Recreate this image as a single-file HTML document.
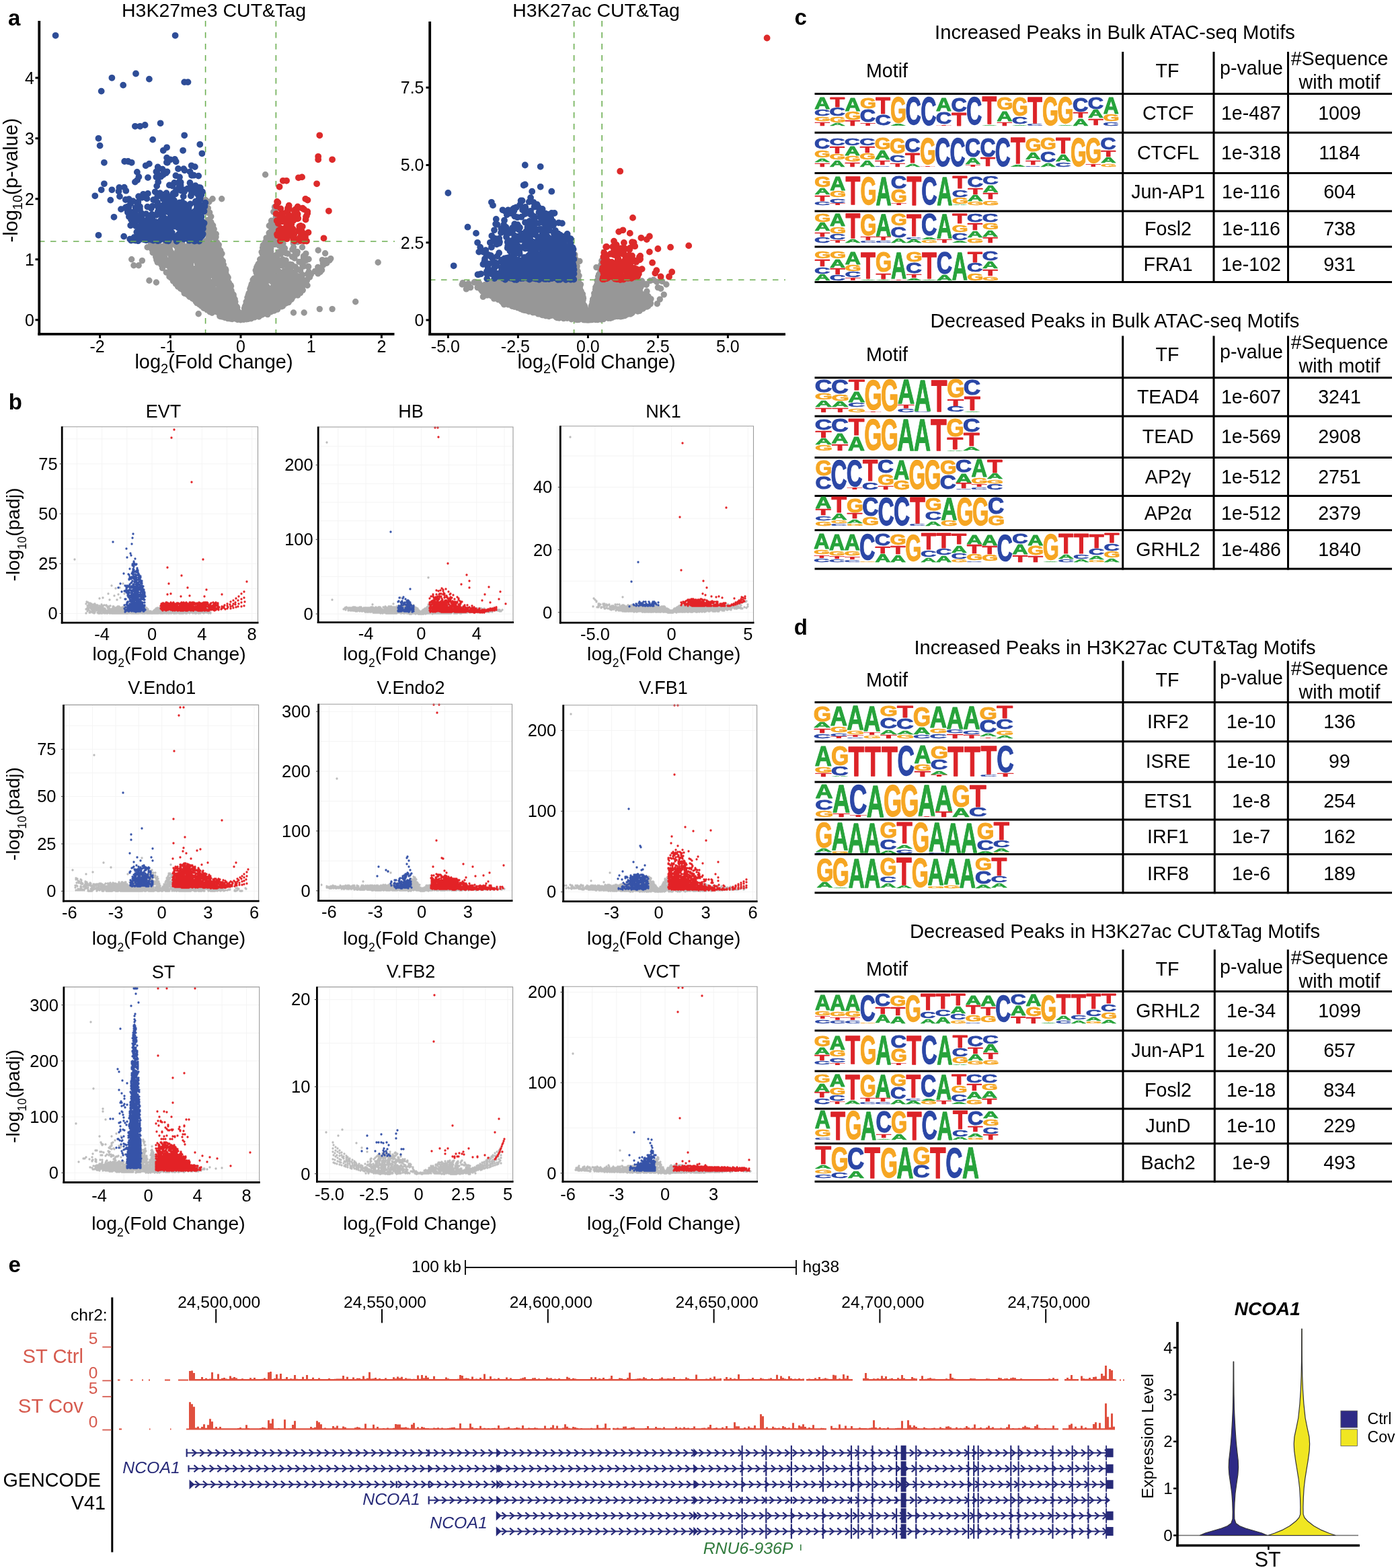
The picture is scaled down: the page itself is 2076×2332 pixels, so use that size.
<!DOCTYPE html>
<html><head><meta charset="utf-8"><title>Figure</title>
<style>html,body{margin:0;padding:0;background:#fff}svg{display:block}text{font-family:"Liberation Sans", Arial, sans-serif}</style>
</head><body>
<svg width="2076" height="2332" viewBox="0 0 2076 2332">
<rect width="2076" height="2332" fill="#fff"/>
<text x="318" y="25" font-size="28.5" text-anchor="middle">H3K27me3 CUT&amp;Tag</text>
<line x1="305.6" y1="31" x2="305.6" y2="497" stroke="#6cae52" stroke-width="1.6" stroke-dasharray="8.5 8.5"/>
<line x1="410.4" y1="31" x2="410.4" y2="497" stroke="#6cae52" stroke-width="1.6" stroke-dasharray="8.5 8.5"/>
<path d="M270.1 391.2h0m57.9 55.6h0m64.7 -27.9h0m-119.7 4.8h0m86.6 50.3h0m27.4 -21.5h0m-106.8 -50.9h0m63.1 68.9h0m-16.4 -41.5h0m82.1 -43.2h0m-44.3 76h0m-64.3 -60.3h0m99.7 -55h0m-3.4 41.4h0m-42.6 85.5h0m95.8 -78.3h0m-125 23.6h0m-45.8 -48.7h0m40.8 92.6h0m-23.4 -100.9h0m34.7 92.6h0m154.1 -67h0m-141.7 38.2h0m-47.1 6.8h0m40.3 -19.7h0m-100.2 -26.8h0m35.1 24.2h0m45.1 30.1h0m76.2 -56.9h0m-85.5 4.8h0m70.4 41.1h0m-29.5 43.7h0m5.3 -3.5h0m-58.9 -80.6h0m-9 33.9h0m-2.3 -46.7h0m89.6 95.1h0m63.1 -30.3h0m-131.1 -74.9h0m-24 56.1h0m127.9 -35.4h0m-8.3 -30.9h0m-107.1 6.1h0m58.7 94.6h0m78.7 -21.7h0m-142.6 3.9h0m36.8 -43h0m4.2 -8.9h0m-20 0.8h0m-16.8 26.3h0m15.5 0.3h0m100.2 -55.5h0m-151.7 54.6h0m-4.3 -43h0m197.5 38.6h0m-141.8 49h0m94.8 -5.7h0m-138.9 -79.1h0m67.2 79.4h0m45 -35.9h0m-14.2 54.3h0m34.7 -16.7h0m-110.5 -87.1h0m6.1 -1.2h0m98.6 68.1h0m53.3 -10.3h0m-50.3 22.7h0m-87.6 -26.4h0m108.8 -54.7h0m-138.8 71h0m136.7 19.1h0m-24.9 -9.6h0m-96.4 -22.4h0m101 -10.5h0m6 49.9h0m73.8 -57.3h0m-76.2 -48.4h0m-65.6 112.3h0m40.5 -7.7h0m-60.7 -67.8h0m-28 42.2h0m102 14.1h0m-26.9 24.7h0m3.1 -1.5h0m-45.8 -81.7h0m12.2 -18.3h0m-12 80.4h0m50.8 5.4h0m-56.8 0.2h0m26.4 -39.1h0m64.2 -8.8h0m31.9 -10.2h0m-153.4 -5.4h0m58 69.7h0m-58.7 -32.3h0m132.1 -45.1h0m-100.8 40.1h0m48.3 45.1h0m-88.3 -104.8h0m99.6 96.5h0m-86 -91.1h0m118.6 85.1h0m10.7 -26.9h0m-139.7 -29.3h0m-3.1 26.2h0m65 40.6h0m-36.8 -77.9h0m69.1 57.2h0m-42.4 3.6h0m73.2 -26.4h0m32.3 23.6h0m-130.4 -38.1h0m118.8 -33.8h0m-86.7 92.3h0m57.1 -29.5h0m69.1 -16h0m-164.2 -16.8h0m105.7 -23.3h0m-101.9 68.6h0m40 14.6h0m-28.6 -36.8h0m-4.4 -21.1h0m113.1 38.5h0m2.1 -82h0m-10.8 16.6h0m-135.7 15.2h0m124.2 2.1h0m-129.6 -1.2h0m93.1 72.5h0m-23.1 -60.9h0m44 37.9h0m-80.4 -27h0m90 -18.1h0m-129.9 -14h0m68.1 -13.5h0m25.9 98.7h0m3.4 1.3h0m102.5 -63.6h0m-65.7 54h0m14.2 -158.8h0m-36.4 155.7h0m-100.1 -39.5h0m170.5 -22.7h0m-54.8 -12.5h0m-41.5 53.6h0m23.8 25.7h0m-32 -9.9h0m46.8 7.4h0m6.4 -66.8h0m-17.1 58.4h0m105.6 -65.4h0m-183.8 60.2h0m17.9 -88.3h0m20.7 100.8h0m12.1 -25.9h0m34 16.8h0m42 -43.7h0m-55.4 38.3h0m-24.2 21.5h0m-35.4 -155.2h0m112.6 55.4h0m-28.8 83h0m-68.9 -57.4h0m107.1 33.4h0m-138.3 -10.4h0m67.7 52.4h0m-47.6 -84.1h0m-21.8 49h0m15.2 -77.1h0m3.1 94.4h0m-6.2 -75.5h0m18.7 -11.2h0m74.2 67.2h0m-17.2 -13.8h0m15.8 -32.5h0m-96.5 47.2h0m34.1 -1.1h0m-38.9 -1.5h0m76.8 33.8h0m-0.9 -2.2h0m7.5 -32.2h0m-93.8 -0.4h0m75.9 43.4h0m76.8 -104.7h0m-168.6 10.9h0m123.6 19h0m39.2 11.4h0m-129.1 -25.6h0m47.5 83.6h0m-27.5 -26.6h0m84.7 -100.2h0m-72 97.8h0m-40.7 -25.1h0m81.3 49.3h0m12 -65.6h0m-26.8 74.6h0m-55.4 -72.4h0m62.5 51.5h0m74.2 -22.2h0m-144.9 15.7h0m130.9 -42.3h0m-10.5 18.2h0m-138 -27.1h0m142.7 54.6h0m-78.7 14.8h0m-87.8 -91.9h0m77.9 56.1h0m120.2 -46.8h0m-67.2 29.6h0m33.5 7.5h0m-70.6 39.8h0m-26.1 -22.4h0m-44.2 -9.6h0m145.5 -7.1h0m-29.3 -11.7h0m-40.3 48.7h0m-4.7 -6.7h0m39.1 -53h0m21.9 43.5h0m-110.1 -20.4h0m82.7 33.8h0m-51.9 -57.1h0m-82 -29h0m121.8 105.6h0m-60.2 -44.1h0m76.1 9.4h0m-114.9 -15.9h0m54.2 -12h0m-29.8 37.8h0m-0.8 -19.8h0m51.1 44.9h0m-61.9 -38.6h0m8.3 -73.2h0m28.2 46.2h0m27.2 30.3h0m-51.7 2.3h0m105.3 2.5h0m-4.1 17.8h0m25.1 -22.3h0m26.9 -20.1h0m-186.4 -30.7h0m33.9 40.5h0m3.6 9.5h0m27 -4.6h0m38.5 40.4h0m29.2 -97.6h0m-83.7 4.5h0m38.9 80.3h0m-100.6 -89.7h0m118.2 87.5h0m-65.8 -47.9h0m101.8 -21.1h0m-123.5 35.1h0m96.2 27.5h0m-104.2 -25.6h0m162.3 -33.8h0m-99.7 19.5h0m60 -28.5h0m-76.8 66.2h0m18.7 -22.2h0m-35.2 13h0m28 -27.4h0m-66.5 1.3h0m41.9 25.3h0m-72.7 -61.1h0m31.7 -2.8h0m-10.6 29.1h0m186.9 15.1h0m-158.2 -15.3h0m32.3 -83.8h0m-21.4 62.7h0m-27.8 41.5h0m72.7 23.6h0m-107.1 -82.7h0m97.2 39.1h0m162.8 -19.4h0m-125.8 68.7h0m30.7 -21.1h0m-2.2 -56.7h0m-66.1 92.4h0m48.9 -2h0m-49.1 -34.9h0m19.9 13.5h0m-10.8 -7h0m47 -41.2h0m-47 6.7h0m-53.4 11.7h0m-19 -38.9h0m133.4 82.2h0m-73.3 -29.6h0m83.4 -21.7h0m-178.7 -45.9h0m206.2 71.3h0m-102.3 2.7h0m19.8 31.3h0m-60.6 -37.4h0m-15.4 -60.7h0m0.5 55.7h0m107.9 28.4h0m-123.9 -38.6h0m142.4 -63.5h0m-106 55.7h0m78.1 36.4h0m-46.5 -46h0m-63.3 -11.2h0m47.4 42.8h0m6.9 -8h0m14.6 10.2h0m-72.7 -30.4h0m158.3 -32.4h0m-13.5 61.5h0m-44.2 37.2h0m36.2 -0.5h0m53.4 -86.6h0m-60.3 -0.3h0m-36.8 84.1h0m-52 -53.5h0m74.3 54.9h0m14.1 -28h0m2.2 -39.6h0m-147.2 -34h0m85 106.5h0m-1.4 -6h0m35.5 -1.3h0m-13.4 -7.8h0m49.4 -66.5h0m-92.4 23.6h0m-5.4 45.1h0m39.6 6.4h0m-46.4 -87h0m25 58.5h0m79.8 -37.1h0m-120.5 40.5h0m85.6 24.6h0m63.8 -15.8h0m-40.6 -53.5h0m-87.4 50.7h0m39.3 -5.4h0m18.7 32.6h0m9.2 -24.1h0m-65 -3.5h0m97.5 14h0m-24 1.3h0m-46.9 -56.7h0m24 69.1h0m12 0.9h0m-111.6 -97.8h0m95.6 89.4h0m4.6 4.5h0m38.1 -80.5h0m-138.1 -29.5h0m68.4 93.5h0m10.9 -38.8h0m7.5 22.3h0m11.3 27.7h0m-61.5 -60.9h0m85.3 46.1h0m-88.2 -12.5h0m63.4 22.9h0m95.2 -49.1h0m-11.5 18.8h0m-105.6 0.5h0m93.5 -4.1h0m-53.3 25h0m38.1 -138.6h0m-13.8 133.1h0m-70.5 -15.3h0m55.1 24.5h0m30.6 -3.8h0m-134.6 -40h0m45.9 -24.6h0m82 -28.5h0m-100.7 11.2h0m93.3 70.6h0m-95 -75.3h0m31.3 29h0m39.8 61.7h0m-17.4 11.2h0m34 -60.8h0m-38.9 43.1h0m15.2 15.9h0m-55.4 -13.4h0m21.1 -41.6h0m81.6 38.5h0m-118 -33.2h0m44.3 22.7h0m-1.7 -10.6h0m112 -1.6h0m-168.3 10.7h0m9.4 2h0m19.8 -64.8h0m-11.5 64.2h0m21.8 -83h0m-49.3 6.8h0m-38.5 7.6h0m139.9 78h0m-105.4 -22.4h0m10.1 -45.9h0m85.3 95.2h0m-88.5 -102.1h0m24.2 54.1h0m31 -5h0m23.8 42.7h0m48.6 -23.9h0m-34.9 34.4h0m67.9 -35.3h0m-40 -78.6h0m-67.2 54.6h0m-88.4 -23.1h0m155.8 12.2h0m1.3 28h0m-133.3 -19.2h0m76 5.1h0m-31.7 -31.4h0m68.6 57.3h0m7.4 -46.3h0m-67.6 68h0m120.9 -103.5h0m-108.9 23.4h0m119.4 17h0m-115.3 28.2h0m-23.7 25.9h0m80.8 12.2h0m-60.7 -46.5h0m12 17.5h0m26.4 34.3h0m14.3 -54.1h0m35.6 24.9h0m-184.5 -70.6h0m169.7 32.7h0m-76.2 -19h0m69.8 28.4h0m39.7 -34.2h0m-129.7 -0.1h0m84 5.1h0m-11.2 66.8h0m35.3 -65.8h0m-33.7 43.5h0m33.8 19.6h0m-113.4 -23.3h0m43.3 -3.6h0m-80.9 -23.1h0m130.2 -28.8h0m9.8 87.6h0m-89.3 -28.4h0m30.2 32.5h0m-31 -0.2h0m21.5 -48.9h0m44.4 45.5h0m41.8 -65.3h0m-168.8 10.5h0m87.7 32.6h0m-15.1 -21.5h0m-44 -17.7h0m28.1 -57.4h0m75.8 105h0m-33.1 10.6h0m-4.6 -15.3h0m3.6 27h0m-42.5 -46.6h0m72 12.5h0m-138.5 -47.7h0m172.3 73.1h0m-123.3 -77.8h0m24.6 -14.4h0m164 33.6h0m-41 3.9h0m-8 11h0m-53.9 31.7h0m-27.7 -7.2h0m86.7 3.3h0m-151.4 -14.2h0m14.6 17.2h0m78.9 -7.4h0m20.2 -31.8h0m-114.3 33.4h0m1.4 -43.6h0m20.3 48.8h0m3.5 4h0m-62.4 -67.5h0m81.3 -1.7h0m42.5 70.7h0m13.1 -54.5h0m-20.5 73.4h0m-7.7 2.1h0m2.1 -0.1h0m-77.4 -38.8h0m11.4 -22.7h0m79.6 40.6h0m-59.9 -142.1h0m75 133.2h0m-147 -53.8h0m56.1 47.1h0m33 2.7h0m-100.4 -68.3h0m96.8 18.4h0m-20.3 44.8h0m110.2 -46.6h0m-155.2 30.4h0m126.8 43.6h0m29.8 -35.3h0m-143 -44.7h0m38.7 77h0m32.4 5.8h0m-69.7 -44.2h0m7.5 -11.3h0m74.3 54.6h0m-79.3 -39.9h0m27.4 11.4h0m-4.7 -10.1h0m-3.4 -41.7h0m-23.9 3.7h0m92.2 88.4h0m62.5 -87.9h0m-71.1 80.2h0m-46.4 -57h0m-26.5 13.6h0m0.2 -5.3h0m60.7 25.3h0m-39 -31.5h0m-28.5 -3.6h0m116.7 47.8h0m-77.4 -116.4h0m-30.4 55.6h0m64.9 50.8h0m-56.6 -62.9h0m-1.1 60.5h0m4.2 5.9h0m26.9 -0.6h0m58.9 -1h0m-1.9 14.7h0m-12.9 3.9h0m19.2 3.5h0m-129.9 -59.1h0m117.5 30.5h0m-62.8 -87.8h0m19.2 94.3h0m65 13h0m-110 -44.6h0m110 -23.5h0m-17.9 65.9h0m15.5 -39.7h0m-113 -17.5h0m58.4 29.5h0m56.5 2.4h0m40.8 -11.9h0m-63 47.8h0m27.1 -100.4h0m-76.3 78.8h0m1 8.9h0m-82.8 -81.1h0m85.9 26.8h0m-26.9 -12.2h0m-80.2 -23.2h0m45.5 4.2h0m179.3 56.2h0m-172.2 0.8h0m107.7 21.1h0m-94.3 -20.3h0m159.8 -40.3h0m-21.7 40.7h0m-70.4 31h0m105.5 -65h0m-30.9 52.8h0m-80.8 18.5h0m-121.7 -105h0m136.3 103.7h0m-46.7 -87.2h0m83 68.1h0m-71.3 -64.9h0m47.5 74.3h0m6.4 -20.1h0m31.2 23.7h0m-79.9 -21.2h0m-13.5 -56.4h0m17.5 60h0m-29.5 -78.2h0m67.4 106.3h0m-68 -12h0m89.6 0.8h0m4.4 -17.9h0m-93.5 -102.4h0m-31.3 88.6h0m42.7 32.1h0m5.8 -64.5h0m79.5 -50.5h0m-73.1 96.1h0m87.8 14.9h0m-62.3 13.9h0m-1 2.2h0m124.7 -70.2h0m-116.7 73.5h0m-39 -43.6h0m50.7 39.8h0m-66.2 -13.3h0m77.3 -37.6h0m-130.1 -32.2h0m77.9 34.7h0m-75 -20.3h0m125.7 23.5h0m-91.9 -14h0m-26.9 -3.6h0m-5.7 -10.8h0m134.4 55.2h0m-10.3 10.3h0m-141 -92h0m78.2 23.8h0m43.3 71.1h0m-54 -28.8h0m-54.1 -51.2h0m142.8 31h0m-110 13.3h0m7.2 -53.1h0m109.9 42h0m-2.3 34.2h0m-103.2 -90.7h0m-0.1 75.6h0m-59.3 -64.5h0m39.7 9h0m3.6 40.4h0m71 51.2h0m56.2 -63.1h0m-72.1 48.6h0m-58.5 -50.8h0m122.9 38.9h0m-61.9 4.9h0m-26.2 -116.2h0m-7.1 123.8h0m-10.3 -76.3h0m-42.2 -1.1h0m55.1 16.3h0m68.1 58.9h0m22.2 -98.5h0m-63.7 108.1h0m35.8 -10.7h0m-60.2 -56.9h0m-47.1 4.9h0m-33.3 -31.1h0m227 37.4h0m-146.4 30.4h0m34.4 -2.3h0m-8.6 -24.8h0m-62.6 -32.3h0m104.2 19.5h0m-100.9 -6.8h0m114.1 70.9h0m-18.8 -12.9h0m27.6 -10.9h0m-12.3 20.7h0m-20.5 -14.2h0m-66.4 -34h0m30 48.3h0m43.6 -35.9h0m-67 -13h0m99.9 -34.3h0m-90.1 15.8h0m-48.9 19h0m80.8 47.1h0m-31.3 -77.5h0m70.6 -15.9h0m-125.2 57.1h0m1.8 -16.3h0m47.8 -41.7h0m-8.4 -27.3h0m-36.3 73.5h0m17.4 -11.1h0m40.1 -30.1h0m123.5 49.3h0m-118.3 21.2h0m-10.4 -20.7h0m-21.2 -26h0m32.5 7.5h0m-79.9 -29.4h0m130.7 75h0m-78 -79.9h0m132.5 5.9h0m-177.3 -9.5h0m76.1 44.8h0m-26.3 -94.7h0m54 137.3h0m-107.3 -38.8h0m111.6 38.9h0m-24 20.6h0m-46.1 -47.3h0m3.4 -58.2h0m21 10.3h0m1.6 3.5h0m-56.1 29h0m18.9 -5.1h0m59.2 42.8h0m-19.5 3.4h0m79.3 -119.7h0m-105.8 122h0m25.1 -20h0m-40.8 9.1h0m7.7 -18.6h0m163.5 -18h0m-46 26.9h0m-132.3 -19.5h0m82.8 50.3h0m-20.3 -0.4h0m63.7 -108.9h0m-100.7 65.1h0m23.1 27.3h0m28.6 22.5h0m35.6 -21.7h0m-10.7 -45.8h0m-61.7 12.6h0m73 -22.7h0m-98.1 -2.4h0m88.4 4.7h0m-73.5 -38.5h0m-9.8 47.7h0m-1.5 45.6h0m-8.4 -16.5h0m24.6 -90.3h0m110.2 108.1h0m-120.7 -50.4h0m10.4 43.6h0m30.1 28.7h0m29.9 -43.1h0m62.4 -62.5h0m-51.8 29.9h0m-26.7 78.2h0m-48.6 -166.2h0m101.7 110.2h0m51.3 -11.7h0m-73.1 16.5h0m-24.3 40.3h0m-72.4 -57h0m95.8 58h0m27.9 -40h0m-97.9 16.5h0m-55.2 -57.7h0m109.3 69.2h0m66 -21.1h0m-83.3 42.2h0m-28.7 -67.9h0m36.7 64.8h0m-40.6 -77.3h0m75.8 5.3h0m-88.4 27.3h0m79.1 -52.4h0m-6.9 33.6h0m-38.9 43h0m70.9 -29.5h0m-54.3 52.7h0m-78.8 -87.4h0m1 42.5h0m-5.2 -20h0m30 43.7h0m-40.7 -93.8h0m67.7 66.9h0m-24.5 -63.6h0m45.1 102.6h0m0.9 7.2h0m-62.8 -44.3h0m102 -15.5h0m-20.4 40.2h0m29.2 -44.8h0m-82.4 30.4h0m93.4 -63.8h0m-99.4 10.3h0m69.8 73.9h0m-143.4 -92.4h0m87 11.6h0m-34.2 68.2h0m92.5 -50.3h0m-111.3 25.1h0m88.1 37.2h0m-93.2 -42.7h0m17.4 28.9h0m49.9 28h0m-12.8 -58.2h0m106.2 6.4h0m-44.3 -35.1h0m-98.5 37.4h0m-26.9 -1h0m71.3 9.1h0m49 -3.8h0m-56.6 -55.8h0m93.7 61.8h0m-144.6 -16.4h0m6.5 -23.4h0m145.2 56.6h0m-31.8 -64.5h0m-91.9 -2.7h0m23.1 82.3h0m61.4 -25h0m-5.9 -8.1h0m53.3 -36.1h0m5.3 0.8h0m-108.1 40h0m68.2 -72.2h0m-67.8 45.3h0m15 61.7h0m51.5 -91.7h0m-43.6 84.9h0m23.1 -50.7h0m62.4 1h0m-150.5 24.4h0m-52.9 -51.9h0m189 -11.2h0m-159.6 -5.2h0m68 47.4h0m7.9 15.9h0m56.4 -23.2h0m3.3 23.2h0m38.6 -25.2h0m-150.2 -44.3h0m-30.1 24.9h0m28.5 -6.2h0m38.8 24.8h0m-62.5 -29.5h0m103.3 70.7h0m19.5 -1.2h0m4.9 15.2h0m-119.4 -39.7h0m117.6 5.6h0m17.9 14.5h0m15.4 -25h0m-55.2 35h0m-31.6 6h0m42 -28.4h0m-71.9 -65.3h0m55.8 105.7h0m-2.1 -5h0m18.4 -7.8h0m1.1 -7.5h0m-31.2 7.9h0m17.7 14.9h0m-52.1 -41.3h0m-7 -66.8h0m-41.2 45.6h0m40.9 20.7h0m-7.9 -56h0m80.3 49.9h0m24.9 26.4h0m-53.9 15.6h0m-77.9 -42.2h0m158.2 7.7h0m-84 36.4h0m-41.8 -24.2h0m72.1 -19.6h0m-34.9 47h0m-26.9 -48.4h0m33.7 41.7h0m-46.1 -59.5h0m95 -9h0m-29.2 59.3h0m-95.1 -50.1h0m2.3 2.7h0m85.7 55.9h0m-107.1 -74h0m92.2 57.4h0m58.1 -53.8h0m-137.5 16.1h0m68.1 22.9h0m-24.8 -63.9h0m-7.8 79.1h0m42.4 6.4h0m-68.8 -65.4h0m-29.4 -15.4h0m173.6 69.2h0m-139.8 -48.2h0m73.8 73h0m61.1 -42.4h0m-33.6 31.6h0m27.5 -43.8h0m-76.2 33.8h0m-91.1 -59.8h0m59.5 17.9h0m1.8 6.9h0m53.2 60.3h0m-101.9 -85.3h0m131.5 23.4h0m-13.2 54.3h0m-18.2 6.9h0m-32.7 -103.9h0m78.5 -0.5h0m-5.7 18.4h0m-65.4 8.8h0m41.5 39.1h0m-49.5 -50.2h0m-6.2 47.1h0m5.7 -17.4h0m-25.1 20.7h0m151.6 -6.2h0m-94.1 41h0m-8.9 -9.6h0m-85.8 -101.3h0m113.5 96.8h0m-129.2 -63.7h0m54.7 3.4h0m-15.9 20.4h0m30.2 -62.3h0m-42.7 4.5h0m69.3 53.9h0m-21 -72.1h0m30.1 116.5h0m66.6 -24.6h0m-122.8 -44.2h0m19.2 34.3h0m31.6 15.8h0m62.1 -35.7h0m-46.8 72.8h0m60.9 -21.2h0m-35.2 -52h0m-14.1 42.2h0m-62 -8h0m-0.9 -71.8h0m10.5 66.6h0m64.1 13.8h0m-67.5 -44.2h0m16.4 39.8h0m4.3 1h0m42.5 -21.1h0m4.2 -20.8h0m12.8 41.7h0m-57.6 -25h0m-20.1 -16.1h0m45.3 65.1h0m-89.4 -100h0m106.6 73.9h0m-106.2 -57.6h0m103.7 46.3h0m-37.6 -7.5h0m34.2 45.7h0m-56.8 -69.5h0m107.9 -6.6h0m65.7 -3h0m-97.4 51.3h0m-69.8 -76.8h0m-22.6 66.9h0m51 34.5h0m34 -27.3h0m-141.1 -43.2h0m65.7 20.2h0m-8.3 -14.7h0m78.1 71.9h0m58.3 -59.5h0m-27.5 -88.1h0m-152 58.7h0m175 64.1h0m-64.5 0.5h0m90.4 -41.4h0m-95.9 69.7h0m-72.3 -109.1h0m35.6 88.1h0m-24.5 -77.9h0m-45.3 9.4h0m169.6 50.7h0m-22.5 -27.1h0m15 21.6h0m7.8 -14.1h0m-73.3 51.2h0m-15.7 -25.7h0m-46.7 5h0m101.1 -34.2h0m11.5 -80.2h0m-18.8 68.5h0m-4 44.4h0m74.1 -67.6h0m-48.5 65.3h0m49.7 -56.9h0m-94.1 88.1h0m25.7 -9h0m-13.8 -22.7h0m1.5 14h0m-92.4 -60.1h0m6.9 50.1h0m84 18.1h0m-4.1 8.5h0m-46.7 -110.1h0m-59 56.2h0m105.9 20.4h0m-44 24.6h0m82.5 -25.5h0m13.4 -47.5h0m-83.1 80.3h0m33.9 -10.7h0m-6 12h0m-69.2 -53.5h0m84.7 28.8h0m42 -41.3h0m-161.5 16.8h0m53.3 -84.1h0m-75.9 36.4h0m57.8 -7.2h0m-26.4 27h0m23.1 28.8h0m89.5 6.9h0m-77.2 23.2h0m-24.6 -61.7h0m-1.2 29.5h0m97.3 50.1h0m-57.1 -8.4h0m7.6 -67.1h0m144 10.5h0m-57.8 1.5h0m-51.9 65.4h0m-43.4 -121h0m-40.4 21.7h0m36.3 0.5h0m32.5 89.7h0m49.7 -34.1h0m-107.3 14.7h0m55.2 24.8h0m-4.3 -28.3h0m64.2 -4.3h0m-76.7 25.6h0m118.5 -30.1h0m-62.8 13.8h0m-145.6 -56.9h0m85.1 14.7h0m73.4 43.1h0m-164 -59.7h0m202.5 27.2h0m-39 -48.5h0m-34.8 105.9h0m-20.1 -27.6h0m32 18h0m-10.5 8.4h0m-103.1 -63.6h0m22.5 -26.2h0m124.2 45.2h0m-54.9 32.2h0m5.9 16.1h0m-33.6 -78.7h0m66.5 -26.3h0m-9.1 72.1h0m47.7 5.2h0m-148.7 -30.3h0m72 54.7h0m25.2 -8.4h0m-120.6 -75.9h0m70.2 77.9h0m10.8 8.2h0m-91.8 -110.4h0m136.8 98.4h0m6.7 -73.9h0m-9.6 78.2h0m-37.7 -19.4h0m65.4 -100.9h0m1 3.5h0m-54.8 117h0m-47.2 -68.5h0m90.2 42.4h0m28.7 10.5h0m-69.3 23.6h0m-0.5 -2.3h0m-21.6 -47.8h0m19.8 43.5h0m24.8 -4.7h0m21.1 -115.1h0m-59.1 101.9h0m-65.8 -49.7h0m46.7 15h0m-5.9 -21.4h0m-63.8 9.2h0m61.7 17h0m-60.6 -6.7h0m52.4 -37.8h0m28.5 87.6h0m56.4 -98.1h0m-45.7 78.9h0m-0.9 28.5h0m11.1 -3.1h0m-23.3 -10.9h0m23.2 16.4h0m47.2 -104.9h0m-67 52.5h0m-45.8 -4.5h0m92 38.7h0m-73.9 -16.3h0m8.1 -14.2h0m-19.1 -27.6h0m6.1 53.5h0m34.6 -10.7h0m-11 -29.6h0m64 8.9h0m-85.1 36.4h0m110.4 -51.9h0m-90.6 48.9h0m70.2 -81.8h0m-134.8 -9h0m159.7 91.4h0m-86.4 -13.7h0m18.5 21.4h0m-39.9 -88.4h0m-32.3 36.3h0m32.5 -59h0m-18.3 50.4h0m41.5 61.3h0m28.4 10.3h0m62 -38.7h0m-69.6 40.8h0m-74 -56.9h0m39.3 15.7h0m90.3 25.4h0m-138.4 -23.3h0m9.1 2.4h0m110.1 -47h0m-113.5 28.5h0m-19.8 -34.5h0m65.8 33.9h0m56.5 -15.7h0m109.4 -18.9h0m-169.6 -18.8h0m-57.5 37.9h0m45.7 -86.9h0m2.3 55h0m93.3 -22.6h0m-91 93.5h0m98.3 -2.8h0m-25.9 -40.9h0m-109.7 38.5h0m99 -8.5h0m38.6 -37.1h0m-67.2 70.7h0m71.1 -29.8h0m-72.3 25.5h0m41.5 -12.6h0m-6.4 1.7h0m-57.8 -15.7h0m41.7 21.5h0m79.6 -41.8h0m-117 -7.5h0m37.9 48.2h0m-51 -83.4h0m88.6 12.6h0m-26.3 52h0m-90.8 -29.1h0m-53.5 -32.9h0m57.8 49.1h0m93.2 32.1h0m-76.2 -29.2h0m40.4 31h0m4.5 16.2h0m41.4 -77.9h0m29.5 24.3h0m-29 45.3h0m0.6 1h0m-41.3 7.7h0m-74.7 -81.4h0m13.1 10.2h0m-10.9 2.1h0m65.6 62.2h0m21.8 -25.1h0m29.1 -40.3h0m-153.2 -4.9h0m35.6 34.5h0m161.3 -5h0m-118.6 -52.4h0m37.1 101.9h0m-9.3 -15.5h0m22.3 -15.4h0m13.4 15h0m-140.8 -90.8h0m185 75.7h0m-105.5 -22.5h0m84.8 23.2h0m-87.5 -47.8h0m-8.5 10.4h0m82.4 -4.9h0m-90.1 -0.3h0m39.1 52.6h0m-83.5 -62.5h0m90.1 80.4h0m37.2 -94.9h0m-45.9 75h0m-38.4 -8.3h0m-18.6 -25.4h0m43.4 -15.6h0m-30.2 -13.6h0m53.9 80.3h0m27.9 -69.5h0m-105.1 30.2h0m37 -98.4h0m69.9 107.5h0m-113.1 -66.4h0m25.3 36.3h0m-16.3 -7.3h0m83.2 64.3h0m-97.2 -79.2h0m41.4 -41.2h0m-46.4 71.5h0m-18.9 -17h0m78.5 42.1h0m67.3 11.3h0m-129.2 -50.7h0m104.6 68h0m16.3 -38.8h0m-49.4 -44.3h0m25.1 78.2h0m-10.6 -32.1h0m47.5 -13.5h0m-81.1 -65.9h0m25.5 54.9h0m-4.7 30.6h0m41.8 -0.7h0m-13.6 33.1h0m90 -103h0m-85.6 97.1h0m52.7 -28.4h0m-8.6 25.5h0m-134.6 -43.8h0m178.1 -34.5h0m-97.6 90.1h0m-20.7 -58.1h0m52.7 35.1h0m-104.7 -20.3h0m155.8 7.1h0m-136.2 -61h0m63.2 94.3h0m-31.2 -16.6h0m119 -58.3h0m-138.4 34.7h0m92 -49.1h0m-51.6 85.6h0m59.7 -9.6h0m-10.9 -24.7h0m-64.5 32.4h0m20.4 9.3h0m5.8 -15.7h0m-31.5 -60.8h0m-72.9 -4.8h0m83.2 33h0m27.6 47.1h0m18 -7.4h0m-80.5 -89h0m100.8 78.2h0m-71.7 -16h0m49.6 6.5h0m-74.7 -79.1h0m74.9 68h0m-116.5 -27.8h0m43.2 -32.2h0m89.8 -46.4h0m52.8 89.1h0m-44.2 36.3h0m-143.9 -34.3h0m53.7 -58.7h0m60.3 57.2h0m64.4 17.8h0m-115.6 19.1h0m36.8 16.5h0m-65.7 -75.6h0m-10.3 39h0m-60.5 -65.6h0m94.2 56.4h0m-20.8 -30.4h0m138 -35.3h0m-0.4 50.9h0m-65.2 4.5h0m30.2 -21.3h0m-145.9 -9.6h0m78.9 74.2h0m7.7 4.7h0m-22.8 -99h0m-41.7 29h0m94.6 70h0m45.3 -18.4h0m-112.8 -74.1h0m-27.2 21.5h0m117.7 10.8h0m-10.2 6.5h0m-110.4 27.7h0m-12.8 -11h0m156.1 6.5h0m-49.1 28h0m-24.8 -4.2h0m22.2 -21.3h0m-23.2 23.6h0m60.8 -111.4h0m-104.2 60.2h0m85.1 -18.4h0m-81.9 -76.7h0m97.8 96.5h0m-42.2 64.9h0m33.2 -33.6h0m-7.3 11.2h0m-45.7 12.4h0m32.5 -14.7h0m14.6 -18.2h0m-21.6 5.1h0m-35 7.2h0m-66.9 -83.1h0m67.2 40h0m80.9 -36.4h0m-60.5 105.7h0m-115 -99.4h0m77.9 69.6h0m74.3 7.5h0m24.4 1.9h0m-185.2 -65.7h0m129.3 81.8h0m29.6 -79.5h0m-91.3 46.9h0m-2.8 18.8h0m-11.5 -91.9h0m-18.4 19.4h0m108 75.1h0m-57.4 -61.8h0m19.9 31.8h0m-62.5 -30.1h0m64.8 55.5h0m2.8 4h0m74.3 1.4h0m-65 13.8h0m-46.3 -59.3h0m50.8 65.4h0m-2.6 -4h0m57.6 -74.2h0m-16.3 39.9h0m-87.1 21.8h0m0.4 -37.7h0m39.5 26.5h0m-38 -101.8h0m-38.2 24h0m38.5 86.6h0m44 19.2h0m-28.9 -94.1h0m-58.4 39h0m113.1 45.6h0m-52 -84.9h0m11.9 70.1h0m30.1 21.4h0m-100.5 -56.8h0m66.6 42.2h0m-46.6 -57.7h0m60.9 74h0m84.3 -61.7h0m-82.1 58.4h0m-8.2 1h0m-34 -70h0m95.3 -18.1h0m-130.3 27.6h0m107.6 37.2h0m-6.8 -24.5h0m3.5 29h0m-14.2 6.8h0m21 -49h0m-111.4 21.4h0m31.9 22.5h0m61.1 -12.3h0m-106.5 -32.7h0m186.8 14.2h0m-163 -20h0m-26.7 -13.5h0m-22.7 -4.3h0m94.7 72.6h0m2 -1.6h0m-23.2 1.7h0m60.2 5.6h0m-101.8 -75.1h0m47.2 68.1h0m79.7 -63.9h0m20.5 13.5h0m-43.8 58.5h0m-54.3 -4.1h0m-71.1 -101.5h0m83.8 17.8h0m-32.5 74.5h0m-44 -72.9h0m28.4 -15h0m44.1 71.7h0m26.4 24.1h0m-17.5 -27.7h0m-84.6 -44.7h0m40.3 32h0m74.3 42.2h0m-53.1 -36h0m-58.3 -34.3h0m60.6 -60h0m-86.3 37.3h0m203.3 24.7h0m-30.6 54.7h0m-159.2 -60.7h0m83.1 8.4h0m-44.2 14.2h0m-12.5 -18.7h0m6 27.4h0m99.4 11.4h0m-8.9 31.7h0m-8 12.8h0m-77.6 -63.8h0m71.7 58.4h0m92 -94.5h0m-87.3 95h0m25.6 -17.7h0m47.6 -42.4h0m-91 11.2h0m32.8 45.9h0m-32.6 -18.2h0m76 -34.5h0m-165.9 -53.7h0m79.3 106.2h0m92.6 -39.8h0m-15.1 11.7h0m-17.8 22.4h0m9.7 -29.9h0m-10.4 22.7h0m-101.3 -78.5h0m-33.6 30.1h0m159.1 -65.9h0m-19.8 44.1h0m-118.5 43.1h0m11.9 13.6h0m52.3 -38h0m-53.5 35.3h0m-28 -29.9h0m180.4 27.8h0m-179.1 -75.3h0m40.2 88.3h0m32.4 -9.5h0m77.4 -24.6h0m-20.8 7.9h0m-90.4 -19h0m14.1 7.7h0m177.3 -19.4h0m-227.6 10.4h0m77 19.1h0m69.8 23.2h0m-75.2 -17.2h0m-94.9 -66.3h0m52.5 18.3h0m46.5 89.3h0m-48.6 -27.8h0m20.9 9h0m-38.8 -41.7h0m99.9 56.4h0m0.3 2.3h0m9.3 -11.6h0m-55.5 -66.3h0m70.6 -2.2h0m67 -0.6h0m-50.2 -22.1h0m-9.7 98.6h0m-10.6 -20.5h0m-98 -30.1h0m70.3 58.7h0m-59.3 -65.8h0m106.1 -54.8h0m-55.8 114.7h0m60.1 -29.4h0m-37 -10.1h0m31.5 -24.8h0m-62.3 40.9h0m-65.6 -5h0m96.2 7.7h0m53 -41h0m-30.6 -48.8h0m-87.6 2.5h0m96.9 105.4h0m-143.4 -79.3h0m121.1 10.2h0m42.8 50.7h0m-138.2 -69.7h0m93.7 73.4h0m17.6 -29.9h0m3.2 -78.9h0m76 48.5h0m-217.6 9.6h0m132.8 -1h0m-15.3 61.5h0m-82.4 -68.7h0m14.4 50.7h0m112.8 5.3h0m-92.3 22.5h0m86.9 -10.9h0m-15.9 -81.5h0m-110 -3.1h0m38.1 18.2h0m-35.9 -27.7h0m122.6 92.9h0m-177.6 -60.6h0m41.9 45.9h0m7.2 1h0m0.3 -0.1h0m38.3 6.6h0m-42.8 -27.5h0m188 -22.3h0m-218.6 -20.4h0m102.8 97.4h0m14.9 -44.8h0m1.2 11.1h0m-138.9 -50.6h0m120.8 81.7h0m24.9 -17.4h0m-46.5 13.7h0m-42.8 -88.1h0m118 -47.9h0m-120.3 87h0m83.2 15.6h0m-83.9 8.7h0m103 -44.5h0m-60.6 63.4h0m15.5 -25.7h0m-105 -58.7h0m46.8 43.9h0m8.2 -48.8h0m119.4 35.3h0m-75.2 51.4h0m-72.1 -34.5h0m113.5 -19.8h0m17.5 6.6h0m-71.6 25.1h0m96.5 -67.8h0m-24.2 10.5h0m-92 -45.2h0m25.9 76h0m45.6 4.5h0m-89.9 -37.8h0m35 6.5h0m23.7 59.1h0m11.2 32.5h0m-11.4 -13.4h0m36.9 -26h0m-17.4 20.3h0m-60.7 -23.4h0m24.7 -8.6h0m-45.7 -11.4h0m-47.9 -28.4h0m158.8 -30.6h0m-30.5 116.6h0m23.7 -19.2h0m31.9 -27.9h0m-189.5 -41.3h0m74.4 -66.9h0m4.4 93.4h0m69.4 27.8h0m-106.4 -47h0m59.7 14.7h0m-41.5 -42.9h0m113.1 56.7h0m-70 18.1h0m-62.6 -4.6h0m40.4 15.7h0m83.5 -38.3h0m-71.6 -29.1h0m34.6 94.7h0m-36.3 -12.7h0m2.1 -68.6h0m3.5 46.5h0m46 18.5h0m27.3 -59.1h0m-52.5 46.1h0m40.7 22.9h0m-39 -10.1h0m-57.3 -65.3h0m34.8 74.3h0m42.1 -18.3h0m-39.2 -9.6h0m12.6 6.7h0m-17.1 14.5h0m24.7 12.8h0m-42.2 -111.4h0m106.3 33h0m-47.9 76.7h0m-37.8 -55.2h0m-29.3 -50.5h0m85.7 60.3h0m-64.9 -38.7h0m-13.4 59.1h0m64.6 -16.6h0m-128.1 -35.2h0m94.7 74.6h0m-73.9 -96.1h0m114.7 43.5h0m-51.4 -27.1h0m-35.6 16.5h0m136.6 19h0m-79.8 31.7h0m66.7 -8.1h0m-183.7 -61.9h0m19.1 24.8h0m48.3 -30.2h0m-33 -4.8h0m-29.4 -7.8h0m107.5 96.5h0m-54.7 -87.4h0m107.9 59h0m-123 -9.4h0m34.9 -65.5h0m10.7 -9.4h0m17.5 108.5h0m-68 -35.9h0m126.1 33.8h0m6.2 -4h0m-111.9 -32.7h0m-15.2 8.9h0m134.2 27.5h0m-1.5 -24.5h0m-123.9 -10.6h0m-2.6 -61.1h0m19.1 32.4h0m105.7 -61.4h0m-134.3 69.2h0m-25.1 -35.9h0m53 1.5h0m113.2 34.3h0m-77.4 17.7h0m-65.9 -2.7h0m148.3 -5.1h0m-167.7 -36.1h0m7.3 26.8h0m146.2 28.6h0m-82.1 -43.8h0m27.2 63.3h0m-10.5 19.5h0m-27.1 -69.5h0m-36.5 6.6h0m166.3 -30.2h0m-73.5 84.3h0m-66 -28h0m174 -29.3h0m-144.8 -16.2h0m-24 -5.8h0m-35.3 -15h0m112.1 60.9h0m-151.9 -64h0m164.8 70.1h0m-86.5 -12.6h0m92 -29.1h0m16.8 16.4h0m49 -5.8h0m-137.8 63.8h0m23.3 -1.4h0m15.3 -20.3h0m51.4 -4.6h0m-43.2 6h0m-106.8 -76.2h0m78.6 83.8h0m-80.4 -64.8h0m104.9 63.6h0m-138.5 -92.3h0m83.5 50.1h0m83 23.7h0m-158.8 -58.9h0m86.4 27.1h0m-0.7 22.7h0m71.3 -56.6h0m-54.2 75.6h0m-8.7 -6h0m15.8 32.6h0m-113.6 -87h0m181.8 -22.1h0m0.7 87.7h0m-99.8 11.7h0m114 -21.6h0m-103.1 2.8h0m15.4 29.6h0m-5.2 -6.1h0m50.6 -72.6h0m11.5 53.5h0m-44.4 24.8h0m-47.1 -86.4h0m-16.1 34h0m-18.3 14h0m10.2 0.4h0m3.1 5.4h0m92.6 31.6h0m-60.5 -27h0m113.5 -6.1h0m-74.2 20.7h0m38.3 -6.2h0m-133.8 -34.9h0m113.1 16.6h0m28.5 7h0m39.2 -12.8h0m-113.7 19.4h0m2.2 -21.1h0m-42.3 -33.9h0m88 37.5h0m-114.9 -45.5h0m141.8 1.1h0m-49 88.6h0m11.9 -20.3h0m-31.2 16.1h0m11.6 4.1h0m-102.9 -78.9h0m118.8 78.8h0m-3.6 -2.2h0m-58.3 -64.8h0m142.7 24.4h0m-144.6 -134.1h0m37.8 133.9h0m-21 -45h0m-63.4 15.5h0m139.7 -10.6h0m-15.3 68.2h0m-21.9 11.7h0m-16.1 -14.4h0m84.4 -32.5h0m-131.5 -49.8h0m-28.8 50.1h0m-26.8 -28.6h0m82.8 -9.3h0m35.4 86.4h0m-15.2 -14.8h0m-58.1 -75.6h0m113.6 47.9h0m-16.5 -20.8h0m-62.4 -20.6h0m12.2 78.3h0m-58.2 -86.5h0m175.7 7.7h0m-181 28.3h0m182.8 0h0m-78.5 9.6h0m-150.9 -65.1h0m35.2 16.4h0m64.5 84.9h0m-31.6 -13.2h0m75.3 -7h0m-115.7 -45.5h0m112.7 73.7h0m93.8 -74.2h0m-153.5 41.1h0m-48.4 -36.7h0m66.5 49.3h0m119.5 -11.2h0m-174.3 -9.8h0m117.1 6.5h0m-53 26.2h0m20.3 13.3h0m85.8 -42.2h0m-174.5 -13.7h0m-37.1 -43.6h0m212.8 52.3h0m-100.4 30.9h0m66.8 -9.1h0m35.5 -15.4h0m-160.8 5.8h0m118.2 -30h0m18.3 41.6h0m-135.5 -75.8h0m33.1 -35.9h0m-29.9 89.8h0m29 7h0m80.9 -51.2h0m-96.2 65.1h0m-39.5 -31.7h0m69.8 34.7h0m46.4 12.9h0m-28.3 -10h0m-22.5 -35.8h0m56.9 22.9h0m-59 -23.1h0m-38.8 2h0m-4.1 -22.7h0m135.6 45.4h0m-146.8 -23.7h0m117.7 1.4h0m-54.1 11.5h0m-13.2 -37.8h0m-49.7 -13.5h0m86.6 88.2h0m74.3 -38.6h0m-56 -10.5h0m-81.4 5h0m11.3 1.4h0m35.1 28.9h0m-25.6 2.5h0m-45.7 -69.4h0m136 -35.9h0m-25.3 105.9h0m-81.2 -11.4h0m67.2 8.9h0m73.2 -35.1h0m-178 -60.8h0m68 54.7h0m64.5 25.8h0m-0.3 -55.1h0m-7.1 67.9h0m-87.1 -13.6h0m55.5 28.8h0m-8.5 -25.3h0m-55.4 -2.7h0m138.7 -4.6h0m-133 -49.6h0m73.3 52.9h0m-93.9 -10.9h0m11 -44h0m65.8 78.4h0m23 0.3h0m-55.2 -90.7h0m85.9 26.4h0m-0.9 -57.7h0m-77.8 104.6h0m-23.9 -29.4h0m-2.6 9.8h0m73.3 10.7h0m-45.7 31.3h0m-52.5 -93.5h0m108.9 93h0m16.5 -134.2h0m-74.7 98.5h0m0.2 1.6h0m94.6 11.4h0m2.5 -43.9h0m-99.9 -5.9h0m-5 -23h0m56.7 93h0m55 -58.2h0m-89.4 24.3h0m-47.5 17h0m120.1 -48.5h0m-118.8 21.2h0m-41.2 -57.3h0m171.9 40.6h0m-85.5 44.2h0m87.2 -54.3h0m-74.7 72.9h0m53.2 -50.3h0m-84.7 33.7h0m-31.8 -35.5h0m115.5 17.5h0m-40.9 34.1h0m-53.7 -141.8h0m18.3 85h0m28.8 62.6h0m24.4 -60.9h0m-15.8 44.1h0m-31.2 -37.4h0m30.1 42.4h0m-44.6 -26.9h0m-10.5 7.8h0m41.3 16.7h0m45.9 -58.9h0m-48.8 42.2h0m-57.6 -16.2h0m37.3 20h0m55 -45.5h0m-103.2 -5.5h0m9.6 -21.1h0m21.5 86.3h0m15 -91.5h0m-8.8 80.2h0m74 -73.2h0m7.1 84.1h0m-13.3 -29.1h0m-107.4 -17.5h0m23.3 -48.9h0m23 -5h0m-13.6 60h0m80.8 37.2h0m7.6 -83.2h0m-49.1 89.4h0m-47.3 -74.1h0m-1.4 55.9h0m40.4 7.1h0m80 -83.8h0m-105 56.4h0m62.6 8.6h0m-83.4 2.4h0m155.9 -13.8h0m-136.3 -1.7h0m52.4 33.5h0m-106.4 -46.7h0m86.4 50.2h0m-36.2 -88.2h0m-7.8 79.7h0m36.8 18.3h0m19.3 6.4h0m-44.3 -16.1h0m-10.7 -17.5h0m24.7 24.5h0m23.2 6.2h0m-51.9 -96.6h0m-13.5 46.5h0m134.3 32.6h0m-24.2 -51.6h0m-41.1 67.9h0m-7.9 -16.7h0m-15.7 2.7h0m87.3 -0.5h0m1.6 -35.9h0m-120.6 35.2h0m126.3 -34.5h0m-53.7 49.6h0m44.4 -82.4h0m-87.5 3.3h0m104.9 19.9h0m-91.7 32.4h0m0.6 21.5h0m-18 -96.9h0m82.9 32.1h0m-23.2 0.9h0m-104 -23.5h0m147.6 47.6h0m-7 -13.3h0m-21.2 -27.4h0m-60.9 88.3h0m23.4 -8.1h0m-18 -27h0m-1.6 16.7h0m66.2 -21.1h0m-101.8 24h0m113.3 -71.3h0m21.8 47.1h0m-66.4 -8.6h0m32.4 -116.6h0m-123.7 100.3h0m52.3 47.2h0m30.3 0.4h0m18.4 -28.6h0m-12.2 46.5h0m-39.5 -1.4h0m56.3 -96.2h0m90.2 18.2h0m-217.6 -0.9h0m184.5 24h0m-133.1 -53h0m48.8 101.9h0m-9.8 9h0m33.1 -17.6h0m33.9 -39h0m-126 1.5h0m56.7 40.6h0m19.2 -9.7h0m-64.6 -72.6h0m43.6 95.3h0m-66.4 -53.5h0m54.2 -2.7h0m53.3 37.9h0m-9.2 -32.2h0m-76.6 -25.3h0m49.9 73.2h0m67.9 -21.5h0m-16.5 -22.9h0m23.9 17.8h0m-72.6 29.8h0m-108.5 -80.2h0m73.1 -29.9h0m-44.3 62.4h0m134.5 -44.8h0m-146.8 -12.7h0m83.7 86.6h0m-74.5 -22.8h0m17 12h0m40.6 1.7h0m29.2 24.8h0m21.7 -36.3h0m-63.5 -56.9h0m76.7 23.4h0m-56.5 44.1h0m-27.4 -95.6h0m-15.9 38.2h0m-7.2 56.5h0m-37.5 -74.8h0m41.8 45.6h0m-29.4 -18.4h0m49.1 40.7h0m-32.4 -73.6h0m126.7 71.7h0m-150.3 -25.8h0m91.1 43.9h0m55.3 -99.2h0m-113.9 75.2h0m-15.4 6h0m26.7 -47.7h0m71.9 38.7h0m-121.1 -31.1h0m44.1 21.1h0m-27.8 -54.5h0m107.7 78.6h0m18.9 11h0m-53 -1.7h0m24.6 19.6h0m-69.7 -90.8h0m38.2 45h0m11.9 31.7h0m-37 -105.6h0m-20 86.5h0m46.8 4.5h0m84.1 13.7h0m-89.5 -2.8h0m12.4 17.8h0m-110.8 -100.8h0m114.1 95.6h0m-21.9 -52.5h0m-28 13.9h0m-43.2 -29h0m10.6 -12.7h0m51 -49h0m25.3 84.8h0m32.5 9h0m-11 35.1h0m-51.3 -21.9h0m94.7 19.5h0m18.3 -33.4h0m-2.9 22.4h0m-48.7 15.7h0m-27.1 -13h0m109.6 -66.5h0m-148.9 -28.7h0m-61.8 8.5h0m165.8 -32.7h0m-32.6 100.1h0m32.4 21.3h0m-51.6 19.8h0m10.7 -21.8h0m25 -18.9h0m14.3 -21h0m-97.7 -2.6h0m86.9 -41.4h0m78.6 32.3h0m-152.8 45.4h0m-4 -56.9h0m-15.6 -10.3h0m-68.5 -0.8h0m133.2 76.9h0m-3.6 16h0m-25.3 -33h0m-26 -71.5h0m9.3 72.6h0m72.3 3.6h0m-60.1 10.1h0m9.3 18.6h0m-60.1 -82.7h0m90.1 54.2h0m-9.7 29.4h0m-30.5 -25.5h0m39.9 -23.3h0m-48.3 -10.6h0m3.5 13.2h0m-61.1 -34h0m50.4 7.1h0m86.4 -43.6h0m-129.9 76h0m6 -33.5h0m16.8 48.6h0m192.7 -61.3h0m-187.7 23.9h0m-44.5 -2.3h0m30.8 23.4h0m81 27.3h0m-26.1 -26.7h0m6.8 30.9h0m-19.8 -11.6h0m-17.4 -62.1h0m12.8 -6.5h0m76.9 80.4h0m-155.6 -58.6h0m96.3 36h0m-26.9 -105.9h0m-54.9 69h0m18.7 -26.5h0m131.8 81.4h0m-0.6 -60.4h0m-21 -30h0m-54.4 96.7h0m-7.9 -12.5h0m15.9 -5.8h0m-3.6 19.4h0m-44.8 -86.7h0m95.6 37.8h0m-84.8 -16.8h0m100.1 -85.7h0m-91.9 29.8h0m123.1 39.1h0m-156.2 -9h0m156.8 59.3h0m-120.2 8.9h0m-0.1 -56.1h0m106.3 41.5h0m-61.6 38.6h0m53.3 -39.4h0m-72.9 3.8h0m-75.7 -42.7h0m-11.9 7.6h0m38.6 13.5h0m108.9 -46.3h0m18.5 71.9h0m36.7 -38.7h0m-9.8 17.3h0m-48.6 30.1h0m-120.4 -74.3h0m140.3 23h0m-101.9 17.7h0m62.1 11.6h0m-91 18.1h0m2 8.1h0m18.8 -63.3h0m-19.1 37h0m7.2 -5.3h0m109.4 1.8h0m-35 20.3h0m-51.2 -91h0m-27.3 77.6h0m79.3 39h0m-135.1 -80.3h0m53.6 46.7h0m49.6 3.2h0m86.6 -56.9h0m-93.4 63.3h0m-37.5 -18.6h0m265.1 -31.7h0m-33.5 58.5h0m-34.6 10.8h0m-18.8 0h0m-23.1 5.4h0m-15.7 0h0m-141.3 1.8h0m188.4 -90h0m-10.4 -4.5h0m-274.3 22.5h0m7.3 0h0m-10.5 -9h0m15.7 1.8h0m10.5 29.7h0m10.5 2.7h0m162.2 -160.2h0m-83.7 40.5h0m5.2 -4.5h0m13.6 0h0" stroke="#979797" stroke-width="9.4" stroke-linecap="round" fill="none"/>
<path d="M247.9 241.5h0m13.8 -1.2h0m37.8 109h0m-51 -94h0m-30.5 83.8h0m16.7 -90.7h0m-21.4 105.9h0m72.2 -27.6h0m-7.2 -11.7h0m-42.9 33.3h0m40.9 -14.8h0m-43.1 -56.9h0m69.4 55.9h0m-29.2 -50.1h0m25.8 58.3h0m-52.4 12.7h0m10.6 -65.4h0m11.4 32.7h0m-74.7 -17.9h0m-5 4.9h0m105 -18.7h0m-15.3 28.8h0m-68.4 -0.6h0m62.4 -25.1h0m-16.7 2.1h0m8.9 -43.2h0m-5 -14.1h0m20.9 116.4h0m-34.2 -63h0m-29.4 27.9h0m79.4 27h0m-11.6 -28.1h0m-87.2 -17.9h0m89.6 25.8h0m1.4 -39.2h0m-102.1 11.2h0m17.7 4.8h0m19.1 39.5h0m16.4 0.2h0m34.7 9.3h0m-27.8 -93.6h0m32 77h0m-9.8 -50.9h0m-10.2 36.2h0m45.6 -13.1h0m-43.6 -17.9h0m-43.9 40.7h0m65.6 -73.7h0m10.4 66.2h0m-31.2 11.6h0m27.3 25.2h0m-54.9 -66.2h0m-7.8 56.2h0m22.5 -106.6h0m-54 84.4h0m-1.4 -6.1h0m95.1 29.3h0m-70.1 -3.5h0m31 -18.6h0m25.1 -0.1h0m-21.3 -13.6h0m-10.8 3.5h0m-3 9.8h0m-29 -1h0m67.9 8.8h0m-13.3 -20.8h0m29.8 13.6h0m-10.4 13.8h0m-45.4 -78.7h0m-26.9 93h0m40.9 -27.4h0m44.6 -23.4h0m-31 50.7h0m-22.3 -48.2h0m42.9 49.1h0m-56.6 -71.2h0m4.6 70h0m-35.5 -32h0m102.5 -10.4h0m-2.8 9.4h0m-73.3 12.3h0m53.1 -12.6h0m-4.6 -9.9h0m-14.5 39.5h0m-25.5 6.6h0m30 -21.2h0m21.4 -7.7h0m1.8 -48.8h0m-36.5 31.1h0m-1.2 -19.3h0m1.5 41.8h0m23.6 20.2h0m-10.1 -82.7h0m-31.3 65.9h0m64.4 -3.6h0m-30.4 21.4h0m-9 -18.6h0m39 -43.2h0m-34.6 10.3h0m10.3 47.2h0m-25.4 -6.7h0m41.7 4.8h0m-87.7 -12.9h0m-2.1 -21.7h0m56.4 -2.6h0m-22.2 5.2h0m31.5 -37.6h0m4.3 29.5h0m-44.9 22.5h0m21.9 -4.6h0m-19 -29.7h0m52.3 49.3h0m-88.6 -50.3h0m76.9 -25h0m-92.2 13.3h0m102.3 38.6h0m8.5 33.2h0m-22.4 -1.1h0m-22.4 -49.9h0m-38.6 -49.4h0m-26.6 23.1h0m100.8 51.3h0m-4.2 -45.2h0m-49.2 66.1h0m58.6 -35.4h0m16.1 22.8h0m1.4 -30.4h0m-82.1 24.7h0m-7.4 14.4h0m15.3 -40.7h0m71.3 -20.7h0m-14.7 -6.5h0m-42.3 41.4h0m64.5 -19.2h0m-44.6 5.7h0m-28.4 33.5h0m52.6 -80h0m-28.8 44.8h0m-8.9 24.6h0m-46.4 -16h0m46.5 43.7h0m14.3 -26.4h0m-49.2 7.1h0m35 -51.4h0m-4.8 48h0m-10.3 -72h0m72 43.8h0m-58.1 7.4h0m-34.7 29.3h0m26.4 -56.6h0m39.3 63.8h0m-62.6 -8.7h0m62.9 3.6h0m17.6 -14.5h0m-38.9 -54.9h0m-33.1 63.5h0m57.1 11.8h0m-45.1 -8.8h0m58.6 -8.6h0m-55.1 -73.2h0m-16.9 69.5h0m46.9 -27.5h0m14.3 0.4h0m-65.8 45.2h0m44.2 -87.5h0m40.3 86.8h0m-9.1 -62.5h0m-57 23.2h0m34.2 46h0m19.3 -0.1h0m-62.8 -29.5h0m-22.1 -14h0m47.2 -13.7h0m4.3 15.3h0m43.7 -22.9h0m-85.2 66.5h0m51.8 -76.6h0m17.9 11.6h0m-24.7 -19.3h0m-74.4 6.6h0m41.6 52.7h0m60.4 -0.2h0m1.4 -70.4h0m-45 94.2h0m57.2 -4.2h0m-33.4 -49.3h0m-16.6 56.9h0m0.1 -4.2h0m45.7 -75.1h0m-5.9 -1.3h0m-70.4 10.2h0m69 27h0m-46.6 -7.1h0m11.2 39.7h0m47 -18.4h0m-7.7 -50.6h0m-18.3 24.6h0m-54.5 -39h0m64 67.3h0m-65.6 -36h0m-2.4 40.7h0m-8 -28.8h0m-30 -15.2h0m62.9 50.5h0m14.4 3.5h0m-14.3 -35h0m51.2 11.7h0m-35.7 -13h0m18.7 44.4h0m4.1 -7.6h0m-9.5 -4.4h0m25 -1.4h0m-57.1 9h0m51.5 -9.6h0m-56.6 9h0m39.3 1.6h0m0 4.1h0m-24.3 -53.9h0m-7.8 48.8h0m16.1 -3.7h0m17.4 -9.7h0m-4.9 12.2h0m29.1 -51.9h0m-96.7 30.6h0m78 -46.6h0m11.2 76.1h0m-2.6 -27.3h0m8 7.8h0m-62.1 -82.7h0m62 77.1h0m-45.9 0.2h0m35.7 -44.6h0m-8.6 53.1h0m19.4 -45.2h0m-55.4 59.8h0m28.9 -15h0m-19.5 17.2h0m39.3 -30.2h0m-54.3 -12.2h0m53 20.6h0m-6.5 22.3h0m3.2 -7.3h0m-42 -54.3h0m-32.8 23.1h0m92.1 20.9h0m-101 -9.3h0m21.1 25.1h0m42.4 0h0m30.6 -47.9h0m-55 31h0m15.2 -24.3h0m35.9 31.7h0m-39.9 9.6h0m3.8 -30h0m-45.5 9.5h0m61.2 -1.1h0m-83.4 -50.7h0m113.7 49.4h0m-2.7 0.9h0m-37.5 -29h0m-30.5 44.1h0m14.9 -24.3h0m45.5 -48.6h0m1.2 2.9h0m4.8 69.4h0m-31.1 -18.6h0m-40.8 -20.1h0m48 8.8h0m-71.1 -9.8h0m3.5 33.3h0m49.8 -16.7h0m-20.4 24.4h0m39.9 -96.5h0m-27.6 82.7h0m-33.8 -47.2h0m81.7 11.1h0m-23 41.5h0m-49.6 12h0m49 -22.3h0m-37 -29.8h0m7.8 -11.8h0m0.6 63.4h0m-30.4 -25.8h0m23 -56.4h0m-9.8 68.3h0m55.9 13.8h0m-73.4 -24.6h0m93.1 -43.1h0m-10.1 42.5h0m-8.4 -55.6h0m-14.3 53.1h0m-32.1 26.5h0m-25 -57.8h0m40.6 43.7h0m43.4 -21.4h0m-11.2 17.2h0m-77.8 -41.2h0m49.4 2.9h0m-13.5 24.2h0m29.9 29.3h0m-3.3 -73h0m28.6 70.8h0m-69.3 11.2h0m21.6 -18.5h0m11.1 -53.7h0m-59.8 46.6h0m90 -32.2h0m-38.9 -24.3h0m15.2 42.7h0m17.8 31.2h0m-25.9 -25.6h0m-22 14.5h0m-7 -3.8h0m66.7 -2.6h0m-45.9 12.3h0m11.7 9.4h0m21.4 -0.2h0m-14.2 -4.7h0m-15.4 -47.8h0m40.1 2.9h0m-68.4 53.1h0m43.6 -10.4h0m3.6 -95.3h0m-31.6 0.6h0m56.2 27.4h0m-65.4 57.3h0m-26 -73.4h0m27.5 42.5h0m46.7 20.3h0m-74.9 18.7h0m65.4 -43.8h0m21.3 10.5h0m-38 26.6h0m38.6 -30.6h0m-34 -9h0m-69.9 13.5h0m72.9 -28.6h0m5 -19.7h0m-17.3 71h0m42.6 -31.2h0m-88.1 -35.5h0m35.2 -5.3h0m12 70.9h0m-46 -32.9h0m84 56.7h0m-25.4 -33.4h0m-19 4.1h0m-58.1 -19.3h0m106.9 46.9h0m-42.7 -10.6h0m-11.7 2.8h0m-156.8 -294.8h0m178 0h0m-109.9 82.8h0m15.7 -19.8h0m16.8 10.8h0m18.8 -17.1h0m19.9 8.1h0m52.3 4.5h0m5.3 0h0m-40.9 61.2h0m-37.7 4.5h0m7.4 0h0m7.3 -1.8h0m-69.1 19.8h0m2.1 10.8h0m6.3 25.2h0m-13.6 49.5h0m9.4 -9h0m-4.2 67.5h0m19.9 -67.5h0m-11.5 -9h0m9.4 24.3h0m5.2 25.2h0m10.5 -11.7h0m4.2 40.5h0m113.1 -136.8h0m3.1 13.5h0m-26.2 -27h0m-2.1 22.5h0m-24 -4.5h0m-5.3 4.5h0m-15.7 -16.2h0m-41.9 32.4h0m5.3 0h0m5.2 1.8h0m26.2 1.8h0m-5.2 2.7h0m31.4 -11.7h0m5.2 2.7h0m31.4 9h0m5.2 1.8h0m5.3 13.5h0m-62.8 -6.3h0m10.4 4.5h0m-41.9 10.8h0m81.7 86.4h0m-55 -15.7h0m27.2 5.2h0m-10.4 -8.5h0m3.5 -31.4h0m2.9 0.4h0m-9.3 25.1h0m-49.1 -10.2h0m12.9 36.3h0m11.2 -27.4h0m81.7 -2.3h0m-3.1 -13.5h0m-29.7 24.1h0m27.1 0.7h0m-13.8 -25.6h0m-18.7 39.7h0m-40.7 -46.3h0m-9.3 15.9h0m-18 -10.3h0m104.2 -0.5h0m-70.2 28.3h0m75.4 -31.4h0m-109.5 12.7h0m57.2 5.7h0m48.5 26.1h0m-103.4 -18.8h0m109.4 -3.5h0m-27.4 21.5h0m-55 -9h0m79.6 -7.8h0m-20.3 13.5h0m-60 -1.3h0m74.2 -7.9h0m-78.4 13.2h0m71.7 -8.4h0m-2.6 -4.7h0m-19.8 7.5h0m-16.6 1.5h0m-24.8 -10.2h0m-16.7 -14h0m30.1 31.3h0m-32.5 -12.5h0m44.6 2.4h0m6.9 -16.6h0m16.7 25.3h0m-40.8 -1.1h0m5.9 -45.9h0m34.7 24h0m-42.1 -2.8h0m-31.3 23h0m90.7 5.6h0m-84.3 -2.4h0m-11.1 1.5h0m21 -14.7h0m69.9 6.1h0m-10.5 -41.5h0m-73.9 50.2h0m61.2 1.2h0m26 -2.7h0m7.5 2.5h0m-45.8 -22.6h0m38 4.7h0m-58.7 5.1h0m-38 -38.6h0m14.6 13.6h0m12.9 30.6h0m-26 4.2h0m106.5 -43.5h0m3.8 2.2h0m-12.3 42.1h0m-41.8 -41.4h0m-11.1 14h0m-12.3 -10.2h0m27.8 3.2h0m-50.5 23.1h0m73.9 -31.2h0m-49.3 43.7h0m52.8 -48.6h0m-80.7 48.2h0m20.2 -31.5h0m63.6 11.3h0m-4.7 -9.6h0m-15.1 -18.1h0m-9.5 12.7h0m47.3 13.4h0m-37.1 -11h0m-39.9 18.1h0m-13.8 11.1h0m27 0.3h0m57.5 -6.2h0m-87.5 -36.6h0m80.6 27.8h0m-13 -14.7h0m-67.7 19.9h0m-18 -28.4h0m6 12h0m52.4 20.9h0m-30.9 8.6h0m53.5 -38.2h0m-18.8 33h0m-19.6 -32.2h0m20.1 33.8h0m18.9 -36.6h0m-1.2 6.8h0m-66.1 28.1h0m13.5 -13.7h0m-6.3 -12h0m46.7 25.6h0m39.9 -0.8h0m-55.5 0.9h0" stroke="#2e4d97" stroke-width="9.8" stroke-linecap="round" fill="none"/>
<path d="M424.6 338.9h0m1.5 7.2h0m22.5 -2.7h0m-19.5 -34.1h0m-8 13.9h0m28.9 32.3h0m-32.2 -15.6h0m36.8 -13.4h0m-25.4 -15.2h0m18.4 36.9h0m-13.1 -27.1h0m8.8 3.7h0m-1.9 31.1h0m-3.6 2.2h0m16.5 -1h0m-17.7 -0.8h0m-0.4 -28.3h0m10.7 30.1h0m-14.8 -34.2h0m-4.3 10.4h0m13.1 -20.3h0m-9.8 34.6h0m-12 -31.8h0m18.7 -3.3h0m-11 25.6h0m7.6 5.2h0m15.4 -7.4h0m6.2 -16.2h0m1.2 -3.5h0m-42.7 14.2h0m38.7 21.3h0m2.8 5.8h0m-25.8 -38.2h0m-2 2.1h0m3.9 24.3h0m-17 2.4h0m27.5 -30.7h0m-20.8 26.7h0m-1.8 9.3h0m12.1 -24h0m17.4 -20.5h0m-35.8 22.4h0m22.7 25h0m17.6 -4.8h0m-2.7 -5.1h0m-34 -37.1h0m5.9 42.2h0m-11.2 -4.1h0m35.1 9.5h0m-33.7 -9.8h0m25.6 -29.5h0m10.8 29.9h0m-7.2 -23.3h0m7.5 -15.5h0m-11.1 45.6h0m-26.5 -5.1h0m6.1 -5.2h0m33.6 13.5h0m-35.5 -0.3h0m10.2 -43.8h0m3 -4.3h0m15 31.4h0m12.4 -26.9h0m-10.5 37.6h0m-30.1 -8.5h0m-3.3 -14.8h0m19.7 19.9h0m-16 -19.2h0m11.8 3.6h0m10.6 -21.9h0m-23.1 12.5h0m-5.7 -5.9h0m17.3 -8.1h0m-7.2 40.3h0m6.6 -34.3h0m-7.5 13h0m9.9 1.7h0m4.9 19.2h0m8 -42.2h0m-23.2 21.9h0m3.1 11.3h0m32.4 -18.3h0m-19.5 30h0m-16.5 -30.8h0m7.1 14h0m3.6 -29.9h0m-18.8 0.9h0m27.1 51.7h0m14 -47h0m-20.7 28.1h0m-16.7 3.3h0m16.6 3.3h0m-4.6 9.2h0m20.6 -19.3h0m-33.8 -34.6h0m-1.7 26.9h0m21.7 5.1h0m11.9 3.4h0m-1.2 7h0m-28.3 8.3h0m3.4 -0.3h0m39.3 -5.9h0m-30.8 -17.1h0m-15.6 -28.7h0m8 25h0m15.4 15.4h0m17.3 7.6h0m-15.6 0.8h0m-8.8 -35.7h0m46.9 -111.8h0m-2.1 31.5h0m0 4.5h0m20.9 0h0m-5.2 76.5h0m-7.4 40.5h0m-10.4 -81h0m-16.8 22.5h0m3.2 1.8h0m-8.4 -34.2h0m-5.2 0.9h0m-23.1 4.5h0m5.3 0h0m-10.5 9h0" stroke="#dd2a2a" stroke-width="9.8" stroke-linecap="round" fill="none"/>
<line x1="58" y1="359" x2="587" y2="359" stroke="#6cae52" stroke-width="1.6" stroke-dasharray="8.5 8.5"/>
<line x1="58.3" y1="31" x2="58.3" y2="498.8" stroke="#000" stroke-width="3.8"/>
<line x1="56.4" y1="496.8" x2="586.5" y2="496.8" stroke="#000" stroke-width="3.8"/>
<line x1="52.5" y1="475.8" x2="57" y2="475.8" stroke="#000" stroke-width="3"/>
<text x="51" y="484.6" font-size="25" text-anchor="end">0</text>
<line x1="52.5" y1="385.8" x2="57" y2="385.8" stroke="#000" stroke-width="3"/>
<text x="51" y="394.6" font-size="25" text-anchor="end">1</text>
<line x1="52.5" y1="295.8" x2="57" y2="295.8" stroke="#000" stroke-width="3"/>
<text x="51" y="304.6" font-size="25" text-anchor="end">2</text>
<line x1="52.5" y1="205.8" x2="57" y2="205.8" stroke="#000" stroke-width="3"/>
<text x="51" y="214.6" font-size="25" text-anchor="end">3</text>
<line x1="52.5" y1="115.8" x2="57" y2="115.8" stroke="#000" stroke-width="3"/>
<text x="51" y="124.6" font-size="25" text-anchor="end">4</text>
<line x1="148.6" y1="497" x2="148.6" y2="503" stroke="#000" stroke-width="3"/>
<text x="144.6" y="523.5" font-size="25" text-anchor="middle">-2</text>
<line x1="253.3" y1="497" x2="253.3" y2="503" stroke="#000" stroke-width="3"/>
<text x="249.3" y="523.5" font-size="25" text-anchor="middle">-1</text>
<line x1="358" y1="497" x2="358" y2="503" stroke="#000" stroke-width="3"/>
<text x="358" y="523.5" font-size="25" text-anchor="middle">0</text>
<line x1="462.7" y1="497" x2="462.7" y2="503" stroke="#000" stroke-width="3"/>
<text x="462.7" y="523.5" font-size="25" text-anchor="middle">1</text>
<line x1="567.4" y1="497" x2="567.4" y2="503" stroke="#000" stroke-width="3"/>
<text x="567.4" y="523.5" font-size="25" text-anchor="middle">2</text>
<text x="318" y="547.5" font-size="29" text-anchor="middle">log<tspan font-size="20" dy="7">2</tspan><tspan dy="-7">(Fold Change)</tspan></text>
<text transform="translate(25.5 268) rotate(-90)" font-size="29" text-anchor="middle">-log<tspan font-size="20" dy="7">10</tspan><tspan dy="-7">(p-value)</tspan></text>
<text x="886.6" y="25" font-size="28.5" text-anchor="middle">H3K27ac CUT&amp;Tag</text>
<line x1="853.6" y1="31" x2="853.6" y2="497" stroke="#6cae52" stroke-width="1.6" stroke-dasharray="8.5 8.5"/>
<line x1="895.2" y1="31" x2="895.2" y2="497" stroke="#6cae52" stroke-width="1.6" stroke-dasharray="8.5 8.5"/>
<path d="M845.3 420.8h0m16.1 45.8h0m88.8 -6.8h0m-161 -0.5h0m140 8.5h0m-49.1 -6.6h0m-21 0.7h0m-2.5 -0.8h0m10.9 -17.4h0m-5.5 -20.6h0m48.1 26.3h0m-97.4 13.1h0m-24.9 -18.8h0m54.5 -27.5h0m-79.1 22.7h0m52.4 30.5h0m62.2 -2.6h0m27 -8.4h0m-89.4 -11.8h0m34.9 20.5h0m-48 -4.4h0m112.5 -11h0m25.5 -29.1h0m-168.5 34.6h0m119.3 -44.3h0m31.8 58h0m-76.5 -3.7h0m-26.7 -3.6h0m64.2 -14h0m-22.4 15.3h0m-32.3 5.2h0m3.2 -22.6h0m-4.5 -7h0m94 28.2h0m-163.1 -42h0m63.8 18.3h0m-28.7 2.4h0m75.4 19.8h0m-83.1 -28.2h0m17.4 15.8h0m-70.4 -37.6h0m156.3 56.4h0m-87.2 -6.7h0m17 -50.5h0m99.1 24h0m-88.3 21.6h0m20 11.8h0m-52.9 -48h0m24.3 32.7h0m86.6 -0.4h0m-117.9 -1.6h0m-1.5 -19.6h0m-22.8 -6.9h0m49.8 38.1h0m82.5 -2.7h0m-109 -36.7h0m-17.1 22.5h0m109.3 17h0m-66.4 -8.4h0m94.6 -6.2h0m-16.2 5.1h0m6.7 6.2h0m-15.9 -25h0m-58.4 -7.8h0m-50.6 19.5h0m52.7 -30.1h0m46.1 54.5h0m13.4 -10.5h0m-24.2 -21h0m-82.1 6.4h0m13.6 13.1h0m-0.8 -21.3h0m127 8.1h0m-70.1 -3.6h0m-70.9 -20.3h0m159.4 26.2h0m-43.8 5.4h0m-125.2 -4.6h0m160 -23.2h0m-4.4 0h0m-156.2 20.8h0m173.6 1.1h0m-118.5 -31.4h0m-46.2 22.3h0m131.6 2.9h0m-1.8 -9.6h0m-121.8 9.4h0m164.1 -6h0m-126.7 24.7h0m84.1 4.1h0m-20.7 -17.8h0m-19.5 4.5h0m40.3 11h0m29.4 -11h0m-26 -31.1h0m-105.8 -5h0m-18.6 42.5h0m105.2 -0.4h0m-32.6 -39.7h0m-28.2 51h0m-7.6 -47.8h0m65.5 39.8h0m-15.4 10.5h0m30 -20h0m-80.7 -34.3h0m-45.8 9h0m36.8 6.1h0m48.6 28.3h0m-30.4 -7.2h0m-25.6 9.7h0m-13.1 -23.2h0m6.7 -1h0m128.7 -25.5h0m-140 27.5h0m17.3 -24.9h0m16.3 30.4h0m-18.6 -18h0m112.8 33.7h0m-82.7 -3.4h0m-36.3 -27.4h0m85.1 7.5h0m-100.4 5.5h0m126.6 20.2h0m6.1 -0.6h0m-7.2 -49.6h0m-26.6 47.8h0m-71.3 -22.3h0m-38.1 8h0m133 -4.8h0m-75.8 4.9h0m98.1 13.7h0m-119.5 -48.6h0m-17.6 15.1h0m171 15.4h0m-156.7 11h0m74.1 9h0m-99.8 -9.7h0m135.9 -0.4h0m-44.8 12.3h0m-94.9 -12h0m105 5.1h0m52.6 -43.5h0m-62.6 55.7h0m-43.7 -20h0m104.1 12.9h0m-136 -49.4h0m-48 26.4h0m105.6 -10.9h0m-88.1 21h0m171.7 -9h0m-176.5 -0.4h0m150.9 25h0m-29.4 -7.1h0m-56.1 -34.5h0m-24 35.4h0m-22.8 -41.5h0m93.4 51.2h0m-9.1 -37.3h0m14.4 37.2h0m18.1 -40.8h0m39.2 33.9h0m-120.3 -24.2h0m124.9 17.5h0m-1.9 -6.5h0m-70.3 7.2h0m-112 -19.7h0m162.3 -5.2h0m-114.9 25.8h0m66.1 -3.8h0m37.5 8.2h0m-47.5 -62.7h0m-11.9 63.3h0m-41.1 -31.4h0m-0.3 -4h0m124.3 29h0m-36.4 2.7h0m1 -18.5h0m-18.8 30.5h0m-35.4 -17.5h0m42.3 -12.8h0m42.3 12.4h0m-84 -2.4h0m-74.3 -29.9h0m180.5 16.1h0m-11.6 15h0m-154.4 -6.5h0m74.7 -71.1h0m-68.7 82.4h0m27.7 0.5h0m88.6 5.9h0m-11.2 -40.5h0m-54.1 38h0m19.8 -50h0m-18.1 40.3h0m48.5 -30.9h0m41.7 22.7h0m-79 7.9h0m-0.2 19.9h0m27.3 -3.5h0m-117 -24.3h0m15.5 -6.4h0m15.2 7h0m107.5 11.3h0m34.5 -27h0m-154.3 18.9h0m102 2.2h0m20.8 -10h0m-142.6 0.6h0m124.3 10.1h0m-78 9.6h0m136 -14.2h0m-26.5 11.4h0m52.1 -10.3h0m-39.9 10.5h0m-158 -27.5h0m117.1 41.6h0m-95.1 -39.6h0m88.4 37h0m23.6 -40.8h0m30.4 12h0m-177.2 6.8h0m13.5 3.6h0m129.5 -21h0m-88.2 8.7h0m65.8 26.6h0m24.9 -16.7h0m-134.1 -12.9h0m109.2 36.5h0m-29.4 -8.9h0m-130.1 -36.8h0m219.5 26.6h0m-125.4 -34.6h0m81.2 37.6h0m-110.3 -26.1h0m170.7 -5.6h0m-103.4 36.1h0m-70 -35h0m101.3 43.7h0m48.6 -26.6h0m-12.7 -6.7h0m-117.4 18.2h0m22 -12.1h0m57.8 26.2h0m13.9 -47.6h0m48.5 37.1h0m-130.2 -32h0m-38.3 7.2h0m10.3 8.5h0m154.4 2.9h0m-17.6 23.1h0m-128.5 -37.8h0m111.1 24.4h0m26.8 -16.8h0m-143.6 -6.5h0m-68 -8.5h0m88.1 35.2h0m125.6 2.8h0m55.9 -24.9h0m-188.5 17.9h0m-15.5 -17.2h0m108 -6.4h0m-93.7 -5.4h0m81.9 47.2h0m40.5 -47.3h0m-22.8 -2.3h0m-120.5 17.8h0m62.5 16.5h0m58.7 -40.6h0m-68.5 33.8h0m26.1 -58.2h0m71.2 57h0m-61.7 10.7h0m2.8 14h0m-68 -55.1h0m-44.3 28.9h0m122.5 24.5h0m-92.3 -23.9h0m50.7 -19.7h0m36.7 41.4h0m-92.8 -33.2h0m53.6 -17.3h0m79.6 34.5h0m-130.8 -29h0m16.9 11.3h0m5.4 12.9h0m100.1 15h0m-68.8 -20.9h0m64.3 -8.1h0m-77.9 5h0m-16.7 18.5h0m78 14.2h0m26.8 -25.5h0m-145.3 -4.7h0m112.7 16.3h0m-90.2 -9h0m-45.1 -6.1h0m52.6 3.5h0m-18.2 11.6h0m82.9 -43.6h0m-32.4 49.3h0m77.7 -27.1h0m-172.3 -12.4h0m176.3 23.4h0m-43.1 24.1h0m-52.9 -11.3h0m-26.9 -1.6h0m109.3 11.8h0m21.2 -4.8h0m-118.8 -30.9h0m78.4 32.4h0m-15.6 -11.1h0m-17.6 14.4h0m-39.3 -41.6h0m107.8 11.6h0m-42.9 19.2h0m51.4 -5.4h0m-169.4 -33.8h0m178.5 37.5h0m-185.1 -36.2h0m214.7 18.1h0m-134.9 21.3h0m22.1 7.9h0m48.3 2.1h0m14.8 -38.7h0m-139.7 17.5h0m146.5 -21.1h0m-116 -7.5h0m106.5 12.1h0m-41.9 28.2h0m70.8 -33.5h0m-50.2 44.5h0m11.5 -10.7h0m-75.4 -8.4h0m108.4 -22.8h0m-92.2 35.1h0m85.5 -20.9h0m-121.2 7.2h0m90.3 6.4h0m-89.7 4.8h0m135.8 -3h0m-30.8 -14.8h0m-1 6.8h0m-86.5 -0.1h0m101.7 -16h0m-58.3 -0.8h0m40.5 -2h0m-7 28h0m-22.1 9.1h0m6.4 -20.1h0m-104.4 -23.3h0m15.4 4.9h0m16.2 -8.5h0m54.2 26.3h0m44.4 -11.3h0m-106.9 15h0m102 8h0m-69.5 3.4h0m-18.9 -13.4h0m57.4 15h0m25.8 -37.6h0m-99.6 -0.1h0m-4.5 20.3h0m98.2 17.6h0m-96.6 -39.1h0m93.6 20.1h0m-123.8 -0.6h0m79.9 -5.5h0m-13.7 11h0m-88.3 -32.2h0m150.8 -11.5h0m-6.3 17.5h0m25.7 9.2h0m-71.7 24.1h0m-28.4 -1.1h0m95.6 -28.2h0m18.1 26.3h0m-112 -4.4h0m-28.8 -11.5h0m98.2 8.5h0m-14.2 2.5h0m47.5 0.7h0m-71.4 -38.2h0m72 -1.1h0m-12.9 51.7h0m-71.2 -6.4h0m70.4 -6.9h0m-98.5 -11.9h0m-75.4 -3.1h0m92.4 3.6h0m144.9 -25.7h0m-49.9 2.2h0m-92.2 46.2h0m42.5 -13.6h0m3.9 14.3h0m66.9 -13.4h0m6.3 -19.7h0m-95.7 -6.6h0m-54.3 37.7h0m85.1 8.7h0m-5.4 2.7h0m67.9 -26.8h0m-146.4 -29.3h0m134 37.6h0m-25.4 -9h0m-14.8 -37.2h0m61 46h0m-70.1 14.5h0m63 -22h0m-147.4 7.5h0m-27.4 -10.4h0m106.2 28.6h0m9 -35.6h0m-78.7 -4.3h0m65.3 28.9h0m-25.5 -32.2h0m46.2 -1.4h0m27.2 28.5h0m30.7 -40.3h0m-79.2 51.9h0m15 -12.5h0m-65.1 -1.1h0m114.2 2.4h0m-129.7 -13.8h0m95.5 -26.7h0m-81.7 24.5h0m76.1 -22.1h0m-138.4 15.2h0m58.2 25.8h0m-29.8 -4h0m0.7 3.9h0m124.6 -28.2h0m-73.2 0.6h0m16.8 7.3h0m-130.6 -13.3h0m50.8 13h0m170.1 6.5h0m-8.2 -17.3h0m-105.6 25.5h0m-65 -2.4h0m102.5 -12.4h0m54.7 26.3h0m-3.1 0h0m-152.8 -43.5h0m47.2 23h0m41.9 8.8h0m-58.7 3.6h0m97.7 -66.5h0m-37.4 70h0m103.4 -25.4h0m-42.5 25.8h0m-93.5 1.3h0m-8.5 -45.4h0m81.9 40.2h0m-84.6 -27.7h0m105.6 26.9h0m-77.1 -11.7h0m51 -14.7h0m52.3 -2h0m-115.2 38.5h0m78.8 -23.8h0m-24 3.8h0m-111.7 -8.7h0m34.2 3.3h0m10 -17.1h0m97.9 40.9h0m14.7 1.8h0m-92.4 -5.6h0m61.8 -12.6h0m-79.5 6.5h0m9 -31.8h0m41.1 40.6h0m-10 -10.3h0m16.1 17.2h0m0.8 -4h0m32.8 -26.5h0m5.9 25.7h0m11.8 -9.8h0m-15 -37.5h0m-123.3 41.4h0m125.2 6.8h0m-97 -20.7h0m109.9 19.4h0m-92.5 -30.8h0m-24.2 -7.5h0m85.1 -21.9h0m-38.5 46.8h0m-24.1 -13.1h0m-30.3 10h0m-2.2 -5.2h0m26.9 20.5h0m13.9 -47.2h0m11.1 47.7h0m73.3 0.8h0m29.7 -9.3h0m-104.8 2.6h0m-128.6 -38.3h0m227.1 39.6h0m-172.5 -11.8h0m74.4 -12.5h0m11.2 4h0m31.5 27.3h0m-13.7 -7.2h0m39.5 -2.3h0m-111.6 3.1h0m-7.2 -35.1h0m-12.1 25.1h0m132.2 -6.8h0m-33 11.7h0m23.8 -27.4h0m-66.4 14.7h0m11.8 29.4h0m68.5 -16.6h0m-76 -28.1h0m47.3 7.1h0m-80 19.2h0m85 -1.9h0m22.7 -11.6h0m-47.5 32.3h0m39.2 -17.5h0m-11 9.5h0m-91.2 -30h0m-67.2 5.3h0m72.1 -24.7h0m56.6 57.8h0m40 -30.4h0m-9.3 25.3h0m2.2 -17h0m-100.7 1.7h0m94.6 -8.3h0m-59 -24.5h0m10.2 -1.6h0m76.8 46.8h0m-120.5 -39.1h0m125.8 -9.2h0m-63.1 48.2h0m-2.5 -9h0m-21 13.9h0m-23.8 -26h0m82.7 1.4h0m-2 5.5h0m-123.8 -34.8h0m131.8 40h0m-90.2 -30.1h0m-74.9 19.7h0m145.5 4.7h0m-180.8 -27.3h0m114.8 -5.1h0m-19.4 38.8h0m3.8 -13.2h0m-49.8 0.8h0m-1.7 -20.3h0m157.2 35.7h0m-37.1 8.3h0m6.9 -3.3h0m-62.3 -32.5h0m-12.5 26.3h0m120.3 4.4h0m-136.8 -7.6h0m128.9 -16.9h0m-95.4 10.5h0m56.1 -7.5h0m-107.8 -9.2h0m129.9 14.5h0m-23.9 -1.5h0m-49.7 -22.9h0m117.9 9.9h0m-47.3 34.8h0m-60.5 -3.4h0m109.2 -22.9h0m-140.5 19.1h0m-9.4 -26.5h0m42.1 -13.4h0m-37.7 37.3h0m57.4 11.5h0m-34.6 -34.1h0m111.9 19.3h0m-28.4 -30.3h0m-61.8 23.8h0m-55.9 7.4h0m79 14.7h0m-74.2 -28.9h0m11.5 25.3h0m116.2 -12.7h0m-67.4 -3.1h0m86.5 8.8h0m-112.7 0h0m68.7 -10.3h0m-135.7 -8.2h0m125.8 15h0m26.9 -15.7h0m-0.1 -7.7h0m-95.7 15.9h0m-78.3 -16.5h0m62.2 -18h0m-7.6 32.8h0m139.4 5.9h0m-81.1 14.9h0m-87.5 -11.5h0m-2.5 -1.4h0m72 -26.3h0m-12.4 40.3h0m24 -93.3h0m-74.5 83.5h0m184.7 -13.2h0m-39.7 9.1h0m-40.4 -6.5h0m27.9 -7.5h0m35.6 16.1h0m10.9 -12.1h0m-30.7 -25.4h0m-133.5 30.2h0m-19.7 7.5h0m126.8 4.3h0m-32.5 1.4h0m-25.9 1.1h0m42.7 -28.2h0m-5.5 18.8h0m-24.3 -42.1h0m-22.2 28.9h0m-101.7 -14.6h0m190.9 40.8h0m-53.7 5.9h0m-40.4 -26.7h0m13.2 -1.8h0m-31.3 -10.7h0m-13.3 25.3h0m10.5 -36.1h0m-31 32.6h0m50.6 13.7h0m67.3 -11.3h0m-154.2 -33.2h0m177.4 2.6h0m37.6 -6.3h0m-91.1 31.6h0m65.1 -12.7h0m-41.2 -25.3h0m-68.2 43.1h0m51 4.8h0m-55.1 -0.4h0m51.8 7.6h0m65.1 -20h0m-95.8 20.5h0m92 -28.4h0m13.8 16.7h0m-148 -1.6h0m127 9.4h0m-159.7 -36.9h0m34.5 32.4h0m-11 -34.1h0m54.5 36.3h0m-54.9 -25.3h0m-11 -14.3h0m130.6 -3.6h0m-94.7 15.3h0m20.6 28.1h0m131.5 -10.9h0m-158.4 -19.6h0m111.1 -3.4h0m-12.6 4.6h0m35.9 5.8h0m10.6 11.8h0m-52.9 15h0m-18.3 -7.5h0m31.4 -8.7h0m-55.2 -49.8h0m-18.1 52.4h0m-49.7 -3.3h0m103.5 -10.4h0m12.4 -17.5h0m-98.7 33.8h0m83 -9.6h0m-74.9 -30h0m12.4 13.2h0m105.9 15.9h0m-71.4 23h0m19 -3.8h0m15 -18.6h0m-108.7 -13.8h0m-27.1 9.4h0m205 5.1h0m-167 -2.9h0m109.6 23.2h0m-0.6 -24.4h0m-74.9 0.8h0m-4 9.2h0m22.2 -34.4h0m16.4 50.3h0m23.3 -31.8h0m-93.2 -9.3h0m121.2 7.1h0m-18.7 -3.7h0m-132.7 1.9h0m61.8 29.5h0m105.1 -25.7h0m-96.3 16.4h0m-16 5.9h0m50.1 -3.6h0m50.3 -35.2h0m-129 30.6h0m-1.1 -2.8h0m32.8 -25.7h0m8.3 26.9h0m81.8 -1.9h0m-133 -7.2h0m116.6 -34.4h0m33.5 52.4h0m-55.1 7.9h0m50.1 -3.1h0m-81.1 6.5h0m43.3 -13.7h0m-55.4 -18.1h0m90 -2h0m-67.3 -2h0m-55.6 21.5h0m-27.7 -11.5h0m0.5 5h0m49.5 -12.5h0m-88.3 -10.8h0m130.3 8.4h0m40.9 12.5h0m-31.2 9.7h0m-115.1 -6.1h0m69.4 11.3h0m30.3 -16.5h0m-12.8 7.5h0m39.8 18.7h0m-160.4 -41.2h0m73.1 0.4h0m31.6 17h0m-13 1.5h0m-22.4 -6.2h0m36 0.9h0m-76.9 -27.7h0m107.2 33.9h0m8.6 7.9h0m-10.2 -35.4h0m-19.6 34.2h0m41 15.2h0m-111.8 -27.8h0m143.3 2.5h0m-0.6 18.2h0m-114.1 -26.3h0m127.1 8.6h0m-126.5 -26.4h0m154.8 28.1h0m-139.3 16.9h0m-97.8 -47.4h0m177.6 12.7h0m-141.3 9.1h0m183.7 -25.1h0m-200.1 12.8h0m58.2 26.7h0m163.9 -15.1h0m1.8 16.8h0m-31.1 11.2h0m-43.2 -22h0m-46.7 -28.9h0m88.6 31.6h0m-235.6 -30.1h0m63.1 20h0m121.1 26.8h0m27.7 4.7h0m-54.9 -1.1h0m-116.9 -52.1h0m36.5 15h0m33.1 25.9h0m28.2 -26.2h0m-14.5 -5.5h0m-42.8 22.3h0m100.5 17.1h0m-24.4 -6.7h0m36.4 1.8h0m25.7 -7.5h0m-132.1 -5.2h0m-18.1 -24.9h0m127.7 36.8h0m26.2 10.4h0m-42.4 -17.4h0m-114.1 -7.9h0m138.5 -31.9h0m-31.8 33.6h0m32.7 0.8h0m-101.3 15.3h0m-9.6 -19.6h0m-15.9 -17.3h0m99.1 43.4h0m-6.7 -34.6h0m21.2 21.6h0m-93 -11.9h0m75.4 -2.9h0m-30.1 25.7h0m-12.6 -18.9h0m-4.8 -17.8h0m30.5 28h0m-56.1 -11.8h0m140.3 8.9h0m-5 -18.9h0m-114.6 28.4h0m66 6.2h0m-0.3 0.8h0m19.8 -27.3h0m-72.6 6.5h0m-84.3 -28h0m27.6 25.7h0m41.3 -3.1h0m37.7 18.1h0m40 -0.5h0m-189.1 -43.6h0m174.2 46.6h0m65.7 -26.8h0m-75.4 -31.5h0m18 53.4h0m-6.1 8h0m-1.9 2.2h0m48.8 -28.3h0m-127.7 -18.7h0m111 7.2h0m-88.1 31.9h0m53 2h0m-88.6 -19.3h0m131.6 12.3h0m-22.3 -33.4h0m-128.3 9.3h0m124.1 16.1h0m-49.7 11.1h0m120.6 -5.7h0m-154.6 -14.8h0m-7.3 -3.6h0m128.2 23.2h0m-97.1 -27.7h0m-56.9 0.7h0m46.2 15.8h0m-40.8 1.5h0m14.2 -16.6h0m120.8 3.4h0m-112.1 -19.4h0m8.5 38.8h0m-12.9 0.3h0m109.2 -12.4h0m-29.1 28.3h0m73.8 -33.5h0m-173.2 -11.8h0m-51.9 4.2h0m121.2 18.1h0m42.6 -1.2h0m-84.3 -5.3h0m10.6 -7.4h0m12.6 -8.5h0m-34.1 23.7h0m20 -31.8h0m93.5 7.2h0m-85.8 14.1h0m38.1 -0.2h0m-40.8 26.5h0m101 -52.3h0m-133.6 18h0m-53.3 2.4h0m128.5 26.8h0m14.3 0.5h0m50.8 -38.4h0m25.8 21.5h0m-253.8 -24.6h0m165.7 17.6h0m2.7 -4.2h0m-71.9 1.2h0m82.5 29.7h0m-96.9 -25.5h0m-28.1 -3.2h0m55.9 16.6h0m50.3 -33.3h0m92.1 27.1h0m-139.7 -23.2h0m97.8 -4.5h0m5.6 4.5h0m1.2 23.9h0m-49.4 -0.3h0m-79.4 -23h0m43.9 29.4h0m-7.3 -29.2h0m63.3 33.2h0m39.6 -8.6h0m-56.9 15h0m86.2 -7h0m-130.3 -2.1h0m58.9 -2.9h0m-73.6 -0.8h0m79.8 11.8h0m36.6 -1.4h0m-127.5 -5.3h0m-30.4 -35.9h0m50.9 44h0m45.9 -45.5h0m-44.8 12.9h0m0.9 -15.1h0m44.7 54.3h0m51 -52.5h0m-76.7 35.7h0m-29.3 -0.7h0m130.7 -10h0m-48.7 -9.6h0m-68.1 21.9h0m-20.5 -10.7h0m111.8 23.1h0m-81.7 0h0m-22.4 -3.7h0m120.1 -30.8h0m-203.3 1h0m173.4 -10.9h0m-120.6 -5.1h0m51.6 17.4h0m123.8 2.1h0m-25.7 15.2h0m-85.4 -21.7h0m31.7 39.9h0m-98.6 -58.1h0m62.5 44.8h0m5.4 11.9h0m94.1 -15.6h0m-28 9.3h0m-53.7 -19h0m-3.5 -19.3h0m47.7 16.6h0m-97.3 -2.1h0m-11.9 -25.5h0m132.7 16.7h0m-94.2 13.8h0m-62.9 5h0m54.9 10.5h0m-35.2 -22.3h0m25.6 14.8h0m-14.8 -9.3h0m124.9 23.3h0m-90.8 -0.1h0m-23.4 -44.6h0m82.3 14h0m44.7 13.6h0m-88.2 -2.8h0m39.3 -12.4h0m-67.2 27.4h0m25.9 -26.5h0m9.9 -47.2h0m30.7 52.5h0m39.3 -23.6h0m-189.3 23.8h0m43.7 13.4h0m146.6 1.6h0m-138.6 2.5h0m123.7 -8.3h0m-65.7 8.4h0m-58.3 -6.9h0m146.7 -21h0m9.6 18.5h0m-56.8 -21.7h0m-122.2 17.7h0m102.2 5.9h0m68.9 7.8h0m-78 -69.9h0m-86.7 46.6h0m85 -58.6h0m-1.5 62.2h0m100.3 11h0m-189.6 -3.6h0m73.6 -11.6h0m89 4.4h0m-134.6 -7.1h0m-2.3 14.4h0m44.4 -6.2h0m110.6 -15.1h0m-73.7 36.9h0m-86.9 -42.1h0m120.6 26.8h0m18.1 -0.4h0m-60.3 -21h0m-76.5 28.8h0m73.6 -29.5h0m-96.9 16.1h0m60 17.1h0m76.3 1.2h0m-39.8 -52.2h0m53.1 36.9h0m41 -23.9h0m-132.7 21.5h0m62.3 27.5h0m-92.2 -34.5h0m28.9 12.2h0m1.7 -14.1h0m45.8 10.8h0m14.3 4h0m-122.5 -27.2h0m50.2 15.4h0m15.9 7h0m-23.4 16.3h0m0.8 -32.3h0m53.1 -23.9h0m-46.6 19.7h0m83.9 44.3h0m-73.6 -27.8h0m99.4 28.4h0m-20.5 -12.5h0m-14.4 -12.8h0m29.8 0.3h0m-114.1 18.5h0m76.8 10.8h0m-66.5 -12.4h0m71.8 -3.5h0m-18.7 14.6h0m-9.9 -14.9h0m-60.1 -6.9h0m-19.9 -2.4h0m54.1 0.8h0m66.3 18.9h0m-102.9 -10.7h0m73.7 -20.1h0m10.5 37.4h0m-81.2 -25.6h0m80.4 24.6h0m-83.9 -37.4h0m62.3 1.2h0m-38.7 14.4h0m71.3 14.9h0m-51.9 -11.4h0m48.3 5.4h0m-67.5 -16.4h0m6.5 -8.9h0m29.1 3h0m-3.6 22.9h0m66.8 -19.1h0m-143.5 11.1h0m56.4 -32.6h0m43.2 35.6h0m-7 8.7h0m59.7 -32h0m14.9 -0.1h0m-189.3 -8.5h0m108.5 -37.2h0m-37 53.4h0m81.1 2.1h0m26.3 17h0m-130.5 -1h0m-23 -16.7h0m51.8 7.6h0m118.3 -8.4h0m-39.8 8.8h0m54.6 -7.6h0m-88.7 13.4h0m37.2 12.4h0m-63.9 -51.5h0m41.7 39.5h0m-149.5 -24.8h0m30.4 4.9h0m42.3 7.1h0m118.3 23.9h0m-81.2 -51.1h0m94.7 44.9h0m-40.9 -32.4h0m9.3 33.2h0m-123.2 -20h0m126.5 -25.2h0m-21.5 57.9h0m-22.8 -7.8h0m-84.1 -17.7h0m54.7 13.6h0m79.8 -22.6h0m-16.5 -9.8h0m-131.7 -9.6h0m39.6 17.2h0m5.9 -20.1h0m96.3 45.9h0m37.2 -19.5h0m-125.1 10.1h0m38.6 -45.4h0m70.3 37.2h0m-163 -2.5h0m106 30.7h0m-47.2 -31.3h0m-36.9 -18.1h0m6.6 18.1h0m100.5 3.1h0m53.3 -2.7h0m-121.9 -27.9h0m98.4 47.1h0m-114.8 -43.3h0m-55.4 -1.4h0m134.9 4h0m-143.9 5.1h0m-17.5 -6.1h0m55.1 6h0m97.1 25.1h0m-98.6 -7.6h0m-3.8 6.2h0m25.6 -0.8h0m-47.6 -29.8h0m183.5 27.3h0m9.4 12.7h0m-61.2 -1.8h0m-24.3 -1.7h0m40 1.8h0m-94.7 -32.7h0m-36.2 -5.6h0m112.7 16.3h0m-116.6 -6.1h0m137.2 33.8h0m-19.4 -41.2h0m-7.7 51.8h0m-13.1 -7.4h0m0.4 5.8h0m-90.1 -34.3h0m50.4 24.9h0m103.5 -47.3h0m-94.6 38.6h0m-54.9 1h0m-13.9 -1.7h0m69.2 -26.1h0m22 23.8h0m-80.9 -4h0m-4.7 -12.4h0m29.9 5.4h0m91.2 -20.7h0m-47.1 48.9h0m3.6 -5.9h0m-9.1 2.6h0m-46.6 -48.6h0m37.1 7.8h0m9 31.9h0m-12.7 14h0m-14.7 -10.7h0m-13.2 -26h0m3.5 17.4h0m-20.8 -11.3h0m38.9 18.2h0m90.6 -5.2h0m2.6 -10.2h0m-32.6 0.3h0m-61.5 6.8h0m18.1 -0.4h0m92.7 16h0m-5.5 -13.7h0m-128 12.6h0m37.4 -20.9h0m23.4 28.3h0m8.7 -2.7h0m-64.7 -14.1h0m8.2 -19.2h0m-30.5 16.2h0m190.3 -37h0m-116.5 0.9h0m76.4 45.3h0m-108.9 -24.3h0m-26.5 5.9h0m94.1 24.1h0m-98 -14.4h0m121.4 -7.4h0m21 -11.5h0m-25.4 21.5h0m26.3 1.4h0m-110.8 7.2h0m-13.7 -42.7h0m2.9 32.2h0m-79.8 -18h0m94.3 -7.2h0m-8 10.7h0m-48.2 -0.2h0m141 12.2h0m-25.1 19.5h0m-91.2 -25.9h0m139.6 10.9h0m-107.4 3.9h0m58.2 10.1h0m1.2 -32.2h0m-34.2 -15.9h0m49.9 50.9h0m-27.4 -7.1h0m-25.3 -13.9h0m24.4 20.9h0m-121.8 -41.2h0m142.3 28.1h0m-112.8 -5.2h0m-8.4 -15.2h0m155.9 23.6h0m-117.6 -24.2h0m43.7 9.3h0m53.7 1.1h0m-164.6 -31.9h0m163.2 45.5h0m27.9 0.2h0m-190.9 -28.2h0m62.6 28.3h0m47.6 -59.4h0m-16.4 45.3h0m41.1 10.2h0m-26.8 -5h0m85.4 8.1h0m-39.5 -33.6h0m-68.8 38.2h0m61.4 -59h0m-32.8 61.3h0m-66.2 -24.3h0m8.5 5h0m121.9 18.5h0m-117.3 -19.3h0m-34.6 -6.3h0m139.9 26.5h0m-105.1 -1h0m-2.8 -41.6h0m103.7 18.7h0m-18.9 -5h0m-6.3 17.9h0m-63.4 -11.9h0m119.7 -2.3h0m-198.2 -18.2h0m2 13.7h0m96.3 21.6h0m73.6 -2.4h0m-59.7 -53.4h0m42.7 35.5h0m-1 33.4h0m-17.8 -9h0m16.3 9.5h0m-48.2 -40.8h0m56.1 21.8h0m-59.3 7.3h0m-58.8 -7.3h0m11.3 0h0m119.4 3.6h0m-24.9 5.8h0m36.4 -10.6h0m-57.8 7.7h0m-47 -2.9h0m59.4 4.5h0m-68 -29.5h0m94.5 22h0m-120 -37h0m118.6 42.9h0m-43.7 -26.3h0m-42.6 23.9h0m-30 -24.5h0m61.1 31.6h0m66.4 -31.7h0m-97 31.1h0m77.8 -40.4h0m-68 25.6h0m-30.5 -3.6h0m-20.5 8.4h0m3.6 -14.7h0m5.1 12.5h0m130.2 13.1h0m-131.7 -6h0m-17.9 -7.6h0m46.6 3.1h0m16.2 7.8h0m-18.4 -4.9h0m9.2 -33.4h0m6.9 -5.8h0m105.4 25.2h0m-118.4 7.9h0m22.4 -36.2h0m-36.4 35.6h0m69.3 9.5h0m-35.5 -6.8h0m66 -25.2h0m-98.3 -11h0m33.7 7.8h0m69 26.1h0m-148.6 -37.2h0m167.6 42.4h0m-95 -3.1h0m100.6 0.1h0m-197.1 -19.2h0m174.1 8.6h0m36.3 16.6h0m-74.9 -2.1h0m37.5 8.8h0m58 -27.8h0m-44.5 8.9h0m-88.8 -1.7h0m-78.2 -15.7h0m63.8 24.2h0m74.4 -0.6h0m-89 -3.2h0m4.1 -11.7h0m128 13.7h0m-122 12.1h0m-9 -9.9h0m-24.7 -21.6h0m36.3 14.8h0m-18.3 -26.6h0m99.1 8.6h0m-116.7 14h0m35.1 -17.6h0m-30.6 -9.2h0m50 33.9h0m-34.6 -16.7h0m116.4 8h0m-50.9 0.8h0m-90.9 -0.2h0m33.1 10.1h0m-91.6 -25.6h0m108.8 -5.7h0m24.8 20.8h0m-16.9 23.4h0m44.9 3.2h0m-93.7 -20.2h0m58.5 17.6h0m-61.9 -29.9h0m123.8 10.8h0m12.2 -11.3h0m-97.2 -14.4h0m17.3 19.9h0m23.8 2.3h0m-66.4 13.6h0m15.8 -18.2h0m11.7 27.7h0m26.7 -1.5h0m-28.2 -20.1h0m81.9 -19.9h0m-145.9 2.2h0m3.9 15.8h0m65.1 -9.6h0m70.1 4.9h0m-82.2 11.4h0m9.1 7.1h0m26.8 1.4h0m-17.1 2.3h0m6 -10.3h0m14.5 -22.9h0m-75.3 21.2h0m163.8 -23.6h0m-79.7 -13.7h0m31 13.4h0m-32.5 -31.5h0m-99.7 28.4h0m71.2 37.2h0m21.9 -0.7h0m-51.8 -10.1h0m19.7 -8.4h0m9.9 6h0m-25.2 7.6h0m-12.7 -2.3h0m112.8 8.2h0m29.2 2.7h0m-23 -7.2h0m-132.2 -2.3h0m140.5 -27.5h0m-7 32.5h0m30.2 -25.7h0m-36.2 36h0m-113.3 -34.9h0m71.1 3.5h0m-16.2 26.3h0m8.3 -17.4h0m-48.9 -26.1h0m108.2 32.9h0m-0.7 -30.4h0m-196.9 6.5h0m193 7.8h0m-102.2 9.2h0m43.7 -10.1h0m51.8 16.5h0m7.1 9.8h0m-108.6 -9.6h0m80 -9.3h0m-48.1 25.8h0m122 -16.2h0m-184.5 1.3h0m97.4 13.6h0m20.6 -38.6h0m-117.8 -3.8h0m-3.5 -8h0m27 12.3h0m31.2 36.4h0m13.8 -22.6h0m63.9 10.2h0m-19.5 7.6h0m37.9 -29.1h0m-3.5 22.3h0m-138.1 2.6h0m31.7 3.4h0m90.1 -24.2h0m-51 10.9h0m53.1 19.6h0m10 -5.9h0m-167 -12.2h0m85.9 19h0m20.2 -76.5h0m-2.4 47.9h0m-86.5 15.5h0m121.9 2h0m-11.7 15.8h0m-4.2 0.3h0m16.2 -0.1h0m-58.5 -1.6h0m103 -14.8h0m-177.6 -6.2h0m136.1 -1.2h0m-184.4 -31h0m170.2 53.6h0m56 -36.6h0m-179.7 14.4h0m195.7 -13.6h0m-53.3 32h0m4.1 -4.1h0m-172.4 -36.9h0m165.4 -18.4h0m-159.6 13.8h0m174.9 3.1h0m-95.1 36.1h0m124.6 -2.6h0m-1.1 -24.2h0m-161.3 23.4h0m145 -40.7h0m-47.8 51.7h0m-59.4 -6.1h0m19.9 -0.7h0m-14.5 0.9h0m88.1 -4.9h0m-26.5 7.1h0m36.2 -7.1h0m-23.7 -43.1h0m-119.1 40.5h0m114.9 -24.1h0m10.7 29.6h0m6.6 6.2h0m-37.5 -3h0m-44.4 -17.4h0m54.1 18.8h0m-136 -31.4h0m173.4 32.5h0m-103.9 -50.4h0m-38.1 1.9h0m82.2 34.1h0m84.6 12.3h0m-71 -11.3h0m40 -7h0m13.6 -6.6h0m18 1.6h0m-6.1 5.2h0m-127.9 -5.6h0m41.9 -5.8h0m-32.3 -20.2h0m56.2 52.2h0m41.7 -14.7h0m-33.2 16.4h0m-19.3 -31h0m41.7 -3.6h0m14.5 31h0m-157.1 -12.9h0m160.7 2.1h0m-114.1 -34.5h0m-42.9 25h0m115.4 23.4h0m98.5 -18h0m-121.1 -33.1h0m35.1 33.2h0m-13 14.9h0m-7.8 -6.5h0m-94.3 -29.4h0m29.9 37.6h0m2.1 0.1h0m124.2 -3.7h0m-43.2 9.2h0m-41.7 -53.4h0m-47.3 41.8h0m113.4 7.4h0m-65.3 -16.6h0m-42.3 -7.4h0m-27 0.6h0m35.1 -3.7h0m100.2 8.1h0m-135.1 4.3h0m131.9 -32.6h0m-71.6 17.8h0m-42.2 -15.4h0m-15.5 17.5h0m-32.9 -19.9h0m108.6 -0.4h0m46.8 30.4h0m-8.7 8.7h0m-74.2 -31.9h0m100.4 37h0m-23.9 -42.3h0m-13.2 31.3h0m-144.2 -37.6h0m-13.3 20.4h0m99 -15.2h0m92 24.2h0m-24.4 -16.8h0m30.9 26.3h0m-146.6 -13h0m138.4 16.8h0m-72.2 4.4h0m-40.5 -34.1h0m9.1 -11.7h0m-77 4.5h0m172.6 35.6h0m-55.3 4.3h0m34.4 -30.2h0m-15.4 31.8h0m-64.7 -48.6h0m-17.6 33.6h0m173.9 5.1h0m-54.7 -20.1h0m-114.2 24.6h0m-52.6 -16.4h0m57.8 0.4h0m9.7 25.1h0m72.2 -10.6h0m-92 -34.8h0m144.5 19.7h0m-89.3 17.1h0m-16.3 -6.5h0m10.6 -24.5h0m23.8 3.3h0m-60 27.6h0m88.3 -4.9h0m-77 -31.8h0m99.4 45.7h0m-130.3 -12.6h0m153.8 0.5h0m-51.6 -15.2h0m-24.6 33.5h0m-58.6 -19.6h0m135.6 6.6h0m-122.6 -45h0m65.1 45.5h0m-35.6 -31.8h0m-76.9 0.4h0m139.8 38.3h0m-59 -35.5h0m61.8 24.3h0m-95.9 -5.4h0m-42 2.5h0m75 -6.3h0m134.7 -20h0m-163.5 0.1h0m53.8 40.9h0m11.7 -21.1h0m-115.6 -8.2h0m51.9 12.4h0m-10.3 7.8h0m24.9 -19.4h0m-60 -23.2h0m165.4 30.4h0m-23.6 -15.4h0m-44.9 37.6h0m-59.7 -12.4h0m41.2 -52.4h0m0.6 48.9h0m2.8 -32.8h0m-13 24.2h0m-48.9 -11.1h0m87.8 30.2h0m-50.4 0h0m69.6 -33h0m-38.8 41.2h0m-0.3 -14.6h0m2.4 -12h0m-115.3 -8.7h0m141.1 2.5h0m26.2 22h0m-28.9 -3h0m-32.5 -31.2h0m-59.1 18.4h0m42.6 3.7h0m111.9 -5.4h0m-96.3 19.2h0m-48.3 3.6h0m36.4 3.8h0m-78.3 -39.4h0m129.5 -45.2h0m-40.9 64.9h0m53.3 19.8h0m-153.6 -24.8h0m70.8 11.5h0m-58.4 -40.3h0m82.8 49.3h0m65.4 -36.3h0m-74.6 4.9h0m69.5 -7.6h0m-11.6 45h0m-45.9 -5.2h0m8.1 2.6h0m-0.9 -28.8h0m58.7 9.5h0m-33.6 16.9h0m-163.5 -34.3h0m24.4 0.4h0m169.8 8.9h0m-11.7 26.8h0m1.6 -6.2h0m-33.6 5h0m-42 -48.5h0m-33.5 41.9h0m76.5 1.6h0m8.6 6.5h0m-78.4 -52h0m88.2 26.5h0m52.2 -28.5h0m-33.5 7.2h0m37.2 6.1h0m-227.1 4.6h0m177.2 18.9h0m-27.6 21.7h0m6.3 -1.5h0m-47.2 -12.5h0m-10.7 -43.8h0m24.9 16.3h0m-7.7 22.1h0m79.2 -14.7h0m-63.5 -5.6h0m-23.1 35.3h0m134.4 -47.8h0m-116.3 27.8h0m-54.6 -23.8h0m154.5 25.2h0m-94.9 -29.3h0m105.1 31.6h0m-154.4 -17.4h0m60.7 11.1h0m-34.5 -13.9h0m16.5 36.4h0m-48.9 -41h0m89.2 6h0m2.4 28h0m-19.1 6.5h0m6.6 2.5h0m-68.8 -29.7h0m80.1 5.5h0m54.6 -32.8h0m-28.7 35.3h0m-129.2 10.1h0m92.8 14.3h0m-88.3 -39.1h0m78.4 37.1h0m3.7 -20.7h0m-68.3 -7.4h0m77.1 25.9h0m-19.6 -18.6h0m38.2 20.7h0m13.9 -23.3h0m-95.3 -14.5h0m2.9 11.9h0m-31.7 13h0m108.8 -30.6h0m-73.3 -1.4h0m99 38.9h0m56.7 -48.7h0m-133.1 37.2h0m67.6 -11.6h0m-1.8 20h0m2.7 -24.1h0m-100.7 -7.8h0m-0.7 36h0m39.8 -11.5h0m71.3 -15.5h0m-14.5 26.1h0m-33.3 5.9h0m-37.4 -7.9h0m57.7 -53.7h0m-98.8 28.2h0m78.2 34h0m-84 -16.6h0m13.4 4.1h0m81.3 7.3h0m-17.7 -17.4h0m-56.5 -21.9h0m-39.2 13.6h0m58 -6.1h0m-38.3 -4h0m70.4 36.1h0m-47.9 -32.4h0m58 26.4h0m-130.1 -17.9h0m51.4 11.4h0m45.7 16.6h0m-16.2 -8.8h0m110.7 -5h0m-29 12.9h0m-40.9 -26.8h0m47.6 -4.1h0m9.8 21.9h0m-121.3 -9.5h0m103.1 -9.1h0m-124.8 -7.9h0m3.8 14h0m95 22.1h0m47.9 -10.5h0m-101.5 -11h0m-90.9 -11.4h0m179.4 -24.2h0m-141.3 30.2h0m56.8 15.5h0m68.6 -27.5h0m15.3 -4.3h0m4.2 -2.5h0m-98.7 38.6h0m85.4 3.3h0m-28.8 4.8h0m-60.3 -27.8h0m104.2 21.4h0m-192.8 -36.5h0m111.2 26.8h0m75.8 -2.2h0m-148.6 -11.1h0m-13 -21.7h0m125.4 52.4h0m-35.6 -27h0m104.6 -12.7h0m-163.4 -15.1h0m90 41.4h0m-117.3 -23.9h0m24.8 14.7h0m169.4 1.9h0m-43.6 -22.9h0m-58.9 13.3h0m-28.9 21.7h0m13.5 -1.3h0m-71.2 -20.2h0m63.4 15.7h0m94.8 -38.6h0m-90.4 3.2h0m6.2 1.8h0m58.9 21h0m-116.3 -18.1h0m138.3 37.9h0m-13.8 -0.4h0m-3.1 -15.9h0m-70.7 -0.8h0m72.4 17.9h0m37.1 -15.2h0m-161.2 -13.7h0m107 18.1h0m-66.7 -11.1h0m15.9 8.9h0m64.3 -55.1h0m40.4 50.7h0m-71.9 -14.3h0m-133.3 -6.3h0m105.8 22.5h0m98.3 2h0m-64.7 9.7h0m-63.6 -36.8h0m66.4 47.2h0m-46.7 -56h0m-45.3 19.7h0m44.5 1h0m-55 -8.1h0m86 37.5h0m-114.3 -26.3h0m86.6 -6.6h0m-36 25.4h0m123.7 -39.4h0m-104.8 -0.5h0m1.1 38h0m71.8 13.2h0m-83.3 -11.5h0m94.1 -8.7h0m-106.5 -4h0m167.6 -31.5h0m-12.9 33.4h0m-2.3 -15h0m-116.8 -11.1h0m41.2 38.6h0m9.5 10.2h0m-49.1 -53.4h0m-24.7 24.9h0m-32 -6.7h0m100.7 24.7h0m28.2 -38h0m-71.5 20.1h0m57.6 15.2h0m10.3 -11.9h0m-151.9 -14.4h0m175.3 -5.1h0m3.7 26.5h0m41.5 -33.6h0m-66.8 36.4h0m37.3 -3.6h0m-102.8 -3.1h0m25.9 -62.4h0m-2.4 32.1h0m-65.1 18.1h0m128.9 -12.8h0m9.4 35.9h0m-117.7 -24.6h0m28.7 28.7h0m7.2 5.4h0m9.7 -64.8h0m103.9 35h0m-76.3 22.2h0m-92 -15.8h0m10.2 0.9h0m98.5 -4.1h0m-46.9 18.1h0m94 -4.9h0m-71.7 16.6h0m40 -16.8h0m-49.8 -1.5h0m-34.9 -11.9h0m83.1 19h0m-164.1 -36.7h0m52.4 31.9h0m-5.4 -3.6h0m93.2 -33h0m-70.5 28h0m108 -10.7h0m-44.4 8.6h0m-79.2 16.9h0m-30.4 -41.1h0m115.5 24.7h0m-31.9 12.2h0m-72.1 -4h0m122.4 -6h0m-89.6 9.9h0m132.1 -1.6h0m-135.1 -38.2h0m-28.8 18.3h0m111.9 21.8h0m31 2.8h0m-146.2 -41.7h0m-17.9 -1.7h0m50.7 35.7h0m55.4 15h0m-70.3 -8.5h0m44.3 -46.9h0m-14 18.2h0m9.1 17.2h0m55.4 -7.2h0m-83.2 15h0m75.7 -32.7h0m7.3 38.3h0m-100.3 -34.3h0m41.1 33h0m40.7 11.8h0m3.2 -2.4h0m71.1 -27.5h0m-89.3 29.5h0m21.5 -15.7h0m35.2 -20.3h0m-102.2 7.9h0m25.9 -2.6h0m-112.2 -13.5h0m104.7 30.3h0m9 -31.6h0m24.1 29.9h0m72.2 7.1h0m-32.9 4.8h0m23.7 -28.1h0m-109.8 16.9h0m67.9 -20.9h0m-86.5 27.2h0m-86.5 -41.6h0m58.5 10.4h0m175.3 14.2h0m-25.2 -27.4h0m-140.6 35.8h0m98.6 14h0m5.9 -7.1h0m-63.5 -26.5h0m36.7 -31h0m1.8 66.7h0m-43 -35.7h0m18.7 -13.7h0m23.2 -8.6h0m61.1 30h0m-106.7 0h0m-29.1 -0.1h0m84.8 26.7h0m2.7 -3.9h0m41.4 1.8h0m4.7 -6.7h0m-27.7 -38.3h0m-67.3 41.3h0m82.9 -11.6h0m37.8 6h0m-186.8 -29h0m120.3 29h0m59.4 -20.5h0m-49.1 -9.8h0m-5.3 24.2h0m-109 -8.1h0m150.6 -15.8h0m-77.9 18.8h0m16 14.8h0m-39.6 -28h0m-51.6 14.4h0m9.6 -18.5h0m123.6 17.9h0m11.4 15.7h0m8.5 1.3h0m-102.6 -1.1h0m21.2 -0.1h0m45.9 -24.5h0m-71.9 21h0m-14.5 -11.9h0m66.2 8.1h0m16.3 7.7h0m-28 -69.8h0m-19.6 32h0m129.3 22.8h0m-72.9 -19.6h0m29.7 9.8h0m-101.8 16h0m111.4 -0.9h0m13.3 0.7h0m-149.9 5.5h0m-13.6 -45.1h0m71.7 52.9h0m70.8 -36.4h0m-14 -12.6h0m14.3 29.9h0m35.9 -19.2h0m-127.7 17.6h0m-47.2 -4.1h0m114.6 -30.1h0m-98.7 43.5h0m21.1 -41.3h0m12.6 48.5h0m36.3 6.5h0m19.4 -61.6h0m8.7 20.2h0m-129.8 13.9h0m-39.4 -15h0m120.6 15.6h0m-39.8 15.1h0m101.2 4.4h0m43.1 -8.5h0m-68.9 -30.9h0m-124 25.2h0m171.8 14.5h0m-153 -28.5h0m-8.6 13.9h0m102.4 19.9h0m38.5 -6.5h0m-24.8 6.1h0m-117.1 -31.7h0m143.1 28.7h0m-171.8 -52.4h0m-10.9 6.2h0m197 36.5h0m-12.5 -12.7h0m-91.3 -0.1h0m66.7 22.7h0m1.5 -47.2h0m-99.2 34.3h0m117.7 0.2h0m16.6 12.9h0m-66 -36h0m17.4 13.8h0m10.2 -32.9h0m-106.1 34h0m41.6 -23.4h0m-4.9 1.7h0m-59.6 0.8h0m145.8 20.5h0m-74.6 20.2h0m18.7 -27.4h0m87.9 1.5h0m-130.9 -0.9h0m77.4 22.2h0m-82.9 -6.2h0m-66.3 -24.5h0m142.4 20.7h0m-77.2 -11.6h0m164.3 9.4h0m-88.4 9.5h0m-60.5 -22.9h0m6.5 15.3h0m65.6 -44.5h0m-100.5 45.2h0m130.1 7.1h0m2.8 -7.4h0m-99.9 11.5h0m-28.1 -39.4h0m82 40.7h0m49 -24.7h0m5.4 26.5h0m-126.5 -26.5h0m12.6 24.9h0m7.2 1h0m21.1 1.8h0m90 -27.7h0m-6.8 -19.7h0m-74.2 26.4h0m-90 -6.8h0m54.5 19.5h0m-15.5 -44.4h0m-29.5 21.9h0m31.6 9h0m115.8 13.5h0m-30.9 -16.8h0m-64.4 13h0m-20 10h0m68.6 8.7h0m51 -5.4h0m-156.7 -32.3h0m160.3 21.4h0m-159.8 -37.6h0m185.1 17.3h0m-109.3 22.5h0m-96.2 -41.2h0m112.5 32.8h0m-36.6 17h0m78.5 -25.7h0m-85.4 15.5h0m-58.2 -35.1h0m145.7 13.1h0m-65.6 17.6h0m-19.6 4.6h0m-29.2 0.1h0m132.8 -21.5h0m-151.7 -17h0m97.1 38.6h0m-153.7 -28.6h0m57.2 24.5h0m16.2 -15.1h0m-12.1 -3h0m-16 -18.6h0m61.7 30.7h0m4.8 21.8h0m91.6 -33.8h0m-24.8 -18.4h0m-67.7 33.4h0m95.1 2.7h0m11.5 8.1h0m-134 -16.3h0m134.2 -6.5h0m-131.1 1.9h0m51.7 -63h0m-5.2 92h0m-67.4 -20.5h0m130.4 8.7h0m-102 -6.5h0m-29.3 -10.6h0m136.5 21.2h0m-82.1 7.2h0m29.5 -5.8h0m75.1 -11.1h0m16.2 -6.8h0m-33.4 14.5h0m-127.4 0.4h0m144.9 -29.2h0m-79.7 -2.9h0m31.9 13.1h0m16.1 21.3h0m-90 -0.3h0m-43.8 -42.2h0m30.7 28.9h0m156.3 -8.3h0m-126.1 1.2h0m0.5 -17.3h0m48.3 13.2h0m-91.8 15.9h0m135.3 -1.6h0m-38.1 -1.6h0m-3.4 2.4h0m-7 7.8h0m-17.2 -40.3h0m7.2 37.1h0m18.3 -7.8h0m-65.7 4.8h0m68.2 -37.9h0m15.2 4.2h0m-2.2 29.2h0m-81.9 -11.7h0m61.1 13h0m54.2 0.3h0m-154.3 -31h0m114.5 13.1h0m-75.4 -19.5h0m-15.5 36.1h0m117.2 0.8h0m-112.8 -10.1h0m-62.6 -25h0m170.4 18.5h0m-102.1 -0.7h0m0 24h0m-12.5 -28.1h0m66.2 33.2h0m44.8 -47.3h0m-42.2 52.5h0m5.6 1.1h0m10.1 -26.1h0m-7.4 17.4h0m18.1 -28.8h0m-24.6 41.2h0m-26 -5.7h0m-33 -39.9h0m108.2 40.6h0m-36.1 -36.1h0m-60.8 21.7h0m50.6 16.6h0m-10.5 -12.6h0m-57.8 -27.4h0m80.7 7.9h0m56 6.6h0m-13.7 6h0m-62.4 13.7h0m6.7 7.1h0m-130.1 -25.8h0m67.2 -6.1h0m-11.4 4.6h0m106 -27.9h0m-35.3 48.6h0m72.5 -49.2h0m-187 4.8h0m6 27.6h0m46.7 -2.7h0m-35.3 -3.9h0m19.4 -20.9h0m-50.8 0.9h0m103.7 10.9h0m-79.2 11h0m75.3 -17.3h0m-66.2 -2.9h0m149 37.1h0m-177 -28.6h0m79.1 20.7h0m-25.3 -26.2h0m-22.3 24.8h0m114.4 -36.1h0m58 21h0m-189.7 16.4h0m142.9 -4.4h0m-131.1 -0.2h0m53.3 15.4h0m100.4 -47.4h0m7.4 37.1h0m-56.6 9.4h0m-21 11h0m-1 -61.4h0m-62.8 46h0m-18 -24h0m-26.1 11.4h0m55 -28.6h0m83.6 55.7h0m-81.9 -32h0m72.2 26.7h0m48.6 -20.5h0m-64.8 -2.2h0m5 7.7h0m-116.7 -22.3h0m160.9 26.8h0m-61.4 -12.8h0m39.4 -3.9h0m3 -7.2h0m-61.1 22.9h0m107.6 -27.2h0m-31.9 19.4h0m-8.7 4.9h0m15.4 -18.4h0m-129.1 -6.8h0m20.4 29.4h0m131 -3.3h0m-189.6 -7.7h0m210.8 -10.3h0m22.6 7.2h0m-229.9 -3.4h0m146.6 -19.4h0m-63.9 3h0m25.1 -21.8h0m4.3 19.5h0m87.8 8.9h0m-93.1 4.8h0m49.4 15.5h0m-173.2 -30.3h0m82 48.6h0m-38 -28.5h0m46.3 -22.2h0m-32 28.6h0m86.2 23.2h0m13.2 -37.2h0m-71.7 1h0m62.5 20.2h0m-43 -22h0m47 16.4h0m34.9 -12.8h0m-184.2 -15.5h0m183.6 16h0m-102.1 16.4h0m41.9 -26.8h0m33.3 37.7h0m-83 2.5h0m78.1 6.2h0m-99.7 -39.9h0m90.4 34.2h0m4.7 -14.7h0m-40 -13.9h0m-6 -15.9h0m16 -28.1h0m91.1 31.3h0m-139.9 18.1h0m-26.6 -10.4h0m128.8 -16.8h0m30.3 43.6h0m-25 -3.8h0m-7.9 14.5h0m13.5 -10.9h0m-136.1 -16.8h0m-13.2 -20.4h0m103.8 50.8h0m45.1 -9.3h0m-167.3 -35h0m35 -10.3h0m-8.7 31.1h0m68.8 -32.3h0m-141.4 1.2h0m113.3 38.2h0m113.4 -24.4h0m-25.6 1.4h0m-8 11.7h0m19.5 8.7h0m-1.8 6.3h0m-90.6 -3.2h0m29.1 -8.3h0m11.1 8.9h0m-87.7 -42.2h0m184.2 27.5h0m-61.9 -8h0m-173.5 -18.2h0m179.3 45.7h0m13.7 -4.1h0m-63.7 -22.8h0m-30.2 5.5h0m98.9 18.8h0m-54.1 0.9h0m-58.1 5.7h0m5.8 -19.1h0m38.3 -42.5h0m-95.2 48.8h0m98.9 -24.2h0m-17.4 30.1h0m38.6 0.8h0m-73.9 -3h0m-83.2 -27.7h0m185.8 -1.4h0m-123.4 19h0m-53.3 -16.3h0m88.3 4.3h0m41.9 1.5h0m79.3 12.4h0m-2.7 -33.9h0m-19.9 42.7h0m-44.9 16.2h0m21.6 -3.7h0m8.3 -3.9h0m5.5 -48.4h0m-3.9 -0.5h0m-29.7 46.8h0m-70 -35.3h0m112.7 23.4h0m-2.4 -4h0m-65.8 -5.6h0m-14.9 16.2h0m67.3 -36.9h0m-17.4 47.5h0m-47.5 -17h0m83.8 6.7h0m-67.3 -76h0m-96.1 42.8h0m-64.4 -5h0m94.7 11.3h0m-72.8 -1.1h0m36.3 13.3h0m166.3 -18.6h0m2.6 -7.5h0m-136.3 36.8h0m122.6 -33.8h0m-23.2 42.6h0m10.8 -10.8h0m-140.8 -15.8h0m104.5 21.6h0m-26.4 7.4h0m-4.5 0.2h0m99.8 -1.3h0m-36.5 -60h0m6.6 63.6h0m12.5 -40.2h0m-46.6 25.1h0m-109.6 -7.6h0m111 21.7h0m-61.2 -40.9h0m15.5 -6.1h0m17.6 -1h0m-60.6 20.1h0m115.4 -37.8h0m-123.2 47h0m-26 -15.5h0m155 4.9h0m27.8 -6.7h0m-94.6 19.1h0m74.7 2.7h0m-33 17.7h0m-60.6 -15.9h0m120.8 7.8h0m1.7 -23.3h0m-40.6 -11.4h0m-8.8 19.3h0m46.6 17.1h0m-20.7 -39.9h0m-46.7 13h0m-20.6 2h0m8.6 11.4h0m-91.3 -33.8h0m64.6 -1.5h0m-27 37.1h0m34.7 16.2h0m70.9 -4h0m-71 -8.5h0m60.4 7.7h0m17.3 -22.1h0m22.7 3.4h0m-68.7 8h0m-104.8 -10.7h0m156.2 -25h0m-0.9 26.4h0m-1.4 22.6h0m-5.2 1.5h0m-92.6 -31.4h0m-23.8 24.1h0m73.5 3.9h0m-120.2 -47.2h0m119.4 50.8h0m21.4 -8.3h0m38.7 -6.3h0m-117.5 12.1h0m34.5 -16.9h0m66.3 7.1h0m-25 11.4h0m-11.1 3.2h0m60.1 -46.2h0m-75.3 29.8h0m29.6 -1.5h0m-78.5 -22.2h0m-21.7 18.8h0m15.6 -2.9h0m89.4 -12h0m-30.5 1h0m-99.7 11.5h0m74.4 -6.6h0m-33 8.2h0m-16.7 -6.1h0m75.4 -21.1h0m29.1 43.1h0m-55.2 -47.8h0m-50.1 44h0m82.7 6.4h0m-82.9 -47.1h0m109.3 28.1h0m-107.1 -19.8h0m105.8 9.6h0m-7.9 26.5h0m-145.6 -33.4h0m210.4 28.9h0m-140.2 -1.3h0m-2 -8.6h0m46.1 -39.6h0m-44.3 27.8h0m10.3 -10.6h0m-81 12.8h0m54.3 -6.2h0m21.4 24.6h0m92.6 4.8h0m-52.1 -72.4h0m1.1 62.8h0m-96.2 -14.7h0m68.3 30.1h0m63.8 -19.1h0m-70.6 -6.2h0m118 -1h0m-90.7 -1.8h0m-46.4 10h0m51.8 -50.8h0m-87.8 35h0m102.6 18.7h0m-67.1 -10.7h0m23.2 -23h0m87.4 38.6h0m-157.3 -18.8h0m55.6 -7.4h0m20.3 -13h0m88.6 35.5h0m-54.3 -20.7h0m-97.9 -5.2h0m55.7 36.6h0m-20.8 -12.7h0m108.4 -25.8h0m-124.2 -4.4h0m-31.7 -2.3h0m30.2 38.8h0m147.4 -19.3h0m-38.4 24.6h0m-70.9 -14h0m6.7 -13h0m26.9 -43.3h0m32.2 39.3h0m13.7 -20h0m-76.3 17.3h0m-14.8 -11.4h0m4.5 0.7h0m-49.4 19.1h0m68.7 21.8h0m59.8 2.1h0m-8.8 -19.2h0m-73.5 14.8h0m120.1 -0.5h0m-99.2 -39.6h0m-56.9 39.2h0m-10.5 -21.6h0m55.3 -1.2h0m-3.1 26.3h0m72.5 0.1h0m-70.3 -18.7h0m86 27.5h0m-185.1 -43.4h0m68.3 19.4h0m-3.2 -13.6h0m-32.1 16.7h0m144.1 -9h0m-103.1 6.1h0m25 -2h0m13.9 4.5h0m75.3 -17.2h0m-7.2 10.5h0m-97.9 20.4h0m67 8.7h0m2.6 -0.5h0m-38 -9h0m114.1 -9.1h0m-173.5 -27.7h0m-56.7 8.1h0m120.5 35.6h0m77.7 -32.6h0m2.8 12.4h0m-20.7 10.9h0m13 8.2h0m-81.3 -45.8h0m65.5 3.6h0m-51.3 18.9h0m-82.2 -28.8h0m56.3 48h0m41.2 -41.7h0m40.4 8.9h0m0.6 13.7h0m-59.7 -23.8h0m70.8 45.6h0m-78.4 -16.2h0m-69.2 -7.2h0m63 -29.3h0m-43.6 36.3h0m22.6 9h0m20.5 8h0m55.8 -6.4h0m53.8 2.3h0m-114.8 3.5h0m52.9 3.5h0m-83.4 -8.3h0m41.5 -0.2h0m6.7 -16.1h0m5.3 -12.4h0m65.2 26.3h0m-100.8 -36.5h0m-20.4 20.1h0m-51.3 -26.6h0m70.6 47.4h0m87.4 -14.2h0m-135.4 -29.5h0m22.3 -0.4h0m3.4 -1.2h0m106.7 32.7h0m-106 5.9h0m26.1 -11.6h0m96.3 4.9h0m-36.6 22.6h0m-48.3 -17.6h0m77.2 14.7h0m52.3 -13.7h0m-154.8 -29.7h0m-29.2 14.6h0m15.5 -19.3h0m28.2 37.2h0m-58.9 -35.6h0m41.5 37.4h0m123.7 0.6h0m17.7 -14.9h0m-148.1 -7.1h0m59.8 8.1h0m-45.6 -0.6h0m90.1 -31.4h0m-105.3 24.1h0m150.4 14.5h0m-84.4 -12.2h0m-44 -27.6h0m5.2 -1h0m10.8 10.9h0m-23.9 37.8h0m99.1 4.3h0m-141 -34h0m161.8 -13.8h0m-10.3 24.6h0m46.7 0.7h0m-180.7 12.8h0m48.2 -4.9h0m-30.9 2.5h0m64.7 -13.3h0m-29.8 -17.6h0m135.2 18.5h0m-39.9 4.6h0m-21.5 -25.5h0m-77.3 34.4h0m-59.5 -0.5h0m39.2 -35.2h0m-16.7 29.1h0m19 -17.5h0m135.9 5.7h0m-179.1 10.8h0m60.7 17.7h0m56.9 -32.9h0m-19.2 24h0m39 -2.7h0m16.6 12.6h0m-146.9 -18.3h0m49.9 -12.7h0m-53 -11h0m166.5 34.3h0m-115 5.4h0m70.2 -34.8h0m-53.7 33.9h0m-52.3 -40.8h0m127.6 25.7h0m-137.1 -10.7h0m66 20.7h0m39.8 -8.5h0m-8.4 21.2h0m-23.7 -12.8h0m-45.7 -2.6h0m1 -27.3h0m-5.7 12.5h0m45.1 -25.8h0m71 45.5h0m-41.1 12.8h0m-54.6 -15.4h0m37.3 -21.8h0m-27.7 26.5h0m-45.2 -5h0m25.1 9.5h0m98.6 -10.4h0m-64.7 0.7h0m79.1 9.4h0m-21.2 -39.4h0m-64.1 2.4h0m108 1.6h0m-30.6 26.9h0m-3.4 -12.3h0m27 16.6h0m-52.1 -27.8h0m32.9 -3.8h0m-34.4 -2.4h0m-7.3 40.9h0m-16.9 -35.5h0m8.7 37.7h0m-105.1 -53.7h0m122.3 48.2h0m25.6 1.1h0m20.8 -43.8h0m-37.3 48.5h0m-16.7 -15h0m-193.5 -36.6h0m6.2 6.9h0m6.3 -2.3h0m10.4 0h0m8.3 13.8h0m6.2 -2.3h0m8.4 2.3h0m8.3 -2.3h0m4.1 6.9h0m12.5 4.6h0m-8.3 2.3h0m241.3 -29.9h0m-6.3 -4.6h0m-6.2 9.2h0m-116.5 -39.2h0m25 9.2h0m-12.5 78.4h0" stroke="#979797" stroke-width="9.4" stroke-linecap="round" fill="none"/>
<path d="M823.8 372.6h0m17.9 13.9h0m-21 27.6h0m-19.1 1.7h0m1.5 -17.6h0m-18.4 15h0m37 -78.1h0m-57.2 51.8h0m47.4 28.1h0m-34.6 -22.8h0m17.3 -84.6h0m-0.8 83.3h0m-29.3 -77.5h0m35.7 27.9h0m-6.7 42.8h0m-28.9 -18.6h0m38.3 30.2h0m4.1 -49.4h0m46.4 39.2h0m-7.6 3.1h0m-89.4 10h0m-13.9 -36.8h0m100.7 30.4h0m-40.6 4.2h0m25 -20.1h0m-96.3 -25.5h0m58.9 -6.1h0m29.3 67.2h0m-73.3 -5h0m95.1 -23.4h0m-92.1 24.2h0m37.1 -55.5h0m14 51h0m0.7 -71.3h0m-28.7 6.7h0m-6.3 75.9h0m74.9 -0.1h0m-51.8 -100.6h0m34 98.4h0m-65.5 -20.3h0m89 -3h0m-34.6 -34.1h0m-30.1 11.9h0m42.5 43.4h0m8.4 -45.8h0m-30.9 47.3h0m-18.4 -19.9h0m34.9 -26.8h0m-44.1 -8.3h0m51.9 28.7h0m-33.1 -19.1h0m60.4 34.8h0m-86.9 -4.2h0m26.3 -18.7h0m49 37.8h0m-44.7 -40.2h0m44 -18.8h0m-30.9 43h0m21.2 -37.6h0m-4.5 -3.6h0m-55.4 -7.4h0m11.1 47.6h0m17.9 7.8h0m2 -65.4h0m32.5 54.5h0m-0.1 6.3h0m-21.5 -80.6h0m36.6 91.5h0m-9.8 -0.9h0m-10.4 -37.8h0m-7.8 -41.5h0m-26.3 57.8h0m32.9 16.1h0m-48 5.1h0m5.8 -1.7h0m-8.5 -55.2h0m72.3 26.1h0m-16.9 7.2h0m9.2 -19.1h0m-18.6 21.2h0m25.2 2.5h0m-74.4 -2.5h0m23.8 1.7h0m4.4 6.2h0m-44.9 -39.8h0m43.1 44.4h0m-55.3 -4.8h0m73.3 -8.7h0m-80.5 5.8h0m59.7 -14.6h0m19.7 2.3h0m-94.1 20.6h0m18.1 -27.2h0m32.6 -26.9h0m42.4 41.7h0m-71.4 13.6h0m81.1 -22.9h0m-17.4 14.8h0m-15.5 -74.6h0m5.3 -13.8h0m16.2 45.4h0m13.5 49.8h0m2.3 -34.4h0m-30.6 30.8h0m-46.3 -16h0m50.3 29.1h0m-17.4 -95.5h0m52.6 47.4h0m-72.6 23.9h0m43 -49.2h0m-41.8 20h0m74.4 49.9h0m2.2 -55.3h0m-21.3 51h0m-42.5 -10h0m43.9 -30.2h0m-35.4 42.2h0m-15.9 1.1h0m20.8 1.6h0m-10.2 -42h0m64.8 18.9h0m-34.8 -13h0m-38.4 39.8h0m40.6 -36.3h0m-12.3 23.4h0m-53 15.3h0m58.8 -39.6h0m-29.4 18h0m69.6 7.6h0m-34.7 -81.5h0m-92.1 59.8h0m35.1 -37.4h0m26.4 38.5h0m14.5 -21.5h0m-1.5 45.2h0m-19 -4.4h0m35.9 -78.1h0m2.7 61.2h0m-0.6 0.9h0m16.3 -34.8h0m-45.7 -32.8h0m-21.4 43.2h0m13.6 25.2h0m55.7 18.1h0m-30.5 -72.9h0m-18.3 70.3h0m6.4 -8h0m-0.3 -15h0m-43.1 15.6h0m53.1 -13.6h0m-15.4 35.7h0m7.1 -5.7h0m-27 -35.8h0m12.9 -14.9h0m61.5 13.9h0m-77.2 40.4h0m50.3 -17.6h0m-66.1 -51.1h0m-26.6 27.4h0m80.5 21.7h0m-57.7 -5.2h0m31.2 -41h0m12.7 41.8h0m52.5 7.3h0m-5.6 -64.6h0m-40.7 80.3h0m24.6 -31h0m-36.1 27h0m58.7 2.4h0m4.5 -27.8h0m-61.6 -32.3h0m31.5 14.4h0m-57.8 48.4h0m12.9 -13.8h0m-8.6 -9.9h0m84 -20.7h0m-79.4 4.4h0m34.9 4.7h0m-4.1 -74.1h0m-37.2 66.9h0m67.4 40.6h0m-74.2 -42.8h0m40.9 -2.3h0m7.4 17.2h0m49.9 12.1h0m-49.7 -3.6h0m-22.9 18.7h0m9.1 -32.4h0m24.4 8.9h0m-25.6 -32.2h0m19.6 49h0m-75.3 -20h0m43 3.2h0m39.3 26.7h0m-84.7 -34h0m12.2 -25.5h0m28.5 11.7h0m81.3 4.7h0m-6.6 24h0m6.8 4h0m-2.5 7.9h0m-68.9 -88.8h0m37.3 69.7h0m-41.1 -75.5h0m72 64h0m-63.8 9.8h0m38.9 -1h0m-46.3 15.4h0m1.8 -17.6h0m23.9 -17.1h0m38 2.7h0m-70.7 -29.6h0m55.1 4.1h0m-101.3 65h0m73.5 -13.6h0m19.1 -59.6h0m14.7 49.5h0m-38.3 29.5h0m-1.7 -0.2h0m16.3 -17.3h0m28.4 -5.3h0m-93 20h0m6.6 -26.7h0m17.2 22h0m41.6 8.6h0m27 -1.4h0m-5.5 -6.5h0m-6.6 2.8h0m-26.6 -13.3h0m-43.7 -0.2h0m62.8 -35.6h0m7.6 33h0m-45.5 -8.3h0m27.3 -16.3h0m36.5 31.8h0m-57.7 -49.5h0m-11.4 18.1h0m-4.2 -12.1h0m23 -22.6h0m41.2 55.3h0m4.6 -7h0m-112.4 13.5h0m107.9 -15.8h0m-22 -16.7h0m13.3 -19.4h0m-70.9 -25.4h0m51.5 31.5h0m-14.6 51.3h0m-79.2 6.2h0m123.4 -27.5h0m-36 17.9h0m-26.8 7h0m54.2 -28.5h0m-20.1 -6.3h0m-31.6 20.5h0m56.3 -60.1h0m-106.7 83.3h0m91.9 -83.8h0m-2.2 -9.9h0m-63.1 84h0m101.7 -26.9h0m-4.2 -16.5h0m-84 51.8h0m64 0h0m-38.6 -0.8h0m15.3 -88.9h0m-0.4 74.6h0m6.2 -57.2h0m1.6 -16.5h0m11.1 28.5h0m-55.1 56.5h0m60.7 -39.3h0m-20.6 6.8h0m13 -43.2h0m29.3 60.2h0m-79.5 -52.6h0m-3.2 74.7h0m4.7 -4.6h0m53.6 -35.5h0m-2.3 28.6h0m-68.5 -92.1h0m73.2 54.9h0m-70.9 -21h0m24.2 40.4h0m54 -22.6h0m-28.5 42.3h0m33.9 -14.8h0m-86.8 -31.7h0m40.3 8.4h0m-39.7 -25.3h0m74.4 72.9h0m-16.5 -43.4h0m27.8 27.2h0m-52.3 -14.8h0m7.9 -40.6h0m31.3 38.9h0m-67.8 0.6h0m30.4 19.1h0m29.9 -13.5h0m-77.6 18.3h0m45.3 -68h0m15.3 23.4h0m25.3 22.9h0m-47.2 4.8h0m-6.8 -3.1h0m-9.5 -54.6h0m15.9 30.6h0m10.5 29.8h0m47.4 -7.6h0m8.1 21.9h0m-30.5 -39.6h0m-19.1 46h0m-22.6 -5.8h0m4.1 -42.3h0m67.1 44.6h0m-20.8 -28.9h0m-3.2 10.1h0m-60 11h0m54.6 -69.4h0m-79.3 58.8h0m-10 0h0m78.8 13.5h0m-28.1 -50h0m69.6 37.4h0m-132.4 14h0m129.9 5.9h0m-42.6 -90.7h0m6.2 9.4h0m-10.8 61.3h0m43.1 11.2h0m-43.1 -2.8h0m1.2 -35.5h0m44.9 40.5h0m-22.5 2.9h0m11.9 -26.6h0m-49.1 31h0m-10.9 -60.3h0m40.8 43.3h0m29.3 -30h0m-17.2 11.5h0m-21.6 8.2h0m-34.1 -0.2h0m78.2 -5.5h0m-11 11.8h0m-69.1 4.7h0m58.8 -4.9h0m-38.7 0.4h0m-24.6 -12.6h0m50 -37h0m-4.1 20.5h0m-23.3 15.7h0m16.3 -21.6h0m48.2 28.2h0m-61.6 26.1h0m-24.7 -61.7h0m3.8 25.9h0m-47.7 12h0m113.4 13.7h0m-62 -24.8h0m-17.2 31.6h0m26.9 -64.7h0m48.2 60.8h0m-13.4 1.9h0m-53.8 -42.6h0m41.6 47.3h0m9.2 -1.9h0m-68.1 -7.4h0m48.9 -77.8h0m30 78.8h0m-11 -51.7h0m-2.5 48.5h0m-9.1 -1.9h0m6.6 -16.3h0m-29.6 7.6h0m-42.8 -34.5h0m55.7 48.5h0m55.4 -0.6h0m-40.2 -55.4h0m25.2 11h0m5.5 36.3h0m-35.2 0.6h0m37.8 13.3h0m-102 -45.3h0m53.7 6.3h0m52.1 6.1h0m-12.8 15.7h0m-5.5 -5.6h0m-21.6 -45.1h0m18.1 52.3h0m-32.4 5.5h0m-28.1 -59.8h0m79.3 77.2h0m-101.7 -54.6h0m39.9 27.3h0m44 -26.8h0m21.2 -8.9h0m-3.7 53.9h0m-76.9 -97.2h0m78.3 70.9h0m-53.1 -61.3h0m28.5 1.2h0m-25.8 39.2h0m4.6 13.2h0m54.8 -4.7h0m-22.7 42.6h0m4.5 -42.7h0m8.5 18.9h0m-26.1 23.9h0m27.8 -63h0m-35.5 55.5h0m-6.7 -87.5h0m-17 22.2h0m25.5 76h0m-43.6 -18.2h0m-5.5 4.6h0m-5.6 -34.8h0m3.2 7.6h0m22.6 -3.8h0m-3.1 44.3h0m-12.7 2h0m87.4 -45.1h0m-52.4 26.6h0m-58.3 13.9h0m58.2 -23h0m-47.1 -35.7h0m64.4 3h0m-3.5 18h0m10.8 39.7h0m6 -16.4h0m4.6 -16.3h0m-16.7 -50h0m-25.5 76.5h0m-48.1 -60.9h0m40.4 19h0m15.6 -23.4h0m-70.5 40.4h0m-10 6.4h0m14.9 20.2h0m103.1 3.7h0m-52 -56.4h0m-43.5 3.7h0m-32.5 48.6h0m58.1 -70.6h0m59.4 37.3h0m-34 34.6h0m39.8 -50.3h0m-53.6 36.4h0m11.9 13.8h0m59.8 -5.8h0m-46.7 -80.2h0m24.8 64.8h0m-78 14.8h0m12.8 5.9h0m-8.9 -25.9h0m75.5 0.7h0m-42.3 1.6h0m-40 -51.1h0m16.2 -12.7h0m54.8 73.8h0m3 -60.8h0m-69.8 49.4h0m13.4 30.6h0m28.8 -19h0m39.5 -16.9h0m-66.8 -8h0m32 -15.1h0m47.1 45.8h0m-52.4 -10.6h0m-4.8 -72.4h0m-27.3 -7.4h0m42.6 57.4h0m-7.9 28h0m33 -18.8h0m-68 36.3h0m-10.7 -25.1h0m22.8 25.2h0m57.9 -25.7h0m-25.9 -77.4h0m20.8 78.2h0m-32.7 -81.4h0m42.5 71.2h0m-56.2 -48.1h0m26 76.1h0m-40.2 -69.9h0m30.8 71.6h0m45.1 1.3h0m-34.2 -93.5h0m26.1 94.9h0m-45.3 -23.9h0m19.9 -30.1h0m-17.3 53.4h0m36.1 -34.1h0m-81 9.7h0m72.2 17.3h0m-17.1 2.5h0m35.1 -4.1h0m-65.9 -48.3h0m28.1 56.5h0m28 -7.7h0m-5.2 -2.1h0m29.2 9.9h0m-21 -60.4h0m-11 63.8h0m11 -37.9h0m-96.2 27.5h0m108 -37.3h0m-35.5 43.6h0m-15.1 -9h0m0.6 10.1h0m-20.4 0.1h0m44.5 -23.5h0m-8.3 -9.9h0m-70.8 13.5h0m86.7 -23.6h0m1.1 37.7h0m-1 -57.2h0m-42.2 58.9h0m5 -106.6h0m54.9 88.3h0m-60.2 22.7h0m49.5 -33h0m-50.3 28.7h0m33.3 -88.1h0m24 82.4h0m-17.5 3.8h0m-5.7 -1.9h0m35.4 -11.3h0m-70.2 -80.9h0m22.1 53.2h0m22.9 -14.4h0m-68.4 39.9h0m24.3 21.6h0m34.7 -57.2h0m-1.4 58.1h0m8 -82.7h0m-52.4 4.8h0m25.4 55.6h0m18.3 -27.1h0m-18.1 -20.2h0m-30 27.5h0m40.1 33.2h0m-12.5 -9.8h0m44.5 13.2h0m-23.1 -12.6h0m3.5 -6.4h0m4.7 18.3h0m-1.4 -25.9h0m-74.9 26.2h0m53.5 -19h0m-8.4 -38.5h0m57.3 6.5h0m-127.7 29.9h0m100.6 9.6h0m-95.9 3.7h0m67.8 -61.6h0m1.3 53.2h0m-43.2 13.6h0m54.4 -21.3h0m46.5 4.1h0m-75.2 20.3h0m48.7 -40.4h0m-16.9 -46.7h0m-49.2 83.9h0m-31.8 0.9h0m105 -5.3h0m-0.2 16.8h0m-43.9 -76.7h0m-16 -0.6h0m2.4 -15.8h0m34.5 55.9h0m-21.4 -7.1h0m6.9 26.5h0m20.2 -0.9h0m22.4 -31.2h0m-75.8 15.3h0m-3.3 24.3h0m76.3 -32.6h0m-81.7 36.9h0m50.7 -46.6h0m49.1 52.3h0m-52.5 -19.7h0m-53.6 14.3h0m64 -80.5h0m-19.1 76.4h0m59.3 -4.5h0m-16.9 -2h0m-32.2 -46.4h0m-8.3 -16.9h0m50.5 78.4h0m-36.5 -22.6h0m-1.9 19.6h0m2.2 0.2h0m12.7 -35.4h0m-68.5 11.4h0m59.8 -13.2h0m-73.1 -40.8h0m82 40.8h0m-81.8 6.5h0m62.3 3.7h0m-38.7 29.7h0m4.8 -39h0m28.5 -26.2h0m-32.2 22.6h0m17.3 40.3h0m34.7 -48.1h0m-15.9 45.2h0m-64.9 4.7h0m29.4 0h0m48.3 -45.8h0m-18.4 38.4h0m35.6 -22.4h0m6.3 -2.5h0m-32.8 29.7h0m26.2 2.8h0m-62.1 -105.7h0m83.4 67.8h0m-75.8 32.6h0m11.6 -58.5h0m29.3 64.6h0m-77.7 -23h0m13.9 -54h0m34 27.9h0m37.9 28.2h0m-68.2 6h0m28.2 13.2h0m42.5 -55.4h0m-13.3 9.6h0m-49.6 31.2h0m34.3 -38.2h0m12.9 -24.9h0m-11.4 26.8h0m4 25.2h0m-69.9 13.9h0m35.2 4.3h0m17.1 -36.1h0m20.3 -8.6h0m8.3 -31.8h0m19 58.6h0m-70 22.4h0m-8.1 -0.5h0m37.5 -12.9h0m38.1 15h0m6.1 -3.9h0m-36.6 -14h0m-54.8 11.3h0m24.9 -3.4h0m28.7 -14.7h0m-7.6 14.7h0m44.7 11.6h0m-86.7 -85.8h0m38.1 86.2h0m48 -3.3h0m-9.1 -1.9h0m-9.9 0.7h0m-48.6 -20h0m25.8 -18.1h0m-17.3 24h0m-18.4 -23.5h0m83.3 42.2h0m-47.4 -86.5h0m15 63.7h0m-1.9 17.8h0m10.9 -9.4h0m-51.4 -64.1h0m52.2 -11.1h0m-15.9 84.8h0m-16.9 -68.1h0m57.3 56h0m-46.9 17.6h0m51.9 1.1h0m-70.2 -105h0m40.1 53.9h0m14.9 15.6h0m-17.8 7.7h0m-64.3 15.8h0m72.1 -70.5h0m-1.3 51.6h0m-20.6 27.6h0m47.2 -27.2h0m-86.6 -27.7h0m-31.6 49.7h0m25.7 -18h0m17 -84.8h0m-14.2 107.2h0m51.6 -94.3h0m19.4 30.3h0m-70.8 37h0m35.8 -36.8h0m5.4 -39.9h0m31.5 96.4h0m-98.4 -13.6h0m38.8 11.7h0m65.8 -50.6h0m-21.2 -9.2h0m-21.1 57.8h0m9.9 -18.9h0m-18.4 -52.6h0m66 78h0m-24.9 -8.4h0m19.2 -23.1h0m-24 -42.5h0m-30.9 68.9h0m13.8 -25.4h0m42.2 17.3h0m-67.4 -26.5h0m29.8 -15.6h0m-51.8 39.4h0m3.7 2.6h0m-2.8 9.3h0m19.4 -51h0m19.3 55.1h0m20.8 -48.7h0m32.2 34h0m-103.9 15.7h0m67.2 -22.4h0m-26.6 0.5h0m-28.1 -20.5h0m87.2 39.5h0m-41.2 -5.7h0m38 -4h0m-94.9 -10.6h0m94.8 3.5h0m-63.8 12.3h0m5.7 -71h0m32.8 47.5h0m2.9 17.9h0m7 11.5h0m-38.4 -30.4h0m40.1 7.8h0m-9.5 -9h0m-93.1 29.8h0m84.9 -34.9h0m-17.8 11.6h0m-25.6 -8.2h0m56.3 14.5h0m17.9 3.1h0m-74.5 -67.7h0m-6.6 18.8h0m30.3 51.5h0m-20.8 -19.5h0m56.1 12.6h0m1.4 2.7h0m-82.1 24.4h0m37.9 -31.5h0m-7.8 18.5h0m37.9 12.5h0m-31 -6.7h0m38.5 -23.1h0m-42.2 -75.6h0m6 90.4h0m30.5 -27.5h0m26.3 22.6h0m1.6 17.7h0m-106.6 -4.1h0m-1.1 -81h0m-2.3 72.1h0m25.1 -19h0m34.4 10.8h0m-20.2 21.5h0m6.6 -102.3h0m-115 -22h0m8.3 108.3h0m20.8 -57.6h0m12.5 9.2h0m2.1 13.9h0m4.1 6.9h0m-2 6.9h0m6.2 0h0m0 18.4h0m62.4 -147.5h0m22.9 2.3h0m-25 27.7h0m2.1 -1h0m22.9 3.3h0m16.6 6.9h0m-29.1 0h0m-2.1 9.2h0m-14.5 4.6h0m2 0h0m16.7 2.3h0m-62.4 0h0m2.1 4.6h0m14.5 6.9h0m4.2 2.3h0m8.3 2.4h0m-31.2 43.8h0m2.1 6.9h0m2.1 -9.3h0m-6.3 20.8h0m10.4 -46.1h0m-2.1 9.2h0m10.4 -2.3h0m74.9 -23h0m4.2 0h0" stroke="#2e4d97" stroke-width="9.8" stroke-linecap="round" fill="none"/>
<path d="M930.1 402.2h0m12.7 -3.4h0m3.2 -9.1h0m-42.7 9.9h0m44.9 11.2h0m-19.8 -22.6h0m7.1 15h0m-8.2 -27.4h0m-13.1 21.2h0m-0.9 7.7h0m-15.4 9.2h0m14.6 -35h0m-8.3 33.2h0m17.1 -14h0m-23.1 5.5h0m4 10.6h0m14.5 -50.1h0m-8.8 26.8h0m32.2 15.4h0m-20.3 -30.6h0m-7.7 2.6h0m7.2 16.4h0m-8 -27.7h0m-7.4 46.2h0m-5.9 -16h0m6.5 14.5h0m-6 3.7h0m38.2 -46.4h0m-17.4 15.6h0m7 14.3h0m-25.2 -31.7h0m22.7 2.2h0m-18.3 31.5h0m-1.1 0.3h0m-2.4 -34.3h0m25.8 4.5h0m-26.8 41.9h0m-2.4 -11.2h0m35.9 -21.2h0m-38.4 34.5h0m36.5 -17.1h0m-31.6 11.8h0m14 4.8h0m-16.4 -7.8h0m11.3 -16.9h0m42.2 -9.5h0m-54.7 30.6h0m5.1 -16.3h0m-5.8 17.6h0m5.6 -45.5h0m1.3 33.9h0m-1.5 9.5h0m-1 -27.1h0m24.3 -6.1h0m-2.6 12.6h0m17.2 -29.7h0m-9.8 21.1h0m-19.6 29h0m33.6 -44.1h0m-37.7 26.3h0m-3.2 -4.9h0m43 12.5h0m-10 9.2h0m-11.2 -15h0m10.1 12.4h0m-21.8 -11.1h0m-5.6 -17.9h0m1.9 12.2h0m26.4 -18.7h0m-35.2 32.7h0m9.1 -3.5h0m40.2 3.1h0m-17.9 -17.6h0m-5 29.7h0m5 -8.2h0m18.4 -5h0m-49.1 8.6h0m17.5 -32.2h0m26 33h0m-47.8 -21.7h0m53.6 -7.9h0m-28.4 16.6h0m-13.4 8h0m-13.7 -5.3h0m55.9 -15.2h0m-27 11.1h0m-8.1 9.5h0m0.8 -26.4h0m23.8 6h0m-5 -7.1h0m-19.1 -9.3h0m3.1 34.4h0m20.2 -24.1h0m-16.4 35.2h0m20.5 -8.2h0m-42 -18.9h0m-1.9 24.4h0m12.8 -39.8h0m2.3 25.2h0m-14.1 -7.5h0m33.3 1h0m-6.6 -30.9h0m-14.9 -2.3h0m-10.1 44.7h0m0.6 -12.2h0m16.5 3.9h0m34.7 5.1h0m-43.3 0.8h0m-9.6 -19.5h0m37.1 16.2h0m-26.2 12h0m9.7 6.5h0m-17.9 -15.8h0m38.1 -39.6h0m-5.2 30.8h0m-37.2 -4.7h0m2.9 10.5h0m44.1 5.9h0m4.9 -17.9h0m-4.2 26.1h0m-5.8 -24.8h0m-31.4 16h0m5.5 -3.7h0m-1.8 -25.7h0m14.4 -4.1h0m5.5 44.6h0m15.9 -12.3h0m-48.2 0.8h0m44.1 2.4h0m3.8 2.7h0m-31.1 -21h0m-20.6 -10.6h0m15 25.8h0m23 -9.4h0m-3.1 0.5h0m13 -4.4h0m-25.6 8.7h0m-23.1 8.8h0m1.1 -1.6h0m22.6 9.5h0m-8.3 -8.8h0m31.9 2.1h0m-7.4 -24.4h0m-19.8 32.9h0m15.2 -1.9h0m-36.2 -11.4h0m27.7 -8.6h0m-9.6 21.2h0m-17.3 -32.5h0m14.3 16.4h0m0 13.5h0m15.3 -0.9h0m-15.1 -34.7h0m27.3 37.3h0m-37.3 -34.2h0m21.3 23.4h0m-7.6 -11.6h0m-7.6 17.6h0m-11.7 -10.7h0m21.7 -17.7h0m0.3 -5.5h0m-19.1 23.3h0m10.5 12.9h0m-10.5 -20.7h0m22.9 6.6h0m-7.4 6.6h0m59.7 2.5h0m-52 5.8h0m8 -27.7h0m-18.3 19.9h0m228.6 -347.8h0m-218.4 198.2h0m18.8 69.2h0m83.2 41.5h0m-27.1 2.3h0m2.1 36.8h0m-16.6 7h0m12.4 0h0m-16.6 -41.5h0m-12.5 -18.5h0m-4.1 4.6h0m-8.4 -2.3h0m-16.6 -6.9h0m-16.6 -2.3h0m6.2 -2.3h0m43.7 48.4h0m6.2 11.5h0m-10.4 -27.6h0" stroke="#dd2a2a" stroke-width="9.8" stroke-linecap="round" fill="none"/>
<line x1="639" y1="416.2" x2="1168" y2="416.2" stroke="#6cae52" stroke-width="1.6" stroke-dasharray="8.5 8.5"/>
<line x1="639.2" y1="32" x2="639.2" y2="499" stroke="#000" stroke-width="3.8"/>
<line x1="637.3" y1="497.2" x2="1168" y2="497.2" stroke="#000" stroke-width="3.8"/>
<line x1="633.5" y1="476" x2="638" y2="476" stroke="#000" stroke-width="3"/>
<text x="630.5" y="484.8" font-size="25" text-anchor="end">0</text>
<line x1="633.5" y1="360.8" x2="638" y2="360.8" stroke="#000" stroke-width="3"/>
<text x="630.5" y="369.6" font-size="25" text-anchor="end">2.5</text>
<line x1="633.5" y1="245.5" x2="638" y2="245.5" stroke="#000" stroke-width="3"/>
<text x="630.5" y="254.3" font-size="25" text-anchor="end">5.0</text>
<line x1="633.5" y1="130.2" x2="638" y2="130.2" stroke="#000" stroke-width="3"/>
<text x="630.5" y="139.1" font-size="25" text-anchor="end">7.5</text>
<line x1="666.4" y1="497" x2="666.4" y2="503" stroke="#000" stroke-width="3"/>
<text x="662.4" y="523.5" font-size="25" text-anchor="middle">-5.0</text>
<line x1="770.4" y1="497" x2="770.4" y2="503" stroke="#000" stroke-width="3"/>
<text x="766.4" y="523.5" font-size="25" text-anchor="middle">-2.5</text>
<line x1="874.4" y1="497" x2="874.4" y2="503" stroke="#000" stroke-width="3"/>
<text x="874.4" y="523.5" font-size="25" text-anchor="middle">0.0</text>
<line x1="978.4" y1="497" x2="978.4" y2="503" stroke="#000" stroke-width="3"/>
<text x="978.4" y="523.5" font-size="25" text-anchor="middle">2.5</text>
<line x1="1082.4" y1="497" x2="1082.4" y2="503" stroke="#000" stroke-width="3"/>
<text x="1082.4" y="523.5" font-size="25" text-anchor="middle">5.0</text>
<text x="887" y="547.5" font-size="29" text-anchor="middle">log<tspan font-size="20" dy="7">2</tspan><tspan dy="-7">(Fold Change)</tspan></text>
<text x="12" y="37.5" font-size="33" font-weight="bold">a</text>
<rect x="92.2" y="634.8" width="291.3" height="291.4" fill="#fff"/>
<line x1="114.4" y1="634.8" x2="114.4" y2="926.2" stroke="#f4f4f4" stroke-width="1"/>
<line x1="151.6" y1="634.8" x2="151.6" y2="926.2" stroke="#f4f4f4" stroke-width="1"/>
<line x1="188.8" y1="634.8" x2="188.8" y2="926.2" stroke="#f4f4f4" stroke-width="1"/>
<line x1="226" y1="634.8" x2="226" y2="926.2" stroke="#f4f4f4" stroke-width="1"/>
<line x1="263.1" y1="634.8" x2="263.1" y2="926.2" stroke="#f4f4f4" stroke-width="1"/>
<line x1="300.3" y1="634.8" x2="300.3" y2="926.2" stroke="#f4f4f4" stroke-width="1"/>
<line x1="337.5" y1="634.8" x2="337.5" y2="926.2" stroke="#f4f4f4" stroke-width="1"/>
<line x1="374.7" y1="634.8" x2="374.7" y2="926.2" stroke="#f4f4f4" stroke-width="1"/>
<line x1="92.2" y1="912.5" x2="383.5" y2="912.5" stroke="#f4f4f4" stroke-width="1"/>
<line x1="92.2" y1="875.4" x2="383.5" y2="875.4" stroke="#f4f4f4" stroke-width="1"/>
<line x1="92.2" y1="838.3" x2="383.5" y2="838.3" stroke="#f4f4f4" stroke-width="1"/>
<line x1="92.2" y1="801.2" x2="383.5" y2="801.2" stroke="#f4f4f4" stroke-width="1"/>
<line x1="92.2" y1="764.1" x2="383.5" y2="764.1" stroke="#f4f4f4" stroke-width="1"/>
<line x1="92.2" y1="727" x2="383.5" y2="727" stroke="#f4f4f4" stroke-width="1"/>
<line x1="92.2" y1="689.9" x2="383.5" y2="689.9" stroke="#f4f4f4" stroke-width="1"/>
<line x1="92.2" y1="652.8" x2="383.5" y2="652.8" stroke="#f4f4f4" stroke-width="1"/>
<path d="M261 912h0m-38 -2h0m75 -3h0m-80 3h0m-78 -6h0m48 3h0m-6 -2h0m-19 0h0m26 0h0m4 4h0m17 2h0m-11 -3h0m40 2h0m0 2h0m-10 0h0m1 0h0m-88 -7h0m9 -6h0m33 8h0m48 0h0m-72 5h0m44 -8h0m28 8h0m73 -1h0m-73 -2h0m-33 1h0m69 1h0m-38 -2h0m-21 3h0m59 0h0m-86 0h0m42 0h0m35 -6h0m-87 0h0m-6 0h0m38 2h0m5 3h0m13 1h0m-17 -7h0m34 -2h0m11 0h0m-20 7h0m-54 -4h0m93 4h0m-114 2h0m56 0h0m47 0h0m-64 -9h0m81 1h0m26 2h0m-14 2h0m-49 0h0m24 -2h0m-64 4h0m39 -6h0m-13 5h0m3 2h0m-16 -5h0m-74 -2h0m100 2h0m-4 4h0m74 1h0m-57 -2h0m-27 2h0m34 -5h0m-11 5h0m-27 0h0m-15 0h0m-46 -11h0m67 11h0m64 -4h0m-148 -8h0m39 9h0m72 1h0m-24 2h0m10 -1h0m-97 0h0m54 1h0m47 -3h0m3 -5h0m-12 8h0m-51 -4h0m61 -1h0m-74 6h0m11 0h0m-10 -4h0m111 -3h0m-79 5h0m65 -2h0m-27 4h0m-91 -3h0m3 3h0m139 0h0m-111 -5h0m118 5h0m-98 -3h0m67 2h0m-26 -2h0m8 0h0m-51 -8h0m13 7h0m50 0h0m-76 -6h0m-49 0h0m123 7h0m-66 1h0m81 -3h0m-75 -3h0m3 4h0m7 -3h0m61 7h0m-77 -4h0m18 -3h0m71 7h0m-48 -4h0m19 1h0m16 2h0m-58 -4h0m28 2h0m-49 1h0m80 -1h0m-42 3h0m7 0h0m-15 -4h0m57 -2h0m33 0h0m-172 0h0m35 -1h0m12 5h0m29 -7h0m3 3h0m49 2h0m-64 3h0m16 -7h0m7 8h0m-19 -2h0m10 0h0m-37 2h0m85 -8h0m-71 8h0m88 -3h0m-134 -2h0m58 3h0m50 2h0m-83 -1h0m124 0h0m3 -5h0m-127 3h0m-28 -2h0m16 -3h0m88 7h0m18 -1h0m-72 -4h0m22 3h0m28 -6h0m-76 5h0m-21 -5h0m69 9h0m56 -7h0m-44 4h0m0 1h0m-37 2h0m68 0h0m-113 0h0m71 -1h0m-23 0h0m19 -5h0m-33 4h0m71 1h0m-35 0h0m25 -7h0m-24 4h0m-20 4h0m-3 -4h0m58 3h0m-73 -2h0m30 -1h0m-2 4h0m25 -4h0m-21 3h0m100 -1h0m-167 -6h0m100 1h0m22 4h0m-117 3h0m122 0h0m-111 -2h0m88 0h0m-7 1h0m-21 1h0m-33 -4h0m-3 0h0m3 -3h0m-52 -5h0m6 -2h0m112 9h0m1 2h0m-13 3h0m-20 -3h0m14 1h0m-5 -3h0m-45 4h0m-15 -5h0m56 6h0m-49 -5h0m35 -4h0m64 4h0m-73 5h0m83 -7h0m-145 6h0m17 0h0m82 -1h0m3 -1h0m7 2h0m-52 0h0m57 0h0m39 -2h0m-33 2h0m-78 -2h0m31 2h0m-17 -8h0m90 8h0m-75 -3h0m-21 2h0m13 0h0m21 0h0m-5 -4h0m32 -2h0m10 3h0m-30 -1h0m-31 1h0m37 4h0m-55 0h0m53 1h0m-5 -1h0m52 -2h0m-8 1h0m-48 2h0m23 -7h0m-58 -3h0m62 5h0m-6 5h0m-11 -4h0m13 -2h0m-84 4h0m135 0h0m-44 1h0m-71 -2h0m-53 2h0m112 -2h0m-65 -5h0m115 8h0m-60 -5h0m-31 5h0m-40 -1h0m54 1h0m-3 0h0m36 -5h0m18 5h0m-26 -4h0m42 3h0m-35 1h0m-37 -4h0m37 0h0m-49 1h0m42 3h0m-66 0h0m73 -2h0m-83 0h0m104 0h0m2 2h0m-54 -6h0m4 6h0m-30 -6h0m-19 4h0m130 -1h0m-98 2h0m-26 -6h0m4 0h0m46 6h0m43 -8h0m-82 6h0m41 1h0m10 2h0m25 -7h0m-15 1h0m-56 6h0m-32 -6h0m2 5h0m100 1h0m-55 -2h0m20 2h0m20 -7h0m-56 7h0m-18 -3h0m8 -1h0m3 1h0m46 1h0m11 -3h0m-47 5h0m69 -6h0m-16 6h0m-54 -5h0m-19 1h0m66 -1h0m-70 2h0m134 2h0m-105 -7h0m57 8h0m-50 -2h0m4 -5h0m40 1h0m59 6h0m-97 -5h0m61 5h0m-41 -3h0m17 2h0m-52 -1h0m12 1h0m8 -1h0m-45 2h0m45 -1h0m8 0h0m70 -3h0m-4 -2h0m-95 6h0m47 0h0m9 -2h0m-111 -5h0m158 5h0m-91 1h0m26 1h0m-1 -3h0m5 -4h0m12 0h0m-39 5h0m3 -5h0m55 4h0m-67 3h0m55 -9h0m36 7h0m-167 -1h0m29 -8h0m100 9h0m-12 -7h0m44 8h0m-96 -7h0m83 5h0m-59 1h0m-62 0h0m106 1h0m-29 -4h0m-62 5h0m54 -1h0m-61 -3h0m-8 4h0m-3 -7h0m-16 5h0m137 -1h0m-2 -3h0m-66 2h0m78 2h0m-44 -5h0m45 1h0m-57 4h0m-55 1h0m3 -5h0m79 0h0m15 3h0m-15 2h0m-7 -7h0m49 7h0m-79 1h0m53 -3h0m-77 1h0m77 -3h0m-19 -3h0m-84 0h0m-32 -1h0m167 5h0m-145 4h0m101 -7h0m-55 1h0m-22 4h0m65 -5h0m21 1h0m4 -2h0m-52 8h0m23 -4h0m38 1h0m-50 2h0m1 1h0m5 -3h0m-9 0h0m-28 -6h0m33 9h0m-19 -7h0m67 5h0m-108 2h0m0 -7h0m2 0h0m42 6h0m-79 -3h0m33 -4h0m17 0h0m45 5h0m-16 -1h0m43 -2h0m-30 2h0m-41 0h0m-34 3h0m104 -7h0m-13 5h0m17 1h0m9 -3h0m-126 5h0m58 -3h0m-23 0h0m33 2h0m-67 -6h0m90 2h0m-79 4h0m33 -7h0m80 6h0m-36 -3h0m-30 -1h0m76 -1h0m-74 -2h0m-1 6h0m47 3h0m-106 0h0m74 -3h0m-36 1h0m79 -2h0m-92 4h0m10 -9h0m13 4h0m4 0h0m98 -1h0m-54 3h0m37 -2h0m-5 -1h0m-86 6h0m24 -4h0m-65 -6h0m85 2h0m-59 3h0m70 -3h0m-76 -2h0m139 3h0m-157 -4h0m66 9h0m-21 -6h0m39 1h0m52 7h0m-68 -3h0m-52 -2h0m120 2h0m5 -1h0m0 -2h0m-30 -3h0m-65 5h0m-52 -8h0m138 10h0m-81 2h0m29 -5h0m25 0h0m-3 -1h0m-116 1h0m174 4h0m-108 0h0m3 -6h0m-53 6h0m52 -7h0m44 -1h0m-72 1h0m18 4h0m1 -5h0m-9 1h0m61 5h0m-24 2h0m-35 -4h0m-18 2h0m26 -3h0m3 -1h0m57 -2h0m20 4h0m5 4h0m-74 -1h0m-25 -4h0m8 -2h0m102 3h0m-41 3h0m55 -2h0m-120 1h0m5 -1h0m75 4h0m-124 -12h0m41 12h0m126 -2h0m-162 0h0m124 -2h0m-43 0h0m31 -1h0m-25 2h0m-23 3h0m46 -2h0m-83 2h0m57 -7h0m5 2h0m9 2h0m-118 3h0m108 -4h0m-86 1h0m60 -4h0m-19 3h0m-31 3h0m-17 -6h0m8 7h0m127 -7h0m-73 3h0m-49 -3h0m32 7h0m46 -6h0m23 3h0m-90 3h0m80 -2h0m-28 -3h0m22 0h0m35 4h0m-142 0h0m130 0h0m-83 -3h0m-34 3h0m160 -4h0m-134 3h0m119 -1h0m-135 -2h0m30 5h0m-49 -1h0m43 -2h0m93 2h0m-55 -3h0m-71 0h0m72 2h0m0 -1h0m-50 0h0m43 -6h0m93 7h0m-21 -2h0m-9 4h0m-73 -2h0m17 1h0m17 0h0m-54 -7h0m74 1h0m-6 3h0m-72 0h0m-18 2h0m132 -2h0m-109 3h0m-4 0h0m-27 -2h0m43 2h0m72 -5h0m-120 5h0m107 -2h0m-28 1h0m12 -6h0m-58 7h0m-19 -2h0m101 -4h0m-71 2h0m77 1h0m30 1h0m-94 3h0m-41 -4h0m36 -2h0m98 -1h0m-44 6h0m43 -4h0m-19 5h0m-111 -7h0m85 7h0m-10 -3h0m16 -5h0m-72 2h0m-18 6h0m47 -5h0m38 3h0m-36 -6h0m16 1h0m9 -2h0m-25 4h0m90 3h0m-52 -6h0m-68 7h0m-16 0h0m83 -3h0m-88 4h0m28 -2h0m69 -1h0m-88 -7h0m127 5h0m-58 -1h0m18 2h0m-126 -2h0m34 4h0m96 -6h0m5 7h0m-137 -2h0m10 -9h0m104 8h0m0 -4h0m-72 5h0m31 -2h0m66 1h0m-136 -8h0m41 11h0m85 -4h0m-67 2h0m57 -4h0m-121 2h0m43 -3h0m-24 0h0m96 7h0m-111 -1h0m154 2h0m-93 -1h0m14 -2h0m-26 0h0m96 1h0m29 -3h0m-148 4h0m14 0h0m70 -6h0m-38 4h0m47 1h0m15 0h0m-131 -11h0m138 9h0m-43 -3h0m16 -1h0m-97 4h0m105 -5h0m-105 7h0m56 0h0m-5 -1h0m92 3h0m-50 -5h0m18 0h0m39 5h0m-51 -5h0m-103 1h0m-4 3h0m161 -2h0m-176 -3h0m113 5h0m-115 -5h0m43 -2h0m11 -1h0m0 8h0m36 -2h0m-52 0h0m28 0h0m87 2h0m-80 0h0m-14 -5h0m-35 1h0m38 0h0m11 -1h0m4 -3h0m5 3h0m66 3h0m-31 3h0m34 -6h0m-7 6h0m-124 -11h0m64 9h0m-56 0h0m20 -7h0m57 3h0m27 4h0m6 -3h0m-12 -4h0m-99 2h0m21 -3h0m62 2h0m-23 5h0m75 2h0m-48 0h0m-20 -1h0m-34 -2h0m28 -2h0m33 4h0m51 -4h0m-14 2h0m-12 -3h0m25 2h0m-101 1h0m17 -5h0m49 0h0m-23 7h0m-26 -6h0m42 4h0m-51 1h0m-38 -4h0m110 3h0m14 4h0m-139 -5h0m83 3h0m-83 -9h0m50 5h0m-26 5h0m79 -3h0m-92 -7h0m10 2h0m-21 0h0m50 0h0m28 7h0m-91 2h0m125 -7h0m-62 2h0m4 4h0m6 1h0m-19 -5h0m107 4h0m-123 1h0m65 -7h0m-60 2h0m58 1h0m-52 1h0m60 2h0m-65 -5h0m-15 3h0m22 -8h0m8 11h0m52 -9h0m-65 9h0m101 -7h0m-85 4h0m12 1h0m-37 -5h0m-13 7h0m15 -1h0m76 -4h0m-52 2h0m-42 0h0m0 -2h0m11 0h0m-3 -4h0m-26 5h0m52 -1h0m-20 2h0m74 -3h0m-76 1h0m106 2h0m-16 3h0m-102 -9h0m17 0h0m67 5h0m6 2h0m-114 0h0m47 0h0m-7 -8h0m16 2h0m19 3h0m-25 3h0m48 1h0m78 0h0m-42 -4h0m-62 -4h0m66 2h0m30 3h0m-120 -4h0m86 1h0m20 4h0m-94 -4h0m-5 4h0m-32 -1h0m88 -5h0m35 8h0m-27 -6h0m25 1h0m-80 6h0m6 -7h0m-61 6h0m138 -1h0m-70 2h0m-4 -5h0m-31 3h0m-39 -5h0m60 5h0m-17 2h0m8 -5h0m55 -1h0m-65 1h0m65 -3h0m-54 6h0m6 -7h0m-3 3h0m105 -1h0m-95 6h0m1 -4h0m-32 1h0m21 -3h0m-32 7h0m45 -5h0m34 -1h0m-84 -5h0m133 9h0m-136 -10h0m13 2h0m77 9h0m18 -1h0m-95 -3h0m22 -2h0m90 6h0m24 -4h0m-42 -3h0m48 8h0m-22 -1h0m-45 -7h0m-81 -2h0m47 5h0m-34 1h0m104 -4h0m-67 5h0m-23 3h0m96 -5h0m-100 5h0m-14 0h0m-1 0h0m-3 -1h0m-2 0h0m-2 0h0m-5 -1h0m-4 -1h0m-8 -1h0m-3 -1h0m-3 0h0m-3 -2h0m-2 0h0m-3 -1h0m-2 0h0m51 8h0m-11 -1h0m-7 -1h0m-4 -1h0m-3 0h0m-2 -1h0m-3 0h0m-2 -1h0m-1 0h0m-4 -1h0m-5 -2h0m-3 -1h0m-2 -1h0m-3 -1h0m-1 0h0m39 10h0m-4 -1h0m-3 0h0m-4 -1h0m-2 -1h0m-2 -1h0m-5 -1h0m-7 -3h0m-1 0h0m-2 -1h0m-4 -1h0m-1 -1h0m-2 -1h0m-4 -1h0m35 11h0m-5 -1h0m-2 -1h0m-2 -1h0m-2 -1h0m-3 0h0m-2 -1h0m-2 -1h0m-2 -1h0m-3 -1h0m-4 -3h0m-2 -1h0m-3 -1h0m-2 -1h0m37 -24h0m6 4h0m6 -1h0m5 -6h0m-22 15h0m9 3h0m6 -2h0m3 5h0m6 -6h0m-32 6h0m-5 1h0m15 2h0m11 0h0m-63 -60h0m109 75h0" stroke="#bcbcbc" stroke-width="3.3" stroke-linecap="round" fill="none"/>
<path d="M215 885h0m-19 17h0m-7 -22h0m12 23h0m5 3h0m-4 -2h0m-1 -46h0m-2 31h0m-10 -16h0m15 31h0m4 -35h0m-13 25h0m11 -35h0m-16 44h0m14 -29h0m-9 34h0m14 -27h0m-17 -20h0m1 0h0m7 22h0m2 8h0m-2 -6h0m8 -8h0m-6 -37h0m-2 62h0m15 -19h0m-5 1h0m-6 11h0m1 -45h0m-16 47h0m4 -28h0m-2 10h0m19 26h0m-4 -19h0m-7 16h0m2 -22h0m13 29h0m-16 -4h0m7 -54h0m0 34h0m-1 -6h0m7 11h0m-6 7h0m-12 -20h0m11 19h0m-15 -22h0m24 35h0m-3 -10h0m-1 -4h0m-8 12h0m5 -45h0m-20 9h0m12 6h0m6 14h0m-19 14h0m14 -21h0m6 22h0m-7 -27h0m15 7h0m-11 24h0m9 -42h0m-2 -5h0m-23 47h0m14 -37h0m5 -25h0m0 14h0m-6 44h0m3 -26h0m12 22h0m-24 -19h0m16 2h0m5 4h0m-13 -29h0m0 30h0m4 16h0m-2 -24h0m3 -33h0m0 53h0m-5 -6h0m5 11h0m-2 -2h0m12 -5h0m-15 -52h0m11 18h0m-2 7h0m-3 10h0m7 -10h0m-23 34h0m18 -12h0m-9 -17h0m-12 22h0m15 -4h0m5 -26h0m-18 8h0m18 -11h0m-10 18h0m1 7h0m18 0h0m-2 -2h0m-4 -3h0m-2 -34h0m-10 56h0m15 -6h0m-3 1h0m6 -27h0m-10 -1h0m-1 20h0m6 -2h0m0 -35h0m6 28h0m-11 -32h0m7 31h0m-5 -20h0m-17 30h0m13 0h0m-2 7h0m0 -38h0m7 21h0m-7 21h0m-8 -36h0m4 3h0m19 27h0m-18 -62h0m8 54h0m-11 9h0m15 -15h0m-2 21h0m-14 -9h0m3 -26h0m3 30h0m12 -5h0m-14 -19h0m-9 -4h0m7 -8h0m3 2h0m0 20h0m-11 2h0m26 15h0m-2 -10h0m-6 3h0m-13 -18h0m11 -6h0m-3 4h0m-15 0h0m11 3h0m5 27h0m0 -7h0m-1 -52h0m2 23h0m2 -2h0m8 26h0m-10 -31h0m11 12h0m1 1h0m-10 1h0m-8 17h0m10 3h0m7 -16h0m-27 7h0m14 -25h0m-3 34h0m0 -17h0m1 -36h0m1 -6h0m-6 17h0m10 50h0m-11 -46h0m20 19h0m-1 -17h0m-12 32h0m2 -34h0m5 37h0m-3 1h0m4 -1h0m8 1h0m-13 -19h0m-2 27h0m-9 -20h0m13 13h0m11 -5h0m-7 -5h0m-10 -41h0m2 54h0m3 -40h0m-5 -15h0m18 58h0m-30 0h0m9 -19h0m13 -4h0m-22 -5h0m13 -10h0m-6 29h0m10 0h0m0 -20h0m-2 9h0m-6 -5h0m8 -12h0m-12 33h0m3 -15h0m16 -9h0m-6 -12h0m-2 30h0m9 2h0m-15 -14h0m-8 -12h0m13 8h0m-10 26h0m12 -2h0m-5 -59h0m7 59h0m-3 -30h0m-2 31h0m15 -25h0m-9 -4h0m2 25h0m-3 -29h0m-9 -1h0m8 30h0m-7 -8h0m5 -18h0m1 19h0m2 -18h0m7 9h0m-16 3h0m10 15h0m-14 -18h0m1 4h0m15 11h0m-3 3h0m-11 -45h0m4 49h0m-8 -3h0m19 4h0m-9 0h0m13 -1h0m-11 -3h0m-10 -50h0m19 12h0m-11 38h0m-9 -27h0m9 15h0m9 -1h0m-7 -35h0m2 30h0m-7 -7h0m5 28h0m-5 -4h0m18 -12h0m-2 11h0m-22 -31h0m18 3h0m0 -1h0m-9 -2h0m-2 1h0m-10 35h0m17 -19h0m2 -34h0m1 31h0m2 12h0m-20 -16h0m20 9h0m1 -15h0m-20 -22h0m14 25h0m6 22h0m-3 -1h0m-12 6h0m14 -9h0m-5 -48h0m9 55h0m-16 -50h0m6 -3h0m-1 8h0m5 11h0m-16 39h0m10 -17h0m-9 -18h0m8 -13h0m-2 27h0m4 -22h0m6 41h0m-3 -16h0m1 6h0m-1 -1h0m-4 -14h0m-4 16h0m-9 2h0m10 -60h0m-2 55h0m7 -1h0m-10 10h0m13 -12h0m-10 -5h0m11 -26h0m-12 39h0m12 6h0m-7 -7h0m-2 9h0m8 -13h0m1 12h0m-6 -5h0m3 7h0m-2 -10h0m-5 -14h0m7 1h0m-4 4h0m-14 19h0m12 -37h0m8 2h0m-4 35h0m-1 -25h0m-4 15h0m-7 -18h0m4 -9h0m-3 16h0m-1 21h0m15 -6h0m-13 -15h0m16 16h0m-18 4h0m2 0h0m-6 -5h0m24 -26h0m-16 1h0m11 9h0m10 0h0m-26 9h0m14 -8h0m-4 3h0m14 -8h0m-16 -13h0m14 26h0m-17 -4h0m-4 -8h0m1 -2h0m8 -44h0m-1 71h0m0 -66h0m8 60h0m0 -5h0m-10 -47h0m12 40h0m-11 -52h0m-9 39h0m7 -20h0m10 18h0m-11 26h0m8 -15h0m-6 4h0m5 -4h0m-2 2h0m0 -27h0m9 40h0m-17 -1h0m15 8h0m-3 -47h0m-2 7h0m-3 -12h0m5 27h0m-1 5h0m-4 -30h0m5 19h0m-6 16h0m14 -19h0m-10 18h0m5 -36h0m-9 50h0m-2 -3h0m3 -67h0m6 51h0m-5 -8h0m9 -9h0m-6 21h0m-4 -41h0m9 34h0m-5 -2h0m-5 8h0m8 14h0m-11 -26h0m18 11h0m-4 10h0m-5 5h0m6 -10h0m-13 1h0m17 -8h0m-14 11h0m1 -45h0m-13 45h0m21 -16h0m-19 12h0m8 -54h0m13 43h0m-15 -18h0m-3 20h0m22 20h0m-4 -35h0m-14 -7h0m14 27h0m-4 14h0m-10 -32h0m3 28h0m-6 -23h0m5 12h0m-3 -7h0m4 -8h0m2 34h0m-4 -22h0m-5 14h0m18 -14h0m-9 -31h0m-3 -7h0m2 57h0m-6 -33h0m10 21h0m-1 9h0m-6 -15h0m-8 20h0m9 -61h0m7 22h0m-1 0h0m-13 35h0m2 -5h0m-5 -28h0m20 32h0m-19 -19h0m19 -27h0m-14 4h0m15 12h0m-18 33h0m13 -23h0m-1 24h0m0 2h0m-1 -5h0m-4 -69h0m11 54h0m-2 20h0m-6 -9h0m4 8h0m-3 -69h0m-1 33h0m-3 3h0m14 -3h0m-14 28h0m8 -35h0m-1 16h0m-13 -35h0m-1 61h0m5 0h0m1 -3h0m4 -16h0m-1 13h0m4 6h0m-15 -21h0m13 -2h0m-6 14h0m0 8h0m-2 -11h0m12 -34h0m1 15h0m-11 14h0m5 -5h0m9 22h0m-4 -16h0m-6 -41h0m-8 56h0m1 -1h0m6 -5h0m-10 0h0m8 -42h0m1 34h0m-10 14h0m6 -8h0m0 -24h0m10 13h0m-8 15h0m16 0h0m-25 -21h0m23 -1h0m-4 -10h0m-1 -14h0m-6 18h0m-2 -2h0m-2 -19h0m8 -8h0m0 63h0m-7 -67h0m-1 46h0m5 10h0m3 -50h0m10 40h0m-6 8h0m-1 6h0m-10 -4h0m12 -12h0m5 18h0m-16 -48h0m7 48h0m-1 -22h0m10 10h0m-21 0h0m19 0h0m-1 15h0m-4 -29h0m-4 -26h0m-10 43h0m6 -17h0m8 10h0m-7 -10h0m-32 -71h0m30 -12h0m-1 6h0m-1 9h0m-8 7h0m6 7h0m1 3h0m-6 3h0m12 2h0m-17 22h0m-8 21h0m3 -6h0m2 12h0" stroke="#3653a8" stroke-width="3.3" stroke-linecap="round" fill="none"/>
<path d="M240 899h0m35 5h0m10 1h0m-21 0h0m11 -2h0m-25 -6h0m24 6h0m8 -1h0m42 -3h0m-34 6h0m5 -4h0m-50 -3h0m56 4h0m-44 6h0m-12 -2h0m18 -1h0m18 2h0m-20 -7h0m-4 2h0m34 5h0m-43 -1h0m15 -2h0m-6 -7h0m17 4h0m4 1h0m-29 -1h0m55 6h0m-20 -4h0m27 1h0m10 -3h0m-32 -4h0m3 8h0m-30 2h0m0 -6h0m-18 1h0m13 2h0m48 -7h0m-21 8h0m27 0h0m-46 1h0m18 1h0m26 1h0m-46 -7h0m13 6h0m5 -9h0m-41 5h0m5 -4h0m47 8h0m-25 -5h0m9 6h0m-23 -5h0m6 2h0m32 -7h0m-31 10h0m8 -9h0m-24 6h0m49 -2h0m-17 -1h0m-22 0h0m42 1h0m-23 -1h0m-25 2h0m22 -7h0m2 8h0m-25 -2h0m0 -4h0m11 4h0m-15 -6h0m46 9h0m-22 -2h0m31 2h0m-27 1h0m6 -1h0m30 -9h0m-33 5h0m11 5h0m-27 -1h0m-18 -4h0m19 -3h0m60 2h0m-41 -3h0m7 8h0m-34 -8h0m43 0h0m-13 4h0m-21 -4h0m64 -1h0m-60 6h0m21 -5h0m6 8h0m-48 -5h0m1 3h0m60 1h0m-27 -9h0m0 6h0m-5 5h0m12 -1h0m15 -5h0m-1 6h0m-25 -8h0m8 7h0m-20 -7h0m9 5h0m7 1h0m40 1h0m-35 -1h0m-38 -7h0m62 -2h0m6 5h0m-65 7h0m22 -10h0m24 1h0m-14 -1h0m3 8h0m21 -2h0m-9 1h0m-5 0h0m-28 -1h0m1 -5h0m14 -2h0m-6 8h0m0 -7h0m31 6h0m-14 -1h0m-37 0h0m21 0h0m-4 -4h0m44 7h0m-26 -5h0m-25 4h0m-2 -6h0m41 8h0m-17 -9h0m10 8h0m3 -4h0m-28 -4h0m55 2h0m-49 8h0m48 -9h0m-26 4h0m-39 1h0m-2 -7h0m7 9h0m16 -3h0m-19 -7h0m29 2h0m-8 7h0m-29 -4h0m14 -4h0m55 8h0m-60 -1h0m19 -7h0m16 9h0m11 -6h0m-42 -3h0m41 2h0m10 7h0m-73 1h0m33 -10h0m-22 1h0m67 10h0m-36 -4h0m-41 0h0m61 2h0m-5 -2h0m20 0h0m-58 0h0m-7 -4h0m3 6h0m-14 -5h0m75 0h0m-16 5h0m-38 0h0m30 -5h0m-12 3h0m16 -5h0m-5 5h0m-33 -4h0m21 6h0m2 -9h0m-13 10h0m-15 0h0m17 -1h0m1 -6h0m26 -2h0m-18 5h0m-35 4h0m53 -10h0m-34 9h0m-14 -4h0m63 4h0m-6 -7h0m-42 -2h0m39 5h0m-12 1h0m-13 5h0m-36 -6h0m23 2h0m16 -8h0m15 12h0m-29 -6h0m-18 2h0m51 -4h0m-45 5h0m-2 -9h0m47 1h0m-49 5h0m2 2h0m10 -2h0m19 -2h0m27 3h0m2 0h0m-62 4h0m55 -1h0m8 -3h0m-62 1h0m-7 -5h0m62 7h0m-36 2h0m48 -9h0m-23 7h0m-11 -9h0m-10 7h0m27 3h0m-33 -4h0m-19 -1h0m27 -1h0m19 -1h0m12 2h0m-37 1h0m44 -2h0m0 -4h0m-68 2h0m10 8h0m49 -6h0m-7 1h0m-15 4h0m13 -2h0m-45 2h0m9 -7h0m37 7h0m-7 -9h0m10 3h0m-18 0h0m-26 -1h0m-4 6h0m65 -3h0m-12 2h0m-54 -2h0m49 -4h0m-12 7h0m-6 -1h0m-10 -3h0m-7 4h0m18 -2h0m-39 -2h0m69 0h0m-34 5h0m8 2h0m-15 0h0m26 -5h0m-7 -1h0m-52 3h0m49 2h0m-34 -1h0m4 -5h0m-16 4h0m8 0h0m20 -4h0m5 -2h0m-9 8h0m-20 0h0m29 -2h0m34 2h0m-25 0h0m22 -6h0m2 7h0m-18 -5h0m-48 -5h0m51 7h0m-21 -3h0m-28 4h0m39 -10h0m33 6h0m1 3h0m-14 -2h0m0 -7h0m-3 5h0m-46 0h0m33 -4h0m-41 6h0m12 4h0m38 -9h0m-56 8h0m64 0h0m-48 -4h0m38 -3h0m24 7h0m-73 -2h0m17 -2h0m-15 0h0m44 1h0m20 4h0m-19 -5h0m-26 0h0m10 -3h0m-1 2h0m-4 -2h0m14 5h0m38 -3h0m-50 4h0m44 -9h0m-71 10h0m9 -3h0m33 -5h0m-20 8h0m-15 -8h0m33 7h0m-33 -3h0m53 3h0m-65 -2h0m49 3h0m7 1h0m5 -6h0m-30 2h0m1 -7h0m-28 5h0m30 1h0m-24 -2h0m24 -3h0m36 5h0m-32 5h0m-18 0h0m6 0h0m29 -11h0m-10 7h0m-21 5h0m-4 -6h0m13 -2h0m14 8h0m32 -11h0m-77 8h0m28 -7h0m29 4h0m-58 -5h0m7 9h0m35 -4h0m-33 -1h0m24 5h0m49 -5h0m-34 3h0m-23 -1h0m32 0h0m-29 -7h0m30 7h0m-16 5h0m20 -10h0m-16 8h0m-24 2h0m-23 -6h0m80 5h0m-55 -4h0m10 -3h0m14 -1h0m-41 8h0m6 -2h0m66 -9h0m-43 11h0m-13 0h0m46 -7h0m-34 4h0m11 -2h0m0 -6h0m-2 6h0m-31 0h0m58 0h0m-27 5h0m-30 -4h0m16 -5h0m-11 7h0m45 -5h0m-44 4h0m12 3h0m50 -7h0m-35 4h0m30 -2h0m-59 1h0m18 5h0m-28 -10h0m-8 10h0m69 0h0m-7 -5h0m-50 -4h0m55 -2h0m15 6h0m-16 4h0m-3 -8h0m-36 -2h0m31 2h0m-16 2h0m-30 -1h0m19 4h0m30 1h0m-64 -4h0m66 7h0m11 -5h0m-37 -3h0m-15 -1h0m22 7h0m-10 0h0m-14 0h0m48 -5h0m-53 5h0m56 -8h0m-15 10h0m-18 -8h0m0 2h0m-11 -2h0m-26 4h0m9 2h0m67 -3h0m-51 5h0m0 -8h0m40 -2h0m-13 10h0m26 -11h0m-52 6h0m30 3h0m-50 -1h0m59 -9h0m-45 3h0m24 6h0m-35 -5h0m23 0h0m41 1h0m-16 6h0m-26 -1h0m4 -3h0m9 -3h0m-14 6h0m-27 -4h0m-5 3h0m48 -2h0m-30 -5h0m-12 -2h0m22 5h0m-29 -3h0m54 10h0m-15 -6h0m35 1h0m6 1h0m-11 -2h0m13 3h0m-12 -5h0m-68 0h0m35 -3h0m36 7h0m2 0h0m-63 -1h0m26 3h0m24 -6h0m17 -2h0m-42 2h0m9 -4h0m-5 3h0m-32 -1h0m67 8h0m-68 -10h0m-5 7h0m13 -3h0m61 0h0m-24 -3h0m5 2h0m7 -3h0m-46 5h0m6 3h0m34 -5h0m10 -1h0m-47 7h0m43 -7h0m-19 0h0m-23 2h0m-6 5h0m-3 -2h0m43 2h0m-22 2h0m28 -10h0m-4 11h0m5 0h0m10 -1h0m3 0h0m8 0h0m4 -1h0m6 0h0m3 -1h0m5 0h0m4 -1h0m4 -1h0m3 -1h0m5 0h0m4 -1h0m-62 7h0m21 -2h0m3 0h0m5 -1h0m3 -1h0m6 -1h0m4 -1h0m3 -1h0m4 -2h0m5 -1h0m4 -2h0m5 -1h0m-39 10h0m5 -1h0m3 -2h0m5 -1h0m4 -2h0m5 -1h0m3 -2h0m4 -3h0m5 -2h0m4 -2h0m-43 16h0m6 -2h0m4 -1h0m4 -2h0m4 -2h0m5 -3h0m4 -2h0m4 -3h0m4 -3h0m4 -4h0m4 -3h0m-104 -241h0m-4 12h0m30 66h0m17 115h0m-53 12h0m21 12h0m9 18h0m28 3h0m-56 -9h0m116 -3h0m-113 18h0m-5 1h0m20 3h0m13 -1h0m48 -2h0m-26 3h0" stroke="#e32226" stroke-width="3.3" stroke-linecap="round" fill="none"/>
<path d="M92.2 926.2V634.8H383.5V926.2" fill="none" stroke="#9a9a9a" stroke-width="1.1"/>
<line x1="92.2" y1="634.3" x2="92.2" y2="927.6" stroke="#000" stroke-width="2.8"/>
<line x1="90.8" y1="926.2" x2="384.5" y2="926.2" stroke="#000" stroke-width="2.8"/>
<line x1="88.7" y1="912.5" x2="92.2" y2="912.5" stroke="#333" stroke-width="1"/>
<text x="85.7" y="921.3" font-size="25.5" text-anchor="end">0</text>
<line x1="88.7" y1="838.3" x2="92.2" y2="838.3" stroke="#333" stroke-width="1"/>
<text x="85.7" y="847.1" font-size="25.5" text-anchor="end">25</text>
<line x1="88.7" y1="764.1" x2="92.2" y2="764.1" stroke="#333" stroke-width="1"/>
<text x="85.7" y="772.9" font-size="25.5" text-anchor="end">50</text>
<line x1="88.7" y1="689.9" x2="92.2" y2="689.9" stroke="#333" stroke-width="1"/>
<text x="85.7" y="698.7" font-size="25.5" text-anchor="end">75</text>
<text x="151.6" y="951.9" font-size="25.5" text-anchor="middle">-4</text>
<text x="226" y="951.9" font-size="25.5" text-anchor="middle">0</text>
<text x="300.3" y="951.9" font-size="25.5" text-anchor="middle">4</text>
<text x="374.7" y="951.9" font-size="25.5" text-anchor="middle">8</text>
<text x="242.9" y="620.7" font-size="27" text-anchor="middle">EVT</text>
<text x="251.6" y="981.5" font-size="28.3" text-anchor="middle">log<tspan font-size="17.5" dy="10.2">2</tspan><tspan dy="-10.2">(Fold Change)</tspan></text>
<text transform="translate(29 795) rotate(-90)" font-size="28.3" text-anchor="middle">-log<tspan font-size="17.5" dy="9.5">10</tspan><tspan dy="-9.5">(padj)</tspan></text>
<rect x="473.2" y="635" width="289.8" height="290.7" fill="#fff"/>
<line x1="502.8" y1="635" x2="502.8" y2="925.7" stroke="#f4f4f4" stroke-width="1"/>
<line x1="544" y1="635" x2="544" y2="925.7" stroke="#f4f4f4" stroke-width="1"/>
<line x1="585.2" y1="635" x2="585.2" y2="925.7" stroke="#f4f4f4" stroke-width="1"/>
<line x1="626.4" y1="635" x2="626.4" y2="925.7" stroke="#f4f4f4" stroke-width="1"/>
<line x1="667.6" y1="635" x2="667.6" y2="925.7" stroke="#f4f4f4" stroke-width="1"/>
<line x1="708.8" y1="635" x2="708.8" y2="925.7" stroke="#f4f4f4" stroke-width="1"/>
<line x1="750" y1="635" x2="750" y2="925.7" stroke="#f4f4f4" stroke-width="1"/>
<line x1="473.2" y1="913" x2="763" y2="913" stroke="#f4f4f4" stroke-width="1"/>
<line x1="473.2" y1="885.3" x2="763" y2="885.3" stroke="#f4f4f4" stroke-width="1"/>
<line x1="473.2" y1="857.6" x2="763" y2="857.6" stroke="#f4f4f4" stroke-width="1"/>
<line x1="473.2" y1="830" x2="763" y2="830" stroke="#f4f4f4" stroke-width="1"/>
<line x1="473.2" y1="802.3" x2="763" y2="802.3" stroke="#f4f4f4" stroke-width="1"/>
<line x1="473.2" y1="774.6" x2="763" y2="774.6" stroke="#f4f4f4" stroke-width="1"/>
<line x1="473.2" y1="747" x2="763" y2="747" stroke="#f4f4f4" stroke-width="1"/>
<line x1="473.2" y1="719.3" x2="763" y2="719.3" stroke="#f4f4f4" stroke-width="1"/>
<line x1="473.2" y1="691.6" x2="763" y2="691.6" stroke="#f4f4f4" stroke-width="1"/>
<line x1="473.2" y1="663.9" x2="763" y2="663.9" stroke="#f4f4f4" stroke-width="1"/>
<line x1="473.2" y1="636.2" x2="763" y2="636.2" stroke="#f4f4f4" stroke-width="1"/>
<path d="M721 906h0m-127 -2h0m-25 5h0m-48 -2h0m154 5h0m-36 -11h0m-71 10h0m126 -5h0m-19 -1h0m-146 3h0m55 1h0m48 -2h0m11 -1h0m22 5h0m-110 0h0m82 1h0m4 -5h0m12 5h0m-67 0h0m88 -2h0m-64 -6h0m29 8h0m27 -3h0m-58 3h0m44 -11h0m-124 6h0m128 2h0m-46 -3h0m12 7h0m-37 -2h0m75 -2h0m-9 -4h0m53 3h0m-181 -1h0m101 4h0m-27 -2h0m96 -4h0m-37 6h0m-8 -9h0m31 4h0m-133 4h0m51 2h0m55 -12h0m-76 5h0m102 5h0m-101 -5h0m111 1h0m-29 -2h0m-56 7h0m-11 -1h0m79 0h0m0 -3h0m-86 2h0m-26 1h0m117 0h0m-39 0h0m94 -2h0m-78 2h0m-7 -4h0m-23 2h0m-63 3h0m47 -4h0m106 0h0m-87 4h0m-65 -6h0m53 6h0m39 -6h0m-59 -4h0m-18 9h0m-3 -5h0m61 2h0m55 -4h0m-13 2h0m-10 7h0m-141 -7h0m91 3h0m25 3h0m-13 0h0m21 -1h0m-63 1h0m16 1h0m35 -3h0m45 1h0m-5 -3h0m-9 -3h0m-76 7h0m124 -6h0m-37 6h0m-33 -1h0m21 2h0m-105 -2h0m106 2h0m-23 0h0m-40 0h0m27 -4h0m-88 2h0m154 -4h0m4 4h0m-121 -5h0m-28 4h0m69 3h0m-108 -5h0m58 2h0m22 -3h0m61 -2h0m-57 7h0m106 -2h0m-10 2h0m-43 -3h0m-45 -1h0m53 -4h0m4 1h0m63 6h0m-161 -1h0m89 0h0m-36 -4h0m36 7h0m-51 -3h0m-12 -5h0m119 4h0m-148 1h0m82 2h0m-59 -7h0m106 7h0m-82 0h0m20 -3h0m-53 1h0m0 -2h0m118 1h0m-32 3h0m-114 -5h0m95 -1h0m-73 3h0m36 3h0m69 -3h0m8 -4h0m10 5h0m-29 0h0m-79 1h0m-14 -3h0m93 0h0m-57 -2h0m9 6h0m-36 -1h0m133 -5h0m-170 5h0m107 -2h0m70 2h0m-126 -5h0m-14 6h0m28 -3h0m85 -1h0m-83 5h0m-20 -10h0m5 3h0m37 5h0m111 -1h0m-156 2h0m-7 -2h0m112 -1h0m-104 -1h0m29 1h0m-7 1h0m-37 -3h0m17 6h0m-17 -3h0m125 -4h0m-107 4h0m59 0h0m-76 0h0m5 1h0m3 -8h0m71 1h0m-36 7h0m61 -1h0m52 0h0m-127 -6h0m12 8h0m-84 -3h0m127 1h0m-12 -2h0m-93 0h0m22 -2h0m43 3h0m-14 -7h0m-77 7h0m146 -2h0m-86 3h0m-3 1h0m19 -5h0m-56 2h0m96 2h0m9 3h0m-16 -1h0m-2 -1h0m6 -10h0m5 11h0m27 -5h0m38 -1h0m-75 6h0m-109 -3h0m119 -7h0m14 11h0m0 -10h0m-120 4h0m62 5h0m53 0h0m-56 -3h0m-13 4h0m56 -4h0m20 -4h0m-81 4h0m152 2h0m-119 -8h0m-2 0h0m76 2h0m-39 7h0m-43 0h0m-58 -1h0m71 2h0m-105 -8h0m117 3h0m40 1h0m-44 4h0m-26 -8h0m128 3h0m-152 4h0m28 -3h0m76 -3h0m-43 0h0m-28 3h0m-82 -2h0m172 -1h0m-162 2h0m93 5h0m1 -5h0m-23 2h0m88 -2h0m-6 4h0m-38 -3h0m-65 4h0m67 -9h0m32 8h0m-123 -1h0m133 0h0m-59 -9h0m-94 3h0m54 6h0m0 -7h0m-7 7h0m-50 -2h0m33 -6h0m39 -1h0m23 3h0m45 0h0m-87 7h0m-45 -2h0m124 -2h0m-53 4h0m-16 -9h0m-1 1h0m36 5h0m-44 0h0m35 2h0m105 -4h0m-180 -3h0m62 6h0m-17 1h0m-14 -7h0m28 2h0m118 2h0m-124 4h0m-54 -3h0m61 -5h0m-33 5h0m99 3h0m-116 -4h0m46 1h0m-27 3h0m80 0h0m-20 2h0m80 -4h0m-38 -3h0m-78 -4h0m35 4h0m-4 -2h0m-5 8h0m-22 -3h0m-34 -3h0m164 1h0m-107 5h0m32 -8h0m-120 0h0m99 -1h0m13 -1h0m-62 10h0m-16 -5h0m108 0h0m-117 2h0m115 3h0m-105 -6h0m128 4h0m-151 -5h0m23 4h0m20 3h0m32 -2h0m9 -2h0m4 4h0m-4 -1h0m-99 -4h0m83 6h0m-43 -10h0m-4 1h0m64 6h0m-105 -1h0m33 1h0m25 -8h0m-69 5h0m90 5h0m94 -1h0m-114 -9h0m44 8h0m-46 0h0m17 2h0m13 -2h0m-44 2h0m56 -13h0m27 5h0m-101 0h0m-44 0h0m48 2h0m11 5h0m-15 0h0m40 -7h0m-20 5h0m20 -1h0m-92 -2h0m108 -2h0m-25 5h0m35 4h0m-46 -3h0m74 -8h0m-123 4h0m138 -1h0m-23 1h0m-48 -4h0m-23 8h0m47 1h0m-32 -3h0m77 4h0m-59 -4h0m42 3h0m-13 -10h0m-8 11h0m-24 -9h0m92 3h0m-123 5h0m74 -7h0m12 8h0m-76 -5h0m103 2h0m-17 -6h0m-78 6h0m-16 3h0m27 -2h0m25 -1h0m64 -1h0m-41 -6h0m-18 8h0m-33 -4h0m-5 -3h0m70 4h0m-8 4h0m-79 -9h0m-19 3h0m-7 1h0m59 6h0m-47 -3h0m60 2h0m-64 -8h0m-26 3h0m76 2h0m-22 -3h0m36 7h0m13 -9h0m-52 3h0m43 2h0m-6 4h0m-27 -7h0m38 4h0m107 -2h0m-168 1h0m-24 1h0m8 2h0m63 0h0m-63 -2h0m90 3h0m-95 -3h0m36 -2h0m86 2h0m-72 -2h0m11 5h0m84 -5h0m9 -1h0m-77 6h0m18 -4h0m43 3h0m-136 -2h0m126 -2h0m-17 3h0m-14 -8h0m20 9h0m-93 -9h0m98 4h0m-31 2h0m8 -2h0m-88 1h0m9 0h0m44 6h0m-9 -10h0m-28 8h0m-16 -3h0m72 3h0m-62 -7h0m25 2h0m83 4h0m-40 -8h0m-13 9h0m-46 -5h0m-11 1h0m50 4h0m21 1h0m-35 0h0m58 -9h0m-29 7h0m43 -3h0m-3 4h0m-26 -9h0m-117 7h0m116 -8h0m33 6h0m-114 4h0m6 -7h0m81 8h0m-137 -8h0m79 4h0m-63 0h0m3 -3h0m12 1h0m88 -4h0m2 -1h0m-11 12h0m-11 -1h0m-6 -9h0m64 5h0m-11 -5h0m28 7h0m-176 -3h0m82 5h0m-18 -4h0m-13 -1h0m55 5h0m73 -5h0m-11 3h0m-152 -2h0m104 4h0m-48 -6h0m-46 -2h0m26 3h0m-24 2h0m15 2h0m108 0h0m-63 -7h0m51 4h0m-97 1h0m66 1h0m-39 -4h0m68 6h0m-38 -8h0m88 6h0m36 -2h0m-74 1h0m-31 3h0m-16 -1h0m10 -2h0m6 -6h0m4 2h0m-45 3h0m126 2h0m-141 -4h0m-7 -2h0m45 2h0m-62 1h0m66 2h0m37 1h0m26 -2h0m-41 -9h0m-4 9h0m5 -3h0m19 3h0m-53 2h0m22 3h0m35 -10h0m9 1h0m-147 3h0m134 3h0m-85 -8h0m15 0h0m12 3h0m-37 6h0m19 -6h0m27 -1h0m-73 1h0m200 3h0m-95 1h0m-9 -2h0m-13 6h0m69 -4h0m-129 2h0m122 -1h0m-98 0h0m62 0h0m-35 -4h0m-52 2h0m58 0h0m-72 -1h0m73 5h0m-71 -4h0m24 4h0m59 -9h0m34 5h0m-41 2h0m-80 0h0m19 0h0m97 2h0m47 -3h0m-32 3h0m-132 -3h0m168 -4h0m-18 5h0m-56 -12h0m32 10h0m-25 4h0m-49 -1h0m-76 -7h0m131 3h0m-102 -2h0m102 1h0m49 4h0m-66 -4h0m-31 2h0m-52 -1h0m156 -1h0m-130 6h0m9 -4h0m116 -3h0m-172 3h0m51 0h0m73 -5h0m-19 3h0m-65 4h0m42 -10h0m-64 10h0m63 -2h0m1 0h0m40 -5h0m-134 5h0m92 3h0m-48 -8h0m18 5h0m29 2h0m-30 2h0m54 -8h0m-37 -3h0m-57 5h0m147 5h0m-102 -8h0m-7 1h0m137 6h0m-3 0h0m-95 0h0m69 0h0m-94 0h0m45 -2h0m88 2h0m-25 -2h0m-92 3h0m-36 -6h0m55 6h0m-16 -5h0m-70 2h0m73 4h0m54 -9h0m-74 0h0m-22 3h0m45 3h0m13 -4h0m-90 4h0m56 -5h0m-48 0h0m113 6h0m74 -2h0m-115 -1h0m22 0h0m12 -2h0m-27 4h0m-8 -4h0m35 3h0m-115 -1h0m11 -1h0m-15 -3h0m93 5h0m-11 -1h0m-89 -3h0m174 3h0m-145 -3h0m142 1h0m-30 7h0m-89 -5h0m-47 -3h0m149 7h0m-101 1h0m107 -4h0m-94 3h0m83 -1h0m-93 -7h0m83 2h0m7 -1h0m26 3h0m-141 -1h0m-32 3h0m78 -8h0m-76 3h0m111 -5h0m-94 8h0m124 3h0m-63 3h0m8 -6h0m11 2h0m-56 -3h0m49 3h0m50 -6h0m-137 1h0m28 3h0m41 0h0m9 6h0m-38 -9h0m81 -2h0m-53 9h0m-33 -3h0m87 -1h0m-59 0h0m90 4h0m-67 1h0m-17 -2h0m5 -5h0m70 2h0m-132 -1h0m36 0h0m87 4h0m-49 -3h0m-69 0h0m102 -6h0m-54 1h0m-29 7h0m154 1h0m21 -1h0m-101 -1h0m-39 0h0m-24 -4h0m32 6h0m-1 1h0m-91 -6h0m59 0h0m103 6h0m-152 -2h0m106 -2h0m-33 4h0m46 1h0m-57 -6h0m-1 2h0m107 3h0m18 -5h0m-69 2h0m-82 -4h0m-31 -1h0m173 2h0m-34 -2h0m-109 7h0m77 0h0m10 0h0m-30 0h0m46 -2h0m-21 4h0m-48 -9h0m-31 7h0m141 -1h0m-53 3h0m-54 -7h0m-35 6h0m11 1h0m87 -4h0m-67 -6h0m-61 2h0m31 2h0m-34 1h0m164 3h0m23 -1h0m-154 -1h0m94 -6h0m-23 7h0m20 -8h0m-76 9h0m37 -5h0m-8 7h0m-47 -8h0m22 4h0m3 -3h0m92 5h0m-89 -4h0m47 5h0m-65 -3h0m-15 -5h0m119 9h0m-67 1h0m-22 -6h0m1 4h0m112 -2h0m18 -4h0m-114 4h0m61 2h0m-101 0h0m-14 -8h0m22 0h0m-13 6h0m60 -3h0m-73 -2h0m146 3h0m-130 3h0m-21 -1h0m131 0h0m31 -1h0m-104 1h0m90 -1h0m-125 4h0m8 0h0m-15 -4h0m123 -3h0m-124 3h0m147 3h0m-179 -8h0m155 3h0m-83 4h0m79 1h0m-72 -2h0m-23 2h0m94 -3h0m-115 2h0m15 -4h0m117 4h0m-69 0h0m-3 1h0m-55 -4h0m29 -4h0m-6 9h0m-32 -5h0m103 -4h0m-98 1h0m93 2h0m-12 5h0m-85 -2h0m78 -3h0m-27 -5h0m-80 6h0m127 -6h0m-68 11h0m-31 -1h0m22 -3h0m20 -2h0m-27 2h0m-54 0h0m115 -3h0m-105 3h0m-3 -5h0m35 2h0m80 -3h0m-86 4h0m112 4h0m19 -3h0m-132 -3h0m137 0h0m-134 0h0m111 2h0m-72 5h0m32 -1h0m4 -4h0m40 3h0m-104 -2h0m139 -2h0m-88 5h0m-4 -1h0m20 -3h0m-3 4h0m-24 -2h0m7 -6h0m-64 8h0m74 -1h0m-20 -3h0m143 1h0m-184 -1h0m40 -5h0m-86 3h0m111 8h0m3 -1h0m-90 -7h0m104 5h0m-63 0h0m85 1h0m-111 0h0m49 -7h0m69 4h0m-73 -2h0m111 2h0m-147 -1h0m-33 -1h0m135 2h0m19 -4h0m-108 6h0m24 -3h0m-47 -2h0m85 8h0m-96 -5h0m-19 1h0m10 0h0m112 -6h0m-20 7h0m-20 3h0m59 -10h0m-73 0h0m68 7h0m0 -3h0m-1 0h0m12 2h0m-34 3h0m-30 -10h0m-25 5h0m6 5h0m19 -4h0m-55 -1h0m-14 3h0m94 2h0m-61 -7h0m-49 2h0m152 4h0m-146 -4h0m101 4h0m-39 -2h0m44 4h0m-56 -1h0m-46 -7h0m106 -5h0m-39 8h0m-55 1h0m117 0h0m-7 0h0m37 1h0m-171 -5h0m197 3h0m-17 1h0m-114 -3h0m146 1h0m-218 -1h0m105 0h0m-15 1h0m80 5h0m-113 0h0m44 -4h0m64 5h0m-157 -4h0m69 -5h0m82 2h0m-105 7h0m20 -8h0m-23 6h0m51 -1h0m-39 -2h0m102 2h0m-45 1h0m-27 -8h0m31 4h0m36 1h0m-74 0h0m-1 -4h0m65 -1h0m-22 -1h0m-16 12h0m12 -3h0m-37 -1h0m49 -2h0m-101 -2h0m148 4h0m-81 -6h0m30 7h0m-97 -1h0m92 -2h0m-78 -4h0m-12 7h0m90 -7h0m38 3h0m-84 -1h0m68 6h0m-94 -8h0m68 2h0m38 7h0m-84 -7h0m-34 6h0m135 0h0m-178 -8h0m156 2h0m-119 4h0m89 -3h0m51 4h0m-79 2h0m71 0h0m-87 -6h0m-43 2h0m174 2h0m-142 -6h0m1 4h0m61 2h0m50 -3h0m-46 2h0m9 1h0m-14 -5h0m-28 3h0m76 -4h0m-129 1h0m129 6h0m-34 1h0m-11 -8h0m70 3h0m-189 -1h0m135 -1h0m-126 1h0m151 1h0m-79 2h0m52 -3h0m-35 1h0m52 4h0m59 -3h0m-85 1h0m65 -3h0m-77 -7h0m-42 11h0m22 3h0m29 -6h0m-89 2h0m138 1h0m10 -5h0m-39 -2h0m-25 4h0m10 -1h0m-171 -248h0m8 234h0m143 -33h0m-109 44h0m26 -4h0m31 -1h0m11 -9h0" stroke="#bcbcbc" stroke-width="3.3" stroke-linecap="round" fill="none"/>
<path d="M607 907h0m3 -2h0m-17 -4h0m11 -1h0m-8 8h0m11 -15h0m-12 9h0m4 5h0m10 -8h0m-7 8h0m4 -1h0m7 -1h0m-18 4h0m11 -8h0m-1 8h0m4 0h0m-16 -5h0m11 5h0m-2 -1h0m4 -1h0m9 -4h0m-18 6h0m0 -10h0m12 9h0m-11 -12h0m7 0h0m-2 3h0m-2 10h0m14 -8h0m-18 2h0m11 0h0m-1 2h0m1 2h0m-12 -6h0m10 1h0m0 -3h0m-5 -2h0m-4 11h0m0 -4h0m-4 2h0m13 -13h0m2 16h0m-2 -4h0m-9 1h0m-2 2h0m18 -1h0m-17 -1h0m11 -2h0m3 3h0m-2 -13h0m-6 15h0m7 -7h0m6 4h0m-9 -6h0m8 4h0m-16 0h0m5 0h0m-11 4h0m3 -1h0m19 1h0m-8 1h0m-2 -2h0m2 -9h0m-11 5h0m6 4h0m-6 -2h0m20 4h0m-7 -3h0m-5 1h0m5 -7h0m3 0h0m-12 6h0m-2 -11h0m-1 1h0m-2 11h0m17 -8h0m-3 -2h0m-5 11h0m-4 -4h0m14 0h0m-15 2h0m-5 2h0m21 -2h0m-1 2h0m-3 -4h0m-6 4h0m-1 -3h0m-1 -9h0m-2 1h0m0 11h0m13 2h0m-15 -2h0m1 -8h0m-6 3h0m1 6h0m2 -2h0m16 -6h0m-18 4h0m11 -2h0m-13 1h0m16 6h0m-7 -11h0m9 -3h0m-12 -2h0m1 14h0m-6 -1h0m18 -1h0m-5 -10h0m-14 13h0m22 0h0m-10 -3h0m-12 -11h0m16 9h0m-1 -7h0m-26 -106h0m29 85h0m-16 13h0m5 1h0m1 -2h0m3 3h0m-10 3h0m8 4h0m4 -4h0" stroke="#3653a8" stroke-width="3.3" stroke-linecap="round" fill="none"/>
<path d="M715 909h0m2 -2h0m-75 -8h0m33 10h0m18 1h0m-50 -6h0m59 6h0m-6 -5h0m-30 -1h0m11 5h0m-30 -14h0m23 7h0m49 5h0m-9 3h0m-26 -16h0m-28 15h0m-16 -7h0m17 -6h0m47 13h0m-34 -8h0m0 9h0m22 -7h0m-27 5h0m47 2h0m-40 -10h0m-20 3h0m31 7h0m-20 -2h0m19 -3h0m-18 4h0m4 -1h0m32 -2h0m-38 2h0m-13 -13h0m53 13h0m-55 -5h0m4 -9h0m54 17h0m-29 -5h0m3 2h0m-19 -9h0m1 -11h0m20 18h0m1 2h0m22 0h0m-32 -6h0m-20 -1h0m48 8h0m-17 -2h0m-9 -1h0m7 -1h0m-32 1h0m59 2h0m-54 -8h0m17 -3h0m-15 6h0m-4 3h0m-10 -2h0m11 3h0m27 2h0m-21 -3h0m8 -15h0m6 9h0m-1 -5h0m35 14h0m-30 -7h0m43 9h0m-21 -1h0m-59 -5h0m42 -1h0m-6 -4h0m8 1h0m-43 -1h0m64 9h0m-44 -2h0m56 2h0m-51 -6h0m35 7h0m-55 -2h0m50 -4h0m-37 -4h0m-3 5h0m7 -9h0m-9 6h0m40 4h0m-34 1h0m2 -2h0m-9 -9h0m4 14h0m-15 -7h0m12 -5h0m19 -1h0m-12 12h0m14 -3h0m9 3h0m-15 -5h0m30 3h0m-41 -3h0m7 -1h0m24 -1h0m-45 0h0m21 8h0m4 -3h0m-8 -2h0m41 -1h0m-13 2h0m-31 2h0m59 3h0m-4 -2h0m-51 -5h0m54 6h0m-13 -5h0m14 5h0m-35 -18h0m-14 15h0m17 0h0m-10 0h0m-4 -6h0m3 7h0m-16 -9h0m6 2h0m20 -3h0m-24 -3h0m-14 10h0m40 2h0m7 -1h0m-32 -3h0m-18 -6h0m4 3h0m12 -16h0m-19 20h0m11 -14h0m54 20h0m-54 -10h0m62 5h0m-26 4h0m-18 0h0m-10 -11h0m-11 -9h0m31 21h0m14 -1h0m-16 -5h0m-22 5h0m18 -7h0m-26 0h0m23 5h0m-19 -20h0m-10 0h0m33 22h0m16 -2h0m-36 2h0m41 -9h0m7 9h0m-46 -7h0m-9 5h0m-8 1h0m50 -5h0m-30 6h0m2 -26h0m13 18h0m-3 1h0m12 4h0m-31 -2h0m28 -16h0m7 19h0m-29 -4h0m26 7h0m-30 -11h0m19 -5h0m-23 4h0m5 -3h0m44 13h0m-39 -26h0m-15 7h0m20 -1h0m-21 19h0m10 -19h0m5 17h0m41 0h0m-56 5h0m43 -2h0m-38 -24h0m15 4h0m-11 20h0m10 -14h0m7 12h0m7 -11h0m-17 9h0m31 3h0m-8 2h0m-10 -14h0m16 15h0m-27 -1h0m1 0h0m-13 -7h0m29 -5h0m32 11h0m-8 1h0m-50 -19h0m49 17h0m-13 1h0m-8 -6h0m-23 3h0m-15 0h0m49 4h0m6 -6h0m-47 -10h0m-5 -2h0m11 18h0m28 -3h0m-27 0h0m27 -8h0m-32 5h0m15 -13h0m-14 17h0m16 -3h0m-2 -5h0m-19 -21h0m18 28h0m-27 2h0m-1 -9h0m45 3h0m-34 -10h0m7 1h0m25 -3h0m3 18h0m18 2h0m-57 -21h0m32 16h0m31 5h0m-55 -9h0m14 -6h0m26 12h0m-34 3h0m7 -2h0m-5 2h0m-10 -5h0m25 -8h0m-14 7h0m0 2h0m15 3h0m15 -2h0m-11 2h0m-9 0h0m31 1h0m-40 -13h0m-13 9h0m31 4h0m-29 -1h0m11 -16h0m-18 10h0m-4 -9h0m26 16h0m-18 -5h0m23 -9h0m-24 -8h0m6 19h0m19 -7h0m-31 3h0m29 -14h0m28 21h0m-21 -1h0m-28 -11h0m7 4h0m10 -8h0m19 12h0m27 4h0m-53 -21h0m-7 19h0m47 1h0m-14 1h0m-40 -1h0m28 -4h0m-23 -13h0m32 13h0m-3 3h0m-13 -3h0m-22 -11h0m17 8h0m-7 8h0m5 -12h0m1 -5h0m2 17h0m35 -1h0m-33 -19h0m17 11h0m12 8h0m-15 1h0m-29 -2h0m29 -13h0m-33 11h0m58 1h0m-48 0h0m-15 -11h0m45 -1h0m-48 9h0m74 6h0m-68 -5h0m3 -14h0m48 17h0m-43 -2h0m24 0h0m13 4h0m24 -2h0m-23 -8h0m-46 1h0m18 -6h0m-10 -11h0m18 12h0m-23 9h0m7 -8h0m8 1h0m6 -5h0m-28 15h0m66 -2h0m-48 1h0m-10 2h0m-3 -3h0m45 0h0m-14 -3h0m-23 -16h0m-8 3h0m36 9h0m-35 -3h0m27 6h0m8 0h0m-14 2h0m-7 -19h0m35 24h0m-24 -3h0m8 -4h0m-2 -3h0m-7 -4h0m-21 12h0m24 -22h0m4 17h0m-21 6h0m28 -11h0m25 11h0m-60 -20h0m26 8h0m-28 2h0m1 9h0m29 -6h0m-18 -5h0m0 6h0m10 7h0m-26 -23h0m11 22h0m43 2h0m-37 -14h0m8 6h0m39 4h0m-61 -14h0m-2 16h0m14 -13h0m1 -12h0m-1 18h0m6 -6h0m19 11h0m-39 0h0m3 1h0m1 1h0m-5 -24h0m51 20h0m-50 -9h0m17 8h0m9 2h0m-15 -18h0m18 20h0m-32 2h0m2 0h0m4 -1h0m4 -10h0m54 11h0m3 -1h0m-62 2h0m2 -6h0m-9 -8h0m40 12h0m-22 2h0m-14 -12h0m20 4h0m2 -8h0m28 11h0m-30 -9h0m-14 8h0m36 -9h0m-3 5h0m-27 -17h0m-5 21h0m39 5h0m10 -1h0m-30 -17h0m-30 19h0m5 -17h0m1 2h0m13 15h0m55 1h0m-40 -16h0m33 12h0m-12 1h0m-50 -1h0m5 -4h0m41 5h0m-26 -8h0m-9 7h0m8 1h0m45 1h0m-65 -4h0m70 4h0m-40 -11h0m12 6h0m-37 -3h0m9 -5h0m18 14h0m-30 -10h0m13 -23h0m11 15h0m6 3h0m26 6h0m-17 8h0m-30 -5h0m53 1h0m-69 -15h0m40 16h0m-3 -4h0m-8 -9h0m-3 12h0m12 5h0m-10 -12h0m5 12h0m8 -6h0m-36 -11h0m26 -5h0m-31 10h0m54 7h0m4 3h0m-53 -21h0m22 8h0m12 11h0m-13 -2h0m-5 5h0m2 -3h0m9 2h0m24 -1h0m5 0h0m6 -1h0m-46 2h0m50 1h0m-47 -8h0m-5 -9h0m12 -9h0m-23 15h0m12 5h0m13 5h0m3 -8h0m11 10h0m-45 -15h0m1 13h0m38 -12h0m-3 11h0m28 -4h0m13 7h0m-63 -32h0m7 29h0m-11 -12h0m13 5h0m-20 4h0m67 3h0m-52 -5h0m-3 -1h0m1 -11h0m12 -6h0m-3 26h0m-26 -4h0m54 2h0m-32 -7h0m10 4h0m-6 1h0m-9 0h0m2 -27h0m46 25h0m-41 -18h0m-14 10h0m56 15h0m-39 -7h0m26 4h0m-36 -11h0m6 3h0m10 8h0m-12 0h0m-3 -1h0m-13 -11h0m16 8h0m16 -6h0m-18 6h0m-11 -16h0m28 3h0m16 19h0m-53 -14h0m14 -5h0m-14 14h0m50 0h0m-13 2h0m-26 2h0m9 -1h0m-2 -9h0m51 11h0m-42 -2h0m46 1h0m-58 -26h0m-3 14h0m55 13h0m15 -1h0m2 0h0m3 0h0m3 -1h0m3 0h0m3 0h0m3 -1h0m-20 2h0m2 -1h0m3 0h0m3 -1h0m3 0h0m3 -1h0m3 0h0m3 -1h0m-20 3h0m3 -1h0m3 0h0m2 -1h0m3 -1h0m3 0h0m3 -1h0m3 -1h0m-87 -267h0m-4 0h0m5 14h0m14 188h0m28 17h0m4 9h0m-12 5h0m12 5h0m46 6h0m-17 -7h0m25 25h0m-10 -7h0m-21 -7h0m-69 -5h0m5 -4h0m6 1h0m4 4h0m50 13h0m12 3h0" stroke="#e32226" stroke-width="3.3" stroke-linecap="round" fill="none"/>
<path d="M473.2 925.7V635H763V925.7" fill="none" stroke="#9a9a9a" stroke-width="1.1"/>
<line x1="473.2" y1="634.5" x2="473.2" y2="927.1" stroke="#000" stroke-width="2.8"/>
<line x1="471.8" y1="925.7" x2="764" y2="925.7" stroke="#000" stroke-width="2.8"/>
<line x1="469.7" y1="913" x2="473.2" y2="913" stroke="#333" stroke-width="1"/>
<text x="465.7" y="921.8" font-size="25.5" text-anchor="end">0</text>
<line x1="469.7" y1="802.3" x2="473.2" y2="802.3" stroke="#333" stroke-width="1"/>
<text x="465.7" y="811.1" font-size="25.5" text-anchor="end">100</text>
<line x1="469.7" y1="691.6" x2="473.2" y2="691.6" stroke="#333" stroke-width="1"/>
<text x="465.7" y="700.4" font-size="25.5" text-anchor="end">200</text>
<text x="544" y="951.4" font-size="25.5" text-anchor="middle">-4</text>
<text x="626.4" y="951.4" font-size="25.5" text-anchor="middle">0</text>
<text x="708.8" y="951.4" font-size="25.5" text-anchor="middle">4</text>
<text x="611" y="620.7" font-size="27" text-anchor="middle">HB</text>
<text x="624.5" y="981.5" font-size="28.3" text-anchor="middle">log<tspan font-size="17.5" dy="10.2">2</tspan><tspan dy="-10.2">(Fold Change)</tspan></text>
<rect x="833.3" y="633.8" width="287.2" height="292.4" fill="#fff"/>
<line x1="828" y1="633.8" x2="828" y2="926.2" stroke="#f4f4f4" stroke-width="1"/>
<line x1="884.9" y1="633.8" x2="884.9" y2="926.2" stroke="#f4f4f4" stroke-width="1"/>
<line x1="941.7" y1="633.8" x2="941.7" y2="926.2" stroke="#f4f4f4" stroke-width="1"/>
<line x1="998.6" y1="633.8" x2="998.6" y2="926.2" stroke="#f4f4f4" stroke-width="1"/>
<line x1="1055.5" y1="633.8" x2="1055.5" y2="926.2" stroke="#f4f4f4" stroke-width="1"/>
<line x1="1112.3" y1="633.8" x2="1112.3" y2="926.2" stroke="#f4f4f4" stroke-width="1"/>
<line x1="833.3" y1="910.8" x2="1120.5" y2="910.8" stroke="#f4f4f4" stroke-width="1"/>
<line x1="833.3" y1="864.2" x2="1120.5" y2="864.2" stroke="#f4f4f4" stroke-width="1"/>
<line x1="833.3" y1="817.7" x2="1120.5" y2="817.7" stroke="#f4f4f4" stroke-width="1"/>
<line x1="833.3" y1="771.1" x2="1120.5" y2="771.1" stroke="#f4f4f4" stroke-width="1"/>
<line x1="833.3" y1="724.6" x2="1120.5" y2="724.6" stroke="#f4f4f4" stroke-width="1"/>
<line x1="833.3" y1="678" x2="1120.5" y2="678" stroke="#f4f4f4" stroke-width="1"/>
<path d="M963 903h0m137 -4h0m-112 7h0m37 -3h0m-3 -2h0m-21 10h0m-66 -6h0m-10 3h0m73 3h0m64 -10h0m-142 6h0m63 0h0m-66 -3h0m139 3h0m-59 3h0m-37 -2h0m23 2h0m20 -1h0m-13 -4h0m-32 4h0m57 -5h0m87 -4h0m-122 7h0m31 -4h0m64 -3h0m-43 7h0m-46 3h0m-80 -11h0m64 8h0m50 -2h0m-44 -3h0m32 7h0m-61 -1h0m49 1h0m-4 -4h0m73 1h0m-47 -5h0m1 9h0m-34 -3h0m21 -3h0m23 6h0m-20 -3h0m-13 4h0m35 -2h0m-5 -6h0m20 6h0m-44 1h0m-71 -4h0m80 3h0m-24 -2h0m72 -4h0m-119 5h0m27 1h0m40 -6h0m53 5h0m-47 0h0m15 -4h0m-5 6h0m74 -7h0m-87 -2h0m-45 6h0m64 2h0m-10 0h0m-20 0h0m-41 -4h0m129 1h0m-177 -1h0m63 4h0m-45 -8h0m10 8h0m34 -2h0m97 2h0m19 -6h0m-99 6h0m-42 -7h0m49 8h0m18 -9h0m-10 9h0m-12 -2h0m-9 1h0m25 -6h0m-66 5h0m46 2h0m-13 -2h0m62 -3h0m16 -2h0m26 2h0m-8 1h0m-111 -2h0m108 -5h0m-136 7h0m65 2h0m41 -8h0m-86 6h0m80 3h0m-13 -2h0m-69 -6h0m8 6h0m-27 -4h0m110 2h0m-38 1h0m24 -5h0m-3 2h0m-101 4h0m83 3h0m29 -1h0m-54 -2h0m-31 -2h0m108 0h0m-32 -3h0m-60 3h0m97 -5h0m-128 2h0m164 2h0m-65 1h0m-24 1h0m-111 -1h0m75 1h0m-33 -3h0m76 2h0m-67 3h0m-19 1h0m1 0h0m123 0h0m-94 0h0m132 -5h0m-87 5h0m18 1h0m42 -7h0m-57 0h0m-22 -1h0m69 3h0m-126 3h0m42 -6h0m22 8h0m2 -2h0m-11 -2h0m22 3h0m93 -5h0m-161 -3h0m73 9h0m-19 -1h0m-6 1h0m-32 -5h0m-29 -1h0m34 5h0m22 -3h0m-48 -3h0m93 0h0m-22 3h0m99 -10h0m-177 7h0m2 6h0m117 -5h0m-30 -3h0m-13 6h0m-45 -4h0m-23 6h0m80 1h0m18 -1h0m-35 0h0m33 -3h0m-86 2h0m-8 -4h0m155 1h0m-42 4h0m-58 0h0m-30 -3h0m105 2h0m-84 -5h0m-10 3h0m-8 4h0m35 -1h0m-1 1h0m-11 -1h0m31 -7h0m1 5h0m-19 3h0m-35 -7h0m59 -3h0m-13 9h0m82 -8h0m-77 7h0m-74 1h0m87 -5h0m-26 4h0m45 -4h0m-90 2h0m132 -5h0m-77 2h0m8 2h0m-109 1h0m128 0h0m-43 2h0m-23 -4h0m85 3h0m-117 3h0m82 -6h0m-81 -2h0m124 7h0m-92 -5h0m-5 5h0m8 -4h0m1 -3h0m12 5h0m57 2h0m11 0h0m-33 0h0m15 -1h0m35 -4h0m-105 2h0m-4 0h0m42 1h0m28 -3h0m-82 1h0m35 5h0m60 -2h0m4 -1h0m19 1h0m3 -3h0m-121 -1h0m58 4h0m37 -1h0m-143 -3h0m-21 -9h0m184 8h0m-103 5h0m39 -1h0m30 -4h0m-19 1h0m-67 -3h0m132 2h0m17 -6h0m-58 9h0m-149 -7h0m167 2h0m-31 3h0m20 3h0m-5 -4h0m-64 5h0m9 -5h0m-40 3h0m51 2h0m7 -3h0m-47 2h0m111 -6h0m-52 7h0m-55 2h0m-42 -4h0m107 2h0m-8 -4h0m-51 0h0m102 -4h0m-164 3h0m73 6h0m-24 -7h0m-27 7h0m3 -1h0m23 -1h0m80 3h0m-59 -1h0m-6 -7h0m0 1h0m95 3h0m-2 -1h0m-50 2h0m-12 1h0m14 -3h0m20 0h0m-115 -6h0m116 8h0m-92 -1h0m84 -5h0m-52 9h0m101 -11h0m-54 8h0m53 1h0m-39 -2h0m-106 -2h0m-32 -3h0m137 8h0m-58 0h0m-24 -8h0m24 3h0m58 2h0m-93 -3h0m-22 5h0m55 -2h0m75 -2h0m-83 5h0m116 -8h0m-49 2h0m-89 7h0m37 -3h0m2 -1h0m-3 0h0m-61 -4h0m120 3h0m-112 0h0m58 -3h0m28 1h0m-73 1h0m32 3h0m68 -4h0m-10 -1h0m-67 6h0m-32 1h0m130 0h0m-48 -2h0m31 -6h0m-25 5h0m24 1h0m22 -5h0m-81 3h0m-44 3h0m79 -5h0m75 -1h0m-62 8h0m-7 0h0m-22 1h0m-47 -1h0m10 -6h0m86 1h0m-51 1h0m0 -1h0m22 4h0m-42 -6h0m54 6h0m-148 -11h0m186 4h0m-133 4h0m-2 0h0m92 1h0m-70 -3h0m70 2h0m-82 -3h0m39 7h0m104 -7h0m-46 3h0m-87 -3h0m-37 5h0m118 1h0m-80 -6h0m15 -1h0m-26 6h0m-56 -5h0m149 3h0m6 -3h0m-41 1h0m12 4h0m62 -9h0m-128 3h0m2 1h0m35 7h0m71 -3h0m-112 -1h0m25 2h0m-40 1h0m104 -1h0m-40 2h0m-81 -3h0m176 -7h0m-34 4h0m-19 0h0m-99 -3h0m73 1h0m-32 0h0m-3 8h0m-15 -1h0m34 2h0m-60 -7h0m3 3h0m12 -1h0m16 -1h0m44 -4h0m-47 4h0m46 5h0m-66 -6h0m4 5h0m88 0h0m-34 -2h0m-54 -6h0m53 9h0m-56 -9h0m113 5h0m-67 3h0m48 0h0m59 -4h0m-127 5h0m42 -3h0m-34 1h0m-1 0h0m100 -5h0m-128 -1h0m18 8h0m-24 -4h0m67 2h0m78 -10h0m-91 11h0m-23 1h0m125 -5h0m-145 -4h0m-55 4h0m130 -2h0m-65 7h0m51 -9h0m29 -1h0m-66 5h0m98 2h0m6 -4h0m-183 -3h0m74 9h0m99 -10h0m-83 8h0m-22 -2h0m-65 -1h0m28 -3h0m27 3h0m56 6h0m51 -6h0m-140 0h0m92 -3h0m-62 4h0m51 5h0m-26 -6h0m5 0h0m-17 -1h0m-3 5h0m92 -9h0m-112 10h0m43 -3h0m49 -3h0m-23 4h0m23 1h0m3 -4h0m-46 6h0m-60 -5h0m19 -4h0m65 6h0m9 -2h0m-140 -4h0m145 7h0m-27 -6h0m-65 4h0m92 -5h0m-50 8h0m-63 -5h0m151 1h0m-36 -4h0m-14 8h0m44 -4h0m-23 4h0m-111 -9h0m15 5h0m103 -2h0m-116 5h0m-34 -9h0m128 10h0m-120 -7h0m124 5h0m-57 -3h0m90 0h0m-99 0h0m85 3h0m-112 2h0m20 -5h0m-52 3h0m35 2h0m154 -5h0m-41 -1h0m-6 0h0m-47 6h0m-122 -7h0m53 6h0m79 -2h0m-31 -2h0m74 4h0m-43 1h0m-115 -11h0m104 7h0m2 0h0m32 5h0m-17 -4h0m87 -11h0m-161 14h0m-4 -2h0m108 -7h0m-97 6h0m28 0h0m-27 1h0m34 -4h0m-69 1h0m44 5h0m9 -5h0m-39 1h0m-31 -1h0m60 3h0m84 -4h0m-33 -1h0m3 2h0m26 -1h0m-11 4h0m-95 -1h0m137 -3h0m-41 2h0m-52 4h0m43 -4h0m41 -3h0m32 3h0m-64 3h0m-46 0h0m-95 -10h0m115 10h0m-68 0h0m131 -3h0m-92 -2h0m84 4h0m30 -7h0m-154 1h0m17 2h0m-7 6h0m28 0h0m56 -8h0m-7 3h0m56 2h0m-53 1h0m49 0h0m-124 -5h0m-41 2h0m79 5h0m-26 -1h0m59 -1h0m-109 -3h0m65 3h0m-25 -1h0m9 0h0m48 -1h0m66 2h0m-145 1h0m-11 -1h0m156 -5h0m-58 3h0m-85 -1h0m39 4h0m115 -3h0m-52 -3h0m-97 7h0m13 -4h0m-35 1h0m96 3h0m45 -2h0m-88 -2h0m128 -3h0m-34 5h0m-157 -1h0m116 3h0m-30 -3h0m-31 4h0m-46 -2h0m58 -6h0m56 0h0m0 8h0m-23 -4h0m5 -3h0m-11 5h0m-94 -3h0m60 5h0m35 -4h0m-21 -1h0m-43 -3h0m-20 -3h0m1 7h0m167 -2h0m-161 -2h0m120 4h0m-80 3h0m113 -4h0m18 -5h0m-42 9h0m41 -11h0m-126 8h0m120 -6h0m-7 0h0m-119 7h0m11 -2h0m52 0h0m4 0h0m-85 -1h0m33 3h0m40 -1h0m-37 2h0m-60 -4h0m-2 -1h0m25 4h0m41 -4h0m9 3h0m42 -2h0m-68 3h0m-52 -5h0m92 6h0m14 0h0m79 -5h0m-172 3h0m113 1h0m29 0h0m-101 3h0m-30 -4h0m137 -5h0m-65 5h0m35 -3h0m-118 -2h0m-14 1h0m101 8h0m5 -4h0m-6 0h0m-127 -3h0m159 1h0m-65 6h0m-4 -9h0m57 7h0m-109 1h0m118 1h0m-1 -6h0m-18 5h0m-113 -4h0m180 -1h0m-143 0h0m-12 1h0m125 -5h0m-27 2h0m-7 -1h0m-83 8h0m32 -2h0m36 0h0m32 1h0m-78 -2h0m95 -7h0m-57 10h0m20 -1h0m-68 -2h0m56 -1h0m15 2h0m49 -1h0m-82 1h0m-30 -3h0m72 -3h0m-73 3h0m-7 4h0m-18 -1h0m17 2h0m-1 0h0m97 -8h0m-130 3h0m67 1h0m-81 1h0m54 -4h0m-6 6h0m15 0h0m66 -6h0m-16 1h0m-28 7h0m64 -3h0m-58 4h0m-10 -5h0m55 3h0m12 -1h0m-100 2h0m-42 -5h0m-16 -4h0m142 3h0m8 -4h0m42 3h0m-113 5h0m46 -2h0m-93 -4h0m153 2h0m-159 -3h0m-21 0h0m-3 4h0m162 -3h0m-47 1h0m49 3h0m-78 1h0m-18 -5h0m-42 4h0m62 2h0m38 -2h0m31 -1h0m-37 -2h0m-92 5h0m6 -7h0m149 -1h0m-107 3h0m91 6h0m-60 1h0m-27 -5h0m92 -3h0m-87 6h0m-31 -4h0m-26 2h0m103 -3h0m48 0h0m-139 -2h0m13 1h0m84 -2h0m-63 7h0m19 4h0m59 -3h0m-158 -4h0m136 2h0m-69 2h0m66 0h0m58 -2h0m-110 0h0m10 -1h0m104 -2h0m-1 1h0m-130 6h0m-68 -10h0m84 8h0m102 -2h0m-90 -3h0m-43 -1h0m83 5h0m-67 -3h0m68 6h0m51 -10h0m-90 5h0m14 2h0m92 -2h0m-32 4h0m-104 -1h0m-12 -5h0m32 1h0m57 -4h0m41 8h0m-129 -2h0m145 -3h0m-64 5h0m-101 -8h0m180 3h0m-166 4h0m34 -4h0m28 5h0m-57 -2h0m126 -2h0m-77 6h0m45 -9h0m-128 1h0m133 1h0m12 1h0m-24 -4h0m-118 -1h0m11 1h0m58 8h0m-34 1h0m18 1h0m-1 -3h0m80 -5h0m-137 -1h0m110 8h0m33 -4h0m-10 3h0m-67 2h0m-43 -3h0m115 -6h0m-24 5h0m-8 0h0m-119 -7h0m30 6h0m85 3h0m-30 1h0m-27 -1h0m137 -10h0m-82 11h0m-90 -3h0m39 1h0m46 1h0m-96 -3h0m181 -3h0m-103 7h0m-39 0h0m101 -1h0m41 -7h0m-35 2h0m32 4h0m-158 -4h0m14 2h0m-45 -2h0m198 -5h0m-148 7h0m61 5h0m-49 0h0m118 -7h0m-167 3h0m82 2h0m71 -9h0m-136 10h0m89 -8h0m85 3h0m-109 3h0m46 -6h0m9 8h0m-37 -8h0m37 7h0m-77 -1h0m17 -3h0m60 6h0m62 -6h0m-77 1h0m33 2h0m-13 1h0m-74 -2h0m91 1h0m-117 -3h0m62 3h0m-66 -5h0m57 3h0m41 3h0m-42 -1h0m26 1h0m-34 1h0m25 1h0m-13 -2h0m-31 0h0m2 -5h0m-21 5h0m-34 -1h0m100 0h0m-117 -5h0m143 2h0m-117 4h0m37 -2h0m-45 -3h0m147 3h0m-91 -1h0m28 -1h0m-16 5h0m7 0h0m11 -2h0m-85 1h0m113 2h0m-41 -2h0m40 -2h0m-115 0h0m28 -3h0m-62 0h0m222 -1h0m-179 0h0m22 2h0m-19 -1h0m-8 4h0m184 -8h0m-2 -5h0m-171 6h0m134 5h0m-61 -3h0m-100 4h0m74 -4h0m73 6h0m-169 -6h0m219 -7h0m-127 8h0m-10 6h0m96 -3h0m-90 -1h0m-9 2h0m41 1h0m-88 -3h0m51 0h0m-18 2h0m39 4h0m-87 -9h0m19 -1h0m33 8h0m136 -4h0m-154 3h0m33 1h0m96 -5h0m-150 4h0m67 -5h0m3 4h0m35 -1h0m58 0h0m-52 -2h0m-76 6h0m127 -3h0m-38 1h0m-16 1h0m-18 -6h0m11 4h0m-85 -6h0m32 2h0m41 6h0m-115 -6h0m75 2h0m47 3h0m-53 -3h0m71 -3h0m-137 -4h0m15 3h0m119 -1h0m51 -1h0m-12 3h0m-57 1h0m-45 6h0m95 -6h0m-36 2h0m12 3h0m-97 -2h0m77 -3h0m-61 1h0m-25 -3h0m146 -1h0m-39 2h0m-61 0h0m102 3h0m-51 3h0m-66 -6h0m-116 -252h0m78 238h0m-43 2h0m2 2h0m2 2h0" stroke="#bcbcbc" stroke-width="3.3" stroke-linecap="round" fill="none"/>
<path d="M964 901h0m-3 -3h0m5 -1h0m4 0h0m-10 -2h0m8 5h0m-10 0h0m14 -3h0m-29 3h0m22 -5h0m6 0h0m1 4h0m-2 1h0m-3 0h0m-14 0h0m-3 1h0m17 0h0m-12 -4h0m10 2h0m-18 0h0m13 2h0m-14 0h0m0 -3h0m16 1h0m14 0h0m-4 2h0m-3 -2h0m-12 -4h0m3 4h0m11 2h0m4 -4h0m-12 4h0m16 -5h0m-15 4h0m-12 -1h0m1 -2h0m-11 2h0m14 2h0m7 -1h0m3 -2h0m13 2h0m-29 -3h0m9 4h0m14 -6h0m-16 4h0m16 -1h0m-22 -3h0m4 4h0m15 2h0m-23 -1h0m2 -64h0m-10 29h0m-3 37h0" stroke="#3653a8" stroke-width="3.3" stroke-linecap="round" fill="none"/>
<path d="M1052 901h0m2 -6h0m-9 -2h0m8 2h0m-16 6h0m17 -5h0m24 1h0m-48 -6h0m27 4h0m5 5h0m-40 -7h0m30 6h0m-23 -5h0m37 7h0m-31 -7h0m-16 6h0m26 -8h0m-14 5h0m8 -5h0m5 9h0m-27 -4h0m18 -5h0m43 9h0m-30 -9h0m-25 9h0m52 -3h0m-41 -1h0m33 3h0m-43 -1h0m8 -5h0m20 4h0m-6 -4h0m12 7h0m-2 -1h0m-29 -1h0m-2 -7h0m5 1h0m-7 4h0m5 1h0m27 -1h0m-27 -3h0m13 -1h0m-10 7h0m10 -2h0m3 -1h0m-2 4h0m-15 -7h0m10 5h0m5 -2h0m-10 0h0m11 4h0m24 -4h0m-10 3h0m-3 -3h0m-36 1h0m10 1h0m19 2h0m-14 -3h0m2 -1h0m28 4h0m-27 -4h0m15 -3h0m-21 -2h0m9 4h0m1 -3h0m-21 2h0m37 4h0m5 2h0m-30 -9h0m4 9h0m2 -8h0m7 6h0m-8 0h0m21 -3h0m-29 1h0m21 3h0m-3 0h0m-7 0h0m12 -4h0m4 4h0m17 1h0m-29 -10h0m-30 9h0m53 -2h0m-15 3h0m1 -6h0m-13 -1h0m7 5h0m-23 -7h0m17 8h0m-4 1h0m0 -1h0m15 -7h0m-24 0h0m35 2h0m11 5h0m-23 -3h0m-19 -1h0m34 -1h0m2 0h0m-35 1h0m-10 3h0m16 0h0m-4 -1h0m9 -3h0m0 5h0m6 -3h0m-4 0h0m23 3h0m-20 -2h0m11 -4h0m-36 6h0m15 -4h0m-6 2h0m7 3h0m13 -4h0m-1 -2h0m-18 6h0m5 -7h0m-8 4h0m18 3h0m25 -3h0m-38 -2h0m-1 5h0m-18 -6h0m25 5h0m32 1h0m-32 0h0m5 0h0m33 -4h0m-27 -3h0m4 7h0m-27 0h0m46 -2h0m-25 0h0m-10 -1h0m6 -3h0m-18 -3h0m39 9h0m4 -3h0m-44 -1h0m28 4h0m-36 -4h0m57 0h0m-36 -2h0m-22 2h0m41 0h0m-17 3h0m0 -9h0m-4 1h0m3 3h0m-19 3h0m17 1h0m-12 1h0m30 -3h0m8 4h0m-51 -3h0m50 1h0m-35 1h0m8 -6h0m9 4h0m-18 -7h0m-15 5h0m18 5h0m0 -10h0m46 10h0m-46 -3h0m44 3h0m-14 -4h0m-27 -5h0m43 7h0m-57 -5h0m3 5h0m24 -3h0m5 4h0m-5 0h0m-23 -5h0m46 5h0m-16 1h0m-5 -3h0m-24 -2h0m-6 3h0m19 1h0m22 -5h0m-25 0h0m47 6h0m4 0h0m2 -1h0m3 0h0m3 -1h0m3 -1h0m3 -1h0m3 -1h0m2 -1h0m2 -1h0m-24 7h0m8 -2h0m3 -1h0m3 -2h0m3 -1h0m2 -2h0m3 -1h0m3 -2h0m-23 11h0m3 -2h0m3 -1h0m3 -2h0m3 -1h0m2 -2h0m3 -2h0m3 -2h0m3 -2h0m-93 -228h0m65 96h0m-69 14h0m2 79h0m33 16h0m5 10h0m-6 9h0m4 2h0m9 2h0m7 1h0m9 1h0m-5 -2h0m34 1h0m-11 2h0" stroke="#e32226" stroke-width="3.3" stroke-linecap="round" fill="none"/>
<path d="M833.3 926.2V633.8H1120.5V926.2" fill="none" stroke="#9a9a9a" stroke-width="1.1"/>
<line x1="833.3" y1="633.3" x2="833.3" y2="927.6" stroke="#000" stroke-width="2.8"/>
<line x1="831.9" y1="926.2" x2="1121.5" y2="926.2" stroke="#000" stroke-width="2.8"/>
<line x1="829.8" y1="910.8" x2="833.3" y2="910.8" stroke="#333" stroke-width="1"/>
<text x="821.3" y="919.6" font-size="25.5" text-anchor="end">0</text>
<line x1="829.8" y1="817.7" x2="833.3" y2="817.7" stroke="#333" stroke-width="1"/>
<text x="821.3" y="826.5" font-size="25.5" text-anchor="end">20</text>
<line x1="829.8" y1="724.6" x2="833.3" y2="724.6" stroke="#333" stroke-width="1"/>
<text x="821.3" y="733.4" font-size="25.5" text-anchor="end">40</text>
<text x="884.9" y="951.9" font-size="25.5" text-anchor="middle">-5.0</text>
<text x="998.6" y="951.9" font-size="25.5" text-anchor="middle">0</text>
<text x="1112.3" y="951.9" font-size="25.5" text-anchor="middle">5</text>
<text x="986.5" y="620.7" font-size="27" text-anchor="middle">NK1</text>
<text x="987.3" y="981.5" font-size="28.3" text-anchor="middle">log<tspan font-size="17.5" dy="10.2">2</tspan><tspan dy="-10.2">(Fold Change)</tspan></text>
<rect x="94.5" y="1048.4" width="290.1" height="291.8" fill="#fff"/>
<line x1="103.3" y1="1048.4" x2="103.3" y2="1340.2" stroke="#f4f4f4" stroke-width="1"/>
<line x1="137.6" y1="1048.4" x2="137.6" y2="1340.2" stroke="#f4f4f4" stroke-width="1"/>
<line x1="172" y1="1048.4" x2="172" y2="1340.2" stroke="#f4f4f4" stroke-width="1"/>
<line x1="206.3" y1="1048.4" x2="206.3" y2="1340.2" stroke="#f4f4f4" stroke-width="1"/>
<line x1="240.7" y1="1048.4" x2="240.7" y2="1340.2" stroke="#f4f4f4" stroke-width="1"/>
<line x1="275" y1="1048.4" x2="275" y2="1340.2" stroke="#f4f4f4" stroke-width="1"/>
<line x1="309.3" y1="1048.4" x2="309.3" y2="1340.2" stroke="#f4f4f4" stroke-width="1"/>
<line x1="343.7" y1="1048.4" x2="343.7" y2="1340.2" stroke="#f4f4f4" stroke-width="1"/>
<line x1="378" y1="1048.4" x2="378" y2="1340.2" stroke="#f4f4f4" stroke-width="1"/>
<line x1="94.5" y1="1325.3" x2="384.6" y2="1325.3" stroke="#f4f4f4" stroke-width="1"/>
<line x1="94.5" y1="1290.1" x2="384.6" y2="1290.1" stroke="#f4f4f4" stroke-width="1"/>
<line x1="94.5" y1="1255" x2="384.6" y2="1255" stroke="#f4f4f4" stroke-width="1"/>
<line x1="94.5" y1="1219.8" x2="384.6" y2="1219.8" stroke="#f4f4f4" stroke-width="1"/>
<line x1="94.5" y1="1184.6" x2="384.6" y2="1184.6" stroke="#f4f4f4" stroke-width="1"/>
<line x1="94.5" y1="1149.5" x2="384.6" y2="1149.5" stroke="#f4f4f4" stroke-width="1"/>
<line x1="94.5" y1="1114.3" x2="384.6" y2="1114.3" stroke="#f4f4f4" stroke-width="1"/>
<line x1="94.5" y1="1079.2" x2="384.6" y2="1079.2" stroke="#f4f4f4" stroke-width="1"/>
<path d="M228 1298h0m74 21h0m-55 -8h0m-104 6h0m-4 5h0m155 -3h0m-27 -2h0m-7 2h0m-5 -18h0m-48 23h0m62 -4h0m-92 -8h0m-8 7h0m98 6h0m-32 -14h0m-25 12h0m43 -12h0m19 11h0m-8 -1h0m-54 1h0m61 -8h0m-59 -2h0m-48 4h0m116 4h0m-61 0h0m7 -13h0m-82 18h0m146 -10h0m-118 7h0m22 2h0m-60 -7h0m54 5h0m115 1h0m-73 -9h0m56 8h0m-46 2h0m-33 -3h0m28 -9h0m83 13h0m-109 -2h0m24 -10h0m37 12h0m-67 -3h0m-43 -8h0m64 -17h0m50 22h0m-26 5h0m-76 -4h0m37 5h0m53 -19h0m-13 12h0m77 0h0m-190 4h0m29 -6h0m-44 6h0m125 -5h0m-37 4h0m-80 -6h0m81 -5h0m82 10h0m-22 -8h0m-83 5h0m12 -3h0m16 2h0m99 9h0m-74 -2h0m-4 -4h0m46 -3h0m-54 -11h0m105 20h0m-117 -23h0m-20 15h0m24 -8h0m-68 16h0m69 -6h0m-64 0h0m62 2h0m94 -3h0m-140 4h0m74 -1h0m31 -1h0m73 1h0m-75 4h0m10 -5h0m-20 -12h0m-120 11h0m125 5h0m-41 -1h0m5 2h0m34 -17h0m21 11h0m67 6h0m-82 -11h0m74 10h0m-88 -10h0m-7 6h0m-74 2h0m-1 -2h0m75 -7h0m19 11h0m-68 -5h0m1 2h0m-4 4h0m22 -2h0m11 -16h0m82 11h0m-81 6h0m48 -2h0m-43 1h0m-39 -10h0m-16 7h0m5 -1h0m21 -10h0m25 9h0m62 5h0m-72 -7h0m-38 2h0m-18 2h0m57 -1h0m-3 2h0m40 -2h0m-65 5h0m52 -1h0m-44 -8h0m41 0h0m-59 2h0m79 7h0m91 1h0m-103 -8h0m-91 5h0m152 2h0m-93 0h0m13 -1h0m-36 -9h0m35 5h0m20 -16h0m-52 12h0m22 -12h0m-43 17h0m92 4h0m-125 -6h0m98 -1h0m-47 0h0m-9 4h0m-6 -9h0m55 10h0m-8 -12h0m-48 5h0m144 9h0m-20 -1h0m-73 -3h0m-36 4h0m58 -4h0m37 0h0m-76 4h0m5 -16h0m104 13h0m-170 2h0m102 -7h0m-22 5h0m-101 -2h0m12 -3h0m125 3h0m-26 4h0m-21 -1h0m-14 -1h0m34 -1h0m-1 5h0m-73 -1h0m36 1h0m74 -2h0m-148 2h0m-8 -4h0m113 4h0m-70 -3h0m41 1h0m112 1h0m-127 1h0m21 -4h0m50 -12h0m-66 6h0m73 1h0m-28 3h0m-22 -14h0m-27 8h0m26 -6h0m33 15h0m-12 2h0m-45 -8h0m-3 3h0m78 2h0m-15 2h0m-64 -4h0m79 -1h0m-51 -16h0m-66 23h0m73 -14h0m17 8h0m-28 3h0m56 -5h0m-33 5h0m-8 0h0m-19 -11h0m-43 14h0m33 -5h0m34 1h0m-51 -6h0m102 5h0m-155 1h0m157 -4h0m-85 -6h0m10 5h0m15 2h0m0 -8h0m67 10h0m-69 -15h0m-3 11h0m2 -4h0m-64 5h0m35 8h0m95 -4h0m-85 -15h0m-16 16h0m82 -2h0m-95 -4h0m-25 7h0m103 -16h0m-41 15h0m3 -3h0m-6 -9h0m-1 14h0m-49 1h0m61 -1h0m85 -5h0m-165 3h0m73 -12h0m-6 10h0m36 -13h0m-111 13h0m17 -2h0m143 2h0m-94 -4h0m89 4h0m-22 -6h0m-17 6h0m-44 -3h0m81 8h0m-144 -1h0m60 0h0m-15 -6h0m91 -3h0m-35 6h0m-88 4h0m67 -1h0m46 -3h0m-101 -3h0m13 -6h0m-4 12h0m84 -17h0m2 -1h0m-63 1h0m-17 14h0m77 -13h0m15 7h0m12 3h0m8 4h0m-34 3h0m-1 -12h0m0 11h0m9 -7h0m-86 3h0m51 2h0m-81 1h0m11 -7h0m57 0h0m-19 9h0m100 -4h0m-167 -5h0m-5 9h0m33 -12h0m100 1h0m-35 5h0m9 4h0m-122 -4h0m148 6h0m-9 -8h0m54 8h0m-24 -7h0m-105 6h0m23 -8h0m29 6h0m-55 -1h0m62 -1h0m-85 0h0m41 -2h0m79 5h0m-35 -4h0m17 -3h0m-111 7h0m62 0h0m-50 -5h0m49 -12h0m5 16h0m-84 3h0m81 -15h0m46 1h0m28 4h0m-67 1h0m-56 9h0m100 -3h0m-89 -2h0m130 5h0m51 -3h0m-146 -5h0m3 7h0m-16 -6h0m50 1h0m35 5h0m-150 -1h0m83 -19h0m-102 16h0m74 5h0m35 0h0m-17 -6h0m99 -1h0m-85 4h0m72 0h0m42 -5h0m-105 1h0m12 6h0m34 -7h0m-143 4h0m67 -6h0m64 3h0m-13 3h0m-58 2h0m54 0h0m1 -6h0m-92 7h0m99 -11h0m-79 7h0m-27 -5h0m5 6h0m89 4h0m-64 0h0m-18 -7h0m78 -7h0m-27 7h0m51 -13h0m34 16h0m31 1h0m-177 -8h0m77 5h0m-45 -1h0m91 2h0m-22 -13h0m-12 16h0m-52 -9h0m118 5h0m-87 -3h0m-46 4h0m110 2h0m-39 0h0m5 3h0m-71 -5h0m133 2h0m-34 -4h0m-75 7h0m8 -13h0m9 3h0m-31 8h0m73 -14h0m-67 11h0m96 4h0m-29 -8h0m-120 6h0m141 -7h0m-56 -14h0m-104 21h0m107 0h0m11 -8h0m25 3h0m-5 6h0m57 0h0m-102 -6h0m39 5h0m-104 -1h0m73 -3h0m4 0h0m49 -6h0m-67 10h0m-23 2h0m87 -7h0m-42 -7h0m-13 -7h0m-56 19h0m64 -12h0m1 -15h0m2 11h0m9 7h0m49 12h0m-42 0h0m29 -10h0m-88 8h0m14 -6h0m-14 -4h0m-14 9h0m-16 1h0m75 2h0m-63 -5h0m4 1h0m-24 -6h0m64 4h0m69 3h0m15 -4h0m-100 7h0m-38 -3h0m77 -2h0m93 4h0m-54 1h0m-25 -13h0m83 12h0m-112 0h0m-20 -6h0m39 -2h0m-96 -1h0m-18 9h0m41 -9h0m140 10h0m-72 -5h0m-10 -7h0m-18 11h0m-41 0h0m53 -1h0m114 -1h0m-87 2h0m54 1h0m-15 -12h0m-74 5h0m-39 -4h0m50 1h0m43 4h0m-142 5h0m56 -7h0m37 5h0m50 -1h0m18 2h0m-50 1h0m-9 -8h0m-51 -1h0m103 10h0m-12 -12h0m-66 -1h0m54 -1h0m-17 -4h0m0 5h0m-87 9h0m154 1h0m-4 -6h0m-180 2h0m70 -2h0m53 6h0m-42 -1h0m56 -3h0m46 7h0m-47 -15h0m-36 15h0m41 -2h0m-67 -3h0m137 2h0m6 -1h0m-110 1h0m6 -18h0m-7 7h0m22 12h0m9 -23h0m-36 14h0m-56 11h0m40 -3h0m-35 2h0m34 -4h0m-27 -4h0m62 7h0m14 -12h0m2 -7h0m-70 13h0m111 7h0m10 -2h0m4 -2h0m-44 2h0m-38 -11h0m1 5h0m-62 7h0m72 -1h0m10 -7h0m25 -1h0m-10 5h0m-59 -4h0m47 8h0m95 0h0m-174 -7h0m-25 -1h0m16 6h0m5 -8h0m47 8h0m41 -5h0m-85 3h0m192 6h0m-86 -4h0m-70 -6h0m-1 5h0m86 -6h0m-123 11h0m86 -26h0m-113 18h0m68 8h0m160 -3h0m-200 -7h0m63 -11h0m-64 18h0m96 -5h0m-79 -5h0m0 11h0m5 0h0m123 -3h0m-76 -9h0m-44 10h0m47 4h0m-69 -10h0m91 7h0m-73 -6h0m0 7h0m28 -4h0m5 -4h0m48 7h0m-3 0h0m19 -2h0m-50 -5h0m-10 1h0m30 -17h0m37 25h0m-24 -19h0m-90 19h0m35 -12h0m89 13h0m-30 -6h0m42 2h0m-50 1h0m-41 -2h0m48 -5h0m-14 0h0m-121 1h0m112 -1h0m19 -8h0m-39 6h0m-32 6h0m-70 0h0m74 4h0m1 -7h0m60 -7h0m-24 9h0m-13 -11h0m118 16h0m-166 0h0m21 -3h0m51 3h0m16 -5h0m-45 -3h0m9 -1h0m83 9h0m-140 1h0m7 -5h0m85 5h0m-54 -5h0m-14 3h0m110 2h0m-130 -5h0m14 -4h0m81 4h0m-15 -5h0m-3 11h0m54 -9h0m-99 5h0m-47 -2h0m36 -1h0m40 7h0m35 -9h0m45 2h0m-85 7h0m58 -10h0m-61 -17h0m-91 24h0m191 1h0m-176 -9h0m32 5h0m42 5h0m62 -1h0m-128 -1h0m9 1h0m164 0h0m-50 -2h0m-76 -8h0m-73 12h0m87 -13h0m101 6h0m-108 -3h0m40 -14h0m26 24h0m-126 -1h0m104 -15h0m6 -2h0m-12 5h0m-46 0h0m65 0h0m-75 0h0m-27 8h0m101 -3h0m-105 -1h0m31 6h0m28 -8h0m94 11h0m-28 -5h0m-74 -17h0m48 9h0m-31 -14h0m-23 7h0m18 13h0m-34 1h0m31 3h0m-46 2h0m97 -10h0m26 9h0m-146 -6h0m139 2h0m-25 -4h0m20 2h0m-29 -10h0m-122 12h0m137 -3h0m-74 9h0m67 -18h0m-9 6h0m-52 10h0m20 -29h0m69 28h0m-4 0h0m-129 -2h0m14 1h0m65 3h0m-38 -10h0m-50 5h0m81 -15h0m-50 19h0m-38 0h0m101 -5h0m-61 3h0m-5 -3h0m125 3h0m-63 -3h0m-54 7h0m63 0h0m58 0h0m-124 -3h0m18 -5h0m18 -2h0m11 -9h0m5 12h0m42 7h0m-18 -1h0m21 -2h0m-10 -7h0m-15 -7h0m-76 13h0m36 -15h0m-67 13h0m56 -14h0m49 20h0m-58 0h0m39 -1h0m9 -3h0m22 -13h0m-68 15h0m96 0h0m-12 -10h0m3 8h0m27 3h0m-107 -15h0m-73 16h0m90 -13h0m4 11h0m-13 -3h0m13 -9h0m26 0h0m61 13h0m-91 -26h0m-48 17h0m122 9h0m-52 -2h0m77 3h0m-61 0h0m-44 -13h0m80 8h0m-102 -5h0m20 8h0m32 2h0m28 -11h0m-29 -4h0m44 15h0m-136 -9h0m161 4h0m-53 -13h0m0 10h0m17 -4h0m-110 1h0m34 11h0m75 -2h0m-14 -1h0m-76 1h0m90 1h0m-66 -12h0m46 -2h0m-97 8h0m-13 0h0m75 -9h0m-60 6h0m7 4h0m16 1h0m18 -11h0m78 15h0m-83 -3h0m-28 -7h0m26 -2h0m61 -6h0m-13 12h0m3 -12h0m2 17h0m-68 -4h0m124 1h0m-60 4h0m4 -12h0m-1 8h0m-73 -1h0m98 -7h0m19 5h0m-44 -14h0m-8 16h0m-45 -5h0m-22 8h0m91 -5h0m-105 -3h0m-9 1h0m76 -2h0m-43 11h0m101 -3h0m-20 0h0m-52 3h0m93 -2h0m-83 3h0m-15 -11h0m123 8h0m-131 1h0m22 0h0m32 -12h0m-38 9h0m-56 1h0m6 -3h0m29 -2h0m108 3h0m47 6h0m-115 -2h0m117 -2h0m-228 -4h0m133 7h0m-74 -7h0m111 8h0m39 -5h0m-209 4h0m42 0h0m3 -5h0m85 -7h0m-78 2h0m-23 9h0m152 -1h0m-51 -19h0m-38 -3h0m-16 17h0m-45 4h0m-18 -1h0m88 5h0m-5 -15h0m-8 -1h0m47 -7h0m-27 22h0m-3 -20h0m6 16h0m-40 3h0m53 -14h0m-36 14h0m-24 -2h0m6 2h0m58 -1h0m-38 -22h0m-45 21h0m132 -1h0m-79 -25h0m49 15h0m-97 9h0m131 -3h0m-119 5h0m126 -1h0m-25 2h0m-37 -21h0m-77 14h0m87 -11h0m-23 13h0m56 5h0m-115 1h0m83 -14h0m58 16h0m-70 -2h0m72 -3h0m-43 5h0m-71 -19h0m41 8h0m-36 -11h0m-18 22h0m55 -1h0m5 -20h0m15 20h0m-71 -12h0m63 7h0m-56 0h0m-2 3h0m-23 -10h0m-11 11h0m100 0h0m40 -1h0m-131 -7h0m40 -2h0m-34 6h0m-18 6h0m68 -1h0m13 -8h0m25 2h0m-28 3h0m-68 2h0m48 -1h0m-88 3h0m113 -20h0m19 16h0m-46 -22h0m15 22h0m-14 -15h0m-41 16h0m82 -11h0m2 12h0m-79 -5h0m-17 6h0m141 -8h0m-65 0h0m-45 7h0m19 -23h0m-17 7h0m54 -1h0m-70 11h0m94 2h0m13 5h0m-141 1h0m61 -17h0m-12 9h0m22 -17h0m7 21h0m31 -7h0m-57 10h0m51 -19h0m-4 0h0m-82 13h0m41 7h0m66 -7h0m34 5h0m-86 -15h0m-1 17h0m71 -8h0m-17 4h0m-33 -1h0m-9 1h0m21 -4h0m1 8h0m9 -7h0m-108 0h0m91 -11h0m-52 3h0m-54 13h0m153 -6h0m-112 7h0m22 -15h0m-24 6h0m-20 9h0m66 -13h0m-87 11h0m116 -1h0m-15 1h0m-37 -2h0m-30 0h0m-9 4h0m136 -3h0m-99 4h0m-61 -5h0m119 5h0m-53 -21h0m-2 19h0m-2 -16h0m20 8h0m-33 5h0m13 -6h0m81 3h0m-33 5h0m-2 -7h0m-89 -1h0m1 7h0m58 -16h0m-10 15h0m-37 -5h0m101 5h0m-129 -5h0m48 9h0m72 -8h0m-87 -2h0m112 5h0m-18 -10h0m-97 13h0m4 -7h0m42 -12h0m96 17h0m-102 5h0m-16 -13h0m-49 6h0m81 4h0m-24 -19h0m-10 10h0m26 -10h0m72 16h0m-120 -6h0m32 -1h0m24 0h0m87 10h0m-81 1h0m-123 -1h0m62 -4h0m25 7h0m1 -4h0m22 -1h0m-85 2h0m21 0h0m124 -3h0m-93 -7h0m24 10h0m104 2h0m-86 -5h0m-11 -2h0m-40 -3h0m49 -7h0m32 13h0m-102 -1h0m23 -6h0m-60 9h0m68 -1h0m87 -6h0m-105 3h0m82 -3h0m4 -12h0m-63 16h0m93 -2h0m-35 1h0m-30 7h0m-6 -10h0m-9 -8h0m51 16h0m-11 -16h0m-82 15h0m22 -1h0m61 -5h0m-17 -3h0m102 11h0m-21 -4h0m-153 2h0m46 -17h0m46 17h0m-133 1h0m200 0h0m-48 0h0m-50 -13h0m-58 12h0m88 0h0m1 -8h0m-8 -8h0m-17 17h0m-10 -19h0m5 7h0m-32 6h0m95 6h0m-25 -11h0m-33 10h0m-65 -3h0m143 3h0m-135 -1h0m42 1h0m16 2h0m85 0h0m-46 -7h0m-88 8h0m122 -4h0m-36 -12h0m-104 10h0m-37 -2h0m148 1h0m-98 4h0m45 3h0m50 -2h0m-112 -7h0m11 9h0m53 -2h0m51 -13h0m-76 7h0m-34 3h0m-27 3h0m187 1h0m-144 -4h0m24 -12h0m-49 13h0m-29 -3h0m63 4h0m1 -5h0m56 -8h0m-47 7h0m81 -4h0m-47 2h0m-34 -1h0m30 2h0m-58 0h0m80 -8h0m-99 13h0m55 -11h0m10 15h0m35 -5h0m-93 3h0m33 1h0m37 1h0m27 -6h0m-39 -1h0m134 7h0m-78 -4h0m-24 -12h0m-29 3h0m49 11h0m3 0h0m5 -3h0m-5 6h0m-41 -16h0m-24 -5h0m89 15h0m-136 0h0m107 6h0m51 -2h0m-38 2h0m-71 -7h0m-58 3h0m124 2h0m58 1h0m-127 -2h0m-64 1h0m105 -18h0m79 15h0m-37 3h0m-25 -11h0m-38 -11h0m-43 21h0m52 -6h0m-18 -15h0m-96 13h0m125 1h0m-74 3h0m-29 4h0m25 2h0m59 0h0m59 -6h0m-68 5h0m-104 1h0m128 -5h0m34 2h0m25 -4h0m-35 6h0m81 2h0m-60 0h0m12 -1h0m-75 -22h0m8 17h0m-121 5h0m105 -6h0m7 -14h0m25 2h0m-65 19h0m31 -5h0m112 5h0m-49 -14h0m4 10h0m82 0h0m-157 -3h0m-14 -2h0m78 8h0m-95 -9h0m-12 3h0m34 6h0m-62 -3h0m128 2h0m-8 -21h0m-100 12h0m66 4h0m-43 3h0m31 4h0m39 -14h0m16 9h0m-4 3h0m19 -11h0m40 5h0m-90 -15h0m-15 16h0m101 3h0m-4 2h0m-13 -7h0m-83 -2h0m7 -11h0m-33 22h0m-3 0h0m-7 0h0m-2 0h0m-4 0h0m-20 -2h0m-4 0h0m-3 -1h0m-6 -1h0m-2 0h0m-3 -1h0m-6 0h0m-2 0h0m-3 -1h0m-5 0h0m-1 -1h0m-6 -1h0m-2 0h0m82 8h0m-2 0h0m-10 0h0m-4 -1h0m-9 -1h0m-4 0h0m-9 -1h0m-4 -1h0m-3 0h0m-4 -1h0m-5 -1h0m-1 0h0m-3 -1h0m-5 -1h0m-5 -1h0m-4 -1h0m-2 -1h0m-3 -1h0m-3 0h0m58 10h0m-4 0h0m-10 -2h0m-2 -1h0m-5 0h0m-1 -1h0m-3 -1h0m-5 -1h0m-3 0h0m-4 -1h0m-2 -1h0m-3 -1h0m-3 -1h0m-6 -1h0m-3 -1h0m-2 -1h0m-3 -2h0m62 16h0m-4 -1h0m-3 -1h0m-6 -1h0m-5 -1h0m-2 0h0m-9 -3h0m-4 -1h0m-3 -1h0m-4 -1h0m-1 -1h0m-5 -1h0m-2 -1h0m-6 -2h0m-1 -1h0m-5 -1h0m-2 -1h0m27 -183h0m-32 171h0m46 -11h0m11 7h0m-27 7h0m-10 3h0m62 0h0m21 -24h0m43 10h0" stroke="#bcbcbc" stroke-width="3.3" stroke-linecap="round" fill="none"/>
<path d="M201 1300h0m9 17h0m11 1h0m-9 -12h0m-19 -9h0m20 -6h0m-17 0h0m16 26h0m-3 -21h0m11 7h0m-6 10h0m-10 1h0m23 -3h0m-22 3h0m5 -19h0m7 23h0m-11 -6h0m8 0h0m-10 -2h0m13 6h0m-17 -12h0m9 14h0m-15 -1h0m26 1h0m-15 -11h0m3 7h0m-11 -10h0m12 -5h0m5 -2h0m-17 13h0m12 1h0m-2 -4h0m17 -11h0m-26 20h0m8 -18h0m5 18h0m-6 -10h0m9 10h0m2 -15h0m9 2h0m-14 -3h0m-14 11h0m5 6h0m3 -12h0m3 0h0m0 12h0m-3 -19h0m6 16h0m3 -8h0m-1 3h0m-4 -19h0m13 15h0m-22 13h0m17 -13h0m-14 -11h0m14 16h0m-12 6h0m-7 -2h0m29 -12h0m-21 -13h0m0 22h0m-2 -3h0m1 -12h0m3 16h0m0 -13h0m1 -8h0m-5 24h0m2 -13h0m-5 -7h0m6 3h0m4 3h0m15 16h0m-7 -25h0m-14 9h0m8 16h0m1 -2h0m-2 -5h0m9 0h0m3 5h0m-11 -4h0m-4 -3h0m2 -9h0m1 -1h0m-15 20h0m5 -19h0m19 -4h0m-15 18h0m-1 -4h0m-9 9h0m5 0h0m5 -9h0m-12 -13h0m26 19h0m-10 -4h0m12 -1h0m-5 -3h0m-11 -6h0m5 -9h0m5 20h0m-10 -17h0m18 6h0m-6 5h0m-10 7h0m13 -21h0m-25 20h0m13 5h0m10 -26h0m-14 27h0m2 -25h0m6 5h0m7 7h0m-13 13h0m-8 -29h0m-5 24h0m23 -23h0m2 22h0m-4 -8h0m-11 3h0m5 7h0m18 -1h0m-9 -5h0m3 -18h0m-19 10h0m18 16h0m-2 -14h0m-12 4h0m2 5h0m-6 -8h0m3 8h0m10 -22h0m-20 22h0m28 -6h0m-25 3h0m8 -16h0m8 15h0m2 0h0m-15 4h0m21 2h0m1 2h0m-11 -27h0m0 21h0m-10 -7h0m11 3h0m-16 2h0m19 -8h0m11 6h0m-17 3h0m6 -3h0m-7 -5h0m-9 -7h0m-1 12h0m23 9h0m-1 -17h0m-4 4h0m-19 -11h0m-3 25h0m8 -15h0m8 5h0m-7 13h0m13 -24h0m-1 23h0m2 -8h0m-17 -16h0m12 6h0m14 16h0m-24 0h0m18 -10h0m-3 -1h0m-15 -17h0m7 23h0m-2 -2h0m0 -15h0m5 11h0m-11 3h0m-1 6h0m23 -15h0m-10 -11h0m-14 18h0m7 -4h0m9 13h0m-9 -8h0m2 9h0m17 -2h0m-24 -18h0m-3 6h0m9 9h0m-7 0h0m5 6h0m5 -18h0m3 12h0m-2 -8h0m4 -10h0m-8 9h0m-8 0h0m7 13h0m-7 -4h0m2 2h0m23 4h0m-21 -23h0m4 -1h0m4 12h0m5 2h0m-23 3h0m32 1h0m-23 -1h0m8 8h0m-8 -19h0m7 11h0m8 9h0m-3 -6h0m-2 -11h0m9 -10h0m-2 11h0m3 5h0m-3 10h0m-6 -15h0m-1 0h0m-3 11h0m5 -5h0m-7 -5h0m-15 -5h0m19 13h0m-12 -4h0m10 -1h0m-3 5h0m-6 -12h0m19 1h0m-1 14h0m-13 0h0m11 -22h0m3 20h0m-26 4h0m19 0h0m3 -13h0m6 3h0m-13 6h0m-8 5h0m12 -7h0m12 1h0m-19 -17h0m9 1h0m12 17h0m-12 4h0m-14 -14h0m5 2h0m8 13h0m1 -10h0m-13 -1h0m23 12h0m-9 -5h0m-33 -134h0m28 53h0m-16 9h0m0 8h0m32 13h0m-34 7h0m11 6h0m21 0h0m-26 7h0m10 -2h0m18 0h0" stroke="#3653a8" stroke-width="3.3" stroke-linecap="round" fill="none"/>
<path d="M308 1320h0m-18 -29h0m-18 24h0m23 -3h0m8 -3h0m-7 4h0m14 -7h0m-31 -14h0m-15 0h0m19 -3h0m-17 18h0m15 0h0m-12 6h0m3 3h0m58 3h0m-41 -10h0m34 6h0m-35 -22h0m-18 25h0m11 -3h0m11 -6h0m-17 10h0m-18 -3h0m17 -16h0m17 17h0m15 -7h0m-31 7h0m1 -28h0m18 22h0m-23 -13h0m13 18h0m-24 1h0m63 1h0m-31 -4h0m-7 -9h0m31 6h0m-1 8h0m-9 -1h0m-26 -21h0m-22 10h0m5 5h0m23 3h0m-17 -16h0m26 16h0m-24 -16h0m-2 15h0m-4 -5h0m25 -7h0m1 12h0m-16 -2h0m27 -4h0m-36 1h0m49 7h0m-45 -12h0m40 15h0m-29 0h0m42 -3h0m-60 -21h0m54 20h0m-58 -18h0m29 22h0m18 -4h0m0 -8h0m-42 0h0m17 -1h0m25 3h0m-40 1h0m62 2h0m-50 2h0m24 -4h0m-11 6h0m-22 -8h0m17 2h0m19 -8h0m23 17h0m-37 -19h0m-17 17h0m16 -7h0m3 6h0m11 -10h0m-45 -6h0m44 5h0m-29 11h0m11 -6h0m6 8h0m17 0h0m0 -2h0m-44 -4h0m69 7h0m-29 -17h0m-25 5h0m-12 8h0m31 -5h0m30 5h0m-30 2h0m3 2h0m-21 -21h0m2 16h0m-18 3h0m-5 -3h0m38 -13h0m-12 18h0m5 -8h0m-3 8h0m6 -15h0m-11 -17h0m-9 31h0m26 -18h0m-25 8h0m24 0h0m-3 -3h0m-6 10h0m5 -5h0m-23 -9h0m12 -4h0m-6 22h0m2 -24h0m48 22h0m-58 0h0m13 -11h0m15 11h0m-13 -6h0m36 7h0m-43 -25h0m3 16h0m2 -7h0m-22 9h0m10 -3h0m48 11h0m-42 -14h0m48 8h0m-47 -4h0m17 9h0m52 -5h0m-84 1h0m2 -20h0m7 24h0m-9 1h0m-2 -1h0m54 0h0m-26 -13h0m7 14h0m-18 -11h0m6 -20h0m2 14h0m-7 10h0m12 7h0m-9 -8h0m30 5h0m-11 -15h0m-18 16h0m4 -30h0m-18 9h0m12 -4h0m-19 10h0m26 -11h0m-9 18h0m9 -20h0m10 29h0m-12 0h0m-16 -24h0m11 8h0m38 12h0m-15 3h0m16 -1h0m-41 -6h0m-17 8h0m33 -3h0m-11 -15h0m33 20h0m7 -11h0m-39 -8h0m-12 16h0m33 -8h0m-37 -9h0m10 -3h0m2 23h0m11 -1h0m-21 -5h0m6 -7h0m26 13h0m-44 -2h0m8 -6h0m-1 4h0m42 -4h0m20 4h0m-36 -8h0m4 0h0m-4 -1h0m-24 -15h0m36 14h0m9 8h0m-1 3h0m10 -10h0m-50 7h0m23 -20h0m-37 21h0m12 -12h0m-3 -6h0m2 10h0m42 3h0m-8 -11h0m-31 1h0m17 17h0m-30 -26h0m38 18h0m-11 8h0m-22 -18h0m51 17h0m28 1h0m-44 -12h0m-32 -2h0m0 8h0m13 -17h0m-16 23h0m23 -8h0m20 -6h0m-19 6h0m15 -9h0m6 10h0m-11 -6h0m22 11h0m-47 -27h0m58 32h0m-56 -10h0m-6 2h0m26 2h0m-7 -21h0m-9 3h0m18 -3h0m5 20h0m-41 -14h0m9 -2h0m9 -10h0m2 17h0m57 8h0m-51 2h0m-13 -28h0m3 31h0m-11 2h0m33 -1h0m-33 -17h0m1 18h0m5 -13h0m63 7h0m-23 -4h0m4 8h0m-35 2h0m0 -9h0m-6 3h0m7 -25h0m22 20h0m-25 -7h0m48 14h0m-23 -12h0m-30 11h0m2 -20h0m28 26h0m-38 -14h0m-7 3h0m24 -9h0m-15 9h0m43 11h0m22 -7h0m-28 6h0m18 -5h0m-49 -29h0m11 13h0m-11 -5h0m46 17h0m12 2h0m-55 -22h0m-18 14h0m64 6h0m-20 -7h0m-19 5h0m3 12h0m-4 -19h0m44 17h0m-45 -14h0m11 14h0m-14 0h0m-12 -2h0m-2 -2h0m-2 -1h0m22 -10h0m19 11h0m29 1h0m-9 5h0m-23 -16h0m-32 11h0m33 -1h0m-27 -3h0m18 -3h0m-19 -6h0m0 -6h0m65 19h0m-48 -11h0m10 10h0m-2 -11h0m19 11h0m-32 0h0m-17 3h0m12 -1h0m-8 4h0m18 -5h0m-27 3h0m54 -10h0m-47 -7h0m19 18h0m19 -15h0m-19 0h0m-13 -1h0m3 15h0m-20 -12h0m24 -3h0m-14 13h0m22 -7h0m-25 8h0m45 2h0m23 -1h0m-58 -5h0m-11 -18h0m44 9h0m-19 -11h0m-30 15h0m6 -9h0m26 12h0m-2 -6h0m-20 5h0m11 -19h0m-8 0h0m-12 1h0m52 26h0m-5 -3h0m-49 3h0m14 -7h0m-5 -21h0m30 14h0m-10 11h0m-2 -7h0m-4 11h0m-9 -30h0m15 6h0m-29 8h0m28 13h0m8 -19h0m-20 -1h0m-14 15h0m29 -19h0m-16 5h0m33 14h0m12 2h0m-15 3h0m-23 2h0m23 -13h0m-37 -9h0m25 23h0m-15 -21h0m11 18h0m-17 -21h0m-12 18h0m24 3h0m1 -22h0m-8 0h0m-18 11h0m9 8h0m31 -14h0m0 -4h0m26 23h0m-61 -5h0m25 0h0m28 4h0m22 -3h0m-81 -15h0m55 18h0m-32 -6h0m10 7h0m28 -1h0m-5 2h0m-43 -32h0m7 30h0m0 -15h0m-13 16h0m68 -9h0m2 11h0m-23 -16h0m6 7h0m-12 3h0m-36 -12h0m14 11h0m2 -21h0m14 14h0m-38 -3h0m24 -3h0m-1 -3h0m-4 16h0m-16 2h0m75 4h0m-20 -1h0m-49 -9h0m8 6h0m-11 -11h0m7 -5h0m-7 6h0m35 13h0m-32 -24h0m8 25h0m12 -3h0m18 3h0m-51 -11h0m4 -18h0m37 25h0m-22 0h0m8 -3h0m54 6h0m-73 -10h0m47 5h0m-38 -11h0m44 14h0m-13 -17h0m22 9h0m-45 -14h0m-23 15h0m31 -14h0m-20 16h0m-12 6h0m28 -20h0m36 21h0m-61 -10h0m18 -23h0m-7 34h0m21 0h0m-21 -33h0m44 32h0m-19 -8h0m-9 8h0m7 0h0m-14 -17h0m56 16h0m-38 -2h0m20 4h0m-12 -19h0m-17 9h0m37 9h0m-22 -5h0m-5 -2h0m-9 -6h0m-23 -11h0m33 13h0m30 10h0m-60 -2h0m39 2h0m-3 -2h0m32 1h0m-24 -1h0m-40 -6h0m35 7h0m-19 -4h0m-24 -6h0m5 8h0m21 -2h0m18 -11h0m-2 10h0m-51 1h0m11 -11h0m25 19h0m-6 -22h0m13 12h0m25 0h0m-21 -10h0m-26 -10h0m-3 20h0m12 -18h0m20 13h0m-49 -11h0m18 10h0m-5 -3h0m20 3h0m21 6h0m-49 9h0m0 -28h0m2 22h0m42 -6h0m0 6h0m-11 -15h0m-29 13h0m16 -24h0m-16 26h0m17 -2h0m53 5h0m-48 -2h0m-22 -19h0m61 18h0m7 5h0m-68 -19h0m20 13h0m17 7h0m-43 -9h0m35 -13h0m-39 6h0m86 13h0m-25 1h0m-20 -13h0m-20 15h0m-3 1h0m40 -8h0m19 6h0m-66 -7h0m7 -18h0m-8 8h0m27 -7h0m5 23h0m-19 0h0m-5 1h0m52 -1h0m-63 0h0m26 -7h0m-13 -18h0m20 27h0m-16 -22h0m3 19h0m6 -17h0m-23 -6h0m61 22h0m-58 -2h0m-7 -7h0m11 -20h0m-14 29h0m48 -2h0m-26 -3h0m8 3h0m3 -11h0m27 16h0m22 -7h0m-59 8h0m-8 0h0m13 -8h0m1 -22h0m-10 10h0m-19 13h0m3 -13h0m18 -7h0m-7 16h0m-10 -4h0m-8 9h0m44 -9h0m-20 1h0m14 -3h0m-31 14h0m39 2h0m-41 -9h0m16 11h0m0 -16h0m32 14h0m-16 -13h0m-4 -11h0m11 17h0m-29 2h0m-8 -24h0m13 22h0m18 -1h0m-16 -4h0m-1 5h0m-15 3h0m11 -25h0m11 15h0m1 13h0m34 -5h0m-25 -13h0m19 14h0m-19 0h0m-1 -1h0m-1 -9h0m21 8h0m-56 -14h0m31 13h0m16 10h0m-22 -19h0m-14 4h0m12 -19h0m-6 5h0m18 22h0m14 -4h0m-33 11h0m-5 -16h0m13 -9h0m-10 23h0m-2 2h0m16 -24h0m-15 14h0m-7 -10h0m34 12h0m-16 6h0m-16 -17h0m26 12h0m4 -12h0m-1 -10h0m37 23h0m-71 -25h0m7 25h0m26 2h0m-31 3h0m24 -11h0m-17 5h0m3 -5h0m52 4h0m-55 4h0m2 -12h0m6 3h0m-13 4h0m18 8h0m11 -12h0m14 10h0m9 0h0m-37 -11h0m40 14h0m-48 -15h0m50 11h0m-28 3h0m27 -7h0m-57 -11h0m12 15h0m30 -10h0m-42 -3h0m5 -12h0m38 22h0m-34 0h0m22 3h0m16 -14h0m-2 15h0m-16 -18h0m-22 -6h0m-9 -2h0m31 20h0m-27 3h0m33 -7h0m-24 0h0m-3 2h0m14 10h0m31 -1h0m-43 -9h0m12 -4h0m-14 5h0m-10 -5h0m32 12h0m8 -4h0m12 4h0m-19 -13h0m-8 9h0m-27 -4h0m6 -3h0m2 -20h0m76 31h0m-76 -28h0m16 25h0m41 -4h0m-50 4h0m20 -5h0m24 -2h0m-26 -13h0m-23 6h0m52 13h0m-16 6h0m-4 -24h0m-42 0h0m42 3h0m-28 8h0m19 9h0m9 -3h0m-40 -11h0m27 -10h0m-17 20h0m3 2h0m5 2h0m-2 -9h0m-6 -7h0m-3 -11h0m44 18h0m-17 -6h0m-10 -12h0m49 31h0m4 -1h0m-42 1h0m-14 -26h0m-4 20h0m-10 -23h0m12 9h0m44 8h0m-44 9h0m-3 -8h0m58 4h0m-46 -14h0m43 19h0m-27 -1h0m-2 -15h0m9 14h0m-11 -8h0m-23 10h0m30 -3h0m-33 -30h0m2 32h0m36 -10h0m-37 -6h0m-20 5h0m16 4h0m27 7h0m-42 -1h0m34 -10h0m-18 -21h0m1 31h0m38 -12h0m-46 16h0m28 -21h0m30 13h0m-27 -4h0m36 8h0m-38 2h0m-25 -30h0m40 21h0m-10 -11h0m-10 23h0m7 -9h0m-3 -16h0m-27 21h0m3 -5h0m8 -8h0m4 1h0m53 13h0m-54 -7h0m-25 8h0m36 -23h0m-22 13h0m-10 9h0m25 1h0m19 -1h0m38 1h0m-20 -8h0m-55 -1h0m28 6h0m-14 -10h0m6 -11h0m1 20h0m12 4h0m-19 -15h0m23 9h0m-33 -5h0m5 -2h0m9 1h0m-28 8h0m53 -4h0m-9 6h0m-7 -20h0m-19 10h0m53 6h0m3 6h0m-71 -2h0m50 -4h0m-47 -2h0m-4 4h0m43 5h0m-38 -1h0m8 -17h0m1 11h0m-16 -4h0m9 2h0m-7 9h0m21 -11h0m36 8h0m-18 1h0m-11 -3h0m-29 1h0m69 -2h0m-6 4h0m-46 -22h0m-1 -5h0m60 20h0m-67 9h0m-4 -15h0m11 7h0m59 8h0m-28 -11h0m-36 -10h0m21 5h0m-32 9h0m0 5h0m23 -6h0m51 7h0m-37 -10h0m-6 4h0m33 -1h0m-48 -7h0m26 1h0m17 10h0m-18 4h0m-16 -10h0m29 0h0m-26 -7h0m-4 -15h0m-22 14h0m45 12h0m7 4h0m-27 -5h0m-7 8h0m1 -32h0m10 29h0m-3 -7h0m3 -2h0m45 8h0m-54 -26h0m8 4h0m-10 17h0m-17 7h0m25 -7h0m-18 -25h0m-8 33h0m16 -23h0m4 -3h0m-22 15h0m32 7h0m5 -10h0m-20 -8h0m13 16h0m-11 4h0m-1 -28h0m11 1h0m27 23h0m-31 -9h0m25 1h0m-24 1h0m-28 3h0m53 3h0m-47 4h0m35 -7h0m-17 11h0m6 -2h0m-1 -20h0m28 23h0m3 0h0m4 0h0m2 0h0m5 -1h0m3 0h0m5 0h0m6 -1h0m3 -1h0m4 0h0m3 -1h0m4 -1h0m4 0h0m3 -1h0m4 -1h0m-49 7h0m2 0h0m5 -1h0m7 -1h0m13 -3h0m5 -1h0m2 -1h0m4 -1h0m4 -2h0m3 -1h0m3 -2h0m-44 13h0m2 -1h0m5 -1h0m12 -4h0m5 -1h0m4 -2h0m3 -1h0m2 -2h0m4 -2h0m4 -2h0m4 -2h0m-54 18h0m8 -1h0m5 -1h0m8 -3h0m7 -3h0m4 -1h0m3 -2h0m5 -3h0m4 -2h0m3 -2h0m3 -3h0m4 -3h0m-108 -180h0m14 -65h0m-5 0h0m-2 12h0m-8 154h0m72 2h0m-55 25h0m-17 9h0m111 39h0m-18 -10h0m-3 6h0m-50 -26h0m-5 2h0m-20 -4h0m-1 5h0m5 3h0m-9 6h0m-11 2h0m52 6h0m-9 3h0m-16 -9h0" stroke="#e32226" stroke-width="3.3" stroke-linecap="round" fill="none"/>
<path d="M94.5 1340.2V1048.4H384.6V1340.2" fill="none" stroke="#9a9a9a" stroke-width="1.1"/>
<line x1="94.5" y1="1047.9" x2="94.5" y2="1341.6" stroke="#000" stroke-width="2.8"/>
<line x1="93.1" y1="1340.2" x2="385.6" y2="1340.2" stroke="#000" stroke-width="2.8"/>
<line x1="91" y1="1325.3" x2="94.5" y2="1325.3" stroke="#333" stroke-width="1"/>
<text x="83.5" y="1334.1" font-size="25.5" text-anchor="end">0</text>
<line x1="91" y1="1255" x2="94.5" y2="1255" stroke="#333" stroke-width="1"/>
<text x="83.5" y="1263.8" font-size="25.5" text-anchor="end">25</text>
<line x1="91" y1="1184.6" x2="94.5" y2="1184.6" stroke="#333" stroke-width="1"/>
<text x="83.5" y="1193.4" font-size="25.5" text-anchor="end">50</text>
<line x1="91" y1="1114.3" x2="94.5" y2="1114.3" stroke="#333" stroke-width="1"/>
<text x="83.5" y="1123.1" font-size="25.5" text-anchor="end">75</text>
<text x="103.3" y="1365.9" font-size="25.5" text-anchor="middle">-6</text>
<text x="172" y="1365.9" font-size="25.5" text-anchor="middle">-3</text>
<text x="240.7" y="1365.9" font-size="25.5" text-anchor="middle">0</text>
<text x="309.3" y="1365.9" font-size="25.5" text-anchor="middle">3</text>
<text x="378" y="1365.9" font-size="25.5" text-anchor="middle">6</text>
<text x="240.7" y="1031.9" font-size="27" text-anchor="middle">V.Endo1</text>
<text x="251" y="1405.2" font-size="28.3" text-anchor="middle">log<tspan font-size="17.5" dy="10.2">2</tspan><tspan dy="-10.2">(Fold Change)</tspan></text>
<text transform="translate(29 1210.5) rotate(-90)" font-size="28.3" text-anchor="middle">-log<tspan font-size="17.5" dy="9.5">10</tspan><tspan dy="-9.5">(padj)</tspan></text>
<rect x="473.6" y="1047.3" width="287.9" height="292.3" fill="#fff"/>
<line x1="489.4" y1="1047.3" x2="489.4" y2="1339.6" stroke="#f4f4f4" stroke-width="1"/>
<line x1="523.8" y1="1047.3" x2="523.8" y2="1339.6" stroke="#f4f4f4" stroke-width="1"/>
<line x1="558.2" y1="1047.3" x2="558.2" y2="1339.6" stroke="#f4f4f4" stroke-width="1"/>
<line x1="592.6" y1="1047.3" x2="592.6" y2="1339.6" stroke="#f4f4f4" stroke-width="1"/>
<line x1="627" y1="1047.3" x2="627" y2="1339.6" stroke="#f4f4f4" stroke-width="1"/>
<line x1="661.4" y1="1047.3" x2="661.4" y2="1339.6" stroke="#f4f4f4" stroke-width="1"/>
<line x1="695.8" y1="1047.3" x2="695.8" y2="1339.6" stroke="#f4f4f4" stroke-width="1"/>
<line x1="730.2" y1="1047.3" x2="730.2" y2="1339.6" stroke="#f4f4f4" stroke-width="1"/>
<line x1="473.6" y1="1324.8" x2="761.5" y2="1324.8" stroke="#f4f4f4" stroke-width="1"/>
<line x1="473.6" y1="1280.4" x2="761.5" y2="1280.4" stroke="#f4f4f4" stroke-width="1"/>
<line x1="473.6" y1="1235.9" x2="761.5" y2="1235.9" stroke="#f4f4f4" stroke-width="1"/>
<line x1="473.6" y1="1191.5" x2="761.5" y2="1191.5" stroke="#f4f4f4" stroke-width="1"/>
<line x1="473.6" y1="1147.1" x2="761.5" y2="1147.1" stroke="#f4f4f4" stroke-width="1"/>
<line x1="473.6" y1="1102.6" x2="761.5" y2="1102.6" stroke="#f4f4f4" stroke-width="1"/>
<line x1="473.6" y1="1058.2" x2="761.5" y2="1058.2" stroke="#f4f4f4" stroke-width="1"/>
<path d="M615 1304h0m66 19h0m-126 -1h0m-25 -2h0m71 4h0m14 -8h0m44 7h0m-95 1h0m-2 -5h0m109 5h0m-76 -4h0m-36 2h0m98 -1h0m-9 0h0m-51 -7h0m7 5h0m2 -4h0m82 4h0m-139 0h0m50 3h0m-56 -2h0m119 1h0m-45 -4h0m35 4h0m45 1h0m3 -2h0m-184 -2h0m153 2h0m-175 -1h0m60 2h0m122 1h0m-111 0h0m42 -7h0m25 8h0m3 -1h0m6 1h0m-41 -1h0m-29 -3h0m28 5h0m38 -1h0m-51 -6h0m25 8h0m83 -4h0m-109 1h0m102 2h0m-80 -11h0m22 10h0m9 -3h0m85 3h0m-146 -1h0m-27 -2h0m-20 2h0m12 -1h0m63 -1h0m52 -2h0m-97 2h0m27 2h0m-67 -4h0m73 5h0m98 0h0m-42 0h0m-32 -15h0m43 14h0m-144 -2h0m94 -4h0m38 4h0m54 0h0m-141 3h0m53 -11h0m-3 10h0m-33 -4h0m72 4h0m-72 -2h0m-27 2h0m48 -2h0m-67 -2h0m126 5h0m-38 1h0m3 -1h0m21 -4h0m-55 3h0m-1 -5h0m69 7h0m-56 -7h0m-94 3h0m71 4h0m0 -3h0m-64 0h0m62 2h0m110 -1h0m-109 -3h0m-54 -1h0m24 -1h0m70 -3h0m-67 8h0m111 -4h0m2 5h0m-80 1h0m18 -6h0m-62 1h0m5 -2h0m79 3h0m18 4h0m2 -2h0m36 -2h0m-138 0h0m11 2h0m87 0h0m-51 -3h0m-15 -1h0m77 -2h0m-124 3h0m174 0h0m-175 2h0m29 2h0m83 -3h0m-46 -2h0m-5 0h0m39 2h0m-30 -3h0m36 7h0m-70 -2h0m-23 -5h0m89 7h0m-73 -6h0m8 2h0m-56 0h0m104 -8h0m2 12h0m0 -15h0m44 12h0m-65 3h0m32 -7h0m-32 -1h0m-84 3h0m147 1h0m30 3h0m-45 -2h0m-116 1h0m94 -2h0m-49 0h0m-54 -3h0m154 4h0m-41 2h0m15 0h0m52 0h0m-14 -1h0m-12 -3h0m-24 2h0m-38 2h0m-71 0h0m82 -11h0m-8 11h0m-55 -6h0m52 4h0m36 -4h0m10 3h0m-15 1h0m-74 -2h0m-22 -1h0m165 1h0m-102 2h0m41 2h0m-79 -6h0m28 2h0m88 3h0m-103 0h0m12 0h0m15 -10h0m23 9h0m62 0h0m5 -2h0m-146 -2h0m200 5h0m-175 0h0m6 1h0m-28 0h0m56 -8h0m-45 8h0m61 1h0m6 -3h0m-5 1h0m-16 2h0m-54 -4h0m30 4h0m82 0h0m-56 -10h0m-63 7h0m26 -1h0m84 -2h0m-126 0h0m23 5h0m93 -1h0m-106 -1h0m51 2h0m107 -3h0m-49 4h0m-28 0h0m-36 -4h0m47 3h0m20 0h0m-160 -5h0m117 -8h0m51 11h0m56 -1h0m-38 2h0m-39 -2h0m-69 -4h0m48 4h0m-17 4h0m-15 0h0m3 -8h0m11 2h0m15 -11h0m10 17h0m-61 -4h0m65 4h0m34 -3h0m-128 0h0m30 1h0m45 -12h0m-3 12h0m92 1h0m-24 0h0m-56 -5h0m-62 5h0m112 -4h0m-30 3h0m-58 -4h0m35 3h0m-72 -1h0m119 3h0m-114 -3h0m-41 2h0m176 1h0m-98 -4h0m-43 3h0m161 -1h0m-90 -16h0m-52 14h0m20 -3h0m90 6h0m-105 -6h0m61 7h0m59 -2h0m-19 2h0m-89 0h0m0 -1h0m110 -1h0m-132 -2h0m115 -1h0m-52 3h0m-90 -1h0m95 3h0m-85 -1h0m11 2h0m99 -8h0m60 6h0m-73 -4h0m4 2h0m-8 -1h0m-127 1h0m196 2h0m-96 -8h0m-10 2h0m-7 1h0m76 3h0m8 -2h0m-65 -10h0m-22 9h0m154 4h0m-153 -1h0m11 -7h0m-47 9h0m79 -2h0m-94 2h0m75 -1h0m-39 -2h0m61 4h0m-129 -5h0m108 1h0m100 1h0m-110 -1h0m21 4h0m-8 -2h0m-71 2h0m27 1h0m-30 -5h0m104 4h0m-63 -2h0m-30 2h0m75 1h0m104 -1h0m-175 -2h0m87 -2h0m16 5h0m8 -2h0m-119 1h0m20 -2h0m90 0h0m-81 0h0m-29 -3h0m96 -1h0m-44 3h0m5 4h0m-16 -4h0m-21 -3h0m-48 3h0m164 1h0m-22 -4h0m-102 4h0m98 -1h0m-168 1h0m181 3h0m-9 0h0m-105 0h0m16 0h0m-36 -5h0m109 1h0m39 2h0m-161 1h0m146 -4h0m-61 1h0m49 -1h0m-61 1h0m1 -6h0m43 2h0m-40 0h0m-91 4h0m147 -3h0m-57 5h0m91 -2h0m-81 3h0m-101 -2h0m25 0h0m55 2h0m14 -7h0m39 6h0m-144 -1h0m88 2h0m-55 -1h0m61 2h0m-74 -3h0m142 1h0m-15 0h0m0 -6h0m-83 4h0m59 2h0m-85 -2h0m70 1h0m-25 0h0m24 -5h0m-28 7h0m-39 -2h0m21 1h0m57 2h0m74 -2h0m-56 3h0m-20 -2h0m2 -8h0m102 5h0m-224 -2h0m72 0h0m11 1h0m-63 0h0m213 3h0m-80 2h0m-39 -14h0m-8 14h0m78 -5h0m-92 -5h0m51 9h0m-31 -10h0m46 8h0m-1 2h0m-77 -2h0m83 2h0m-14 -1h0m62 2h0m-156 -7h0m63 -2h0m1 2h0m34 1h0m-65 1h0m10 -5h0m8 -2h0m-32 11h0m32 -6h0m-18 1h0m91 6h0m-21 0h0m-97 -2h0m44 -7h0m108 7h0m-147 0h0m47 -11h0m63 12h0m-118 -5h0m38 0h0m85 1h0m-134 2h0m-25 -4h0m170 4h0m-49 -1h0m39 -2h0m-45 6h0m-53 -3h0m30 -5h0m-103 6h0m45 0h0m13 1h0m42 -2h0m44 1h0m-73 -5h0m2 1h0m7 6h0m-40 -6h0m60 0h0m25 6h0m-121 -6h0m67 0h0m-7 0h0m117 5h0m-188 -3h0m46 -1h0m69 0h0m28 3h0m23 1h0m-76 -2h0m-15 -4h0m29 0h0m-32 5h0m69 -1h0m-56 2h0m29 -11h0m70 9h0m-103 -5h0m-70 6h0m186 1h0m-152 -4h0m88 3h0m-26 -9h0m-33 8h0m-59 -2h0m168 5h0m-151 -2h0m47 0h0m-84 -1h0m108 -3h0m-30 -1h0m1 1h0m44 -5h0m-7 9h0m-66 -4h0m23 -1h0m92 6h0m-35 -2h0m1 1h0m-56 -2h0m27 4h0m-1 -2h0m46 2h0m12 -2h0m-76 -1h0m-22 -2h0m110 3h0m-66 -7h0m64 4h0m-6 2h0m-15 -3h0m23 2h0m-54 -8h0m54 7h0m-33 4h0m-53 -6h0m-24 6h0m-21 0h0m119 -3h0m-17 2h0m-34 -8h0m-105 7h0m56 0h0m45 0h0m-16 -1h0m-3 2h0m96 -3h0m-33 -2h0m-70 1h0m107 0h0m-72 2h0m-35 2h0m33 -2h0m1 2h0m9 -4h0m-9 -3h0m-89 7h0m103 -2h0m32 2h0m-58 1h0m54 -3h0m-34 -11h0m-56 13h0m5 1h0m5 -2h0m17 0h0m35 -6h0m-28 6h0m-48 2h0m30 -5h0m-5 4h0m83 -1h0m-65 -5h0m30 6h0m72 -2h0m-44 3h0m-69 -7h0m104 4h0m-137 2h0m-26 -2h0m113 0h0m-21 -6h0m7 5h0m0 -8h0m40 6h0m-82 5h0m94 -2h0m-50 -4h0m44 3h0m-35 3h0m-125 -1h0m187 1h0m-86 -10h0m-23 9h0m33 -11h0m-29 12h0m41 3h0m-34 -11h0m-41 9h0m112 -6h0m-34 6h0m-135 -3h0m71 4h0m-37 -2h0m75 0h0m72 1h0m-80 -5h0m4 -2h0m-5 2h0m-18 6h0m42 -1h0m6 -2h0m15 -5h0m-15 7h0m-75 -5h0m124 3h0m-69 1h0m5 -5h0m-99 3h0m118 4h0m-10 -4h0m120 1h0m-211 1h0m143 -4h0m-86 5h0m105 -1h0m-163 -2h0m107 1h0m-51 2h0m-5 -1h0m-2 -1h0m55 -1h0m57 3h0m-106 -3h0m-51 0h0m46 3h0m15 -1h0m-6 -3h0m50 3h0m-64 1h0m174 0h0m-112 -5h0m-10 5h0m-13 1h0m-80 -1h0m91 1h0m-13 -8h0m-12 8h0m96 -3h0m-57 3h0m-23 -3h0m-51 -3h0m54 3h0m-41 3h0m0 -1h0m87 -4h0m74 2h0m-92 2h0m-21 -4h0m-56 5h0m49 -18h0m33 10h0m41 4h0m21 3h0m-175 -1h0m81 -6h0m28 3h0m-47 3h0m-25 1h0m-6 -6h0m93 7h0m-49 -9h0m-32 8h0m77 -1h0m-44 1h0m19 2h0m53 -3h0m-77 -4h0m108 5h0m-70 -3h0m-37 -3h0m12 -3h0m-70 9h0m96 -5h0m-76 5h0m148 -3h0m-122 2h0m54 1h0m-57 -8h0m-68 5h0m-39 0h0m74 -2h0m20 6h0m67 -4h0m-98 2h0m62 -13h0m-48 14h0m3 -2h0m-39 -4h0m70 -2h0m70 6h0m-143 -3h0m83 -6h0m40 10h0m-15 -1h0m-12 1h0m-48 -3h0m41 -3h0m29 3h0m-9 0h0m12 -2h0m-40 1h0m59 3h0m-62 -7h0m-21 6h0m-92 -1h0m185 1h0m-115 -2h0m65 -2h0m-26 2h0m8 0h0m90 2h0m-82 -2h0m-27 2h0m23 3h0m97 -1h0m-6 0h0m-117 0h0m-36 0h0m52 -9h0m38 11h0m15 -5h0m-105 2h0m17 -3h0m77 0h0m71 3h0m-8 2h0m-12 -4h0m-178 1h0m93 3h0m-63 -4h0m63 -5h0m22 8h0m-10 -7h0m-118 5h0m97 -1h0m3 -2h0m74 2h0m-34 5h0m-19 0h0m115 -3h0m-222 1h0m92 -11h0m10 2h0m104 9h0m-120 -9h0m-39 7h0m21 4h0m89 -3h0m-27 2h0m-40 -6h0m-6 1h0m-103 1h0m154 -2h0m-78 2h0m29 3h0m84 1h0m-57 2h0m-139 -4h0m52 -2h0m80 4h0m16 0h0m-59 -7h0m71 5h0m-57 -2h0m89 4h0m-144 0h0m56 -1h0m20 -7h0m52 2h0m-9 3h0m-119 -2h0m69 1h0m14 -6h0m-1 -1h0m-46 11h0m-1 -3h0m83 -2h0m-86 6h0m102 -4h0m25 4h0m-8 -5h0m-115 2h0m17 2h0m1 -5h0m5 5h0m-78 -2h0m79 -1h0m22 -1h0m-80 1h0m143 4h0m-40 -3h0m-40 0h0m-42 -4h0m-47 3h0m26 -3h0m165 4h0m-172 0h0m91 -1h0m105 2h0m-116 -4h0m52 0h0m-50 -10h0m-48 10h0m-14 -1h0m-49 3h0m215 3h0m-117 -3h0m64 0h0m-57 -3h0m76 2h0m-82 0h0m-52 2h0m-19 1h0m17 1h0m125 -4h0m-82 2h0m9 -5h0m69 3h0m-39 3h0m46 0h0m-79 -5h0m82 2h0m20 3h0m-190 -4h0m129 5h0m-34 -10h0m-102 6h0m155 5h0m5 -7h0m-61 7h0m-85 -4h0m101 -5h0m31 9h0m-19 1h0m45 -4h0m-60 -1h0m26 1h0m-142 -3h0m127 6h0m-82 -6h0m69 -10h0m23 12h0m-111 -3h0m161 7h0m-125 -5h0m73 -2h0m43 7h0m-40 -7h0m9 7h0m-3 -5h0m27 4h0m-72 -9h0m-22 6h0m40 -9h0m64 7h0m-89 2h0m-69 2h0m40 2h0m91 -7h0m-161 2h0m126 -1h0m3 5h0m-12 1h0m-70 -1h0m3 0h0m70 -16h0m47 15h0m-66 -2h0m-75 2h0m81 -9h0m84 10h0m-61 -4h0m55 4h0m-116 -3h0m84 -2h0m-146 2h0m-11 0h0m220 1h0m-150 3h0m79 -2h0m-32 1h0m16 -4h0m18 5h0m19 -2h0m-36 0h0m-130 -4h0m170 2h0m-105 -3h0m107 6h0m-172 -3h0m45 2h0m14 -5h0m46 4h0m28 4h0m-74 -5h0m16 3h0m-70 -3h0m86 0h0m-45 0h0m-48 0h0m138 1h0m58 -2h0m-9 1h0m-160 1h0m67 -5h0m-37 5h0m125 3h0m-102 -4h0m78 -2h0m-92 3h0m51 3h0m3 -11h0m25 4h0m-46 -2h0m26 9h0m-75 -1h0m-40 -3h0m17 -3h0m70 6h0m108 -1h0m-140 -3h0m104 5h0m-123 -3h0m187 -1h0m18 2h0m-170 2h0m67 -3h0m-48 -3h0m-38 1h0m112 3h0m-173 -1h0m122 -1h0m-43 -2h0m109 6h0m-60 -16h0m-6 7h0m44 7h0m-1 -6h0m-10 -1h0m-32 8h0m47 -1h0m10 -2h0m-50 -4h0m-6 -3h0m-120 4h0m112 6h0m-80 -4h0m73 -2h0m-6 0h0m2 -1h0m43 4h0m-107 3h0m48 -6h0m-43 2h0m61 -3h0m43 2h0m-42 -1h0m21 3h0m72 4h0m-108 -7h0m34 6h0m31 -4h0m-37 -3h0m-64 7h0m-6 -1h0m58 1h0m-7 -7h0m-3 7h0m21 -4h0m-16 4h0m87 -2h0m-42 -4h0m-109 5h0m33 -2h0m-62 -1h0m227 4h0m-121 2h0m12 -8h0m-41 7h0m94 0h0m29 -3h0m-133 0h0m32 -2h0m3 4h0m33 1h0m-26 -13h0m27 6h0m41 2h0m-45 1h0m-19 -9h0m131 11h0m-184 -5h0m155 6h0m-80 -4h0m-37 5h0m7 -3h0m97 1h0m-66 -4h0m-23 -9h0m-47 12h0m43 0h0m3 -2h0m9 -3h0m-29 8h0m56 -5h0m-30 2h0m-134 -3h0m69 6h0m-49 -6h0m153 1h0m-99 -2h0m65 5h0m-52 -1h0m-67 -4h0m46 4h0m44 0h0m-67 -1h0m-37 1h0m164 3h0m36 -2h0m-74 -10h0m-65 12h0m173 -2h0m-17 -1h0m-166 -3h0m-4 3h0m-8 -4h0m63 -1h0m-72 4h0m85 5h0m3 -5h0m7 -10h0m-24 12h0m-92 -164h0m-23 158h0m62 -5h0m41 -13h0m-4 -2h0" stroke="#bcbcbc" stroke-width="3.3" stroke-linecap="round" fill="none"/>
<path d="M612 1299h0m-19 21h0m14 -6h0m-6 1h0m-8 4h0m14 -20h0m4 12h0m-1 -9h0m0 16h0m-12 -12h0m3 7h0m4 0h0m-4 -6h0m7 5h0m-16 4h0m6 -1h0m11 3h0m0 -7h0m-9 1h0m-3 6h0m-10 0h0m16 -7h0m-2 -2h0m-5 12h0m9 -4h0m-14 -3h0m13 -10h0m-2 2h0m3 10h0m2 -16h0m-10 20h0m2 -17h0m-5 4h0m15 2h0m-27 8h0m23 -7h0m1 6h0m-24 -5h0m8 4h0m4 -3h0m-2 8h0m20 0h0m-7 -6h0m-16 7h0m14 -6h0m3 5h0m-17 -1h0m9 -2h0m4 -9h0m4 9h0m-2 -2h0m-4 -9h0m1 8h0m-1 1h0m-13 -6h0m18 9h0m-5 -1h0m-6 -8h0m10 -8h0m-11 9h0m2 7h0m-4 3h0m-5 -6h0m22 -4h0m-5 -9h0m-16 18h0m8 -13h0m9 -6h0m-14 18h0m19 -6h0m-7 -7h0m1 15h0m-2 0h0m3 0h0m-2 -2h0m-1 -16h0m-14 11h0m12 5h0m8 2h0m-1 -11h0m-13 5h0m15 1h0m-5 -2h0m-4 3h0m8 5h0m-3 -3h0m-5 1h0m-3 -3h0m6 -4h0m-2 2h0m-9 4h0m6 -7h0m3 -4h0m5 13h0m-7 1h0m-2 -6h0m11 -4h0m-3 2h0m-15 2h0m14 -15h0m5 19h0m-5 -13h0m3 5h0m-20 6h0m14 1h0m4 -1h0m6 -10h0m-13 5h0m5 2h0m1 4h0m2 -17h0m-7 15h0m9 -4h0m4 -12h0m0 16h0m-22 -7h0m12 8h0m2 -15h0m-5 17h0m13 -5h0m-3 -3h0m-8 -3h0m8 5h0m-4 6h0m-10 -11h0m7 8h0m9 1h0m-3 -2h0m-12 5h0m0 -8h0m13 -9h0m0 15h0m-2 -44h0m-1 2h0m3 4h0m-3 5h0m3 4h0m2 5h0m-4 4h0m-43 -9h0m-2 14h0m13 -9h0m3 2h0m5 16h0m-1 2h0" stroke="#3653a8" stroke-width="3.3" stroke-linecap="round" fill="none"/>
<path d="M674 1320h0m19 -4h0m-28 -8h0m-6 13h0m45 1h0m-43 0h0m0 -2h0m-18 2h0m26 -13h0m-17 -7h0m32 15h0m-7 -10h0m-15 15h0m-2 -17h0m3 3h0m-20 1h0m-2 11h0m24 -8h0m-23 -3h0m56 13h0m-24 -8h0m18 8h0m23 0h0m6 -1h0m-75 -9h0m32 8h0m16 -4h0m-39 6h0m19 -6h0m20 2h0m-1 0h0m-5 1h0m35 1h0m-56 -2h0m11 -2h0m-12 -3h0m7 6h0m-9 1h0m4 -6h0m26 7h0m-30 1h0m20 -4h0m-26 4h0m11 -14h0m9 13h0m0 1h0m44 0h0m-46 0h0m-25 -10h0m93 10h0m-85 -2h0m-15 -2h0m17 -3h0m-8 -6h0m14 4h0m-3 -3h0m-11 8h0m18 -8h0m18 11h0m-21 1h0m3 0h0m-25 -3h0m31 -5h0m-7 7h0m-26 -1h0m29 -6h0m-7 7h0m55 -2h0m-72 1h0m22 -4h0m30 5h0m12 0h0m16 1h0m-80 -3h0m23 -4h0m-10 3h0m13 1h0m-22 -18h0m-11 18h0m30 -1h0m-26 -1h0m15 -1h0m74 5h0m-70 -3h0m42 4h0m-47 -1h0m31 -3h0m-21 -11h0m40 15h0m-27 -4h0m-33 4h0m79 1h0m-87 -17h0m3 5h0m27 8h0m-18 -5h0m22 -2h0m-20 6h0m10 -4h0m15 3h0m-39 -5h0m82 10h0m-45 -8h0m-11 4h0m21 -5h0m-20 6h0m1 3h0m8 -9h0m-21 -8h0m1 13h0m27 3h0m-21 -14h0m-8 5h0m3 4h0m54 6h0m-45 -14h0m66 13h0m-41 -7h0m7 6h0m-35 0h0m0 -1h0m0 -4h0m9 4h0m0 3h0m1 -15h0m13 14h0m-26 -5h0m50 2h0m-19 1h0m15 2h0m-60 -3h0m27 3h0m20 -1h0m31 2h0m-70 -11h0m74 11h0m-75 -2h0m-10 -4h0m78 6h0m-48 -2h0m-2 -9h0m-11 6h0m-13 -1h0m18 0h0m0 -10h0m14 4h0m7 1h0m-26 8h0m17 0h0m-24 -4h0m20 1h0m6 2h0m-10 -6h0m17 8h0m17 0h0m-24 -1h0m-39 -1h0m10 -15h0m7 15h0m32 -3h0m-33 6h0m1 -2h0m-11 -12h0m13 -4h0m0 11h0m9 0h0m2 8h0m-15 -4h0m73 2h0m-52 -9h0m13 5h0m-19 4h0m-20 -8h0m56 10h0m-55 -7h0m-3 -6h0m1 -8h0m29 11h0m11 11h0m-22 -5h0m78 1h0m-99 -3h0m7 1h0m31 2h0m-33 3h0m-11 -1h0m27 -6h0m70 7h0m-79 -5h0m33 6h0m-8 -1h0m-21 -3h0m10 -1h0m-14 -10h0m70 10h0m-82 -13h0m16 1h0m-22 8h0m12 6h0m29 2h0m31 -2h0m-15 1h0m-28 -1h0m-8 -7h0m47 8h0m-27 -2h0m-25 -5h0m-12 8h0m23 -1h0m-8 0h0m7 -5h0m-6 -12h0m-10 12h0m11 3h0m5 -7h0m-20 3h0m32 4h0m-22 -7h0m12 5h0m13 4h0m-10 -3h0m42 3h0m2 0h0m-63 -4h0m-10 -6h0m16 9h0m39 -3h0m-21 0h0m48 3h0m-75 -5h0m5 2h0m10 -9h0m-3 6h0m-11 4h0m34 2h0m26 2h0m-58 -1h0m-13 -15h0m1 14h0m68 3h0m-22 -1h0m44 -1h0m-85 -6h0m10 0h0m13 3h0m-7 2h0m40 -3h0m-57 4h0m-3 -6h0m36 0h0m-20 7h0m14 -1h0m14 -2h0m41 -2h0m-69 -7h0m3 4h0m-9 6h0m18 -9h0m-8 5h0m-14 6h0m26 -13h0m-6 4h0m8 8h0m-3 -9h0m-10 3h0m35 5h0m-7 3h0m-24 -3h0m21 -1h0m-23 -3h0m9 6h0m-18 -13h0m-8 -2h0m43 9h0m-35 5h0m16 -1h0m6 -2h0m34 2h0m-30 -3h0m-37 -3h0m21 -7h0m-2 7h0m-18 8h0m30 -10h0m56 10h0m-67 -5h0m14 4h0m-37 -15h0m13 3h0m6 3h0m20 10h0m-4 -4h0m49 2h0m-47 -9h0m-21 3h0m16 9h0m7 -8h0m16 -1h0m16 5h0m-40 2h0m-3 -7h0m8 -7h0m-34 13h0m16 -2h0m21 -2h0m21 2h0m-54 -18h0m-1 20h0m8 -18h0m-2 17h0m-4 -4h0m64 2h0m-29 -1h0m-25 6h0m-9 -5h0m5 5h0m30 -1h0m-33 0h0m11 -18h0m57 19h0m-36 -9h0m30 7h0m-57 -10h0m-1 2h0m17 3h0m-18 6h0m16 -8h0m-17 -12h0m68 20h0m-74 -10h0m6 -1h0m11 -4h0m11 7h0m-3 -3h0m13 12h0m3 -9h0m-42 4h0m17 0h0m70 6h0m-7 -2h0m-38 0h0m-13 -2h0m-15 2h0m9 -3h0m64 4h0m-75 -4h0m-4 1h0m-15 0h0m2 -5h0m10 5h0m24 3h0m-25 -13h0m53 13h0m-51 -4h0m9 4h0m-13 -3h0m-3 0h0m28 -5h0m73 7h0m-97 -1h0m5 -10h0m39 11h0m-43 -7h0m68 7h0m-63 -5h0m39 5h0m35 -1h0m-53 -10h0m52 7h0m-77 -5h0m68 6h0m-79 -16h0m0 9h0m16 5h0m62 2h0m-59 -12h0m55 17h0m-47 -11h0m4 -5h0m-20 4h0m15 8h0m-26 -9h0m47 12h0m-15 -15h0m-26 2h0m18 9h0m-14 3h0m32 0h0m-14 -6h0m11 -3h0m-18 6h0m5 3h0m-4 -4h0m21 6h0m-1 -10h0m-38 -3h0m8 12h0m33 -9h0m-28 -4h0m57 12h0m-22 1h0m3 -3h0m-22 -2h0m-7 -4h0m-2 -2h0m-11 1h0m-6 -3h0m17 11h0m7 -10h0m-1 6h0m-3 -10h0m13 12h0m-6 2h0m6 0h0m-1 1h0m-13 -14h0m22 7h0m-11 6h0m-24 -4h0m2 -2h0m7 0h0m47 9h0m-45 -4h0m42 0h0m-61 -1h0m5 -10h0m8 7h0m4 6h0m-8 -15h0m33 10h0m-28 -7h0m-1 3h0m24 8h0m56 3h0m-36 0h0m35 -4h0m-94 -6h0m99 6h0m-101 2h0m54 -3h0m3 5h0m-54 -14h0m92 13h0m-78 -8h0m12 -7h0m5 1h0m-24 -1h0m65 16h0m-43 -10h0m7 -4h0m-34 4h0m14 -5h0m-3 9h0m0 -4h0m66 9h0m-25 -3h0m-57 -11h0m-1 -3h0m29 14h0m-26 -2h0m17 -10h0m18 11h0m5 -1h0m-33 2h0m-8 -12h0m20 9h0m33 7h0m-39 -4h0m-4 -8h0m18 3h0m8 6h0m-10 0h0m4 -9h0m-24 -7h0m19 10h0m-4 8h0m-3 -20h0m34 16h0m26 -1h0m-77 1h0m29 -9h0m15 8h0m14 2h0m16 -2h0m-52 4h0m11 -7h0m25 7h0m-11 -2h0m-2 0h0m-34 -16h0m2 1h0m25 5h0m-40 2h0m8 8h0m15 -12h0m7 16h0m-4 -7h0m40 5h0m-50 -16h0m11 14h0m14 -3h0m-43 1h0m41 4h0m-35 -5h0m30 7h0m4 -14h0m-28 7h0m6 -1h0m-1 -2h0m67 10h0m-64 -12h0m8 11h0m-28 -1h0m35 -13h0m56 14h0m-44 -7h0m-44 2h0m43 3h0m-39 -1h0m4 -18h0m27 21h0m0 -1h0m-18 -4h0m16 -7h0m-3 7h0m27 0h0m16 1h0m-46 3h0m-6 -14h0m59 13h0m-45 -7h0m1 3h0m-17 5h0m39 2h0m-26 -4h0m40 -1h0m-45 -5h0m35 3h0m-26 1h0m-9 -2h0m10 0h0m-18 -5h0m23 13h0m0 -8h0m-32 0h0m35 3h0m20 0h0m-64 3h0m32 -5h0m-22 -5h0m-3 9h0m15 -3h0m-22 -15h0m36 18h0m-12 -10h0m-8 0h0m58 9h0m-48 -14h0m38 18h0m-43 -13h0m48 8h0m-23 1h0m-47 -3h0m3 4h0m30 0h0m-17 -4h0m-8 -5h0m54 11h0m-34 -1h0m-5 -17h0m-17 -244h0m-5 -12h0m8 0h0m-4 202h0m8 26h0m2 1h0m-15 12h0m45 -4h0m14 4h0m46 -2h0m-21 11h0m-21 5h0m-14 2h0m-2 4h0m28 -7h0m7 9h0m-3 3h0m-62 -19h0m3 3h0" stroke="#e32226" stroke-width="3.3" stroke-linecap="round" fill="none"/>
<path d="M473.6 1339.6V1047.3H761.5V1339.6" fill="none" stroke="#9a9a9a" stroke-width="1.1"/>
<line x1="473.6" y1="1046.8" x2="473.6" y2="1341" stroke="#000" stroke-width="2.8"/>
<line x1="472.2" y1="1339.6" x2="762.5" y2="1339.6" stroke="#000" stroke-width="2.8"/>
<line x1="470.1" y1="1324.8" x2="473.6" y2="1324.8" stroke="#333" stroke-width="1"/>
<text x="461.6" y="1333.6" font-size="25.5" text-anchor="end">0</text>
<line x1="470.1" y1="1235.9" x2="473.6" y2="1235.9" stroke="#333" stroke-width="1"/>
<text x="461.6" y="1244.7" font-size="25.5" text-anchor="end">100</text>
<line x1="470.1" y1="1147.1" x2="473.6" y2="1147.1" stroke="#333" stroke-width="1"/>
<text x="461.6" y="1155.9" font-size="25.5" text-anchor="end">200</text>
<line x1="470.1" y1="1058.2" x2="473.6" y2="1058.2" stroke="#333" stroke-width="1"/>
<text x="461.6" y="1067" font-size="25.5" text-anchor="end">300</text>
<text x="489.4" y="1365.3" font-size="25.5" text-anchor="middle">-6</text>
<text x="558.2" y="1365.3" font-size="25.5" text-anchor="middle">-3</text>
<text x="627" y="1365.3" font-size="25.5" text-anchor="middle">0</text>
<text x="695.8" y="1365.3" font-size="25.5" text-anchor="middle">3</text>
<text x="611" y="1031.9" font-size="27" text-anchor="middle">V.Endo2</text>
<text x="624.5" y="1405.2" font-size="28.3" text-anchor="middle">log<tspan font-size="17.5" dy="10.2">2</tspan><tspan dy="-10.2">(Fold Change)</tspan></text>
<rect x="837.7" y="1048.8" width="287.9" height="291.9" fill="#fff"/>
<line x1="839.7" y1="1048.8" x2="839.7" y2="1340.7" stroke="#f4f4f4" stroke-width="1"/>
<line x1="874.7" y1="1048.8" x2="874.7" y2="1340.7" stroke="#f4f4f4" stroke-width="1"/>
<line x1="909.6" y1="1048.8" x2="909.6" y2="1340.7" stroke="#f4f4f4" stroke-width="1"/>
<line x1="944.6" y1="1048.8" x2="944.6" y2="1340.7" stroke="#f4f4f4" stroke-width="1"/>
<line x1="979.6" y1="1048.8" x2="979.6" y2="1340.7" stroke="#f4f4f4" stroke-width="1"/>
<line x1="1014.6" y1="1048.8" x2="1014.6" y2="1340.7" stroke="#f4f4f4" stroke-width="1"/>
<line x1="1049.6" y1="1048.8" x2="1049.6" y2="1340.7" stroke="#f4f4f4" stroke-width="1"/>
<line x1="1084.5" y1="1048.8" x2="1084.5" y2="1340.7" stroke="#f4f4f4" stroke-width="1"/>
<line x1="1119.5" y1="1048.8" x2="1119.5" y2="1340.7" stroke="#f4f4f4" stroke-width="1"/>
<line x1="837.7" y1="1326.4" x2="1125.6" y2="1326.4" stroke="#f4f4f4" stroke-width="1"/>
<line x1="837.7" y1="1266.4" x2="1125.6" y2="1266.4" stroke="#f4f4f4" stroke-width="1"/>
<line x1="837.7" y1="1206.4" x2="1125.6" y2="1206.4" stroke="#f4f4f4" stroke-width="1"/>
<line x1="837.7" y1="1146.4" x2="1125.6" y2="1146.4" stroke="#f4f4f4" stroke-width="1"/>
<line x1="837.7" y1="1086.4" x2="1125.6" y2="1086.4" stroke="#f4f4f4" stroke-width="1"/>
<path d="M881 1319h0m109 6h0m-67 -6h0m62 -1h0m16 5h0m-73 -4h0m41 0h0m4 4h0m-48 -4h0m158 2h0m-63 1h0m-142 -4h0m141 -1h0m-91 5h0m-11 0h0m140 0h0m-133 2h0m49 -3h0m-42 0h0m1 -1h0m71 -12h0m8 16h0m-82 -2h0m43 3h0m-15 0h0m-24 -3h0m135 2h0m-132 -4h0m138 4h0m-132 -6h0m26 7h0m93 -7h0m15 5h0m-48 -1h0m-60 2h0m75 -6h0m-32 7h0m-61 -6h0m-68 2h0m28 3h0m132 -8h0m2 4h0m-50 4h0m-40 -11h0m34 1h0m-2 2h0m-45 9h0m39 -1h0m-3 -1h0m-71 -2h0m139 3h0m-143 -7h0m93 8h0m-28 -15h0m50 4h0m-49 -3h0m-60 9h0m-45 1h0m60 -1h0m74 -1h0m-115 0h0m98 7h0m10 -15h0m-55 10h0m107 -4h0m-97 6h0m-12 -3h0m75 6h0m9 -2h0m-109 -6h0m18 6h0m62 -12h0m-47 11h0m-18 -7h0m62 4h0m-39 -2h0m16 8h0m80 -1h0m-108 0h0m-31 -5h0m0 4h0m111 -11h0m58 10h0m-29 -1h0m-146 0h0m82 2h0m-115 -2h0m98 -17h0m-95 17h0m1 0h0m29 2h0m67 -6h0m25 -2h0m6 7h0m-16 -1h0m87 1h0m-166 -6h0m21 5h0m91 -1h0m40 -2h0m-90 -4h0m89 8h0m-46 -9h0m-58 7h0m4 -2h0m3 -4h0m52 -4h0m3 7h0m-85 -3h0m48 3h0m39 1h0m-58 -5h0m61 9h0m-37 1h0m45 -12h0m-14 13h0m-46 -5h0m-70 -2h0m61 3h0m-111 -4h0m205 8h0m-54 -4h0m-54 -3h0m0 7h0m29 -8h0m-92 5h0m38 3h0m-62 -6h0m122 -1h0m-32 3h0m68 -2h0m-42 4h0m-29 -3h0m26 -9h0m6 4h0m16 -3h0m6 -4h0m44 9h0m-60 3h0m-69 5h0m33 -3h0m-16 -7h0m-33 9h0m11 -1h0m46 -12h0m9 5h0m0 1h0m11 3h0m71 5h0m-13 -5h0m-134 3h0m155 -2h0m-120 3h0m54 2h0m-33 -7h0m-47 1h0m77 3h0m-128 -6h0m123 9h0m18 -4h0m57 -7h0m-88 -3h0m-13 10h0m-26 -6h0m98 4h0m-73 -2h0m-55 4h0m98 2h0m-97 -2h0m-9 -1h0m154 1h0m-86 -12h0m81 8h0m-91 6h0m-6 -5h0m-69 2h0m138 4h0m-5 -6h0m-149 0h0m76 -3h0m80 5h0m37 -5h0m-104 9h0m34 -3h0m-46 -5h0m158 6h0m8 -5h0m-171 5h0m79 -4h0m-120 -2h0m53 3h0m-34 -1h0m-6 2h0m67 -14h0m-80 15h0m27 0h0m42 1h0m103 -4h0m-118 -3h0m-23 9h0m42 1h0m-61 -8h0m121 2h0m-78 0h0m101 5h0m-83 0h0m-43 -4h0m75 -1h0m21 3h0m-58 -7h0m50 7h0m-57 -5h0m-31 -1h0m120 8h0m-171 -5h0m75 4h0m3 -11h0m122 9h0m29 0h0m-112 -1h0m-100 2h0m121 -5h0m-74 7h0m78 -4h0m-42 -4h0m57 5h0m-90 3h0m61 -2h0m-6 1h0m15 0h0m-17 0h0m-22 -14h0m4 10h0m67 -3h0m1 1h0m-77 4h0m-112 -1h0m83 -4h0m77 6h0m-131 -4h0m37 -2h0m89 -9h0m-74 17h0m110 0h0m-127 -6h0m106 -1h0m-117 4h0m58 -3h0m65 -6h0m-101 7h0m81 6h0m-88 -7h0m5 3h0m53 -6h0m-56 6h0m139 -5h0m-96 -3h0m-38 11h0m-17 -3h0m6 0h0m16 -2h0m-15 3h0m93 -15h0m-4 10h0m-52 1h0m10 5h0m1 -5h0m-1 -5h0m20 9h0m26 3h0m-56 -4h0m-38 -6h0m173 4h0m-103 0h0m-19 2h0m18 -1h0m59 0h0m-1 -4h0m8 8h0m-146 -7h0m-4 0h0m110 7h0m-28 -5h0m-86 4h0m105 -5h0m-65 3h0m81 -11h0m17 8h0m-96 -1h0m-48 0h0m111 5h0m2 -2h0m1 -5h0m-149 5h0m151 4h0m64 -2h0m-117 -2h0m15 2h0m-7 -3h0m125 2h0m-176 -4h0m44 0h0m51 -4h0m-33 11h0m-2 -10h0m24 9h0m56 -4h0m-184 -2h0m107 -9h0m-43 12h0m-55 2h0m14 -1h0m129 -8h0m-118 10h0m168 -5h0m-106 4h0m-71 0h0m128 -14h0m-137 11h0m46 -1h0m63 0h0m0 6h0m-86 -7h0m92 7h0m-13 -1h0m-15 -18h0m-75 17h0m21 -3h0m101 -8h0m-59 11h0m80 -4h0m-35 0h0m-76 5h0m163 -2h0m-86 3h0m-52 -12h0m-26 11h0m-30 -5h0m64 -8h0m-20 11h0m-15 -3h0m20 6h0m2 -3h0m6 2h0m-22 0h0m-8 0h0m60 -9h0m-88 7h0m79 -18h0m27 17h0m31 0h0m14 3h0m-42 -11h0m-31 -5h0m-34 8h0m-31 6h0m128 3h0m-25 -4h0m-101 2h0m48 -13h0m-33 14h0m126 -7h0m-86 7h0m-28 -5h0m-8 3h0m68 -1h0m-137 -4h0m147 -15h0m-94 20h0m-14 -1h0m183 -1h0m-219 1h0m117 -4h0m40 -3h0m-99 4h0m13 1h0m116 4h0m-30 1h0m-44 -18h0m6 11h0m7 8h0m-60 -1h0m25 -9h0m-39 4h0m56 -10h0m-3 15h0m-27 -9h0m-54 8h0m37 1h0m57 1h0m-103 -2h0m33 -6h0m144 6h0m-50 3h0m86 -3h0m-173 -4h0m105 -5h0m-30 12h0m-98 -9h0m105 0h0m7 5h0m-11 -1h0m-54 3h0m67 -14h0m-37 12h0m-20 3h0m44 0h0m-76 -3h0m78 -9h0m-36 5h0m-15 -1h0m-46 0h0m64 -1h0m-30 5h0m-30 -1h0m97 -15h0m20 20h0m14 -6h0m-126 1h0m-31 1h0m42 2h0m75 -9h0m41 0h0m-20 1h0m-56 2h0m-77 1h0m208 2h0m-171 4h0m-26 -4h0m65 4h0m-69 -1h0m35 0h0m48 -8h0m92 9h0m-197 -7h0m157 5h0m-22 -5h0m20 3h0m-60 0h0m-87 0h0m45 -2h0m97 -3h0m-72 8h0m29 -18h0m30 15h0m13 1h0m-19 -3h0m-66 7h0m35 -13h0m-11 2h0m103 2h0m-85 -6h0m-49 8h0m88 1h0m-52 -2h0m-23 0h0m70 -2h0m34 8h0m-118 2h0m85 -5h0m-130 0h0m169 -3h0m-151 3h0m99 -1h0m-5 3h0m33 -5h0m52 6h0m-74 -5h0m-39 -3h0m-77 4h0m74 -11h0m31 15h0m-6 -1h0m31 -13h0m-80 14h0m-32 -2h0m127 -9h0m-82 12h0m26 -16h0m-5 10h0m19 3h0m-58 -4h0m-59 -1h0m129 -10h0m-18 20h0m-73 -3h0m44 -10h0m54 5h0m-16 1h0m23 1h0m14 1h0m-37 0h0m-35 -8h0m-16 2h0m140 3h0m-136 8h0m35 -14h0m11 9h0m4 -6h0m-23 -3h0m42 10h0m-39 -2h0m-35 3h0m19 1h0m19 -3h0m36 -8h0m51 11h0m-144 -3h0m145 2h0m-164 1h0m104 -6h0m-107 4h0m101 -5h0m-39 3h0m78 0h0m-93 1h0m98 0h0m-80 -9h0m39 5h0m-50 -6h0m-11 6h0m100 3h0m-40 -4h0m-1 4h0m-26 4h0m-79 -1h0m61 -3h0m39 -2h0m-98 5h0m79 -11h0m-113 5h0m195 4h0m57 -1h0m-98 -2h0m-71 6h0m99 -1h0m-98 0h0m89 1h0m-45 -4h0m33 -2h0m-111 6h0m95 -9h0m-34 -9h0m-91 13h0m26 3h0m66 -15h0m58 10h0m-55 1h0m64 7h0m-70 -10h0m-15 6h0m75 -6h0m-7 -4h0m-46 11h0m27 -1h0m-43 -8h0m5 13h0m-30 -4h0m-53 0h0m89 -15h0m88 13h0m-61 -11h0m-18 12h0m-97 -4h0m47 8h0m-44 -7h0m95 8h0m-5 -5h0m70 -2h0m-64 4h0m-10 -17h0m-57 13h0m-23 2h0m44 -4h0m-13 1h0m-26 2h0m155 5h0m-138 -4h0m77 -3h0m-138 3h0m72 -3h0m25 2h0m68 -3h0m-76 3h0m29 1h0m21 -1h0m80 -2h0m-156 6h0m72 -6h0m19 -4h0m3 5h0m26 -5h0m-99 4h0m24 -8h0m-9 15h0m89 -9h0m-13 4h0m-4 -3h0m-31 -8h0m-135 12h0m169 -4h0m-116 4h0m126 2h0m-26 -1h0m-3 -3h0m-52 7h0m46 -7h0m-60 -4h0m169 7h0m-85 1h0m17 -5h0m-40 -7h0m-68 7h0m37 1h0m86 3h0m-181 -4h0m141 -7h0m-73 15h0m97 -2h0m-73 -14h0m41 14h0m-42 -4h0m-67 -1h0m58 -1h0m-65 3h0m44 1h0m71 -7h0m-37 -3h0m-94 10h0m99 3h0m-90 -2h0m99 1h0m-47 -7h0m42 4h0m-96 0h0m89 -1h0m109 3h0m-104 -6h0m-38 -2h0m62 -3h0m10 10h0m-1 -15h0m-7 9h0m-8 -3h0m14 12h0m24 0h0m-65 -9h0m2 6h0m45 -14h0m-1 15h0m3 -14h0m-102 14h0m75 3h0m57 -1h0m5 0h0m-22 -1h0m-148 -3h0m68 -8h0m-12 9h0m18 -14h0m-88 13h0m34 -5h0m46 -5h0m-41 13h0m53 -10h0m89 2h0m-167 7h0m56 -2h0m161 1h0m-117 3h0m-83 -2h0m-1 -4h0m75 -8h0m-87 12h0m119 -1h0m-14 -1h0m-121 0h0m64 4h0m88 -9h0m-81 -2h0m-21 10h0m47 2h0m54 -7h0m-23 -15h0m-39 19h0m70 1h0m-60 1h0m-12 -15h0m-79 10h0m138 -4h0m-139 7h0m121 -6h0m-107 2h0m102 1h0m14 4h0m-54 -8h0m28 10h0m-5 -6h0m-44 1h0m60 2h0m-145 -3h0m86 -3h0m5 1h0m-11 2h0m20 5h0m5 0h0m42 -17h0m30 6h0m1 -1h0m-55 0h0m-14 4h0m24 9h0m35 -14h0m-126 9h0m134 -10h0m-63 1h0m5 -8h0m80 19h0m-92 3h0m66 -11h0m-73 9h0m153 -1h0m-119 2h0m-14 -19h0m5 16h0m0 -6h0m-5 1h0m25 7h0m-24 -1h0m117 -2h0m-52 2h0m-67 3h0m-18 -10h0m46 6h0m59 1h0m-27 0h0m-105 -1h0m95 -4h0m78 4h0m-118 0h0m18 -10h0m-73 7h0m31 4h0m52 -4h0m-115 4h0m63 -1h0m11 -13h0m-66 12h0m118 3h0m-6 -19h0m-38 13h0m48 -2h0m-6 6h0m4 -3h0m-16 4h0m29 -1h0m-113 -1h0m-27 -1h0m135 0h0m25 2h0m-164 -2h0m77 -6h0m9 10h0m55 -9h0m-173 3h0m65 -2h0m45 -3h0m-31 6h0m88 1h0m-20 0h0m6 -2h0m-103 2h0m-51 -1h0m172 3h0m-51 1h0m42 -3h0m3 -10h0m-127 12h0m81 -10h0m-97 9h0m25 -1h0m33 3h0m33 -4h0m41 -13h0m-29 13h0m-23 5h0m105 1h0m-101 -8h0m-18 -2h0m63 -6h0m-97 13h0m5 -4h0m42 3h0m47 -14h0m-62 11h0m158 5h0m-124 -6h0m-102 5h0m36 3h0m90 -4h0m-128 -4h0m-5 1h0m127 -6h0m-31 10h0m15 2h0m-65 -1h0m48 -2h0m-106 1h0m136 1h0m-87 1h0m66 -18h0m37 15h0m-40 -12h0m65 4h0m-69 10h0m-32 -2h0m85 5h0m24 -7h0m-172 0h0m113 6h0m-76 -6h0m-23 0h0m155 5h0m-135 -3h0m128 -5h0m-28 -4h0m-65 6h0m50 5h0m110 -1h0m-163 3h0m124 -1h0m-119 -4h0m102 3h0m-74 -10h0m-99 9h0m53 -1h0m28 -8h0m-24 4h0m76 -16h0m-81 16h0m48 2h0m-22 1h0m97 1h0m-181 0h0m101 -1h0m-86 2h0m97 -1h0m-3 -3h0m126 5h0m-234 -6h0m186 5h0m-160 -3h0m64 5h0m23 -3h0m-110 1h0m57 -5h0m98 -4h0m-73 6h0m76 2h0m-81 -4h0m-45 2h0m87 4h0m3 2h0m-26 -18h0m-29 8h0m61 -8h0m13 5h0m57 12h0m-129 0h0m2 -5h0m-2 -1h0m41 -4h0m-9 9h0m-41 -3h0m160 2h0m-104 3h0m-60 -8h0m-1 5h0m31 3h0m-48 -4h0m-8 2h0m96 1h0m-127 -5h0m157 6h0m-86 -5h0m-30 4h0m-36 -7h0m109 7h0m46 -9h0m8 3h0m-122 5h0m64 -9h0m-13 -2h0m-41 8h0m6 4h0m44 -10h0m-7 7h0m-104 0h0m144 3h0m-44 -1h0m-29 -1h0m11 2h0m23 -6h0m45 3h0m43 1h0m-23 -1h0m-41 4h0m34 -9h0m61 5h0m-220 -2h0m97 -2h0m115 6h0m-129 -11h0m48 1h0m-5 3h0m-28 -2h0m8 -10h0m-77 15h0m19 3h0m8 -6h0m-35 1h0m24 7h0m182 -2h0m-226 -1h0m153 2h0m54 -3h0m-71 -8h0m-62 7h0m61 3h0m1 2h0m-13 -4h0m-29 -4h0m92 -1h0m-27 3h0m2 7h0m14 -2h0m-51 -1h0m64 -4h0m11 5h0m-114 -11h0m98 7h0m-97 4h0m38 0h0m22 -6h0m-23 2h0m-20 2h0m-115 -5h0m112 8h0m-74 -4h0m10 3h0m-29 -5h0m22 -1h0m134 5h0m-65 4h0m-25 -7h0m45 3h0m64 1h0m28 -1h0m-126 -4h0m61 -2h0m71 5h0m-138 5h0m-7 -7h0m85 -5h0m-25 -5h0m-119 12h0m134 -5h0m1 -2h0m-82 4h0m12 1h0m87 2h0m-107 -5h0m-39 5h0m70 -4h0m80 -4h0m17 5h0m-96 6h0m79 -4h0m-88 2h0m58 3h0m-37 -4h0m-99 -2h0m104 1h0m5 2h0m-32 -3h0m57 3h0m-25 2h0m-72 -4h0m111 1h0m-90 3h0m78 -2h0m-68 3h0m57 -11h0m-101 10h0m77 -6h0m-124 -1h0m213 3h0m-87 -6h0m-24 3h0m165 6h0m-178 -7h0m150 3h0m-93 7h0m-90 -3h0m27 -5h0m-33 0h0m-14 0h0m56 7h0m148 -3h0m-131 -7h0m75 10h0m-144 -4h0m79 4h0m113 -1h0m-168 -6h0m92 -13h0m-101 15h0m-14 0h0m41 -1h0m92 6h0m-106 -1h0m122 -9h0m-53 9h0m-40 -10h0m-24 6h0m152 4h0m-104 -1h0m-40 -4h0m-67 1h0m51 -4h0m42 -2h0m155 8h0m-97 1h0m-42 2h0m77 -4h0m-43 2h0m-2 -9h0m-121 3h0m26 1h0m67 1h0m40 4h0m-130 0h0m76 -6h0m-31 0h0m119 5h0m53 0h0m-151 -5h0m-31 8h0m9 -2h0m32 -1h0m9 -14h0m47 16h0m-40 2h0m98 -6h0m-50 -8h0m-79 13h0m13 -3h0m138 1h0m-132 -4h0m41 -5h0m-71 4h0m86 1h0m-22 -4h0m45 6h0m-135 0h0m-28 -1h0m125 1h0m102 1h0m-248 -2h0m194 1h0m-155 -3h0m99 -4h0m-90 9h0m41 -9h0m58 -11h0m-48 7h0m-96 10h0m165 6h0m3 -9h0m-76 -5h0m62 10h0m-122 -4h0m138 -6h0m-21 6h0m3 7h0m-112 -6h0m209 1h0m-141 4h0m-2 -19h0m12 19h0m-12 -5h0m35 -18h0m61 17h0m-157 4h0m48 2h0m27 -5h0m112 0h0m-138 -8h0m-50 13h0m71 1h0m-86 -3h0m64 -9h0m69 10h0m-56 -7h0m54 -1h0m49 2h0m-96 -8h0m20 13h0m-42 -7h0m-52 6h0m97 1h0m4 -12h0m-145 -248h0m58 236h0m-9 14h0m-19 -2h0" stroke="#bcbcbc" stroke-width="3.3" stroke-linecap="round" fill="none"/>
<path d="M930 1304h0m-7 18h0m16 -6h0m10 -4h0m-8 3h0m0 -11h0m-16 15h0m12 -6h0m16 -8h0m4 11h0m-12 6h0m15 -11h0m-26 0h0m7 -3h0m7 -7h0m-8 9h0m-1 5h0m20 4h0m-18 1h0m17 -11h0m-4 13h0m3 -17h0m-6 7h0m-31 9h0m21 -4h0m16 6h0m6 -12h0m-15 6h0m-3 -3h0m-9 -4h0m-3 6h0m14 6h0m-3 -16h0m-12 12h0m19 3h0m5 -2h0m1 0h0m-22 2h0m21 -20h0m-11 15h0m-4 3h0m5 -1h0m12 -2h0m-24 -7h0m14 7h0m-9 -7h0m15 10h0m-12 -4h0m18 -10h0m-28 14h0m11 2h0m13 2h0m-29 -10h0m27 5h0m8 -2h0m-4 -13h0m-7 -1h0m4 12h0m-10 -7h0m-18 13h0m11 -9h0m-6 1h0m26 6h0m-12 2h0m1 0h0m9 -14h0m-13 -1h0m5 9h0m0 9h0m-10 -8h0m3 -9h0m22 -1h0m-4 17h0m-20 -2h0m16 -19h0m-16 9h0m3 3h0m-2 6h0m-5 -4h0m3 2h0m-18 5h0m24 -12h0m9 -3h0m4 13h0m7 1h0m-15 -3h0m1 0h0m3 -10h0m-1 4h0m-10 -2h0m19 11h0m-10 -4h0m4 -7h0m-17 -2h0m21 7h0m-24 4h0m-4 -1h0m23 -2h0m-6 -8h0m2 11h0m-11 -5h0m14 6h0m-3 -4h0m8 -6h0m-18 -4h0m16 2h0m5 4h0m-23 -7h0m7 5h0m-3 4h0m6 -5h0m-8 13h0m8 -4h0m-9 -5h0m7 -3h0m1 7h0m0 -13h0m8 9h0m6 2h0m-14 -1h0m11 7h0m-19 1h0m20 -18h0m-15 13h0m-1 -3h0m-13 8h0m9 -4h0m10 -8h0m-5 -1h0m11 12h0m-12 -11h0m5 -10h0m-23 8h0m9 14h0m10 -15h0m6 10h0m-10 -13h0m24 16h0m-32 -16h0m26 18h0m0 -7h0m-16 1h0m12 -11h0m7 8h0m-24 -7h0m6 9h0m13 5h0m-6 0h0m-12 -18h0m17 14h0m-7 3h0m-15 -7h0m13 -6h0m-8 14h0m23 -1h0m-17 -8h0m-1 -8h0m16 4h0m-14 -2h0m15 14h0m-9 -14h0m-25 18h0m24 -8h0m-1 -9h0m0 14h0m3 -10h0m2 11h0m-1 -12h0m-17 5h0m18 -4h0m-22 6h0m12 -8h0m12 1h0m-13 -2h0m2 -6h0m-2 5h0m3 17h0m14 -1h0m-5 -5h0m-15 0h0m17 -10h0m-23 14h0m22 -18h0m8 4h0m-21 6h0m0 -12h0m16 8h0m-3 4h0m-9 0h0m4 -3h0m-7 -5h0m-1 17h0m-18 0h0m29 -9h0m-1 -12h0m-12 21h0m11 -2h0m-13 1h0m0 -9h0m9 -7h0m9 7h0m-10 -2h0m0 -1h0m2 0h0m3 -2h0m9 10h0m-22 0h0m-9 -11h0m16 15h0m0 -7h0m-8 -2h0m-3 10h0m11 -3h0m18 -1h0m-2 1h0m-6 -3h0m-30 2h0m33 -1h0m0 -9h0m-22 13h0m27 -7h0m-12 4h0m-19 -13h0m18 15h0m-2 -20h0m-11 16h0m10 6h0m-3 -3h0m8 2h0m1 -20h0m-4 10h0m-4 5h0m6 1h0m7 3h0m-30 -5h0m15 4h0m-15 2h0m32 -16h0m-21 9h0m8 -10h0m10 15h0m-9 -8h0m11 10h0m-3 -19h0m-2 13h0m6 -12h0m-21 9h0m18 -7h0m1 13h0m-12 -7h0m-19 8h0m10 -15h0m19 2h0m-31 15h0m28 -12h0m-8 -6h0m-7 5h0m6 -6h0m-2 14h0m-12 6h0m20 -11h0m-16 9h0m16 -7h0m13 6h0m-3 -1h0m-12 3h0m-12 -11h0m25 -1h0m-14 3h0m-4 10h0m6 -20h0m-11 21h0m12 -1h0m-13 -13h0m25 9h0m-28 -115h0m17 55h0m1 2h0m-11 22h0m17 5h0m-12 3h0m-21 6h0m30 -3h0m-2 1h0m-33 8h0m-2 5h0" stroke="#3653a8" stroke-width="3.3" stroke-linecap="round" fill="none"/>
<path d="M1051 1320h0m-40 1h0m22 -16h0m-5 12h0m-3 -6h0m-25 7h0m7 4h0m16 -14h0m-21 9h0m16 -19h0m25 25h0m-26 -9h0m7 9h0m-12 -1h0m8 -3h0m-22 -9h0m10 -52h0m16 54h0m-20 -16h0m-2 23h0m-7 -25h0m9 24h0m13 -36h0m8 41h0m-18 -7h0m8 -10h0m-5 -25h0m17 33h0m-28 -7h0m26 3h0m-6 -3h0m-17 16h0m38 -29h0m9 15h0m-1 6h0m-41 -45h0m32 28h0m-6 9h0m5 -6h0m-30 21h0m-10 -21h0m1 9h0m-2 -38h0m21 49h0m-12 -12h0m27 6h0m1 4h0m-31 -20h0m35 18h0m-10 3h0m-15 0h0m17 -5h0m-33 -3h0m6 -14h0m16 7h0m0 9h0m-6 5h0m4 0h0m-17 -26h0m1 22h0m5 -3h0m10 4h0m20 -2h0m-32 2h0m-1 -8h0m0 -6h0m19 -11h0m15 28h0m-17 1h0m-22 -2h0m1 -6h0m19 -3h0m-12 -15h0m42 30h0m-34 -16h0m15 -5h0m-19 -14h0m10 5h0m-11 6h0m60 21h0m-67 -12h0m59 15h0m-59 -20h0m30 -1h0m-29 20h0m12 -7h0m4 -19h0m-10 17h0m-10 5h0m17 -7h0m32 -2h0m-53 -17h0m17 21h0m-15 -5h0m30 0h0m37 9h0m-22 -5h0m-45 1h0m29 -12h0m-31 -22h0m16 34h0m-15 -9h0m0 13h0m19 4h0m-5 -36h0m39 37h0m-36 -1h0m-18 -3h0m27 4h0m-11 -3h0m6 1h0m-2 -57h0m23 58h0m-26 -5h0m7 -17h0m30 20h0m-44 -10h0m-11 -10h0m4 2h0m17 -19h0m-13 -12h0m34 52h0m3 -2h0m-31 -47h0m12 42h0m4 4h0m29 3h0m-35 -9h0m-19 -1h0m23 7h0m15 1h0m-30 -6h0m11 -5h0m-12 -13h0m39 24h0m-25 -19h0m-13 -8h0m-13 -9h0m15 38h0m9 -10h0m-18 -8h0m-3 12h0m4 -1h0m3 6h0m0 -2h0m19 -2h0m-23 -32h0m30 37h0m-19 -29h0m10 17h0m-18 -6h0m32 15h0m-27 -14h0m11 16h0m-22 -46h0m26 34h0m-22 10h0m40 1h0m-17 -4h0m0 -2h0m15 9h0m-44 -26h0m26 21h0m-12 -3h0m30 -11h0m-13 10h0m-25 -21h0m2 25h0m45 1h0m-12 -14h0m-17 15h0m-9 -4h0m-8 -17h0m19 14h0m11 -14h0m-26 -21h0m11 -11h0m8 24h0m-18 8h0m-10 13h0m15 -4h0m-15 -13h0m32 11h0m-28 5h0m25 4h0m-22 -2h0m23 -36h0m-7 13h0m40 22h0m-19 -9h0m-22 14h0m-11 -3h0m34 8h0m-23 -4h0m-6 -3h0m-17 -1h0m9 4h0m4 -47h0m-1 39h0m2 -13h0m-14 19h0m23 -22h0m-12 18h0m3 -23h0m-6 27h0m1 -13h0m28 7h0m-15 -6h0m-17 -1h0m41 16h0m-30 -8h0m5 5h0m-14 -46h0m6 26h0m11 -13h0m-2 31h0m-18 -5h0m4 -32h0m-6 19h0m11 5h0m-15 -24h0m38 38h0m-35 -29h0m15 11h0m-13 -21h0m38 45h0m-21 -11h0m-6 11h0m11 -12h0m-1 2h0m1 10h0m-23 -19h0m6 -23h0m20 28h0m-19 -1h0m-7 12h0m1 1h0m47 -1h0m1 3h0m-26 -26h0m-7 25h0m-5 -12h0m6 14h0m-3 -21h0m8 -4h0m-12 9h0m15 9h0m-28 -4h0m35 -1h0m-16 -7h0m20 12h0m-24 -38h0m-7 29h0m7 -32h0m14 26h0m-14 8h0m20 10h0m-36 -28h0m17 -7h0m12 21h0m-9 8h0m-19 8h0m30 -16h0m24 13h0m-45 -37h0m31 29h0m0 -17h0m12 28h0m23 2h0m-62 -56h0m30 54h0m4 1h0m20 -2h0m-12 1h0m-27 0h0m2 0h0m2 0h0m-19 2h0m-11 -13h0m31 9h0m-6 -9h0m-17 -8h0m-3 9h0m25 1h0m23 -4h0m-2 11h0m-52 -8h0m32 2h0m-30 7h0m61 -9h0m-1 11h0m-45 -4h0m-13 3h0m11 1h0m-4 -31h0m14 27h0m-22 4h0m23 0h0m13 -17h0m-31 7h0m14 -4h0m-5 -36h0m-13 36h0m31 -1h0m-12 -3h0m-9 -10h0m4 16h0m19 6h0m-7 -19h0m-27 8h0m16 8h0m-15 -1h0m3 -20h0m-7 9h0m6 5h0m29 -11h0m-16 -7h0m55 33h0m-48 -25h0m-10 20h0m9 -21h0m3 9h0m-14 -13h0m44 28h0m-44 -1h0m-5 -18h0m6 19h0m15 -28h0m-2 14h0m-10 15h0m13 -3h0m4 -14h0m-29 -11h0m4 29h0m10 -2h0m-7 -2h0m23 4h0m-35 -6h0m21 -20h0m-18 -10h0m37 9h0m-38 12h0m22 -14h0m-8 20h0m-2 0h0m-12 5h0m3 -12h0m18 5h0m7 -13h0m-29 11h0m15 -25h0m32 36h0m-31 -34h0m46 37h0m-43 -32h0m-7 31h0m-9 -48h0m40 47h0m3 -8h0m-10 -2h0m-28 -5h0m60 18h0m-36 -14h0m-2 -3h0m13 0h0m18 3h0m-26 13h0m-7 -3h0m-11 -26h0m13 23h0m4 3h0m-1 4h0m3 -1h0m-35 -22h0m5 15h0m17 -13h0m-7 7h0m-17 -10h0m27 -3h0m-11 13h0m5 -3h0m36 15h0m-40 -28h0m6 -1h0m-6 -11h0m21 42h0m6 -7h0m-38 5h0m12 -12h0m2 -21h0m-1 27h0m-20 -11h0m5 -30h0m32 20h0m-21 27h0m9 -35h0m8 26h0m-18 4h0m43 1h0m-38 -12h0m-2 11h0m31 7h0m-26 -17h0m-6 -15h0m-19 19h0m83 8h0m-81 -16h0m10 -4h0m-5 -31h0m52 54h0m-37 -1h0m-11 -33h0m30 21h0m-20 -24h0m11 14h0m-10 -9h0m17 32h0m-12 -4h0m-17 -7h0m-4 -23h0m16 17h0m-5 13h0m4 -26h0m4 17h0m-9 -13h0m3 19h0m2 -37h0m30 25h0m-51 17h0m24 -16h0m-4 2h0m41 16h0m-53 -37h0m20 35h0m-12 -6h0m-10 -2h0m23 9h0m11 1h0m-7 -15h0m27 2h0m-51 12h0m-5 -25h0m2 -6h0m52 33h0m-45 -34h0m5 -5h0m9 38h0m-25 -13h0m33 1h0m-33 12h0m41 -6h0m10 -7h0m-26 -11h0m-17 -7h0m25 10h0m-16 -29h0m-14 45h0m15 -27h0m33 22h0m-18 5h0m-26 -4h0m6 1h0m26 8h0m-33 -36h0m27 32h0m-19 -35h0m18 10h0m-11 11h0m-19 -7h0m6 9h0m16 10h0m-15 5h0m22 -7h0m-1 10h0m-1 -5h0m-3 -17h0m-27 -6h0m9 7h0m9 9h0m2 10h0m46 1h0m-60 -9h0m22 -4h0m-27 11h0m7 -5h0m19 -15h0m12 15h0m-28 -15h0m10 8h0m-12 -15h0m12 30h0m0 -9h0m-7 -23h0m-15 29h0m13 -6h0m-13 -38h0m19 47h0m49 0h0m-57 -30h0m17 5h0m-17 23h0m25 -5h0m0 -15h0m26 17h0m-52 -14h0m29 15h0m-13 3h0m23 -4h0m-38 -50h0m4 40h0m11 -8h0m-11 5h0m2 -24h0m-2 0h0m31 41h0m-26 -40h0m-20 24h0m14 -3h0m-3 12h0m14 -2h0m-1 -26h0m5 25h0m-6 6h0m18 -6h0m27 5h0m-49 -10h0m-18 9h0m17 3h0m18 -17h0m-33 -11h0m78 30h0m-42 2h0m-21 -31h0m-6 22h0m0 -1h0m13 -23h0m-9 13h0m30 15h0m-33 0h0m22 5h0m-27 -5h0m-8 -15h0m12 7h0m44 13h0m-20 -35h0m-16 -19h0m1 5h0m4 14h0m40 32h0m-62 -19h0m14 -24h0m17 16h0m35 31h0m-34 -44h0m0 6h0m17 37h0m-14 -9h0m-28 -1h0m-3 -44h0m21 49h0m-16 -11h0m-9 11h0m16 -23h0m-1 -13h0m-5 21h0m15 11h0m-26 2h0m70 2h0m-46 -4h0m3 5h0m-19 -22h0m50 27h0m-28 -21h0m4 11h0m7 -9h0m-35 2h0m2 4h0m3 0h0m-2 -36h0m-7 47h0m17 -17h0m-16 18h0m50 -13h0m-38 -19h0m16 14h0m12 -1h0m-17 7h0m6 -12h0m-8 8h0m-21 -12h0m1 -4h0m25 29h0m-27 -27h0m42 7h0m-46 11h0m19 -27h0m43 35h0m-42 -4h0m5 -16h0m-5 12h0m-6 2h0m-3 -49h0m-10 45h0m24 -8h0m-1 3h0m15 10h0m-1 -2h0m-2 6h0m14 -4h0m-17 -11h0m-21 17h0m-7 -9h0m57 10h0m-43 -46h0m24 37h0m-21 9h0m22 -1h0m-19 0h0m-17 -10h0m6 9h0m-2 3h0m2 -5h0m18 -33h0m-27 -15h0m18 11h0m-5 43h0m-3 -22h0m1 15h0m44 6h0m-40 -22h0m-19 -15h0m5 14h0m63 23h0m-30 -13h0m-33 11h0m12 -52h0m6 54h0m-7 -7h0m12 -9h0m-14 1h0m-15 -15h0m5 0h0m10 -8h0m7 29h0m13 -23h0m31 31h0m-55 -51h0m2 39h0m21 -2h0m-6 -3h0m-9 2h0m-1 -9h0m26 26h0m-8 -11h0m-25 11h0m10 -3h0m-9 -1h0m28 -2h0m6 -4h0m-7 4h0m-30 -45h0m6 46h0m49 -5h0m-27 -4h0m-20 -42h0m58 49h0m-53 -10h0m-15 -7h0m-2 2h0m18 22h0m13 -24h0m-25 19h0m16 -2h0m47 6h0m-59 -39h0m29 23h0m-33 -3h0m62 18h0m-23 -4h0m14 -9h0m-6 12h0m-8 -16h0m-27 -4h0m-16 6h0m6 -7h0m-10 20h0m28 -42h0m11 20h0m0 19h0m-10 -5h0m23 13h0m-50 -22h0m-1 2h0m13 -12h0m1 19h0m-13 -26h0m17 -12h0m15 45h0m-13 -33h0m-9 8h0m0 29h0m38 -4h0m-35 -13h0m-9 -36h0m47 50h0m-52 -3h0m30 -31h0m48 32h0m-53 6h0m-13 -3h0m-6 -12h0m-2 -31h0m6 19h0m-10 21h0m32 4h0m17 -2h0m-41 -13h0m-3 0h0m-1 2h0m32 -17h0m21 32h0m-52 -9h0m1 -14h0m25 22h0m-16 -34h0m42 31h0m-59 -9h0m7 6h0m-9 -32h0m23 5h0m-8 15h0m15 14h0m-28 -25h0m29 -2h0m34 33h0m-49 -16h0m8 -15h0m11 6h0m-20 -5h0m33 27h0m-31 -8h0m-13 2h0m22 -30h0m-4 33h0m-18 -19h0m4 16h0m32 -12h0m-16 -22h0m25 34h0m32 8h0m-54 -24h0m28 23h0m-46 -9h0m15 -31h0m-23 40h0m45 -20h0m-41 -18h0m17 4h0m-21 27h0m27 -6h0m-8 -33h0m6 45h0m18 -8h0m-35 -16h0m49 24h0m-35 -11h0m-22 -18h0m39 16h0m-12 9h0m8 5h0m2 -11h0m42 12h0m3 0h0m4 0h0m4 0h0m5 0h0m3 -1h0m5 0h0m4 -1h0m4 0h0m4 -1h0m-37 3h0m12 -1h0m5 -1h0m3 0h0m5 -1h0m4 -1h0m4 -1h0m4 -1h0m-29 5h0m4 -1h0m4 -1h0m5 -1h0m4 -2h0m4 -1h0m4 -2h0m4 -2h0m-32 11h0m12 -4h0m4 -2h0m4 -2h0m4 -2h0m4 -2h0m4 -3h0m-107 -156h0m16 78h0m12 6h0m26 -1h0m-58 9h0m51 6h0m18 32h0m-23 2h0m19 16h0m4 5h0m0 5h0m-30 -36h0m-2 4h0m-12 -12h0m-26 -12h0m5 -205h0m5 0h0" stroke="#e32226" stroke-width="3.3" stroke-linecap="round" fill="none"/>
<path d="M837.7 1340.7V1048.8H1125.6V1340.7" fill="none" stroke="#9a9a9a" stroke-width="1.1"/>
<line x1="837.7" y1="1048.3" x2="837.7" y2="1342.1" stroke="#000" stroke-width="2.8"/>
<line x1="836.3" y1="1340.7" x2="1126.6" y2="1340.7" stroke="#000" stroke-width="2.8"/>
<line x1="834.2" y1="1326.4" x2="837.7" y2="1326.4" stroke="#333" stroke-width="1"/>
<text x="827.2" y="1335.2" font-size="25.5" text-anchor="end">0</text>
<line x1="834.2" y1="1206.4" x2="837.7" y2="1206.4" stroke="#333" stroke-width="1"/>
<text x="827.2" y="1215.2" font-size="25.5" text-anchor="end">100</text>
<line x1="834.2" y1="1086.4" x2="837.7" y2="1086.4" stroke="#333" stroke-width="1"/>
<text x="827.2" y="1095.2" font-size="25.5" text-anchor="end">200</text>
<text x="909.6" y="1366.4" font-size="25.5" text-anchor="middle">-3</text>
<text x="979.6" y="1366.4" font-size="25.5" text-anchor="middle">0</text>
<text x="1049.6" y="1366.4" font-size="25.5" text-anchor="middle">3</text>
<text x="1119.5" y="1366.4" font-size="25.5" text-anchor="middle">6</text>
<text x="986.5" y="1031.9" font-size="27" text-anchor="middle">V.FB1</text>
<text x="987.3" y="1405.2" font-size="28.3" text-anchor="middle">log<tspan font-size="17.5" dy="10.2">2</tspan><tspan dy="-10.2">(Fold Change)</tspan></text>
<rect x="94.9" y="1467.9" width="290.8" height="290.6" fill="#fff"/>
<line x1="111.3" y1="1467.9" x2="111.3" y2="1758.5" stroke="#f4f4f4" stroke-width="1"/>
<line x1="147.7" y1="1467.9" x2="147.7" y2="1758.5" stroke="#f4f4f4" stroke-width="1"/>
<line x1="184.2" y1="1467.9" x2="184.2" y2="1758.5" stroke="#f4f4f4" stroke-width="1"/>
<line x1="220.7" y1="1467.9" x2="220.7" y2="1758.5" stroke="#f4f4f4" stroke-width="1"/>
<line x1="257.2" y1="1467.9" x2="257.2" y2="1758.5" stroke="#f4f4f4" stroke-width="1"/>
<line x1="293.7" y1="1467.9" x2="293.7" y2="1758.5" stroke="#f4f4f4" stroke-width="1"/>
<line x1="330.1" y1="1467.9" x2="330.1" y2="1758.5" stroke="#f4f4f4" stroke-width="1"/>
<line x1="366.6" y1="1467.9" x2="366.6" y2="1758.5" stroke="#f4f4f4" stroke-width="1"/>
<line x1="94.9" y1="1744.2" x2="385.7" y2="1744.2" stroke="#f4f4f4" stroke-width="1"/>
<line x1="94.9" y1="1702.6" x2="385.7" y2="1702.6" stroke="#f4f4f4" stroke-width="1"/>
<line x1="94.9" y1="1661" x2="385.7" y2="1661" stroke="#f4f4f4" stroke-width="1"/>
<line x1="94.9" y1="1619.4" x2="385.7" y2="1619.4" stroke="#f4f4f4" stroke-width="1"/>
<line x1="94.9" y1="1577.9" x2="385.7" y2="1577.9" stroke="#f4f4f4" stroke-width="1"/>
<line x1="94.9" y1="1536.3" x2="385.7" y2="1536.3" stroke="#f4f4f4" stroke-width="1"/>
<line x1="94.9" y1="1494.7" x2="385.7" y2="1494.7" stroke="#f4f4f4" stroke-width="1"/>
<path d="M194 1733h0m61 6h0m-98 1h0m58 -26h0m-24 13h0m56 3h0m-10 4h0m-27 -22h0m93 26h0m-81 5h0m-35 -2h0m92 -5h0m-91 6h0m-26 -9h0m68 -14h0m55 19h0m-52 5h0m-25 -17h0m37 3h0m13 12h0m2 1h0m-40 1h0m-3 -6h0m-6 -16h0m-59 11h0m29 4h0m60 -8h0m-77 5h0m22 3h0m12 -4h0m66 6h0m-64 -5h0m-42 6h0m63 -2h0m-58 5h0m48 -32h0m2 24h0m-8 -12h0m51 18h0m28 2h0m-100 0h0m28 -6h0m-15 7h0m20 -11h0m-36 5h0m28 -7h0m-8 -5h0m-7 5h0m-50 10h0m41 -2h0m68 -8h0m21 12h0m-87 -11h0m11 8h0m-52 0h0m98 2h0m49 1h0m-35 -4h0m-73 5h0m18 -3h0m92 2h0m-85 -39h0m-39 33h0m40 -17h0m12 6h0m28 10h0m-54 -3h0m-13 6h0m14 -2h0m-14 0h0m86 3h0m-22 1h0m-53 -17h0m100 14h0m-72 1h0m-38 1h0m-16 -1h0m15 5h0m3 -9h0m110 5h0m-71 -23h0m35 27h0m-93 -3h0m123 1h0m-38 0h0m-60 -6h0m21 -10h0m28 16h0m-5 -3h0m-9 -24h0m-52 24h0m15 5h0m38 -14h0m-69 11h0m58 -14h0m8 -5h0m-47 18h0m48 -12h0m38 12h0m-101 -7h0m40 10h0m1 -6h0m83 1h0m-102 6h0m35 0h0m26 -12h0m-30 3h0m-11 -2h0m-42 7h0m116 3h0m-103 -14h0m9 14h0m-5 -1h0m25 -29h0m24 22h0m-67 7h0m26 1h0m44 0h0m-24 -19h0m7 10h0m50 2h0m-9 2h0m0 2h0m8 2h0m-9 -4h0m24 3h0m-76 -1h0m54 0h0m-61 -5h0m71 2h0m18 0h0m-7 5h0m-46 -15h0m-59 3h0m80 8h0m-83 -7h0m66 14h0m-40 -13h0m-13 8h0m64 -11h0m-110 11h0m93 -9h0m-52 7h0m-30 2h0m102 2h0m-22 -23h0m-9 26h0m74 -5h0m-149 -3h0m25 -4h0m97 8h0m-48 -11h0m15 6h0m4 -11h0m-35 4h0m19 14h0m-33 -10h0m94 3h0m-76 -5h0m44 1h0m-9 -4h0m23 7h0m-114 4h0m32 1h0m24 -37h0m-27 35h0m42 -5h0m-14 11h0m32 -3h0m-56 -12h0m92 12h0m-63 -9h0m-32 -2h0m52 7h0m-53 0h0m41 2h0m-5 -4h0m17 -4h0m-51 7h0m55 0h0m10 -5h0m39 10h0m-78 -14h0m-14 15h0m31 -18h0m-6 8h0m1 5h0m-54 -4h0m61 7h0m-19 -4h0m39 2h0m-17 -3h0m44 4h0m-77 -10h0m49 13h0m-53 -14h0m-15 -1h0m53 1h0m25 13h0m-91 -11h0m15 4h0m54 5h0m-18 -29h0m-10 18h0m-41 10h0m51 -27h0m-77 22h0m105 -6h0m-6 8h0m1 2h0m39 2h0m-52 -8h0m14 1h0m-76 5h0m24 -6h0m59 1h0m-37 5h0m18 -12h0m-27 -3h0m-21 18h0m16 -2h0m64 -5h0m-7 4h0m6 3h0m-111 -4h0m29 5h0m41 -3h0m19 4h0m-2 -1h0m-89 -2h0m64 -5h0m6 -14h0m-7 22h0m43 -12h0m-94 7h0m52 -34h0m-15 20h0m41 6h0m-11 -19h0m52 29h0m-78 -1h0m4 -26h0m32 27h0m-35 -3h0m25 -19h0m-12 10h0m-17 14h0m39 -14h0m-67 10h0m97 5h0m-21 -16h0m-91 12h0m80 -10h0m-74 4h0m29 7h0m13 -20h0m-44 16h0m126 2h0m-108 -8h0m64 0h0m49 8h0m-19 -2h0m-110 4h0m61 2h0m-1 -2h0m9 -24h0m-79 16h0m11 -1h0m130 10h0m-12 -3h0m-22 5h0m-89 -1h0m100 -8h0m-52 -36h0m0 40h0m-14 2h0m-17 0h0m75 -6h0m-39 7h0m25 -7h0m-96 1h0m16 6h0m-10 -5h0m14 -7h0m106 10h0m-70 0h0m16 0h0m-19 5h0m22 -9h0m-6 -16h0m-9 17h0m0 -3h0m20 4h0m-48 1h0m-22 -2h0m88 7h0m-3 -9h0m29 9h0m-61 -21h0m-38 13h0m21 0h0m3 5h0m29 -23h0m3 15h0m11 3h0m28 4h0m-16 -7h0m-86 -1h0m-30 6h0m110 1h0m-1 0h0m-11 -12h0m-61 14h0m90 2h0m-40 -17h0m-59 12h0m42 -9h0m-26 3h0m63 1h0m-60 5h0m-8 -4h0m45 9h0m-4 -4h0m73 2h0m-98 -2h0m70 -1h0m-94 -7h0m36 -21h0m-17 34h0m-15 -10h0m-5 7h0m27 2h0m58 -3h0m-3 2h0m-60 -6h0m-9 3h0m-19 3h0m77 -2h0m-34 -19h0m-4 -3h0m27 5h0m-38 18h0m-28 -2h0m26 2h0m15 1h0m56 1h0m-54 -24h0m-13 20h0m51 -5h0m-6 8h0m-87 -3h0m102 0h0m-74 1h0m58 -15h0m-7 11h0m-50 4h0m64 -3h0m1 4h0m-3 -3h0m12 0h0m-40 2h0m-2 -9h0m-20 13h0m-24 -6h0m85 -4h0m-32 -9h0m24 15h0m-89 -6h0m58 9h0m-7 -4h0m68 3h0m-60 -11h0m35 7h0m-16 6h0m-68 -9h0m66 8h0m-27 1h0m-6 -5h0m16 2h0m-24 -6h0m-42 1h0m85 -8h0m10 -1h0m-9 1h0m-25 -27h0m1 18h0m14 23h0m-24 -7h0m56 3h0m-56 3h0m81 -4h0m-83 -16h0m21 13h0m8 -18h0m-13 26h0m5 -20h0m31 22h0m-26 -12h0m-45 9h0m35 -5h0m-2 -8h0m10 13h0m-25 3h0m15 -13h0m-34 6h0m17 -2h0m68 6h0m14 -2h0m-76 -18h0m25 12h0m-23 -12h0m14 3h0m-31 12h0m-8 0h0m68 7h0m-45 -15h0m9 4h0m21 9h0m-24 -17h0m-1 10h0m-13 3h0m-38 2h0m-12 -3h0m75 -11h0m-17 5h0m-33 1h0m29 1h0m23 5h0m-8 -7h0m20 -1h0m37 13h0m-2 2h0m-44 -3h0m-74 1h0m81 -6h0m-53 -7h0m16 6h0m-46 1h0m114 8h0m-21 0h0m-30 -35h0m24 27h0m-29 6h0m-29 -2h0m50 -12h0m25 15h0m-8 -2h0m-88 -5h0m41 -8h0m25 2h0m47 9h0m-123 -5h0m97 -4h0m-15 9h0m57 2h0m-32 -1h0m4 -8h0m31 8h0m-24 2h0m-2 -6h0m-88 3h0m62 -6h0m-23 -6h0m36 8h0m-24 5h0m2 -24h0m36 26h0m-1 -1h0m-56 3h0m27 0h0m-4 0h0m-16 -6h0m18 -5h0m5 7h0m1 -17h0m-56 10h0m55 -7h0m-60 6h0m-34 8h0m32 1h0m37 0h0m-26 0h0m66 0h0m-44 -6h0m9 -22h0m26 27h0m-74 2h0m71 -5h0m-73 1h0m23 1h0m25 -1h0m54 5h0m-59 -31h0m35 28h0m-59 -7h0m39 9h0m-2 -1h0m-22 3h0m25 -14h0m43 12h0m21 0h0m-52 2h0m0 -11h0m-36 -1h0m-27 6h0m59 -4h0m14 7h0m31 -5h0m-106 1h0m15 5h0m-36 -4h0m34 6h0m-4 -1h0m16 -5h0m27 -3h0m-8 -34h0m15 42h0m-53 -2h0m5 3h0m78 0h0m-31 -28h0m7 15h0m-27 -9h0m-18 19h0m54 -3h0m-61 -10h0m69 15h0m-26 -16h0m-38 3h0m52 7h0m-12 -8h0m71 11h0m-154 1h0m33 -6h0m38 -7h0m-1 9h0m-25 1h0m-35 3h0m27 -1h0m49 1h0m45 -3h0m-68 -8h0m-2 8h0m-32 6h0m100 0h0m-83 -14h0m26 -17h0m10 8h0m-61 22h0m85 -12h0m-35 -27h0m36 38h0m-50 -22h0m6 21h0m0 2h0m10 -2h0m-18 -18h0m21 22h0m-34 -12h0m37 9h0m-31 2h0m82 -2h0m-62 -44h0m78 45h0m-32 0h0m-23 -4h0m-39 -3h0m-23 -5h0m43 14h0m-10 -18h0m-14 1h0m54 13h0m-40 -28h0m19 -7h0m-27 19h0m92 14h0m-66 -1h0m-9 -18h0m-24 20h0m85 0h0m-63 -20h0m47 20h0m-72 4h0m-45 -8h0m130 4h0m-121 -2h0m90 -4h0m-61 7h0m42 -3h0m9 -4h0m-69 2h0m41 -25h0m25 10h0m-83 18h0m89 4h0m-29 -6h0m-19 2h0m66 -7h0m-111 6h0m91 1h0m12 3h0m-15 -2h0m-69 -7h0m24 2h0m35 7h0m-72 -8h0m75 11h0m-14 -2h0m37 -13h0m-76 3h0m55 -21h0m0 11h0m3 9h0m52 10h0m-41 0h0m13 -7h0m-78 6h0m66 -4h0m15 3h0m32 0h0m-57 -13h0m-18 -2h0m19 9h0m17 -3h0m-75 9h0m35 -4h0m57 2h0m-79 -1h0m85 3h0m-48 -10h0m-55 6h0m95 -1h0m29 6h0m-51 -16h0m1 10h0m-48 -1h0m36 9h0m-64 -5h0m21 -2h0m22 -7h0m69 12h0m-109 0h0m67 -7h0m-35 -17h0m5 8h0m12 15h0m30 3h0m2 -10h0m-18 -11h0m5 5h0m-42 1h0m-25 7h0m71 0h0m18 5h0m-36 -12h0m-12 -11h0m31 12h0m-69 14h0m37 -9h0m-8 -1h0m-9 -6h0m1 17h0m35 -17h0m-37 8h0m31 -3h0m18 0h0m-74 10h0m-2 -2h0m1 -1h0m81 -5h0m-102 1h0m99 3h0m-4 3h0m58 1h0m-88 -7h0m43 -1h0m11 0h0m-25 -5h0m-94 5h0m70 -4h0m-40 1h0m5 -2h0m105 13h0m-100 0h0m45 -3h0m-52 -2h0m4 -3h0m48 -2h0m-3 6h0m20 -8h0m-14 5h0m-54 8h0m17 -2h0m-33 2h0m65 -22h0m23 15h0m-58 1h0m62 2h0m-23 -16h0m13 12h0m-91 5h0m58 -18h0m44 13h0m-51 -29h0m18 35h0m-18 0h0m52 -4h0m-28 8h0m-29 -32h0m-2 14h0m47 14h0m-23 3h0m-14 -36h0m-20 20h0m54 8h0m-77 -5h0m105 6h0m-15 5h0m-44 -3h0m-29 -7h0m30 -12h0m1 -9h0m-52 20h0m42 -2h0m23 6h0m10 -6h0m-3 16h0m-8 -34h0m70 27h0m-143 4h0m43 -7h0m49 2h0m-27 7h0m-26 -3h0m12 -34h0m55 30h0m-41 -5h0m-68 7h0m119 2h0m-14 2h0m-96 -1h0m-1 -4h0m32 -5h0m37 -3h0m-30 -6h0m62 12h0m-55 -11h0m20 6h0m14 4h0m-83 -2h0m20 5h0m42 -17h0m15 22h0m22 -8h0m-84 1h0m54 -17h0m59 23h0m-51 -6h0m-39 6h0m77 1h0m-65 0h0m79 -1h0m-14 0h0m-20 -11h0m-10 12h0m-64 -5h0m39 5h0m0 -23h0m-64 15h0m33 -1h0m83 6h0m-77 -12h0m47 -4h0m-81 9h0m60 -22h0m-74 24h0m68 -3h0m51 4h0m-62 -5h0m18 11h0m33 2h0m-17 -11h0m15 4h0m-59 -3h0m50 7h0m2 -6h0m-95 3h0m58 -10h0m-61 12h0m107 -6h0m-74 8h0m62 -6h0m-56 8h0m43 -27h0m-34 16h0m8 -12h0m46 6h0m-92 8h0m66 -2h0m57 9h0m-51 1h0m-42 -1h0m20 -3h0m5 -40h0m2 39h0m4 5h0m16 -24h0m-57 18h0m55 4h0m46 -4h0m-42 -2h0m-10 -6h0m-12 -2h0m-11 -7h0m-42 19h0m86 5h0m-37 0h0m54 -2h0m10 -4h0m-96 4h0m-11 -3h0m-4 1h0m10 -6h0m46 -10h0m-38 20h0m40 -14h0m26 12h0m-72 -8h0m127 7h0m-75 -8h0m56 6h0m-53 -1h0m65 0h0m-98 1h0m41 -1h0m10 3h0m-59 -3h0m56 -10h0m-18 1h0m57 13h0m-49 -4h0m-49 -1h0m91 -1h0m-13 2h0m-73 -2h0m-2 1h0m48 -13h0m-2 11h0m-71 0h0m94 5h0m-73 -4h0m32 -3h0m58 8h0m-36 -4h0m10 -3h0m-31 3h0m-25 3h0m25 -17h0m19 9h0m-15 -9h0m-16 0h0m65 20h0m-37 -5h0m-56 -3h0m31 -26h0m-48 33h0m69 0h0m38 0h0m-104 -6h0m2 6h0m45 -8h0m26 -9h0m-56 13h0m38 -21h0m-53 18h0m54 -21h0m1 30h0m48 -3h0m-34 1h0m31 -3h0m-101 -3h0m141 4h0m-145 -8h0m3 1h0m41 7h0m103 -1h0m-132 4h0m16 -6h0m42 -5h0m-36 6h0m76 3h0m-65 -13h0m37 10h0m-18 -1h0m46 -2h0m-41 -4h0m-33 11h0m-54 -4h0m115 -2h0m-103 -1h0m101 -1h0m42 7h0m-103 -1h0m-23 -4h0m44 -7h0m58 6h0m-43 7h0m-55 0h0m37 -12h0m54 10h0m-62 -4h0m6 -6h0m-26 3h0m68 11h0m-29 -16h0m-25 4h0m60 1h0m-54 -21h0m-51 22h0m81 10h0m-29 -22h0m-10 8h0m-16 4h0m32 -15h0m-54 21h0m100 2h0m-44 -27h0m-13 22h0m9 6h0m-27 -12h0m41 12h0m22 -4h0m-19 -25h0m-23 9h0m42 19h0m-45 -10h0m27 2h0m-35 0h0m-27 1h0m139 5h0m-57 2h0m-46 -9h0m27 6h0m-30 4h0m12 -17h0m18 -1h0m-51 17h0m28 -13h0m20 -6h0m-16 -11h0m13 22h0m-13 -21h0m76 29h0m-56 -13h0m-14 -25h0m16 20h0m-12 19h0m26 -12h0m-70 8h0m93 4h0m-85 -14h0m35 8h0m-12 -16h0m35 10h0m30 11h0m-13 -4h0m-46 -6h0m-19 2h0m15 6h0m-44 -8h0m68 0h0m-29 -7h0m-51 14h0m17 3h0m-2 -5h0m83 5h0m-65 -7h0m75 -2h0m-97 5h0m42 -23h0m-30 22h0m89 3h0m-37 -27h0m30 24h0m-51 -2h0m5 -19h0m-32 15h0m57 -6h0m-48 15h0m58 -10h0m-18 0h0m8 -3h0m-62 7h0m120 8h0m-104 1h0m28 -15h0m12 16h0m60 -4h0m-74 -31h0m-13 34h0m-13 -13h0m14 -17h0m51 29h0m-12 -12h0m-16 3h0m12 -5h0m-41 3h0m-5 12h0m39 -2h0m19 3h0m-18 -4h0m-24 -2h0m39 -5h0m-40 -10h0m-14 10h0m89 7h0m-2 -1h0m-133 -4h0m67 6h0m-48 -8h0m5 7h0m-6 -1h0m67 -4h0m-26 5h0m-7 -7h0m17 10h0m29 -5h0m-17 -13h0m-9 12h0m18 4h0m50 0h0m-131 -8h0m35 0h0m21 -37h0m63 39h0m-27 4h0m3 -8h0m-30 8h0m-45 -34h0m-11 16h0m-15 -7h0m21 8h0m-6 -12h0m5 20h0m-3 -30h0m-3 18h0m-14 -16h0m24 19h0m-25 -2h0m12 0h0m2 11h0m-3 0h0m-23 -4h0m14 3h0m-18 8h0m30 -28h0m19 22h0m-7 4h0m-13 -17h0m16 -10h0m-19 23h0m16 2h0m-24 -14h0m11 12h0m7 -7h0m-7 -10h0m-11 -10h0m0 22h0m-2 6h0m10 2h0m-23 -7h0m32 -2h0m-3 -24h0m-5 12h0m-5 23h0m-13 -10h0m30 -5h0m-25 11h0m-11 -10h0m27 7h0m-7 -26h0m12 17h0m-19 16h0m-22 -14h0m29 8h0m-7 -30h0m12 8h0m5 27h0m-24 -6h0m37 3h0m-26 -17h0m-28 9h0m45 3h0m-4 -7h0m12 10h0m-37 -18h0m38 -21h0m-14 14h0m-14 25h0m32 -12h0m-26 10h0m14 9h0m-3 -28h0m-25 3h0m36 10h0m0 -16h0m-13 28h0m-18 -8h0m23 1h0m-4 2h0m8 -9h0m-5 -23h0m-13 37h0m-9 -20h0m22 10h0m-5 6h0m-4 -15h0m7 14h0m-10 -2h0m9 3h0m-26 -5h0m17 -7h0m18 10h0m-12 -7h0m-13 15h0m16 -17h0m3 6h0m-38 0h0m9 3h0m31 8h0m-35 -19h0m26 -11h0m6 4h0m7 22h0m-11 -29h0m-14 34h0m1 -34h0m-16 25h0m24 9h0m-4 -17h0m-44 -48h0m26 -52h0m-4 -99h0m18 133h0m0 -4h0m4 16h0m-9 25h0m18 0h0m7 -4h0m-56 42h0m7 -5h0m197 15h0m-9 -2h0m-4 3h0m22 -2h0" stroke="#bcbcbc" stroke-width="3.3" stroke-linecap="round" fill="none"/>
<path d="M202 1645h0m-6 71h0m8 -153h0m-11 90h0m1 77h0m1 -58h0m8 -9h0m-4 9h0m8 56h0m-16 -36h0m6 -30h0m4 35h0m1 -72h0m-4 86h0m5 -131h0m-1 29h0m0 117h0m1 -177h0m-12 181h0m8 -197h0m-5 119h0m4 -93h0m2 72h0m5 -2h0m-1 17h0m-9 47h0m9 -138h0m-2 88h0m6 29h0m-14 -7h0m3 51h0m7 -59h0m-9 70h0m8 -53h0m-11 34h0m8 -19h0m4 -56h0m4 79h0m-5 -75h0m2 67h0m4 -38h0m-18 61h0m14 7h0m-8 -3h0m10 -14h0m-6 -86h0m-11 97h0m12 -19h0m0 -12h0m-2 -119h0m8 89h0m-5 61h0m-9 -79h0m3 85h0m9 -3h0m-8 4h0m10 -48h0m-8 24h0m-2 -47h0m-1 14h0m1 -8h0m7 33h0m-7 9h0m4 11h0m-7 -71h0m-2 85h0m1 -71h0m5 49h0m2 -24h0m6 33h0m-1 -101h0m-6 -86h0m-5 145h0m14 28h0m-13 -15h0m4 -74h0m-4 55h0m2 17h0m-5 43h0m3 -138h0m8 120h0m-3 -192h0m-4 193h0m-1 -17h0m0 -3h0m2 -104h0m3 131h0m0 -89h0m-2 55h0m7 -15h0m0 -74h0m-2 133h0m4 -9h0m-2 -51h0m-10 -6h0m-3 60h0m6 -160h0m1 79h0m2 63h0m-6 -73h0m3 -87h0m-2 89h0m8 -45h0m-9 50h0m2 1h0m5 -26h0m6 106h0m0 -23h0m-2 -80h0m-3 111h0m-4 -54h0m-1 -107h0m0 131h0m-2 -21h0m8 -71h0m-1 15h0m-8 79h0m4 -52h0m4 35h0m-5 6h0m1 -6h0m2 -83h0m-8 116h0m1 7h0m6 -105h0m-2 94h0m6 -38h0m-5 -84h0m7 102h0m-8 8h0m1 -43h0m4 -30h0m-8 96h0m-7 7h0m10 -44h0m0 -34h0m10 69h0m-6 -67h0m0 25h0m1 8h0m2 33h0m-1 -20h0m-7 -114h0m-2 98h0m-1 0h0m8 -53h0m-13 71h0m5 -100h0m1 65h0m9 -95h0m-3 72h0m-3 -21h0m-2 2h0m11 31h0m-12 -55h0m5 20h0m2 80h0m-6 7h0m12 -17h0m-12 -96h0m-1 -14h0m1 25h0m2 -41h0m-9 141h0m19 13h0m-8 -173h0m-4 110h0m2 14h0m0 -69h0m-1 37h0m-6 30h0m16 61h0m-4 -12h0m-2 -67h0m-13 78h0m7 -26h0m-2 4h0m0 -7h0m10 -30h0m-2 55h0m-1 -213h0m2 170h0m1 40h0m0 -97h0m-7 73h0m7 -96h0m-6 10h0m0 -34h0m11 152h0m0 -37h0m-6 -64h0m5 87h0m-12 -24h0m1 38h0m1 -2h0m8 -53h0m-7 -32h0m3 85h0m-3 -97h0m8 63h0m-12 -49h0m7 65h0m-2 -63h0m4 -33h0m-5 22h0m4 1h0m-14 84h0m7 -122h0m6 93h0m-1 26h0m0 -2h0m0 -139h0m6 95h0m-5 37h0m1 -116h0m1 -25h0m-4 36h0m-3 49h0m3 76h0m-2 -149h0m-2 51h0m4 -65h0m2 -24h0m-3 170h0m7 6h0m0 -71h0m-5 -120h0m-8 175h0m5 -37h0m9 30h0m-4 22h0m-6 -24h0m12 33h0m-6 -99h0m-5 20h0m2 51h0m-4 -40h0m1 27h0m6 -73h0m2 16h0m-2 -31h0m-7 122h0m2 -73h0m4 -91h0m2 102h0m-7 -84h0m2 2h0m10 144h0m-12 -88h0m5 65h0m-1 -124h0m-1 85h0m0 -99h0m-1 98h0m-8 23h0m9 -169h0m2 216h0m-1 -224h0m-2 173h0m-4 -62h0m12 20h0m-12 55h0m3 -57h0m8 12h0m-2 -45h0m-3 44h0m1 24h0m-7 6h0m8 -56h0m-4 110h0m4 -40h0m-4 -132h0m-6 118h0m8 -61h0m3 36h0m-9 18h0m10 65h0m-4 -156h0m-2 81h0m-8 75h0m3 -24h0m12 4h0m-12 -31h0m5 -60h0m1 90h0m3 -36h0m2 44h0m3 -12h0m-11 -129h0m-4 114h0m11 -17h0m3 39h0m0 -62h0m-7 56h0m8 -38h0m-8 12h0m7 37h0m-9 -119h0m0 -34h0m2 123h0m-9 39h0m9 -31h0m3 20h0m-8 -59h0m13 68h0m-1 -76h0m-5 -104h0m-9 151h0m0 21h0m6 -19h0m-2 -30h0m3 -8h0m7 44h0m-2 20h0m-6 -118h0m2 81h0m-1 -56h0m5 92h0m-2 -46h0m-6 -92h0m-1 125h0m7 -96h0m-5 102h0m1 -89h0m1 97h0m4 -20h0m1 7h0m-7 -54h0m6 20h0m-6 51h0m1 -87h0m3 79h0m3 -14h0m1 25h0m-6 -2h0m-2 -15h0m-3 -16h0m-5 15h0m14 -69h0m-2 -106h0m0 27h0m-4 -31h0m1 192h0m-1 -119h0m-2 120h0m5 -118h0m1 113h0m-5 -56h0m2 17h0m1 7h0m3 -65h0m-2 6h0m-1 101h0m-9 -48h0m5 40h0m8 -123h0m4 101h0m0 7h0m-8 -14h0m2 -19h0m-10 25h0m12 13h0m-1 5h0m0 -20h0m1 30h0m2 -26h0m-7 21h0m0 -184h0m-7 172h0m2 -93h0m-2 66h0m7 46h0m1 -95h0m5 65h0m-7 10h0m-1 16h0m-1 -10h0m1 -158h0m6 148h0m-1 -6h0m5 27h0m-13 -60h0m1 62h0m5 -14h0m2 -191h0m-6 69h0m-7 135h0m13 -46h0m-1 -13h0m-6 49h0m12 -5h0m-10 -141h0m12 117h0m-7 -26h0m-9 -15h0m15 46h0m-9 -139h0m1 136h0m4 -82h0m-12 107h0m11 -35h0m0 -32h0m0 -40h0m-3 54h0m-6 68h0m9 -75h0m-1 -18h0m-3 21h0m-2 45h0m5 -42h0m-10 65h0m15 -98h0m-10 7h0m5 45h0m1 -99h0m-2 112h0m-4 -56h0m3 -97h0m0 158h0m-5 -3h0m5 -171h0m-3 176h0m2 -105h0m4 43h0m-7 32h0m6 -10h0m2 1h0m-5 -12h0m4 -12h0m-5 -14h0m-8 95h0m-1 -17h0m18 -26h0m-3 34h0m2 -55h0m-14 12h0m4 50h0m11 -64h0m-5 -6h0m0 -32h0m-3 109h0m-6 -45h0m10 18h0m-9 1h0m8 -108h0m6 84h0m-1 3h0m-4 33h0m-2 -57h0m-6 51h0m6 -9h0m-2 16h0m8 10h0m-10 -67h0m7 48h0m-3 -1h0m2 -71h0m-5 -91h0m-3 81h0m-1 53h0m4 -31h0m10 10h0m-11 43h0m0 -61h0m-4 93h0m11 -40h0m-5 -122h0m0 19h0m-3 77h0m1 3h0m-2 39h0m5 -114h0m-3 140h0m3 -37h0m-4 -55h0m4 -84h0m-1 95h0m-7 30h0m3 6h0m2 -138h0m5 152h0m-1 -24h0m-1 -113h0m2 26h0m7 125h0m-14 -55h0m7 19h0m5 23h0m-5 32h0m1 -37h0m-10 19h0m5 -73h0m2 -67h0m7 150h0m-4 -129h0m-1 24h0m2 -21h0m-4 20h0m4 106h0m0 -44h0m1 -37h0m-10 39h0m13 45h0m-7 -43h0m-3 -67h0m1 31h0m3 20h0m-8 52h0m2 2h0m9 -111h0m-2 24h0m2 -2h0m-4 36h0m7 49h0m-8 -180h0m3 125h0m-4 38h0m8 -35h0m-2 -49h0m-2 -10h0m3 81h0m-2 21h0m0 -47h0m1 30h0m-3 23h0m2 -98h0m0 88h0m-1 -144h0m3 169h0m-5 -32h0m2 -140h0m-7 140h0m4 -68h0m-5 20h0m0 82h0m15 -22h0m-1 5h0m-13 -48h0m3 -75h0m3 114h0m-5 -9h0m3 -168h0m1 199h0m-4 -67h0m7 54h0m-2 -151h0m0 44h0m5 8h0m-10 -4h0m5 5h0m-8 73h0m1 10h0m7 -10h0m3 -8h0m-6 -30h0m-3 5h0m3 39h0m7 -60h0m-7 92h0m9 -4h0m-1 -19h0m-2 -73h0m4 64h0m-19 25h0m16 -34h0m-8 -16h0m-1 -62h0m2 -89h0m2 90h0m5 17h0m-7 -12h0m5 15h0m-3 92h0m2 -54h0m-8 -39h0m3 -1h0m9 74h0m-7 -100h0m-2 79h0m3 27h0m-4 -49h0m7 53h0m-9 -9h0m11 -2h0m-1 15h0m4 16h0m-8 -129h0m-6 34h0m0 65h0m-3 9h0m8 -56h0m5 28h0m-1 -19h0m-2 11h0m-5 -24h0m8 8h0m-7 -57h0m9 109h0m-12 -63h0m-4 82h0m-1 -6h0m3 5h0m16 -11h0m-11 -28h0m-7 23h0m8 -75h0m-1 -43h0m-1 -29h0m4 53h0m1 13h0m0 81h0m-5 -29h0m-1 21h0m4 -60h0m4 9h0m5 19h0m-3 54h0m-11 -12h0m5 -114h0m-3 48h0m-1 15h0m5 63h0m3 -2h0m1 -13h0m-3 -26h0m-6 -55h0m5 54h0m2 43h0m-7 -70h0m0 -60h0m7 127h0m-10 -21h0m3 -103h0m11 55h0m-1 19h0m-14 29h0m16 8h0m-12 -3h0m-5 -1h0m5 -99h0m10 104h0m2 3h0m-10 8h0m-5 -46h0m13 -77h0m-4 54h0m-1 -14h0m2 53h0m-9 -6h0m4 -139h0m1 -3h0m2 160h0m6 15h0m-7 -59h0m-4 25h0m2 -24h0m7 65h0m-6 -176h0m3 114h0m-6 23h0m7 1h0m-4 -22h0m-4 -65h0m2 -5h0m4 133h0m-1 -112h0m8 101h0m-7 -163h0m2 48h0m2 44h0m0 -73h0m0 108h0m0 -31h0m-8 -61h0m-3 136h0m7 -92h0m-1 -28h0m-1 21h0m3 71h0m3 -13h0m0 -102h0m-4 28h0m-2 76h0m3 -48h0m-4 -89h0m3 127h0m4 -101h0m-5 69h0m0 57h0m-1 -34h0m3 -10h0m3 21h0m-8 -71h0m4 34h0m-1 78h0m-2 1h0m-8 -9h0m14 -24h0m-4 -47h0m-3 -59h0m2 75h0m2 40h0m-4 18h0m2 -124h0m0 -16h0m3 81h0m5 9h0m-11 48h0m-1 -82h0m6 93h0m3 -5h0m-4 -96h0m1 78h0m-4 21h0m2 -166h0m6 155h0m-5 -189h0m5 190h0m0 -18h0m-6 -105h0m5 107h0m-3 -16h0m3 17h0m-7 -116h0m4 18h0m0 -66h0m0 190h0m0 -28h0m-3 -36h0m4 -8h0m2 44h0m-8 10h0m4 -116h0m0 124h0m-8 -22h0m9 0h0m8 11h0m-9 -179h0m5 136h0m-3 -71h0m-8 134h0m5 -110h0m-3 63h0m13 32h0m-16 -58h0m5 9h0m-4 -5h0m-1 64h0m2 -58h0m5 48h0m7 7h0m-12 -22h0m5 -179h0m7 178h0m-11 10h0m0 27h0m5 -123h0m7 67h0m-1 11h0m-8 14h0m-7 17h0m2 -57h0m1 51h0m7 15h0m-3 -10h0m5 -155h0m0 67h0m-10 92h0m0 -16h0m5 -72h0m-1 42h0m2 29h0m-1 14h0m-1 -21h0m3 16h0m-2 -110h0m6 104h0m-2 3h0m-11 -12h0m16 23h0m-5 -153h0m-14 159h0m18 -10h0m-12 -22h0m2 -8h0m4 -27h0m1 -35h0m0 108h0m3 -12h0m-11 -17h0m8 -28h0m-1 -63h0m0 98h0m1 -29h0m2 -72h0m-10 106h0m8 -42h0m6 41h0m-4 -45h0m-1 37h0m-7 14h0m3 -14h0m1 -8h0m4 -115h0m-7 119h0m3 -32h0m2 -34h0m-5 -96h0m2 130h0m-4 -60h0m5 -90h0m-3 187h0m5 -153h0m-12 163h0m19 -8h0m-15 -55h0m2 38h0m9 -63h0m-2 51h0m1 39h0m-8 5h0m3 7h0m3 -13h0m1 -109h0m2 80h0m-6 -15h0m7 -11h0m2 35h0m-2 -23h0m-1 -104h0m-6 153h0m-8 -9h0m10 -62h0m2 61h0m-3 -12h0m1 -146h0m-6 51h0m0 74h0m2 -127h0m7 149h0m-3 -55h0m2 74h0m-1 -159h0m5 163h0m-9 -5h0m2 -110h0m-1 -26h0m-5 86h0m11 -28h0m-11 45h0m7 -47h0m0 5h0m7 3h0m-13 70h0m-1 -6h0m0 15h0m6 -33h0m4 -85h0m-2 115h0m0 -55h0m-5 26h0m4 -28h0m6 -34h0m-4 -91h0m-2 176h0m3 -125h0m0 -29h0m-6 -16h0m6 148h0m1 -94h0m-11 124h0m10 -61h0m0 5h0m1 3h0m-13 54h0m11 -43h0m-3 -102h0m0 130h0m-5 -42h0m8 47h0m-5 -186h0m7 131h0m-6 -118h0m-10 160h0m19 11h0m-10 -16h0m7 16h0m1 13h0m-8 -19h0m3 15h0m-3 -141h0m8 6h0m-4 23h0m-9 54h0m5 -105h0m10 117h0m-14 -36h0m-2 53h0m2 -32h0m8 -85h0m-4 -16h0m-5 159h0m12 -109h0m-8 58h0m5 49h0m-4 -44h0m-4 -40h0m6 32h0m-2 37h0m-1 -61h0m4 -15h0m-4 60h0m10 -46h0m-18 73h0m16 -60h0m1 62h0m-2 -141h0m1 94h0m1 -12h0m-1 64h0m-6 -32h0m10 -6h0m-15 -45h0m12 -23h0m-3 59h0m2 29h0m-13 -46h0m6 61h0m-7 -8h0m4 -57h0m4 67h0m-5 -38h0m1 46h0m4 -118h0m-2 117h0m-1 -20h0m6 20h0m-1 -112h0m-10 78h0m4 13h0m4 -79h0m8 46h0m-9 -88h0m3 31h0m0 -15h0m-1 51h0m2 -42h0m-5 5h0m3 64h0m2 23h0m-8 -32h0m10 56h0m2 -37h0m-1 10h0m-9 -90h0m8 63h0m-3 -20h0m0 57h0m-2 -3h0m-7 -16h0m4 -106h0m1 78h0m-7 67h0m13 -34h0m-9 -2h0m12 -63h0m-15 97h0m18 -26h0m-9 -103h0m-3 16h0m4 40h0m3 77h0m-6 -62h0m8 25h0m-9 -12h0m-5 16h0m9 -107h0m-3 109h0m1 -162h0m-2 52h0m5 34h0m0 64h0m-6 -68h0m9 9h0m-7 -26h0m-5 88h0m10 28h0m2 -140h0m-11 118h0m14 -33h0m-2 49h0m-11 -88h0m6 -39h0m-3 116h0m-3 -92h0m2 93h0m8 13h0m-6 -153h0m2 150h0m4 -107h0m-2 117h0m-13 -9h0m13 -86h0m-6 -36h0m6 136h0m3 -127h0m-3 62h0m2 8h0m-12 58h0m5 -22h0m5 -53h0m-7 -53h0m5 59h0m3 56h0m-10 -69h0m3 5h0m8 -38h0m-7 -65h0m-5 160h0m0 -39h0m-2 26h0m8 -155h0m-4 129h0m0 13h0m6 -36h0m-2 -112h0m10 193h0m-15 0h0m15 1h0m-5 -36h0m-10 2h0m3 -117h0m0 63h0m3 49h0m-5 -17h0m-2 23h0m7 -131h0m5 142h0m-1 -7h0m1 24h0m0 -78h0m-3 -21h0m-4 -12h0m3 -45h0m2 -10h0m-3 124h0m6 -42h0m-2 19h0m-8 0h0m8 -77h0m-3 -57h0m-6 187h0m10 -123h0m-4 101h0m2 -30h0m-9 18h0m8 2h0m-7 -36h0m3 87h0m3 -160h0m-5 44h0m-1 60h0m7 -150h0m-2 -20h0m-4 117h0m11 3h0m-8 92h0m-3 -123h0m1 38h0m2 33h0m0 -87h0m-3 -5h0m2 -35h0m-5 129h0m7 43h0m3 -123h0m-7 -6h0m10 95h0m-1 -52h0m-6 22h0m6 -10h0m-8 70h0m-2 1h0m-1 -43h0m7 -95h0m1 39h0m-1 114h0m-10 -14h0m16 0h0m-13 -16h0m10 -51h0m2 65h0m-6 -114h0m0 3h0m-7 73h0m11 51h0m1 -51h0m0 -66h0m-3 -22h0m4 125h0m-5 -12h0m3 -49h0m1 34h0m-6 7h0m9 2h0m-7 -99h0m4 -10h0m-4 63h0m6 -4h0m-6 42h0m-3 -86h0m-1 25h0m4 -42h0m-10 130h0m9 24h0m3 -60h0m-4 -91h0m-7 122h0m10 -11h0m-8 -25h0m1 6h0m3 -34h0m5 24h0m3 -19h0m1 45h0m0 -53h0m1 93h0m-13 -59h0m2 29h0m10 12h0m-6 -22h0m-3 12h0m10 -60h0m-10 -104h0m2 146h0m7 -24h0m-8 26h0m-6 1h0m3 -94h0m-1 125h0m1 -16h0m12 32h0m-14 -2h0m0 -48h0m5 -101h0m4 123h0m2 -121h0m-12 112h0m15 6h0m-11 -143h0m-1 170h0m7 -48h0m3 11h0m-7 -58h0m-4 2h0m1 91h0m5 -58h0m-4 6h0m8 -92h0m-2 109h0m-9 -5h0m4 -22h0m9 -25h0m-4 83h0m-4 -173h0m-3 114h0m0 29h0m7 1h0m-3 -156h0m-2 148h0m8 -1h0m-2 -71h0m-2 95h0m0 8h0m3 -135h0m-8 135h0m-7 16h0m3 -50h0m-1 23h0m14 -98h0m-4 -1h0m-2 26h0m-8 92h0m11 -132h0m-5 -49h0m0 137h0m-9 39h0m11 -73h0m0 -111h0m7 157h0m-2 -79h0m-7 105h0m5 -75h0m2 84h0m-15 -18h0m13 -171h0m-1 44h0m-4 -25h0m-5 163h0m4 -56h0m6 -18h0m-1 24h0m2 -102h0m-15 156h0m20 -17h0m-6 20h0m-4 -205h0m5 139h0m4 32h0m-4 -11h0m-6 -24h0m10 63h0m-9 -40h0m6 -58h0m2 108h0m-7 -56h0m-1 -40h0m5 75h0m-14 19h0m6 0h0m6 -205h0m-9 199h0m5 -101h0m5 -51h0m-6 49h0m9 -14h0m-9 74h0m9 -10h0m2 35h0m1 -14h0m0 -15h0m-1 32h0m-3 -42h0m1 -54h0m-2 -6h0m-9 58h0m13 -18h0m-15 56h0m13 -4h0m-1 -48h0m-14 29h0m14 -31h0m-3 66h0m-1 -85h0m-5 -54h0m5 138h0m2 -4h0m-2 -133h0m3 77h0m-7 67h0m2 -94h0m-3 -11h0m2 -17h0m-5 58h0m10 41h0m-2 8h0m4 21h0m1 -41h0m-9 8h0m-3 13h0m8 -4h0m-2 -113h0m2 5h0m-8 55h0m16 69h0m-16 5h0m11 -58h0m-6 -60h0m0 124h0m-2 -7h0m7 -97h0m0 -62h0m4 113h0m-9 -74h0m10 109h0m-17 7h0m2 -80h0m4 40h0m2 41h0m-3 -50h0m-1 -85h0m-1 95h0m4 29h0m-3 -38h0m10 40h0m-12 -76h0m3 -5h0m3 49h0m3 14h0m-4 -70h0m4 -18h0m-4 -10h0m-5 101h0m6 -38h0m-3 34h0m-3 22h0m6 -150h0m-1 -38h0m-3 52h0m0 129h0m0 -30h0m4 -118h0m-10 144h0m8 -84h0m0 71h0m-3 6h0m-1 -18h0m9 -57h0m-1 -80h0m-2 185h0m-5 -60h0m5 -124h0m2 144h0m5 4h0m-6 -93h0m-8 105h0m1 30h0m3 -41h0m7 -14h0m-4 13h0m1 -17h0m-7 37h0m-3 11h0m8 -116h0m0 38h0m3 -111h0m-4 179h0m0 5h0m10 -43h0m-15 -18h0m0 44h0m10 -12h0m6 20h0m-4 -11h0m-5 -21h0m2 -29h0m-7 47h0m3 -86h0m0 -17h0m-3 55h0m-18 21h0m8 -36h0m-5 68h0m1 -5h0m-4 -76h0m5 75h0m-1 -4h0m3 -48h0m4 59h0m-4 7h0m-3 -65h0m-5 49h0m4 -56h0m8 79h0m-9 -77h0m7 62h0m-5 10h0m1 14h0m4 -17h0m-8 -13h0m5 -38h0m-1 57h0m4 -45h0m3 47h0m-5 -27h0m-1 28h0m1 -51h0m-5 8h0m-1 -19h0m1 24h0m-4 14h0m6 -41h0m0 -13h0m2 40h0m1 21h0m5 -33h0m-5 -6h0m-7 22h0m4 -58h0m3 79h0m4 2h0m-2 -60h0m-1 -5h0m3 31h0m-3 8h0m2 36h0m-2 -87h0m4 13h0m-7 11h0m20 -176h0m4 13h0m-11 5h0m-16 34h0m-4 60h0m2 4h0m5 13h0m7 4h0m-25 53h0m4 0h0m11 5h0m0 13h0m-2 25h0m-4 0h0m26 -237h0m2 0h0m3 0h0m-2 0h0" stroke="#3653a8" stroke-width="3.3" stroke-linecap="round" fill="none"/>
<path d="M262 1727h0m-8 -5h0m11 9h0m-8 3h0m-6 0h0m-2 3h0m27 0h0m-25 3h0m30 -9h0m-36 4h0m26 5h0m-35 -27h0m18 26h0m9 1h0m8 -14h0m-25 -20h0m3 12h0m25 17h0m7 6h0m-44 -6h0m53 4h0m-12 -12h0m-9 4h0m-30 3h0m35 2h0m-39 -28h0m11 25h0m6 -27h0m1 22h0m3 11h0m11 -9h0m-19 6h0m22 4h0m-33 0h0m23 -19h0m-28 -4h0m56 16h0m-24 2h0m-6 -7h0m13 6h0m-3 -13h0m-13 3h0m23 10h0m-40 -5h0m5 -6h0m1 -11h0m17 23h0m6 -16h0m2 14h0m-30 -20h0m31 18h0m-33 -6h0m14 -14h0m37 28h0m-38 -23h0m16 20h0m-10 4h0m35 -2h0m-23 1h0m-23 -32h0m28 24h0m-29 -28h0m-3 20h0m4 16h0m18 -6h0m-11 -14h0m27 19h0m-38 -11h0m12 9h0m29 -7h0m-40 -16h0m5 12h0m21 -9h0m12 22h0m-25 1h0m23 0h0m-37 -11h0m20 10h0m12 -4h0m-6 -1h0m-21 6h0m17 -3h0m6 -23h0m-37 7h0m26 20h0m-4 -24h0m-12 14h0m12 -11h0m-5 14h0m2 5h0m0 3h0m35 -3h0m1 -1h0m-43 -5h0m7 -22h0m10 27h0m11 -16h0m-34 6h0m10 11h0m-16 -9h0m6 -5h0m24 -14h0m-9 24h0m-19 2h0m13 1h0m-10 -31h0m28 22h0m3 -10h0m-13 -11h0m-18 20h0m13 -9h0m-7 -9h0m8 27h0m23 -7h0m-12 -15h0m0 18h0m-27 -3h0m54 8h0m-29 -2h0m-7 -27h0m3 0h0m6 27h0m-23 -2h0m2 0h0m35 -2h0m-29 5h0m9 -5h0m16 6h0m-4 -13h0m-30 4h0m4 -3h0m24 -2h0m-26 -2h0m-3 -5h0m21 22h0m-10 3h0m-11 -21h0m1 14h0m3 -26h0m25 18h0m12 9h0m-22 2h0m4 -9h0m-18 8h0m-8 1h0m12 -38h0m5 30h0m-1 4h0m-11 5h0m36 2h0m-39 -10h0m4 -14h0m4 15h0m26 3h0m0 1h0m-5 4h0m-17 -11h0m16 4h0m10 0h0m-11 0h0m-8 -7h0m-7 -5h0m14 17h0m-4 0h0m-19 -15h0m44 11h0m-42 7h0m7 -32h0m35 30h0m-40 -35h0m27 35h0m-35 0h0m2 -34h0m10 9h0m-4 20h0m26 8h0m-33 -2h0m26 1h0m-26 -33h0m8 15h0m30 15h0m-39 -21h0m8 2h0m25 22h0m-10 -10h0m-21 3h0m28 -12h0m-3 -6h0m-2 18h0m12 -3h0m-8 -7h0m12 9h0m-39 -13h0m36 1h0m-24 -5h0m23 24h0m-24 -14h0m24 2h0m-18 5h0m16 -12h0m-4 9h0m-9 -8h0m12 -5h0m-19 4h0m11 11h0m16 5h0m-26 -29h0m23 15h0m-24 -21h0m1 20h0m12 18h0m-10 -14h0m28 14h0m-35 -1h0m8 -26h0m-15 -13h0m59 38h0m-52 -5h0m30 -12h0m-2 20h0m-38 -18h0m19 5h0m6 -13h0m-13 18h0m-7 0h0m5 -10h0m26 2h0m-16 -1h0m-14 -8h0m50 25h0m-38 -16h0m8 17h0m-16 -23h0m0 18h0m14 3h0m19 -8h0m-34 2h0m13 3h0m-24 -10h0m22 15h0m26 -5h0m-24 -11h0m-18 12h0m32 -4h0m-24 -7h0m0 -8h0m5 17h0m-15 -3h0m3 -17h0m-4 6h0m-3 2h0m15 -23h0m11 37h0m2 -20h0m18 13h0m-35 4h0m-10 0h0m15 -6h0m14 -17h0m-22 13h0m13 -7h0m-1 23h0m9 -18h0m-7 7h0m5 -8h0m7 12h0m-16 -1h0m-8 -2h0m-4 9h0m58 1h0m-18 -8h0m-34 -21h0m-11 15h0m44 14h0m-31 -36h0m-1 24h0m3 7h0m17 -18h0m-14 20h0m2 -18h0m-9 2h0m11 6h0m-7 9h0m18 -9h0m-21 11h0m17 -21h0m-14 4h0m30 19h0m-14 1h0m-12 -7h0m-17 4h0m10 -33h0m-11 30h0m19 -19h0m-3 15h0m24 -10h0m-36 15h0m8 -7h0m5 10h0m12 -20h0m-30 18h0m23 -6h0m17 -8h0m-20 15h0m-22 -2h0m57 5h0m-38 -12h0m13 -17h0m-5 -6h0m-5 7h0m-12 26h0m13 -9h0m9 -4h0m11 9h0m-37 -4h0m20 3h0m3 -1h0m23 2h0m-31 -4h0m-8 3h0m11 -19h0m-17 18h0m3 7h0m39 -3h0m-35 3h0m14 -30h0m21 23h0m-34 -10h0m29 14h0m-29 -6h0m20 -1h0m-1 5h0m-11 -20h0m-8 19h0m-3 -12h0m19 -2h0m0 20h0m-18 -10h0m6 -25h0m2 32h0m-5 -2h0m0 -21h0m3 -13h0m-20 33h0m53 -1h0m-37 -28h0m1 24h0m44 10h0m-29 -8h0m-6 -4h0m-2 8h0m21 -6h0m-24 11h0m-17 -15h0m17 -2h0m4 5h0m-13 -4h0m-12 11h0m37 -11h0m-26 12h0m14 3h0m25 -4h0m-33 4h0m6 -35h0m35 34h0m-15 -12h0m-16 -17h0m5 17h0m-19 -11h0m13 0h0m-11 6h0m12 16h0m-18 -11h0m18 6h0m-9 -30h0m-1 22h0m16 9h0m-19 -16h0m9 19h0m-17 -1h0m12 4h0m-7 -18h0m4 -11h0m9 6h0m-5 19h0m-10 -28h0m4 25h0m4 -4h0m-11 -9h0m41 22h0m-40 -1h0m-4 -20h0m48 20h0m-23 -15h0m-10 5h0m30 3h0m-22 -4h0m-25 -5h0m2 1h0m26 4h0m-18 -27h0m15 30h0m-16 3h0m-2 -35h0m8 22h0m2 12h0m4 1h0m43 3h0m-57 -31h0m16 25h0m15 7h0m-15 -6h0m37 4h0m-52 -18h0m42 20h0m-13 -6h0m-34 4h0m33 -7h0m-9 10h0m13 -13h0m-7 1h0m-30 4h0m21 6h0m-1 -16h0m5 17h0m-16 -34h0m21 25h0m-14 -4h0m-2 -2h0m-10 10h0m5 -34h0m-10 41h0m34 -2h0m-20 -5h0m23 -5h0m-7 5h0m-17 5h0m-11 -13h0m25 8h0m-12 6h0m23 -1h0m-15 0h0m-10 -26h0m4 9h0m7 -18h0m-8 -3h0m-18 10h0m34 27h0m-18 -16h0m-8 -8h0m47 22h0m-55 2h0m36 2h0m0 -6h0m-14 0h0m8 -20h0m-20 15h0m-5 7h0m6 3h0m14 -6h0m1 -9h0m-25 10h0m32 5h0m10 -17h0m-31 -5h0m4 24h0m-16 -22h0m37 17h0m0 5h0m-6 -19h0m-27 -19h0m33 24h0m-27 8h0m27 -19h0m-24 19h0m-3 -19h0m15 -2h0m-19 15h0m31 1h0m-19 -2h0m-2 -11h0m4 4h0m-10 9h0m50 4h0m-16 5h0m-33 -6h0m37 4h0m-45 -1h0m14 -14h0m-8 11h0m10 7h0m-18 -10h0m33 -8h0m-8 18h0m-25 -12h0m28 -3h0m1 -15h0m-16 7h0m18 7h0m-22 4h0m6 -9h0m25 14h0m-18 -13h0m-17 4h0m53 14h0m-23 -11h0m8 13h0m-12 -2h0m-32 -7h0m36 1h0m2 -2h0m-16 5h0m4 -6h0m-23 -3h0m31 -3h0m-28 -8h0m38 12h0m-11 10h0m-14 -1h0m3 -6h0m13 6h0m-19 -9h0m-17 1h0m25 -20h0m6 23h0m-11 6h0m-3 -14h0m-4 14h0m-6 0h0m0 -23h0m17 14h0m-12 13h0m-4 -18h0m2 -11h0m16 7h0m-25 15h0m8 -29h0m18 13h0m14 20h0m-16 -21h0m2 8h0m-6 -13h0m-10 -4h0m-3 -9h0m-2 27h0m40 0h0m-25 -4h0m17 -1h0m-33 -4h0m23 13h0m-13 9h0m9 -5h0m1 -25h0m-18 9h0m52 21h0m-14 -6h0m-45 3h0m18 -7h0m21 -12h0m-9 -9h0m-16 -8h0m-4 29h0m5 -6h0m-2 7h0m25 9h0m-8 -8h0m2 5h0m4 -13h0m-13 17h0m-7 -25h0m16 9h0m-5 -1h0m18 3h0m-44 14h0m38 -12h0m-19 -12h0m6 19h0m-9 -4h0m4 7h0m5 3h0m-2 -17h0m-9 -25h0m3 33h0m-13 -1h0m36 6h0m-2 -4h0m1 -7h0m-36 -24h0m40 34h0m-19 4h0m14 -8h0m-27 6h0m5 -32h0m0 26h0m8 -2h0m18 6h0m-14 -23h0m-22 17h0m-4 -19h0m6 19h0m-1 8h0m24 -4h0m16 -3h0m-40 -3h0m7 -12h0m3 11h0m-10 4h0m39 4h0m-41 2h0m48 -2h0m-34 -2h0m16 5h0m-29 -10h0m3 9h0m23 -2h0m-8 -23h0m4 28h0m0 -34h0m-1 25h0m-22 -19h0m3 -3h0m15 4h0m1 -6h0m-7 31h0m25 1h0m-43 -1h0m16 -17h0m-1 12h0m13 -22h0m25 23h0m-47 -11h0m33 14h0m10 3h0m-35 -9h0m-6 -5h0m20 1h0m-7 -10h0m-15 23h0m23 -23h0m29 18h0m-49 -1h0m29 -2h0m19 9h0m-34 -20h0m-11 15h0m17 -2h0m36 6h0m-30 -20h0m13 21h0m-46 -9h0m35 -14h0m2 20h0m-21 -7h0m7 -12h0m-15 12h0m13 1h0m0 -17h0m-2 18h0m-15 5h0m14 -3h0m-5 -9h0m-3 -27h0m3 35h0m8 7h0m0 -27h0m23 24h0m-30 -5h0m-4 -29h0m31 31h0m-16 -15h0m-25 -7h0m25 1h0m-25 26h0m16 -23h0m-14 7h0m22 10h0m-15 -27h0m-1 4h0m19 21h0m14 -2h0m-31 5h0m28 5h0m20 1h0m-51 -21h0m48 13h0m-11 -3h0m-26 0h0m11 -7h0m-26 9h0m38 0h0m9 2h0m-44 -7h0m41 5h0m-28 -13h0m0 13h0m35 2h0m-15 7h0m-19 -5h0m1 -14h0m2 15h0m-15 -35h0m20 26h0m-16 -2h0m13 -11h0m39 24h0m-11 1h0m-39 -33h0m24 29h0m-22 -10h0m1 4h0m27 7h0m-30 -13h0m11 12h0m4 -27h0m21 32h0m-20 -29h0m-1 7h0m-28 8h0m0 5h0m-3 -2h0m37 -4h0m-8 -10h0m2 22h0m-28 2h0m36 -11h0m11 11h0m3 1h0m-8 -7h0m14 0h0m-27 -25h0m-15 29h0m-15 -14h0m20 -21h0m-22 36h0m15 -19h0m12 6h0m-24 5h0m-3 -8h0m41 17h0m21 0h0m-47 -22h0m21 10h0m-14 -17h0m2 -7h0m33 30h0m-35 -8h0m30 13h0m-2 -11h0m-35 -1h0m12 -17h0m-1 7h0m-21 17h0m10 -15h0m6 5h0m2 -18h0m0 3h0m-8 22h0m-13 7h0m23 -22h0m-1 2h0m32 19h0m-46 -11h0m-3 0h0m19 -14h0m22 23h0m4 2h0m-26 -15h0m-13 -2h0m20 3h0m-16 -18h0m5 -1h0m40 30h0m-29 -5h0m7 5h0m2 5h0m-6 -7h0m-16 7h0m-7 -36h0m11 35h0m14 -15h0m11 3h0m-38 -6h0m21 19h0m-21 -2h0m-11 3h0m35 0h0m-28 -34h0m21 17h0m-24 10h0m0 -10h0m18 -14h0m6 25h0m17 4h0m-39 -25h0m35 12h0m-32 -24h0m13 37h0m-8 -10h0m38 12h0m-21 -22h0m-8 19h0m-12 -10h0m9 -10h0m27 13h0m-18 -21h0m5 13h0m-30 12h0m23 -15h0m13 22h0m-31 -17h0m16 -18h0m8 24h0m-5 2h0m-7 -3h0m22 -1h0m-35 7h0m23 -6h0m25 9h0m-33 -5h0m-23 -25h0m14 7h0m14 0h0m-27 14h0m14 -26h0m-1 -1h0m-3 30h0m-4 -13h0m18 12h0m-17 -7h0m-8 7h0m20 10h0m-1 -23h0m17 -1h0m8 23h0m-34 -35h0m15 27h0m-23 -7h0m23 -20h0m-23 26h0m45 8h0m-25 -16h0m6 -13h0m12 28h0m-35 1h0m8 1h0m31 1h0m-18 -23h0m3 1h0m-4 16h0m-19 4h0m42 -5h0m-45 -15h0m34 -5h0m30 22h0m-61 -18h0m-6 14h0m1 3h0m5 -26h0m38 20h0m-37 -6h0m3 11h0m18 -12h0m-15 9h0m16 -20h0m-25 18h0m16 9h0m12 0h0m9 -12h0m-19 7h0m7 -5h0m18 0h0m-35 -5h0m-4 6h0m3 -3h0m19 12h0m23 1h0m7 0h0m-48 -34h0m3 1h0m19 15h0m16 11h0m-1 6h0m-19 1h0m-27 -4h0m2 -24h0m16 -2h0m1 18h0m-9 -2h0m-4 11h0m32 -3h0m8 3h0m-22 -23h0m6 19h0m32 5h0m-38 -30h0m7 33h0m-31 -170h0m22 33h0m17 -7h0m-17 44h0m-9 14h0m-14 -1h0m21 8h0m26 4h0m-7 9h0m-6 8h0m-24 -29h0m-7 8h0m-5 10h0m16 8h0m-7 5h0m16 6h0m33 24h0m11 5h0m11 2h0m11 2h0m-15 5h0m-11 -2h0m75 -12h0m-29 20h0m-108 -264h0m13 0h0m42 0h0m-51 198h0m2 1h0m-7 31h0m38 -4h0m-22 -23h0m18 8h0m-25 13h0m12 9h0m19 -28h0m1 12h0m-34 -4h0m25 -4h0m-31 -12h0m37 20h0m-15 -7h0m-21 -6h0m-3 9h0m27 8h0m17 -26h0m-3 33h0m-18 -17h0m-6 -6h0m0 6h0m14 8h0m-18 -12h0m21 -1h0m-27 18h0m4 -4h0m1 -21h0m7 12h0m27 10h0m-20 12h0m-3 -9h0m-8 -5h0m27 13h0m-15 -12h0m-7 4h0m-17 10h0m35 -13h0m-32 -24h0m34 15h0m-18 -2h0m-18 9h0m9 5h0m-14 9h0" stroke="#e32226" stroke-width="3.3" stroke-linecap="round" fill="none"/>
<path d="M94.9 1758.5V1467.9H385.7V1758.5" fill="none" stroke="#9a9a9a" stroke-width="1.1"/>
<line x1="94.9" y1="1467.4" x2="94.9" y2="1759.9" stroke="#000" stroke-width="2.8"/>
<line x1="93.5" y1="1758.5" x2="386.7" y2="1758.5" stroke="#000" stroke-width="2.8"/>
<line x1="91.4" y1="1744.2" x2="94.9" y2="1744.2" stroke="#333" stroke-width="1"/>
<text x="86.9" y="1753" font-size="25.5" text-anchor="end">0</text>
<line x1="91.4" y1="1661" x2="94.9" y2="1661" stroke="#333" stroke-width="1"/>
<text x="86.9" y="1669.8" font-size="25.5" text-anchor="end">100</text>
<line x1="91.4" y1="1577.9" x2="94.9" y2="1577.9" stroke="#333" stroke-width="1"/>
<text x="86.9" y="1586.7" font-size="25.5" text-anchor="end">200</text>
<line x1="91.4" y1="1494.7" x2="94.9" y2="1494.7" stroke="#333" stroke-width="1"/>
<text x="86.9" y="1503.5" font-size="25.5" text-anchor="end">300</text>
<text x="147.7" y="1786.5" font-size="25.5" text-anchor="middle">-4</text>
<text x="220.7" y="1786.5" font-size="25.5" text-anchor="middle">0</text>
<text x="293.7" y="1786.5" font-size="25.5" text-anchor="middle">4</text>
<text x="366.6" y="1786.5" font-size="25.5" text-anchor="middle">8</text>
<text x="242.9" y="1455.2" font-size="27" text-anchor="middle">ST</text>
<text x="250.5" y="1828.7" font-size="28.3" text-anchor="middle">log<tspan font-size="17.5" dy="10.2">2</tspan><tspan dy="-10.2">(Fold Change)</tspan></text>
<text transform="translate(29 1630.5) rotate(-90)" font-size="28.3" text-anchor="middle">-log<tspan font-size="17.5" dy="9.5">10</tspan><tspan dy="-9.5">(padj)</tspan></text>
<rect x="471.4" y="1467.9" width="291.2" height="289.5" fill="#fff"/>
<line x1="490.1" y1="1467.9" x2="490.1" y2="1757.4" stroke="#f4f4f4" stroke-width="1"/>
<line x1="523.2" y1="1467.9" x2="523.2" y2="1757.4" stroke="#f4f4f4" stroke-width="1"/>
<line x1="556.3" y1="1467.9" x2="556.3" y2="1757.4" stroke="#f4f4f4" stroke-width="1"/>
<line x1="589.4" y1="1467.9" x2="589.4" y2="1757.4" stroke="#f4f4f4" stroke-width="1"/>
<line x1="622.5" y1="1467.9" x2="622.5" y2="1757.4" stroke="#f4f4f4" stroke-width="1"/>
<line x1="655.7" y1="1467.9" x2="655.7" y2="1757.4" stroke="#f4f4f4" stroke-width="1"/>
<line x1="688.8" y1="1467.9" x2="688.8" y2="1757.4" stroke="#f4f4f4" stroke-width="1"/>
<line x1="721.9" y1="1467.9" x2="721.9" y2="1757.4" stroke="#f4f4f4" stroke-width="1"/>
<line x1="755" y1="1467.9" x2="755" y2="1757.4" stroke="#f4f4f4" stroke-width="1"/>
<line x1="471.4" y1="1745.7" x2="762.6" y2="1745.7" stroke="#f4f4f4" stroke-width="1"/>
<line x1="471.4" y1="1680.9" x2="762.6" y2="1680.9" stroke="#f4f4f4" stroke-width="1"/>
<line x1="471.4" y1="1616.2" x2="762.6" y2="1616.2" stroke="#f4f4f4" stroke-width="1"/>
<line x1="471.4" y1="1551.4" x2="762.6" y2="1551.4" stroke="#f4f4f4" stroke-width="1"/>
<line x1="471.4" y1="1486.6" x2="762.6" y2="1486.6" stroke="#f4f4f4" stroke-width="1"/>
<path d="M676 1743h0m-10 -16h0m-76 -1h0m-19 -12h0m-9 11h0m120 20h0m-119 -27h0m29 26h0m-36 -11h0m21 -9h0m22 12h0m-17 2h0m38 6h0m74 -6h0m-126 7h0m97 -12h0m-11 4h0m-72 -17h0m-10 22h0m101 -4h0m23 -4h0m-26 -1h0m-40 12h0m-71 -2h0m105 -10h0m-105 -1h0m30 -3h0m-1 9h0m61 6h0m-5 -4h0m63 -1h0m-110 -11h0m46 9h0m-32 -5h0m-8 10h0m-48 -6h0m21 -19h0m3 23h0m85 -6h0m-102 -1h0m73 12h0m-56 -15h0m100 14h0m-102 -13h0m14 12h0m2 -16h0m6 1h0m80 8h0m-123 8h0m75 -3h0m-70 -11h0m117 13h0m-128 -2h0m20 3h0m78 -12h0m9 14h0m-65 -21h0m104 11h0m-43 0h0m46 -2h0m-109 -17h0m63 26h0m-65 -12h0m-21 5h0m10 -7h0m6 -9h0m-10 20h0m9 -7h0m-5 0h0m9 -4h0m-20 8h0m100 5h0m-82 -25h0m-21 17h0m144 11h0m-60 -5h0m33 0h0m-117 -17h0m46 8h0m-28 -10h0m100 22h0m-88 -21h0m43 23h0m-55 -9h0m81 -9h0m-105 8h0m61 9h0m-53 -1h0m70 1h0m46 -16h0m-73 3h0m90 11h0m-108 -7h0m-42 7h0m31 -18h0m73 7h0m1 6h0m9 5h0m-115 0h0m43 -26h0m-38 11h0m17 3h0m128 12h0m-93 -6h0m-14 0h0m-23 -3h0m28 7h0m-36 -10h0m127 8h0m-14 5h0m-77 -18h0m67 5h0m15 6h0m-5 6h0m-102 -8h0m72 4h0m-60 7h0m115 1h0m-127 -9h0m108 -6h0m-45 14h0m30 -2h0m-49 0h0m-40 -23h0m78 25h0m-64 -31h0m23 28h0m67 -3h0m8 5h0m-119 1h0m12 -3h0m-11 2h0m60 2h0m-39 -21h0m68 16h0m-4 4h0m-73 -7h0m77 -10h0m-89 1h0m5 -3h0m13 9h0m6 -9h0m79 13h0m-108 -14h0m29 -4h0m-15 15h0m83 7h0m-95 -20h0m103 22h0m5 -2h0m-117 -5h0m141 2h0m-53 -6h0m-73 1h0m100 0h0m-102 2h0m-20 -3h0m72 10h0m-35 -22h0m-16 11h0m113 6h0m-83 -13h0m-19 -3h0m-22 11h0m2 7h0m-11 -10h0m45 5h0m75 1h0m-101 4h0m135 2h0m-99 0h0m49 0h0m-44 -10h0m-22 2h0m-28 8h0m99 -7h0m-86 -2h0m-2 -2h0m93 11h0m-85 -12h0m73 7h0m42 5h0m6 0h0m-148 -2h0m111 -3h0m-78 -19h0m-34 16h0m97 1h0m-56 9h0m-20 -18h0m24 6h0m-33 5h0m54 7h0m-52 -27h0m120 20h0m-116 -16h0m48 21h0m-7 -12h0m-42 -11h0m101 16h0m-29 4h0m-53 2h0m-21 2h0m32 -19h0m76 20h0m-11 -9h0m-117 -3h0m117 -2h0m-90 -14h0m-13 14h0m39 13h0m-55 -8h0m105 1h0m-2 2h0m43 3h0m-96 -4h0m63 -9h0m-18 8h0m-16 8h0m22 -3h0m-57 -23h0m3 19h0m-16 -6h0m20 10h0m-40 -8h0m64 10h0m-47 -26h0m5 20h0m14 -12h0m82 9h0m-31 4h0m-59 -16h0m108 17h0m-28 -7h0m26 10h0m-51 -6h0m46 9h0m9 -3h0m-94 0h0m-30 -17h0m25 9h0m-8 2h0m65 -3h0m13 6h0m-100 1h0m-8 -17h0m22 -7h0m21 25h0m55 -13h0m-50 12h0m-26 -8h0m12 8h0m85 -15h0m17 5h0m-130 5h0m-6 6h0m38 0h0m51 -2h0m-13 4h0m7 -4h0m16 0h0m-62 5h0m4 -16h0m5 4h0m84 10h0m-8 -1h0m-22 -2h0m-7 2h0m3 -13h0m-70 7h0m2 9h0m110 -12h0m-40 11h0m37 -11h0m-124 7h0m-3 -21h0m-4 1h0m-17 21h0m8 -17h0m15 0h0m104 16h0m10 -7h0m-1 -4h0m-120 2h0m94 7h0m-54 -8h0m65 15h0m-93 -17h0m20 14h0m-13 -8h0m6 10h0m1 -20h0m0 4h0m83 7h0m-19 3h0m-53 2h0m-41 2h0m82 0h0m-4 -1h0m-34 -1h0m60 -10h0m-59 -3h0m64 3h0m-92 -9h0m17 24h0m3 -5h0m64 -7h0m-96 -6h0m11 13h0m16 -17h0m2 -5h0m50 20h0m29 0h0m-113 3h0m40 2h0m-11 -4h0m-7 3h0m78 -4h0m-96 7h0m86 -9h0m-69 -7h0m12 -2h0m83 4h0m-38 9h0m-40 -15h0m-4 12h0m-21 -5h0m-7 10h0m107 -10h0m-24 4h0m-64 7h0m82 -6h0m24 8h0m-4 -6h0m-104 -20h0m83 27h0m-52 -1h0m70 -6h0m-104 1h0m101 5h0m-85 -12h0m-13 -2h0m77 13h0m-76 -24h0m15 25h0m-18 -14h0m92 6h0m-31 8h0m34 -4h0m-7 3h0m-58 1h0m-11 -8h0m78 -7h0m-16 0h0m-98 11h0m39 -1h0m-18 -21h0m-12 20h0m15 -12h0m70 3h0m-80 -14h0m100 23h0m-13 3h0m24 1h0m-17 2h0m-102 1h0m-7 -8h0m142 2h0m-19 -4h0m-113 -2h0m107 7h0m-16 -9h0m32 -3h0m-12 9h0m-89 8h0m-38 -23h0m109 8h0m-89 -2h0m2 11h0m16 5h0m69 -10h0m-50 1h0m64 -8h0m-86 5h0m-5 7h0m92 6h0m19 -1h0m-103 -2h0m51 2h0m-66 -1h0m43 1h0m-3 -4h0m31 -4h0m22 -10h0m-29 12h0m-73 -6h0m104 13h0m-87 -10h0m-38 4h0m55 -5h0m101 5h0m-76 4h0m-35 -19h0m90 13h0m-76 1h0m-34 -4h0m85 8h0m-85 -7h0m25 -8h0m-14 13h0m115 4h0m-100 -28h0m-2 23h0m91 -11h0m-138 -1h0m29 2h0m12 10h0m53 2h0m20 -3h0m35 1h0m-132 -10h0m4 -3h0m129 6h0m-52 11h0m-42 -11h0m29 9h0m-55 -25h0m83 19h0m-81 -8h0m100 13h0m-19 -2h0m17 -5h0m-134 6h0m155 0h0m-115 -2h0m-19 -1h0m77 -1h0m-50 -20h0m-45 24h0m6 -8h0m48 9h0m61 -5h0m20 8h0m-15 -16h0m21 -2h0m-58 18h0m-15 -6h0m68 3h0m4 -9h0m-60 13h0m-59 -1h0m126 -6h0m-16 8h0m-85 -9h0m77 -7h0m-101 7h0m95 2h0m-19 -4h0m-41 0h0m-37 10h0m4 -20h0m81 6h0m-82 -13h0m104 9h0m-95 -4h0m13 17h0m-19 3h0m126 -6h0m-111 4h0m-12 -28h0m95 23h0m-11 8h0m-108 -16h0m-3 16h0m112 -9h0m-113 -3h0m19 14h0m7 -14h0m32 -4h0m82 13h0m-37 4h0m-77 -23h0m74 19h0m19 -12h0m3 0h0m5 3h0m2 14h0m-122 -11h0m30 -7h0m82 12h0m-104 -22h0m52 24h0m-34 -25h0m-37 14h0m154 7h0m-104 2h0m-4 -25h0m92 12h0m-123 -5h0m23 0h0m69 21h0m45 -4h0m-57 6h0m10 0h0m-61 -16h0m67 3h0m-79 -12h0m-1 19h0m-5 -19h0m-13 19h0m103 -1h0m-95 -10h0m77 12h0m24 -8h0m5 9h0m-99 -19h0m69 21h0m-66 -17h0m-6 5h0m12 -18h0m81 31h0m42 0h0m-88 -2h0m-27 2h0m-16 -9h0m53 10h0m-44 -2h0m-17 -11h0m14 12h0m63 -10h0m6 9h0m-84 -7h0m4 6h0m-13 1h0m117 -14h0m-103 -8h0m-10 12h0m11 -1h0m106 6h0m-79 -18h0m49 19h0m34 1h0m-6 5h0m-95 -27h0m93 15h0m-78 -9h0m86 22h0m-19 -9h0m-74 -17h0m102 12h0m-2 -5h0m-13 6h0m-30 8h0m-24 5h0m7 -2h0m-20 -18h0m-37 8h0m-5 -1h0m84 8h0m-65 -2h0m74 -2h0m19 7h0m18 -7h0m-96 -2h0m-20 10h0m66 -6h0m-53 5h0m33 1h0m-32 -11h0m-14 -8h0m8 -7h0m72 21h0m-23 1h0m20 -6h0m13 8h0m-11 -12h0m-93 -14h0m0 9h0m56 20h0m-34 -25h0m-28 6h0m15 8h0m34 9h0m-34 -7h0m22 -11h0m79 2h0m-104 10h0m97 2h0m-123 5h0m0 -5h0m116 6h0m25 -4h0m-105 -17h0m101 5h0m14 3h0m-42 -4h0m-70 6h0m-14 -20h0m-10 20h0m56 5h0m57 1h0m-38 0h0m-37 -8h0m-24 5h0m-15 4h0m31 1h0m69 -8h0m0 3h0m-60 0h0m3 1h0m68 -13h0m-91 -2h0m-13 21h0m34 -7h0m78 4h0m-71 -2h0m-1 -1h0m-11 -2h0m50 6h0m-53 2h0m-43 0h0m121 -4h0m-97 -5h0m5 -11h0m-16 9h0m121 0h0m-19 10h0m-112 -18h0m12 -6h0m126 25h0m-50 -4h0m-54 0h0m21 -6h0m77 7h0m-46 -2h0m-80 2h0m97 -2h0m6 -9h0m-77 2h0m69 7h0m-92 -5h0m28 -3h0m-38 2h0m86 7h0m-64 -24h0m112 23h0m-90 -4h0m63 2h0m26 -4h0m-97 6h0m-25 -12h0m123 17h0m-4 -17h0m-90 5h0m72 7h0m-89 -12h0m-20 9h0m10 4h0m41 3h0m1 -17h0m-9 18h0m6 -1h0m-6 -25h0m-18 16h0m-11 6h0m28 -6h0m-8 3h0m92 7h0m-99 -13h0m-13 -10h0m92 21h0m-94 -12h0m31 -2h0m-14 10h0m2 -19h0m77 12h0m-109 2h0m113 2h0m7 9h0m27 -1h0m-80 -2h0m54 -5h0m26 9h0m-143 -1h0m13 -28h0m81 15h0m-85 -10h0m37 2h0m6 8h0m24 13h0m-67 -19h0m62 20h0m19 -1h0m-47 -21h0m66 14h0m-59 -10h0m42 5h0m54 8h0m-29 0h0m17 -8h0m-2 8h0m-133 -6h0m28 -5h0m81 11h0m29 -5h0m-130 3h0m49 3h0m-34 1h0m-23 -5h0m82 6h0m24 -9h0m-84 -8h0m-7 16h0m11 -12h0m15 7h0m-2 -9h0m71 6h0m-92 -16h0m73 24h0m-79 -23h0m44 15h0m-8 8h0m-49 -7h0m1 -5h0m12 6h0m103 7h0m-15 1h0m-17 -3h0m40 -7h0m11 6h0m-75 -5h0m-12 -9h0m-15 -12h0m14 17h0m95 11h0m-141 -6h0m93 0h0m-45 8h0m-19 -13h0m-13 5h0m37 -4h0m-28 -17h0m-7 7h0m-3 17h0m88 -1h0m-36 6h0m28 -7h0m-92 3h0m36 2h0m74 -2h0m-91 -21h0m90 15h0m-84 9h0m-31 -7h0m35 0h0m5 -15h0m24 19h0m-25 -14h0m-11 19h0m-3 0h0m-4 0h0m-3 -1h0m-6 0h0m-2 0h0m-3 -1h0m-4 0h0m-2 -1h0m-4 0h0m-3 -1h0m-4 0h0m-2 -1h0m-4 0h0m-3 -1h0m-3 -1h0m-3 -1h0m-4 0h0m-2 -1h0m-4 -1h0m-3 -1h0m-2 -1h0m-4 -1h0m-3 -1h0m-4 -1h0m-3 -1h0m-2 -1h0m78 16h0m-3 0h0m-10 -1h0m-5 -1h0m-4 0h0m-3 -1h0m-4 -1h0m-6 -1h0m-2 -1h0m-4 -1h0m-3 -1h0m-4 -1h0m-3 -1h0m-2 -1h0m-4 -1h0m-3 -1h0m-3 -2h0m-4 -1h0m-2 -1h0m-3 -1h0m-4 -2h0m-3 -1h0m83 22h0m-13 -2h0m-13 -2h0m-3 -1h0m-6 -2h0m-4 -1h0m-2 -1h0m-4 -1h0m-3 -1h0m-3 -1h0m-3 -1h0m-4 -2h0m-3 -1h0m-3 -2h0m-2 -1h0m-5 -2h0m-2 -1h0m-3 -2h0m-3 -2h0m-3 -2h0m80 28h0m-18 -3h0m-10 -3h0m-2 -1h0m-4 -1h0m-2 -1h0m-4 -1h0m-3 -2h0m-3 -1h0m-3 -1h0m-3 -2h0m-4 -2h0m-3 -1h0m-2 -2h0m-4 -2h0m-2 -2h0m-4 -2h0m-4 -1h0m-3 -3h0m-3 -2h0m68 31h0m-7 -3h0m-4 -1h0m-4 -1h0m-2 -1h0m-3 -1h0m-4 -1h0m-3 -2h0m-3 -1h0m-3 -2h0m-3 -2h0m-4 -1h0m-3 -2h0m-2 -2h0m-3 -2h0m-4 -2h0m-3 -2h0m-3 -3h0m-3 -2h0m-3 -2h0m-4 -3h0m78 37h0m-9 -1h0m-2 -1h0m-3 -1h0m-10 -3h0m-3 -2h0m-3 -1h0m-4 -2h0m-2 -1h0m-3 -2h0m-5 -2h0m-2 -2h0m-3 -2h0m-4 -2h0m-3 -2h0m-2 -2h0m-3 -3h0m-4 -2h0m-3 -3h0m-3 -3h0m-3 -2h0m-3 -3h0m177 43h0m2 0h0m3 -1h0m3 0h0m6 0h0m3 -1h0m3 0h0m2 0h0m3 -1h0m3 0h0m2 -1h0m3 0h0m2 -1h0m3 -1h0m4 0h0m2 -1h0m3 -1h0m2 -1h0m3 0h0m3 -1h0m2 -1h0m3 -1h0m3 -1h0m3 -1h0m2 -1h0m4 -1h0m-73 16h0m15 -2h0m2 0h0m3 0h0m3 -1h0m5 -1h0m3 -1h0m3 -1h0m3 0h0m3 -1h0m2 -1h0m3 -1h0m2 -1h0m4 -1h0m2 -1h0m3 -1h0m2 -1h0m3 -1h0m3 -1h0m3 -1h0m3 -1h0m2 -2h0m-52 17h0m3 -1h0m5 -1h0m3 -1h0m3 -1h0m3 0h0m2 -1h0m4 -1h0m2 -1h0m3 -2h0m3 -1h0m2 -1h0m4 -1h0m2 -1h0m2 -2h0m2 -1h0m3 -2h0m4 -1h0m3 -2h0m-61 22h0m10 -2h0m4 -1h0m4 -2h0m4 -1h0m3 -1h0m3 -1h0m2 -1h0m3 -1h0m3 -1h0m3 -2h0m2 -1h0m3 -2h0m3 -1h0m2 -2h0m4 -1h0m1 -2h0m3 -2h0m4 -2h0m-74 28h0m4 -1h0m15 -2h0m2 -1h0m3 -1h0m6 -2h0m2 -1h0m3 -1h0m3 -1h0m3 -2h0m2 -1h0m3 -1h0m3 -2h0m3 -2h0m2 -1h0m3 -2h0m2 -2h0m3 -2h0m3 -2h0m3 -1h0m3 -3h0m2 -2h0m-59 31h0m3 -1h0m4 -2h0m3 -1h0m2 -1h0m3 -1h0m3 -1h0m3 -1h0m3 -2h0m2 -1h0m3 -2h0m3 -2h0m3 -1h0m3 -2h0m2 -2h0m3 -2h0m3 -2h0m2 -2h0m3 -3h0m3 -2h0m3 -2h0m2 -3h0m-259 -24h0m24 -4h0m-6 9h0m-8 10h0m35 1h0m8 7h0m8 6h0" stroke="#bcbcbc" stroke-width="3.3" stroke-linecap="round" fill="none"/>
<path d="M546 1689h0m21 -2h0m24 -6h0m-2 5h0m0 7h0m-29 6h0m3 0h0m4 0h0m3 1h0m5 -1h0m3 4h0m-32 5h0m-8 4h0m20 0h0m12 -1h0m1 -3h0m5 1h0m-1 6h0m-5 1h0m8 1h0m-6 1h0m-4 1h0m8 0h0m4 0h0m17 -10h0m3 0h0m-4 8h0m-25 -4h0m-7 3h0m10 -4h0" stroke="#3653a8" stroke-width="3.3" stroke-linecap="round" fill="none"/>
<path d="M646 1480h0m-1 69h0m97 115h0m-69 10h0m63 10h0m-94 28h0m12 -4h0m8 3h0m4 -3h0m-4 8h0m35 -8h0m-19 8h0m5 -1h0m4 1h0m2 -3h0m1 4h0m-17 3h0m3 0h0m4 0h0m2 0h0m21 1h0m7 0h0m0 -1h0m11 -2h0m5 4h0m21 -9h0m-71 9h0m60 2h0m1 -1h0m1 -2h0m2 -2h0m1 -2h0m1 -2h0m1 -2h0m1 -3h0m1 -2h0m1 -3h0m1 -3h0m1 -2h0m1 -3h0m1 -3h0" stroke="#e32226" stroke-width="3.3" stroke-linecap="round" fill="none"/>
<path d="M471.4 1757.4V1467.9H762.6V1757.4" fill="none" stroke="#9a9a9a" stroke-width="1.1"/>
<line x1="471.4" y1="1467.4" x2="471.4" y2="1758.8" stroke="#000" stroke-width="2.8"/>
<line x1="470" y1="1757.4" x2="763.6" y2="1757.4" stroke="#000" stroke-width="2.8"/>
<line x1="467.9" y1="1745.7" x2="471.4" y2="1745.7" stroke="#333" stroke-width="1"/>
<text x="461.4" y="1754.5" font-size="25.5" text-anchor="end">0</text>
<line x1="467.9" y1="1616.2" x2="471.4" y2="1616.2" stroke="#333" stroke-width="1"/>
<text x="461.4" y="1625" font-size="25.5" text-anchor="end">10</text>
<line x1="467.9" y1="1486.6" x2="471.4" y2="1486.6" stroke="#333" stroke-width="1"/>
<text x="461.4" y="1495.4" font-size="25.5" text-anchor="end">20</text>
<text x="490.1" y="1785.4" font-size="25.5" text-anchor="middle">-5.0</text>
<text x="556.3" y="1785.4" font-size="25.5" text-anchor="middle">-2.5</text>
<text x="622.5" y="1785.4" font-size="25.5" text-anchor="middle">0</text>
<text x="688.8" y="1785.4" font-size="25.5" text-anchor="middle">2.5</text>
<text x="755" y="1785.4" font-size="25.5" text-anchor="middle">5</text>
<text x="611" y="1454.1" font-size="27" text-anchor="middle">V.FB2</text>
<text x="624.5" y="1828.7" font-size="28.3" text-anchor="middle">log<tspan font-size="17.5" dy="10.2">2</tspan><tspan dy="-10.2">(Fold Change)</tspan></text>
<rect x="837" y="1467.3" width="289" height="290.1" fill="#fff"/>
<line x1="844.6" y1="1467.3" x2="844.6" y2="1757.4" stroke="#f4f4f4" stroke-width="1"/>
<line x1="880.7" y1="1467.3" x2="880.7" y2="1757.4" stroke="#f4f4f4" stroke-width="1"/>
<line x1="916.8" y1="1467.3" x2="916.8" y2="1757.4" stroke="#f4f4f4" stroke-width="1"/>
<line x1="952.9" y1="1467.3" x2="952.9" y2="1757.4" stroke="#f4f4f4" stroke-width="1"/>
<line x1="989" y1="1467.3" x2="989" y2="1757.4" stroke="#f4f4f4" stroke-width="1"/>
<line x1="1025.1" y1="1467.3" x2="1025.1" y2="1757.4" stroke="#f4f4f4" stroke-width="1"/>
<line x1="1061.2" y1="1467.3" x2="1061.2" y2="1757.4" stroke="#f4f4f4" stroke-width="1"/>
<line x1="1097.3" y1="1467.3" x2="1097.3" y2="1757.4" stroke="#f4f4f4" stroke-width="1"/>
<line x1="837" y1="1744.8" x2="1126" y2="1744.8" stroke="#f4f4f4" stroke-width="1"/>
<line x1="837" y1="1677.5" x2="1126" y2="1677.5" stroke="#f4f4f4" stroke-width="1"/>
<line x1="837" y1="1610.2" x2="1126" y2="1610.2" stroke="#f4f4f4" stroke-width="1"/>
<line x1="837" y1="1542.9" x2="1126" y2="1542.9" stroke="#f4f4f4" stroke-width="1"/>
<line x1="837" y1="1475.6" x2="1126" y2="1475.6" stroke="#f4f4f4" stroke-width="1"/>
<path d="M884 1740h0m66 4h0m73 -5h0m-26 -5h0m-66 3h0m31 0h0m-13 6h0m33 -12h0m83 12h0m-10 -7h0m-64 7h0m91 -2h0m-114 0h0m-25 2h0m2 -7h0m9 6h0m5 -12h0m42 12h0m62 -1h0m-26 2h0m-69 -6h0m104 4h0m-96 0h0m-38 2h0m73 -1h0m4 -2h0m-39 -1h0m20 -1h0m-9 2h0m-96 -3h0m51 5h0m18 -4h0m48 -1h0m9 7h0m-24 0h0m-16 -20h0m-39 18h0m-26 -1h0m88 -2h0m36 4h0m-40 -6h0m-41 -1h0m-55 1h0m108 -2h0m-6 8h0m-16 1h0m10 -2h0m-48 -4h0m-47 4h0m75 0h0m6 -10h0m17 11h0m-86 0h0m116 0h0m-140 -1h0m79 2h0m5 0h0m84 -2h0m-151 -2h0m40 1h0m30 -15h0m-18 14h0m85 -3h0m-118 4h0m11 1h0m16 -7h0m-68 4h0m90 -2h0m-89 3h0m164 0h0m-163 -1h0m0 -2h0m106 2h0m-41 2h0m30 -6h0m-4 0h0m-27 -1h0m3 3h0m-53 4h0m134 1h0m-127 1h0m90 -8h0m-31 2h0m53 1h0m-36 0h0m-52 1h0m22 0h0m98 -2h0m-148 0h0m77 -6h0m22 8h0m41 0h0m-90 4h0m22 1h0m131 -5h0m-99 2h0m-55 -9h0m-5 12h0m88 -3h0m-178 -3h0m101 3h0m-54 -3h0m158 0h0m-112 -6h0m15 3h0m43 3h0m-78 -1h0m54 2h0m-3 -3h0m-16 -6h0m35 5h0m-20 8h0m-110 -3h0m126 -1h0m-138 -2h0m204 6h0m-132 -7h0m-27 3h0m18 4h0m73 -4h0m-1 4h0m54 -3h0m-75 -11h0m-113 11h0m111 -3h0m-63 4h0m91 3h0m39 -5h0m-40 1h0m-75 3h0m78 -1h0m-72 -3h0m-34 2h0m161 2h0m-128 -2h0m1 2h0m7 -1h0m94 -1h0m-79 1h0m4 -2h0m135 -3h0m-161 3h0m60 4h0m-45 -8h0m-61 0h0m116 1h0m-32 -1h0m-93 5h0m160 -1h0m-166 -4h0m167 2h0m-110 2h0m7 3h0m83 -7h0m-78 1h0m29 -3h0m56 1h0m-98 3h0m15 -3h0m-8 7h0m43 -7h0m-55 2h0m91 5h0m-120 -6h0m62 3h0m-9 -1h0m-30 1h0m78 6h0m-77 -6h0m-26 3h0m67 -7h0m68 -1h0m-22 10h0m-65 -7h0m77 6h0m77 -2h0m-54 -1h0m11 1h0m-119 -2h0m10 2h0m92 1h0m41 1h0m-100 -13h0m-101 11h0m36 -2h0m63 -3h0m46 7h0m-11 1h0m-46 -5h0m120 3h0m-142 -3h0m51 -2h0m20 6h0m-25 -1h0m-15 -4h0m-57 3h0m47 -2h0m18 -1h0m-18 -1h0m112 5h0m-25 2h0m14 -5h0m-104 5h0m-19 -1h0m-15 -1h0m5 -1h0m-7 -1h0m90 -4h0m7 5h0m14 -3h0m-121 1h0m72 6h0m-39 -2h0m-41 -6h0m12 3h0m45 3h0m19 0h0m74 -1h0m-108 2h0m31 -10h0m-6 6h0m-22 -6h0m-78 4h0m28 0h0m74 -6h0m88 7h0m-42 0h0m-100 4h0m-50 -4h0m81 4h0m72 -5h0m-7 -5h0m-37 6h0m22 2h0m-54 1h0m30 -1h0m24 -1h0m-24 3h0m34 -2h0m-98 1h0m69 -7h0m40 3h0m-10 -2h0m-1 3h0m28 4h0m-59 -2h0m-25 -1h0m16 3h0m26 -2h0m2 -1h0m76 -2h0m-51 6h0m-112 -8h0m97 -2h0m-45 -4h0m-6 3h0m37 11h0m15 -10h0m-13 10h0m31 -2h0m44 -4h0m-12 4h0m-133 -6h0m30 -3h0m-11 5h0m-66 3h0m70 -6h0m17 9h0m88 -7h0m-80 -7h0m-39 10h0m132 -3h0m-17 4h0m-112 -6h0m8 4h0m-4 4h0m0 -3h0m11 -4h0m-43 1h0m14 4h0m-42 -5h0m52 0h0m-41 5h0m71 -3h0m75 -3h0m-85 6h0m63 3h0m-150 -6h0m110 -5h0m41 11h0m15 0h0m-155 -8h0m115 9h0m-25 -10h0m-40 8h0m-31 -2h0m87 -17h0m35 20h0m-33 -15h0m-69 8h0m131 4h0m-117 0h0m71 1h0m-61 -8h0m105 9h0m-9 -7h0m20 7h0m-183 -3h0m26 -2h0m65 -3h0m44 6h0m6 -5h0m16 2h0m-69 6h0m50 -2h0m-66 -7h0m73 -2h0m-34 11h0m15 -6h0m-128 2h0m24 2h0m45 -4h0m173 4h0m-139 -2h0m83 2h0m-12 -4h0m-121 2h0m137 3h0m-46 -4h0m-28 4h0m39 0h0m-19 -10h0m29 6h0m-75 -5h0m107 9h0m-176 -3h0m-16 -1h0m152 -3h0m-85 0h0m-36 5h0m37 -2h0m45 1h0m-118 -1h0m139 2h0m13 0h0m-27 3h0m-45 -7h0m101 4h0m-167 -5h0m55 4h0m85 -1h0m-55 -5h0m8 2h0m-15 8h0m-85 -9h0m118 8h0m-68 0h0m145 0h0m-100 1h0m68 -2h0m-68 -13h0m5 -2h0m-16 8h0m146 5h0m-112 2h0m-106 -4h0m168 -1h0m-150 4h0m112 2h0m-94 -5h0m20 -1h0m64 7h0m-109 -5h0m83 3h0m-45 -2h0m42 -3h0m58 2h0m-51 -3h0m-124 3h0m123 -7h0m-122 5h0m79 0h0m21 -3h0m-41 4h0m66 0h0m31 2h0m57 1h0m-200 -5h0m119 6h0m-136 -2h0m173 3h0m-60 -9h0m63 1h0m1 9h0m-58 -15h0m74 14h0m-9 1h0m18 -1h0m-88 -3h0m-55 1h0m53 -13h0m-35 9h0m43 2h0m90 3h0m-125 -7h0m44 8h0m71 -3h0m-35 0h0m-108 1h0m91 3h0m-7 -2h0m-49 -6h0m53 0h0m8 -2h0m-123 3h0m91 5h0m-2 -18h0m34 19h0m-19 -1h0m-39 -8h0m76 7h0m-113 -4h0m43 6h0m20 -21h0m77 20h0m-114 -8h0m-15 5h0m98 -2h0m-110 3h0m113 4h0m9 -5h0m1 -2h0m-13 6h0m-91 -2h0m50 -4h0m-83 5h0m153 -1h0m-53 2h0m25 -8h0m29 8h0m-37 -6h0m-114 5h0m103 -5h0m-58 5h0m31 2h0m88 -3h0m-129 -3h0m4 1h0m10 2h0m79 -2h0m2 3h0m-27 -2h0m-77 1h0m130 -1h0m-124 -2h0m-36 2h0m172 1h0m-138 1h0m71 0h0m-21 3h0m-105 -7h0m41 -3h0m25 6h0m152 -1h0m-201 -1h0m101 -3h0m-27 7h0m58 0h0m-115 -5h0m103 3h0m-70 -6h0m51 9h0m21 -1h0m-20 2h0m-15 -17h0m-8 4h0m10 11h0m-21 -14h0m-43 10h0m132 1h0m-138 -1h0m2 -2h0m162 3h0m-80 0h0m-73 -6h0m138 5h0m-69 3h0m94 -4h0m-119 -1h0m-53 5h0m42 0h0m-4 1h0m-2 1h0m42 -7h0m-25 -1h0m-27 7h0m136 -6h0m-123 4h0m-10 -3h0m28 -4h0m-4 -3h0m-3 12h0m-87 -4h0m145 2h0m11 3h0m12 -3h0m-146 -3h0m124 -4h0m-23 1h0m14 4h0m-22 2h0m50 -3h0m-76 -3h0m26 5h0m-54 4h0m-75 -3h0m134 -3h0m-126 -1h0m201 0h0m-74 1h0m31 5h0m-64 -11h0m91 7h0m-82 -3h0m19 9h0m-28 -7h0m-41 5h0m73 -9h0m-62 2h0m29 8h0m-40 -8h0m87 2h0m-66 1h0m-1 4h0m-69 -2h0m115 -1h0m59 2h0m-139 0h0m55 1h0m37 -3h0m-23 4h0m64 -5h0m-96 5h0m60 -9h0m-24 1h0m-49 5h0m78 -3h0m-11 -3h0m2 8h0m-26 -12h0m-45 5h0m95 1h0m7 1h0m-21 -5h0m-89 9h0m169 -2h0m-104 5h0m55 -1h0m-58 -2h0m53 0h0m-116 0h0m95 0h0m21 -2h0m-30 -3h0m-89 -1h0m18 5h0m73 -1h0m-63 -3h0m-18 0h0m-31 0h0m94 6h0m4 -3h0m-22 -13h0m0 -1h0m79 17h0m30 0h0m12 -2h0m-61 3h0m-5 -6h0m22 0h0m-82 -3h0m-72 3h0m56 -6h0m66 4h0m-16 3h0m41 5h0m-74 -14h0m17 12h0m-99 -2h0m149 4h0m-41 -8h0m-30 -4h0m38 11h0m-89 0h0m121 -4h0m0 1h0m-31 4h0m21 -4h0m-21 0h0m-76 -2h0m18 -3h0m-14 4h0m-30 3h0m55 -6h0m10 6h0m132 -2h0m-31 -3h0m-133 1h0m30 3h0m-7 3h0m4 -13h0m-13 9h0m7 0h0m134 1h0m-161 -1h0m66 -1h0m16 0h0m-40 3h0m44 -5h0m-37 6h0m-74 -3h0m43 -5h0m69 2h0m-37 7h0m-54 -2h0m136 0h0m-103 -7h0m-14 9h0m55 -1h0m-11 -2h0m-48 -5h0m-15 2h0m113 1h0m-138 3h0m60 1h0m-80 -5h0m25 0h0m92 2h0m-39 -2h0m10 6h0m-88 -2h0m134 1h0m-135 -3h0m83 -10h0m56 5h0m-67 3h0m42 5h0m-24 -11h0m5 -2h0m95 12h0m-108 -2h0m34 2h0m-46 -9h0m-9 9h0m13 -1h0m53 3h0m-46 -7h0m46 5h0m17 -7h0m-22 7h0m-49 0h0m-54 -7h0m80 7h0m61 0h0m-91 0h0m133 -5h0m-119 -5h0m-34 4h0m26 1h0m-65 -1h0m45 -2h0m-4 5h0m48 0h0m-39 -2h0m116 -1h0m-89 3h0m83 1h0m-82 -7h0m69 4h0m-130 6h0m-5 -1h0m52 -5h0m14 1h0m50 6h0m-9 -11h0m-12 7h0m-35 -12h0m89 12h0m-34 0h0m-109 -1h0m1 1h0m-23 1h0m75 -6h0m66 1h0m-51 -7h0m62 8h0m-62 -15h0m-1 7h0m130 10h0m-199 1h0m58 2h0m55 -3h0m-112 -2h0m57 -3h0m60 7h0m-94 -4h0m20 5h0m-18 1h0m33 -5h0m16 2h0m51 -2h0m-93 -2h0m40 5h0m-17 -12h0m12 14h0m23 -7h0m-128 1h0m184 1h0m-144 -3h0m1 3h0m116 -3h0m-75 4h0m-58 3h0m101 -4h0m-122 3h0m167 -4h0m-22 4h0m-119 -1h0m50 3h0m57 0h0m-5 -3h0m27 2h0m-15 1h0m-112 -5h0m0 5h0m56 -9h0m-23 9h0m-5 -3h0m-54 2h0m163 -6h0m-32 -2h0m85 7h0m-203 1h0m54 -5h0m171 5h0m-75 0h0m0 -4h0m-62 0h0m-8 -9h0m-77 11h0m170 3h0m-80 -10h0m48 4h0m20 1h0m-63 3h0m-49 2h0m-32 -3h0m-5 1h0m-3 2h0m9 -5h0m48 -2h0m59 -2h0m-121 8h0m93 -3h0m-78 0h0m61 -6h0m7 7h0m133 2h0m-88 -5h0m-49 6h0m74 0h0m-23 -9h0m-153 7h0m14 -5h0m-25 5h0m0 -1h0m101 -7h0m-38 9h0m130 -3h0m11 0h0m-65 5h0m-1 -8h0m-55 5h0m67 -2h0m20 0h0m-5 3h0m-78 -6h0m-45 6h0m174 -4h0m-121 -3h0m52 3h0m-56 0h0m54 0h0m-62 1h0m75 1h0m-33 2h0m-37 -3h0m80 3h0m-20 -1h0m-60 -1h0m87 -5h0m-144 4h0m71 -6h0m78 10h0m-4 -6h0m-78 -4h0m-63 7h0m54 -2h0m24 -11h0m-21 10h0m139 1h0m-173 2h0m-58 -4h0m163 5h0m4 -4h0m41 3h0m-199 -1h0m42 3h0m45 -4h0m139 0h0m-116 3h0m-3 -10h0m133 9h0m-108 4h0m47 -2h0m-138 -2h0m94 -1h0m-31 -8h0m138 11h0m-108 -5h0m-76 6h0m31 1h0m-10 -3h0m22 -3h0m-80 3h0m73 -4h0m10 3h0m-23 -1h0m-5 2h0m41 -5h0m-49 8h0m-61 -7h0m43 1h0m59 3h0m3 2h0m-66 -5h0m50 1h0m-19 -2h0m141 5h0m-39 2h0m-27 -7h0m-49 0h0m-94 5h0m155 -1h0m-64 1h0m12 -9h0m-110 6h0m48 -2h0m148 6h0m-82 -2h0m14 -4h0m27 -2h0m-169 2h0m152 3h0m-31 0h0m-91 -1h0m100 2h0m-24 -9h0m58 9h0m55 0h0m-65 0h0m21 3h0m-31 -3h0m-34 3h0m91 -3h0m-49 2h0m-20 2h0m68 -7h0m-110 0h0m-85 2h0m78 -4h0m50 8h0m14 -1h0m31 -1h0m-10 1h0m64 -1h0m-111 -21h0m-15 20h0m-1 0h0m98 1h0m9 -1h0m-41 2h0m-25 -7h0m-34 4h0m-63 -5h0m39 7h0m161 0h0m-184 -7h0m84 3h0m10 2h0m-160 0h0m51 -2h0m16 2h0m82 -7h0m-34 -2h0m31 11h0m-75 -4h0m-35 2h0m50 1h0m35 1h0m103 0h0m-76 2h0m42 -1h0m-128 -7h0m198 6h0m-138 -17h0m-32 17h0m-36 -3h0m72 -3h0m-20 3h0m23 5h0m-41 -1h0m111 -3h0m-153 -4h0m68 6h0m3 -1h0m39 -4h0m-92 0h0m-35 2h0m195 1h0m-154 -3h0m-8 4h0m69 2h0m-114 -5h0m188 3h0m-139 0h0m61 1h0m-45 -1h0m-37 0h0m39 -6h0m21 0h0m14 -5h0m18 9h0m-27 -10h0m5 5h0m-73 8h0m113 -6h0m-5 -2h0m-73 10h0m86 -4h0m-8 3h0m52 -6h0m-104 4h0m19 -9h0m-109 6h0m169 2h0m-77 -8h0m99 6h0m-21 4h0m-77 -6h0m84 4h0m-66 -8h0m-9 3h0m103 8h0m-185 -3h0m105 4h0m-132 -3h0m212 -1h0m-59 2h0m-47 -2h0m6 4h0m-61 -4h0m57 -8h0m-67 8h0m94 -1h0m-71 -4h0m46 3h0m37 -2h0m-59 7h0m142 -2h0m-151 -4h0m38 0h0m49 2h0m-7 4h0m-61 -7h0m56 -2h0m-28 9h0m-39 -11h0m-2 11h0m92 1h0m-181 -6h0m32 2h0m162 1h0m12 -3h0m-154 4h0m125 -5h0m-148 1h0m28 4h0m19 -8h0m79 1h0m8 7h0m-21 -5h0m-7 0h0m-79 0h0m45 -4h0m154 8h0m-139 -15h0m-78 15h0m51 0h0m11 -9h0m40 1h0m23 7h0m-3 -5h0m26 7h0m-192 -175h0m70 144h0m-61 23h0m8 1h0m19 0h0m17 -2h0m21 -7h0" stroke="#bcbcbc" stroke-width="3.3" stroke-linecap="round" fill="none"/>
<path d="M951 1741h0m20 -14h0m-14 12h0m13 2h0m-17 -8h0m16 -1h0m-3 9h0m-7 -12h0m2 4h0m-2 -5h0m13 11h0m-4 -7h0m-18 6h0m3 0h0m15 1h0m-10 -15h0m-21 13h0m4 1h0m6 2h0m4 -1h0m-4 2h0m27 -13h0m-4 4h0m-1 4h0m2 -24h0m-5 10h0m8 19h0m-9 -9h0m-17 7h0m18 -19h0m2 9h0m-15 1h0m7 -3h0m10 13h0m-10 -3h0m-12 0h0m11 -11h0m13 8h0m-32 3h0m24 -9h0m2 7h0m-16 1h0m22 0h0m-5 4h0m-4 -5h0m-3 3h0m13 -2h0m-9 -13h0m0 12h0m3 4h0m-9 -4h0m15 -1h0m-9 -12h0m4 19h0m-6 -7h0m-4 3h0m14 4h0m-1 -26h0m0 18h0m-12 -11h0m7 15h0m-27 0h0m30 -9h0m0 -2h0m-6 12h0m8 -6h0m-13 9h0m9 -8h0m-7 -9h0m10 -2h0m4 15h0m-13 4h0m-9 -5h0m17 -14h0m-8 9h0m-21 7h0m24 2h0m9 -11h0m-18 2h0m-3 1h0m8 9h0m-1 -1h0m5 1h0m2 -1h0m9 -22h0m-16 5h0m-12 16h0m7 -8h0m12 3h0m-9 -4h0m-3 -4h0m9 4h0m-5 9h0m-1 -2h0m7 2h0m7 -3h0m-8 3h0m-14 1h0m14 -13h0m-7 12h0m-1 -5h0m18 3h0m-4 2h0m-16 -3h0m11 -16h0m-4 10h0m9 11h0m-20 -5h0m20 -15h0m-6 19h0m-20 1h0m30 -6h0m-6 -9h0m2 3h0m-22 7h0m15 -13h0m0 18h0m0 -4h0m7 -2h0m2 6h0m-2 -26h0m-8 25h0m7 -23h0m-12 19h0m10 -9h0m-13 4h0m19 0h0m-18 2h0m10 5h0m1 -1h0m-15 3h0m9 1h0m6 -16h0m-11 16h0m4 -8h0m3 -3h0m-3 6h0m10 -3h0m3 -20h0m-8 16h0m-7 9h0m4 -3h0m5 -7h0m9 11h0m-22 2h0m8 -10h0m0 1h0m-3 6h0m-19 -3h0m23 0h0m12 -17h0m-8 5h0m-21 9h0m21 -5h0m3 7h0m-18 -3h0m21 3h0m-12 -1h0m3 3h0m11 -5h0m-3 2h0m-8 6h0m3 -17h0m7 16h0m-11 -11h0m-9 10h0m12 -8h0m-4 5h0m10 -5h0m-14 11h0m6 -2h0m-6 -1h0m-11 2h0m23 -1h0m-14 0h0m17 2h0m-13 -14h0m4 9h0m8 -15h0m-1 3h0m-8 11h0m7 -7h0m-23 11h0m18 -5h0m-8 -6h0m15 12h0m-13 -10h0m6 7h0m-13 3h0m23 -17h0m-16 14h0m7 -5h0m-5 1h0m0 5h0m-5 -1h0m8 -9h0m-20 10h0m23 -18h0m-14 19h0m13 -8h0m-3 8h0m-4 -11h0m15 13h0m-25 -8h0m10 8h0m6 1h0m0 -18h0m11 13h0m-23 0h0m1 3h0m18 -3h0m-4 -4h0m1 6h0m-17 -3h0m-2 -1h0m24 -14h0m-3 14h0m0 3h0m-20 -4h0m8 0h0m4 6h0m-4 -4h0m8 5h0m-3 -10h0m0 3h0m-7 6h0m9 -7h0m4 -19h0m-24 24h0m21 -19h0m-2 0h0m5 19h0m4 -11h0m-9 0h0m2 9h0m0 -15h0m-16 11h0m20 -11h0m-3 19h0m-18 1h0m-11 0h0m32 -29h0m-19 30h0m17 -17h0m-11 6h0m12 5h0m-7 1h0m-5 -2h0m-5 -1h0m17 3h0m0 4h0m-19 -11h0m-6 -45h0m21 10h0m5 1h0m-2 5h0m2 4h0m1 3h0m-34 11h0m19 3h0m-4 1h0m7 1h0m-15 3h0" stroke="#3653a8" stroke-width="3.3" stroke-linecap="round" fill="none"/>
<path d="M1070 1738h0m-40 0h0m26 2h0m1 -2h0m-23 -1h0m12 2h0m-10 -4h0m8 2h0m36 0h0m12 2h0m-58 -4h0m-18 2h0m27 0h0m6 3h0m-32 -5h0m69 2h0m-67 0h0m59 3h0m-29 -4h0m18 3h0m10 1h0m30 -1h0m-57 0h0m55 -2h0m-57 -1h0m20 0h0m-49 4h0m2 1h0m-15 0h0m59 -4h0m-30 1h0m-15 0h0m9 3h0m-25 -6h0m70 1h0m-37 1h0m38 0h0m11 3h0m-77 0h0m59 -2h0m-8 2h0m-27 -2h0m20 2h0m19 0h0m1 -3h0m-35 -2h0m8 5h0m27 1h0m-45 -2h0m-7 -1h0m26 0h0m48 2h0m-32 0h0m-51 -1h0m-8 1h0m2 -1h0m32 0h0m18 -3h0m40 1h0m-81 2h0m61 -1h0m-74 3h0m58 0h0m-19 -4h0m12 2h0m-31 -1h0m60 0h0m-26 3h0m15 0h0m29 -2h0m2 -1h0m-28 -1h0m-13 2h0m-33 -4h0m-1 4h0m24 -3h0m-47 2h0m48 -2h0m-23 0h0m72 4h0m-10 0h0m-80 0h0m71 1h0m-70 -3h0m6 2h0m77 -1h0m-48 1h0m-32 0h0m47 -1h0m-7 2h0m20 0h0m-14 -1h0m-42 -5h0m70 6h0m-23 0h0m23 -1h0m-12 1h0m21 -2h0m-63 0h0m4 0h0m-7 -2h0m27 -1h0m45 3h0m-43 -2h0m52 3h0m-82 -1h0m69 -2h0m-52 3h0m11 -2h0m17 1h0m-68 -1h0m90 3h0m-77 -6h0m9 1h0m53 2h0m-35 -1h0m14 1h0m-32 2h0m-27 0h0m24 -3h0m35 -1h0m2 0h0m38 4h0m-64 -4h0m24 4h0m5 -4h0m18 5h0m-74 -3h0m81 -1h0m-47 1h0m18 3h0m0 -2h0m-22 0h0m43 -1h0m-3 3h0m13 -2h0m-64 0h0m24 -3h0m3 5h0m-22 -4h0m60 1h0m-51 2h0m29 -1h0m-44 1h0m11 -1h0m-1 2h0m38 -3h0m31 2h0m-23 -2h0m-42 1h0m-11 2h0m45 -4h0m-56 3h0m-6 -2h0m54 1h0m-58 0h0m70 -2h0m-42 3h0m46 -1h0m-79 -1h0m17 -4h0m26 4h0m18 3h0m-38 -4h0m13 3h0m8 1h0m4 -4h0m12 -1h0m-10 1h0m-22 2h0m29 -1h0m-49 2h0m29 0h0m39 0h0m-36 -3h0m12 4h0m39 -3h0m-91 -3h0m97 6h0m-30 -5h0m-28 5h0m-32 -4h0m64 -1h0m-71 0h0m2 3h0m83 0h0m-15 1h0m-25 0h0m43 -2h0m-20 2h0m35 -2h0m-84 1h0m7 -4h0m-17 2h0m-13 -2h0m56 4h0m-19 -4h0m32 5h0m1 -2h0m-2 -1h0m-57 -1h0m37 2h0m-35 -4h0m82 5h0m-43 2h0m-29 -7h0m43 7h0m-58 -1h0m55 0h0m-49 -5h0m22 5h0m-20 -3h0m41 0h0m25 2h0m-60 2h0m34 -1h0m42 0h0m-56 -1h0m-35 -2h0m45 2h0m-34 -2h0m36 2h0m-16 -3h0m-30 -1h0m18 6h0m27 -1h0m29 0h0m-53 0h0m75 0h0m-40 0h0m-18 -5h0m-4 0h0m41 5h0m-10 -1h0m-48 2h0m54 -2h0m-11 2h0m-63 -5h0m22 -1h0m2 1h0m55 5h0m28 0h0m-111 -2h0m15 -5h0m46 4h0m-58 2h0m83 -2h0m-76 2h0m82 1h0m-29 -3h0m-49 3h0m67 -4h0m-46 0h0m73 4h0m-1 -3h0m-73 -2h0m10 -1h0m-7 5h0m36 -3h0m-29 -1h0m60 4h0m-52 -1h0m29 2h0m-68 -2h0m51 1h0m-4 -4h0m-39 2h0m19 0h0m-20 2h0m28 -5h0m43 6h0m-15 -4h0m-47 3h0m35 -2h0m-2 3h0m-4 -3h0m22 2h0m-28 -3h0m3 0h0m44 4h0m-77 -3h0m1 2h0m27 -2h0m-16 2h0m59 -4h0m-8 3h0m-57 -5h0m-18 4h0m83 3h0m7 -4h0m-69 3h0m40 1h0m33 -3h0m-14 3h0m-49 -3h0m33 1h0m-49 -2h0m-7 2h0m39 0h0m-30 -4h0m-5 6h0m76 -3h0m-32 2h0m45 -2h0m-62 3h0m1 0h0m15 -1h0m-49 -4h0m31 0h0m-5 3h0m6 0h0m19 0h0m-6 -2h0m32 1h0m-17 2h0m-66 -1h0m10 -2h0m10 2h0m-26 2h0m83 -3h0m-50 3h0m-2 -3h0m69 -1h0m-100 1h0m28 -3h0m-1 3h0m37 0h0m19 2h0m18 -2h0m-72 1h0m19 -1h0m-2 -1h0m-8 -1h0m34 5h0m-30 0h0m20 -3h0m29 0h0m10 1h0m-67 1h0m52 -2h0m-57 -2h0m-10 2h0m-3 0h0m43 1h0m-9 1h0m46 0h0m-46 -4h0m2 4h0m31 -4h0m-70 3h0m67 -1h0m-80 2h0m44 -3h0m-22 2h0m-13 -1h0m24 0h0m27 -1h0m15 -1h0m-55 -2h0m22 3h0m54 2h0m-34 -3h0m-41 4h0m77 0h0m-57 -2h0m38 0h0m-76 -2h0m52 1h0m-52 2h0m54 2h0m-6 -3h0m-46 -2h0m16 2h0m44 3h0m27 -1h0m-57 -5h0m-10 3h0m1 -4h0m64 6h0m-53 1h0m-26 -2h0m52 1h0m-22 -1h0m57 2h0m-54 -3h0m-37 0h0m-4 3h0m31 0h0m-8 -1h0m36 -3h0m-62 2h0m65 0h0m-68 0h0m74 -3h0m0 5h0m-26 -1h0m-43 -271h0m6 0h0m-7 36h0m36 -24h0m-33 182h0m12 51h0m-8 13h0m99 -2h0m-89 2h0m-19 4h0m14 -1h0m20 1h0m-3 1h0m12 1h0" stroke="#e32226" stroke-width="3.3" stroke-linecap="round" fill="none"/>
<path d="M837 1757.4V1467.3H1126V1757.4" fill="none" stroke="#9a9a9a" stroke-width="1.1"/>
<line x1="837" y1="1466.8" x2="837" y2="1758.8" stroke="#000" stroke-width="2.8"/>
<line x1="835.6" y1="1757.4" x2="1127" y2="1757.4" stroke="#000" stroke-width="2.8"/>
<line x1="833.5" y1="1744.8" x2="837" y2="1744.8" stroke="#333" stroke-width="1"/>
<text x="827.5" y="1753.6" font-size="25.5" text-anchor="end">0</text>
<line x1="833.5" y1="1610.2" x2="837" y2="1610.2" stroke="#333" stroke-width="1"/>
<text x="827.5" y="1619" font-size="25.5" text-anchor="end">100</text>
<line x1="833.5" y1="1475.6" x2="837" y2="1475.6" stroke="#333" stroke-width="1"/>
<text x="827.5" y="1484.4" font-size="25.5" text-anchor="end">200</text>
<text x="844.6" y="1785.4" font-size="25.5" text-anchor="middle">-6</text>
<text x="916.8" y="1785.4" font-size="25.5" text-anchor="middle">-3</text>
<text x="989" y="1785.4" font-size="25.5" text-anchor="middle">0</text>
<text x="1061.2" y="1785.4" font-size="25.5" text-anchor="middle">3</text>
<text x="984.3" y="1454.1" font-size="27" text-anchor="middle">VCT</text>
<text x="987.3" y="1828.7" font-size="28.3" text-anchor="middle">log<tspan font-size="17.5" dy="10.2">2</tspan><tspan dy="-10.2">(Fold Change)</tspan></text>
<text x="12.8" y="609" font-size="33" font-weight="bold">b</text>
<style>.lg text{font-size:100px;font-weight:bold;stroke-width:1.1px;vector-effect:non-scaling-stroke;stroke-linejoin:round}.A{fill:#27a33b;stroke:#27a33b}.C{fill:#2b47a6;stroke:#2b47a6}.G{fill:#f6a623;stroke:#f6a623}.T{fill:#dc2328;stroke:#dc2328}</style>
<text x="1658" y="57.5" font-size="29.2" text-anchor="middle">Increased Peaks in Bulk ATAC-seq Motifs</text>
<text x="1319" y="114.6" font-size="28.6" text-anchor="middle">Motif</text>
<text x="1736" y="114.6" font-size="28.6" text-anchor="middle">TF</text>
<text x="1861" y="111.1" font-size="28.6" text-anchor="middle">p-value</text>
<text x="1992" y="97.1" font-size="28.6" text-anchor="middle">#Sequence</text>
<text x="1992" y="132.1" font-size="28.6" text-anchor="middle">with motif</text>
<line x1="1669.7" y1="77.1" x2="1669.7" y2="421" stroke="#000" stroke-width="3"/>
<line x1="1805" y1="77.1" x2="1805" y2="421" stroke="#000" stroke-width="3"/>
<line x1="1915.5" y1="77.1" x2="1915.5" y2="421" stroke="#000" stroke-width="3"/>
<line x1="1211.5" y1="139.6" x2="2070" y2="139.6" stroke="#000" stroke-width="3"/>
<line x1="1211.5" y1="197.2" x2="2070" y2="197.2" stroke="#000" stroke-width="3"/>
<line x1="1211.5" y1="257.4" x2="2070" y2="257.4" stroke="#000" stroke-width="3"/>
<line x1="1211.5" y1="314.1" x2="2070" y2="314.1" stroke="#000" stroke-width="3"/>
<line x1="1211.5" y1="367.1" x2="2070" y2="367.1" stroke="#000" stroke-width="3"/>
<line x1="1211.5" y1="419.5" x2="2070" y2="419.5" stroke="#000" stroke-width="3"/>
<text x="1737" y="177.9" font-size="28.6" text-anchor="middle">CTCF</text>
<text x="1860.5" y="177.9" font-size="28.6" text-anchor="middle">1e-487</text>
<text x="1992" y="177.9" font-size="28.6" text-anchor="middle">1009</text>
<text x="1737" y="236.8" font-size="28.6" text-anchor="middle">CTCFL</text>
<text x="1860.5" y="236.8" font-size="28.6" text-anchor="middle">1e-318</text>
<text x="1992" y="236.8" font-size="28.6" text-anchor="middle">1184</text>
<text x="1737" y="295.2" font-size="28.6" text-anchor="middle">Jun-AP1</text>
<text x="1860.5" y="295.2" font-size="28.6" text-anchor="middle">1e-116</text>
<text x="1992" y="295.2" font-size="28.6" text-anchor="middle">604</text>
<text x="1737" y="350.1" font-size="28.6" text-anchor="middle">Fosl2</text>
<text x="1860.5" y="350.1" font-size="28.6" text-anchor="middle">1e-116</text>
<text x="1992" y="350.1" font-size="28.6" text-anchor="middle">738</text>
<text x="1737" y="402.8" font-size="28.6" text-anchor="middle">FRA1</text>
<text x="1860.5" y="402.8" font-size="28.6" text-anchor="middle">1e-102</text>
<text x="1992" y="402.8" font-size="28.6" text-anchor="middle">931</text>
<g class="lg">
<text class="A" transform="matrix(0.318 0 0 0.246 1211.3 161.6)">A</text>
<text class="C" transform="matrix(0.323 0 0 0.122 1211.0 172.0)">C</text>
<text class="G" transform="matrix(0.309 0 0 0.088 1211.1 179.9)">G</text>
<text class="T" transform="matrix(0.356 0 0 0.081 1211.9 187.1)">T</text>
<text class="T" transform="matrix(0.356 0 0 0.210 1234.5 159.0)">T</text>
<text class="C" transform="matrix(0.323 0 0 0.162 1233.6 172.3)">C</text>
<text class="G" transform="matrix(0.309 0 0 0.105 1233.7 181.6)">G</text>
<text class="A" transform="matrix(0.318 0 0 0.056 1233.9 187.2)">A</text>
<text class="A" transform="matrix(0.318 0 0 0.272 1256.5 164.7)">A</text>
<text class="G" transform="matrix(0.309 0 0 0.162 1256.3 177.9)">G</text>
<text class="T" transform="matrix(0.356 0 0 0.102 1257.1 187.0)">T</text>
<text class="G" transform="matrix(0.309 0 0 0.227 1278.9 160.5)">G</text>
<text class="C" transform="matrix(0.323 0 0 0.263 1278.8 181.2)">C</text>
<text class="T" transform="matrix(0.356 0 0 0.056 1279.7 187.2)">T</text>
<text class="T" transform="matrix(0.356 0 0 0.349 1302.3 168.6)">T</text>
<text class="C" transform="matrix(0.323 0 0 0.227 1301.4 186.4)">C</text>
<text class="G" transform="matrix(0.309 0 0 0.534 1324.0 182.1)">G</text>
<text class="A" transform="matrix(0.318 0 0 0.038 1324.3 187.3)">A</text>
<text class="C" transform="matrix(0.323 0 0 0.570 1346.6 184.7)">C</text>
<text class="A" transform="matrix(0.318 0 0 0.003 1346.9 187.4)">A</text>
<text class="C" transform="matrix(0.323 0 0 0.588 1369.2 185.9)">C</text>
<text class="A" transform="matrix(0.318 0 0 0.272 1392.1 164.7)">A</text>
<text class="C" transform="matrix(0.323 0 0 0.245 1391.8 183.8)">C</text>
<text class="T" transform="matrix(0.356 0 0 0.021 1392.7 187.3)">T</text>
<text class="C" transform="matrix(0.323 0 0 0.299 1414.4 165.6)">C</text>
<text class="T" transform="matrix(0.356 0 0 0.274 1415.3 186.7)">T</text>
<text class="C" transform="matrix(0.323 0 0 0.570 1437.0 184.7)">C</text>
<text class="T" transform="matrix(0.356 0 0 0.003 1437.9 187.4)">T</text>
<text class="T" transform="matrix(0.356 0 0 0.574 1460.5 184.1)">T</text>
<text class="A" transform="matrix(0.318 0 0 0.021 1459.9 187.3)">A</text>
<text class="G" transform="matrix(0.309 0 0 0.263 1482.2 163.1)">G</text>
<text class="A" transform="matrix(0.318 0 0 0.209 1482.5 179.7)">A</text>
<text class="T" transform="matrix(0.356 0 0 0.081 1483.1 187.1)">T</text>
<text class="G" transform="matrix(0.309 0 0 0.389 1504.8 172.0)">G</text>
<text class="C" transform="matrix(0.323 0 0 0.139 1504.7 184.0)">C</text>
<text class="A" transform="matrix(0.318 0 0 0.021 1505.1 187.3)">A</text>
<text class="T" transform="matrix(0.356 0 0 0.555 1528.3 182.8)">T</text>
<text class="C" transform="matrix(0.323 0 0 0.037 1527.3 187.2)">C</text>
<text class="G" transform="matrix(0.309 0 0 0.588 1550.0 185.9)">G</text>
<text class="G" transform="matrix(0.309 0 0 0.552 1572.6 183.4)">G</text>
<text class="A" transform="matrix(0.318 0 0 0.021 1572.9 187.3)">A</text>
<text class="C" transform="matrix(0.323 0 0 0.299 1595.1 165.6)">C</text>
<text class="T" transform="matrix(0.356 0 0 0.109 1596.1 175.3)">T</text>
<text class="A" transform="matrix(0.318 0 0 0.143 1595.5 186.8)">A</text>
<text class="C" transform="matrix(0.323 0 0 0.245 1617.7 161.8)">C</text>
<text class="A" transform="matrix(0.318 0 0 0.161 1618.1 175.1)">A</text>
<text class="T" transform="matrix(0.356 0 0 0.127 1618.7 185.6)">T</text>
<text class="G" transform="matrix(0.309 0 0 0.003 1617.8 187.4)">G</text>
<text class="A" transform="matrix(0.318 0 0 0.347 1640.7 168.6)">A</text>
<text class="G" transform="matrix(0.309 0 0 0.139 1640.4 180.2)">G</text>
<text class="C" transform="matrix(0.323 0 0 0.071 1640.3 187.0)">C</text>
<text class="C" transform="matrix(0.320 0 0 0.227 1211.0 221.2)">C</text>
<text class="G" transform="matrix(0.306 0 0 0.155 1211.1 234.2)">G</text>
<text class="A" transform="matrix(0.315 0 0 0.073 1211.4 241.3)">A</text>
<text class="T" transform="matrix(0.353 0 0 0.073 1211.9 247.7)">T</text>
<text class="C" transform="matrix(0.320 0 0 0.155 1233.4 216.1)">C</text>
<text class="T" transform="matrix(0.353 0 0 0.144 1234.3 228.0)">T</text>
<text class="G" transform="matrix(0.306 0 0 0.104 1233.5 237.1)">G</text>
<text class="A" transform="matrix(0.315 0 0 0.125 1233.8 247.5)">A</text>
<text class="C" transform="matrix(0.320 0 0 0.155 1255.8 216.1)">C</text>
<text class="A" transform="matrix(0.315 0 0 0.178 1256.2 230.5)">A</text>
<text class="G" transform="matrix(0.306 0 0 0.104 1255.9 239.7)">G</text>
<text class="T" transform="matrix(0.353 0 0 0.091 1256.7 247.6)">T</text>
<text class="C" transform="matrix(0.320 0 0 0.155 1278.2 216.1)">C</text>
<text class="T" transform="matrix(0.353 0 0 0.126 1279.1 226.8)">T</text>
<text class="G" transform="matrix(0.306 0 0 0.121 1278.3 237.0)">G</text>
<text class="A" transform="matrix(0.315 0 0 0.125 1278.6 247.5)">A</text>
<text class="G" transform="matrix(0.306 0 0 0.245 1300.7 222.4)">G</text>
<text class="A" transform="matrix(0.315 0 0 0.178 1301.0 237.0)">A</text>
<text class="T" transform="matrix(0.353 0 0 0.091 1301.5 245.1)">T</text>
<text class="C" transform="matrix(0.320 0 0 0.020 1300.6 247.9)">C</text>
<text class="G" transform="matrix(0.306 0 0 0.317 1323.1 227.5)">G</text>
<text class="C" transform="matrix(0.320 0 0 0.155 1323.0 240.7)">C</text>
<text class="T" transform="matrix(0.353 0 0 0.073 1323.9 247.7)">T</text>
<text class="C" transform="matrix(0.320 0 0 0.299 1345.4 226.3)">C</text>
<text class="T" transform="matrix(0.353 0 0 0.198 1346.3 242.1)">T</text>
<text class="A" transform="matrix(0.315 0 0 0.055 1345.8 247.8)">A</text>
<text class="G" transform="matrix(0.306 0 0 0.550 1367.9 244.0)">G</text>
<text class="T" transform="matrix(0.353 0 0 0.021 1368.7 247.9)">T</text>
<text class="C" transform="matrix(0.320 0 0 0.586 1390.2 246.5)">C</text>
<text class="C" transform="matrix(0.320 0 0 0.586 1412.6 246.5)">C</text>
<text class="C" transform="matrix(0.320 0 0 0.389 1435.0 232.6)">C</text>
<text class="A" transform="matrix(0.315 0 0 0.125 1435.4 243.6)">A</text>
<text class="T" transform="matrix(0.353 0 0 0.038 1435.9 247.9)">T</text>
<text class="C" transform="matrix(0.320 0 0 0.389 1457.4 232.6)">C</text>
<text class="T" transform="matrix(0.353 0 0 0.180 1458.3 247.3)">T</text>
<text class="C" transform="matrix(0.320 0 0 0.586 1479.8 246.5)">C</text>
<text class="T" transform="matrix(0.353 0 0 0.554 1503.1 243.4)">T</text>
<text class="A" transform="matrix(0.315 0 0 0.038 1502.6 247.9)">A</text>
<text class="G" transform="matrix(0.306 0 0 0.281 1524.7 225.0)">G</text>
<text class="A" transform="matrix(0.315 0 0 0.143 1525.0 237.1)">A</text>
<text class="T" transform="matrix(0.353 0 0 0.091 1525.5 245.1)">T</text>
<text class="C" transform="matrix(0.320 0 0 0.020 1524.6 247.9)">C</text>
<text class="G" transform="matrix(0.306 0 0 0.245 1547.1 222.4)">G</text>
<text class="C" transform="matrix(0.320 0 0 0.227 1547.0 240.5)">C</text>
<text class="A" transform="matrix(0.315 0 0 0.073 1547.4 247.7)">A</text>
<text class="T" transform="matrix(0.353 0 0 0.329 1570.3 227.9)">T</text>
<text class="A" transform="matrix(0.315 0 0 0.143 1569.8 239.7)">A</text>
<text class="C" transform="matrix(0.320 0 0 0.087 1569.4 247.5)">C</text>
<text class="G" transform="matrix(0.306 0 0 0.586 1591.9 246.5)">G</text>
<text class="G" transform="matrix(0.306 0 0 0.514 1614.3 241.5)">G</text>
<text class="T" transform="matrix(0.353 0 0 0.056 1615.1 247.8)">T</text>
<text class="C" transform="matrix(0.320 0 0 0.245 1636.6 222.4)">C</text>
<text class="T" transform="matrix(0.353 0 0 0.126 1637.5 233.3)">T</text>
<text class="A" transform="matrix(0.315 0 0 0.108 1637.0 242.4)">A</text>
<text class="G" transform="matrix(0.306 0 0 0.054 1636.7 247.7)">G</text>
<text class="G" transform="matrix(0.311 0 0 0.222 1211.2 277.8)">G</text>
<text class="A" transform="matrix(0.320 0 0 0.137 1211.4 289.4)">A</text>
<text class="T" transform="matrix(0.358 0 0 0.111 1212.0 298.7)">T</text>
<text class="C" transform="matrix(0.325 0 0 0.068 1211.1 305.0)">C</text>
<text class="A" transform="matrix(0.320 0 0 0.294 1234.2 282.5)">A</text>
<text class="G" transform="matrix(0.311 0 0 0.122 1233.9 292.9)">G</text>
<text class="C" transform="matrix(0.325 0 0 0.098 1233.8 301.6)">C</text>
<text class="T" transform="matrix(0.358 0 0 0.030 1234.8 305.3)">T</text>
<text class="T" transform="matrix(0.358 0 0 0.594 1257.5 303.9)">T</text>
<text class="A" transform="matrix(0.320 0 0 -0.003 1256.9 305.5)">A</text>
<text class="G" transform="matrix(0.311 0 0 0.582 1279.4 303.9)">G</text>
<text class="A" transform="matrix(0.320 0 0 0.601 1302.4 304.7)">A</text>
<text class="C" transform="matrix(0.325 0 0 0.254 1324.8 280.0)">C</text>
<text class="G" transform="matrix(0.311 0 0 0.268 1324.8 301.1)">G</text>
<text class="T" transform="matrix(0.358 0 0 0.030 1325.7 305.3)">T</text>
<text class="T" transform="matrix(0.358 0 0 0.605 1348.4 304.7)">T</text>
<text class="C" transform="matrix(0.325 0 0 0.582 1370.2 303.9)">C</text>
<text class="A" transform="matrix(0.320 0 0 0.601 1393.3 304.7)">A</text>
<text class="T" transform="matrix(0.358 0 0 0.260 1416.6 280.0)">T</text>
<text class="C" transform="matrix(0.325 0 0 0.154 1415.7 292.7)">C</text>
<text class="G" transform="matrix(0.311 0 0 0.120 1415.8 303.1)">G</text>
<text class="A" transform="matrix(0.320 0 0 0.008 1416.0 305.4)">A</text>
<text class="C" transform="matrix(0.325 0 0 0.222 1438.4 277.8)">C</text>
<text class="T" transform="matrix(0.358 0 0 0.129 1439.4 288.8)">T</text>
<text class="A" transform="matrix(0.320 0 0 0.119 1438.8 298.7)">A</text>
<text class="G" transform="matrix(0.311 0 0 0.068 1438.5 305.0)">G</text>
<text class="C" transform="matrix(0.325 0 0 0.163 1461.2 273.6)">C</text>
<text class="A" transform="matrix(0.320 0 0 0.155 1461.5 286.3)">A</text>
<text class="T" transform="matrix(0.358 0 0 0.120 1462.1 296.4)">T</text>
<text class="G" transform="matrix(0.311 0 0 0.098 1461.2 304.9)">G</text>
<text class="G" transform="matrix(0.310 0 0 0.163 1211.2 329.6)">G</text>
<text class="A" transform="matrix(0.320 0 0 0.164 1211.4 343.0)">A</text>
<text class="T" transform="matrix(0.358 0 0 0.098 1212.0 351.5)">T</text>
<text class="C" transform="matrix(0.325 0 0 0.111 1211.1 360.8)">C</text>
<text class="A" transform="matrix(0.320 0 0 0.253 1234.1 335.7)">A</text>
<text class="G" transform="matrix(0.310 0 0 0.135 1233.9 347.0)">G</text>
<text class="C" transform="matrix(0.325 0 0 0.100 1233.8 355.9)">C</text>
<text class="T" transform="matrix(0.358 0 0 0.053 1234.7 361.2)">T</text>
<text class="T" transform="matrix(0.358 0 0 0.510 1257.4 354.1)">T</text>
<text class="A" transform="matrix(0.320 0 0 0.075 1256.8 361.1)">A</text>
<text class="G" transform="matrix(0.310 0 0 0.444 1279.3 350.3)">G</text>
<text class="T" transform="matrix(0.358 0 0 0.064 1280.1 357.0)">T</text>
<text class="C" transform="matrix(0.325 0 0 0.040 1279.2 361.2)">C</text>
<text class="A" transform="matrix(0.320 0 0 0.459 1302.2 350.8)">A</text>
<text class="T" transform="matrix(0.358 0 0 0.064 1302.8 357.0)">T</text>
<text class="C" transform="matrix(0.325 0 0 0.040 1301.9 361.2)">C</text>
<text class="G" transform="matrix(0.310 0 0 0.238 1324.7 334.9)">G</text>
<text class="C" transform="matrix(0.325 0 0 0.222 1324.6 352.7)">C</text>
<text class="A" transform="matrix(0.320 0 0 0.090 1324.9 361.0)">A</text>
<text class="T" transform="matrix(0.358 0 0 0.470 1348.2 351.3)">T</text>
<text class="C" transform="matrix(0.325 0 0 0.033 1347.3 355.5)">C</text>
<text class="A" transform="matrix(0.320 0 0 0.063 1347.6 361.2)">A</text>
<text class="C" transform="matrix(0.325 0 0 0.456 1370.0 350.2)">C</text>
<text class="A" transform="matrix(0.320 0 0 0.041 1370.3 355.5)">A</text>
<text class="G" transform="matrix(0.310 0 0 0.061 1370.1 361.1)">G</text>
<text class="A" transform="matrix(0.320 0 0 0.506 1393.0 354.1)">A</text>
<text class="T" transform="matrix(0.358 0 0 0.075 1393.6 361.1)">T</text>
<text class="T" transform="matrix(0.358 0 0 0.207 1416.3 332.4)">T</text>
<text class="G" transform="matrix(0.310 0 0 0.148 1415.5 344.6)">G</text>
<text class="C" transform="matrix(0.325 0 0 0.141 1415.4 356.5)">C</text>
<text class="A" transform="matrix(0.320 0 0 0.041 1415.7 361.3)">A</text>
<text class="C" transform="matrix(0.325 0 0 0.165 1438.1 329.7)">C</text>
<text class="T" transform="matrix(0.358 0 0 0.142 1439.0 341.6)">T</text>
<text class="A" transform="matrix(0.320 0 0 0.135 1438.4 352.6)">A</text>
<text class="G" transform="matrix(0.310 0 0 0.094 1438.2 360.9)">G</text>
<text class="C" transform="matrix(0.325 0 0 0.165 1460.8 329.7)">C</text>
<text class="G" transform="matrix(0.310 0 0 0.126 1460.9 340.6)">G</text>
<text class="A" transform="matrix(0.320 0 0 0.135 1461.1 351.8)">A</text>
<text class="T" transform="matrix(0.358 0 0 0.109 1461.7 361.0)">T</text>
<text class="G" transform="matrix(0.310 0 0 0.141 1211.2 384.1)">G</text>
<text class="T" transform="matrix(0.358 0 0 0.142 1212.0 395.8)">T</text>
<text class="C" transform="matrix(0.325 0 0 0.128 1211.1 406.5)">C</text>
<text class="A" transform="matrix(0.320 0 0 0.123 1211.4 416.9)">A</text>
<text class="G" transform="matrix(0.310 0 0 0.141 1233.9 384.1)">G</text>
<text class="A" transform="matrix(0.320 0 0 0.170 1234.1 397.8)">A</text>
<text class="T" transform="matrix(0.358 0 0 0.120 1234.7 407.9)">T</text>
<text class="C" transform="matrix(0.325 0 0 0.104 1233.8 416.8)">C</text>
<text class="A" transform="matrix(0.320 0 0 0.253 1256.8 392.6)">A</text>
<text class="G" transform="matrix(0.310 0 0 0.126 1256.6 403.2)">G</text>
<text class="C" transform="matrix(0.325 0 0 0.102 1256.5 412.2)">C</text>
<text class="T" transform="matrix(0.358 0 0 0.048 1257.4 417.2)">T</text>
<text class="T" transform="matrix(0.358 0 0 0.556 1280.1 414.2)">T</text>
<text class="A" transform="matrix(0.320 0 0 0.019 1279.5 417.4)">A</text>
<text class="G" transform="matrix(0.310 0 0 0.416 1302.0 404.3)">G</text>
<text class="T" transform="matrix(0.358 0 0 0.113 1302.8 414.5)">T</text>
<text class="A" transform="matrix(0.320 0 0 0.019 1302.2 417.4)">A</text>
<text class="A" transform="matrix(0.320 0 0 0.552 1324.9 414.2)">A</text>
<text class="T" transform="matrix(0.358 0 0 0.019 1325.5 417.4)">T</text>
<text class="G" transform="matrix(0.310 0 0 0.199 1347.4 389.0)">G</text>
<text class="C" transform="matrix(0.325 0 0 0.215 1347.3 406.2)">C</text>
<text class="T" transform="matrix(0.358 0 0 0.068 1348.2 413.0)">T</text>
<text class="A" transform="matrix(0.320 0 0 0.041 1347.6 417.3)">A</text>
<text class="T" transform="matrix(0.358 0 0 0.556 1370.9 414.2)">T</text>
<text class="A" transform="matrix(0.320 0 0 0.019 1370.3 417.4)">A</text>
<text class="C" transform="matrix(0.325 0 0 0.455 1392.7 407.1)">C</text>
<text class="A" transform="matrix(0.320 0 0 0.108 1393.0 417.0)">A</text>
<text class="A" transform="matrix(0.320 0 0 0.576 1415.7 415.9)">A</text>
<text class="T" transform="matrix(0.358 0 0 -0.003 1416.3 417.5)">T</text>
<text class="T" transform="matrix(0.358 0 0 0.224 1439.0 389.6)">T</text>
<text class="C" transform="matrix(0.325 0 0 0.176 1438.1 403.8)">C</text>
<text class="G" transform="matrix(0.310 0 0 0.151 1438.2 416.5)">G</text>
<text class="C" transform="matrix(0.325 0 0 0.187 1460.8 387.4)">C</text>
<text class="A" transform="matrix(0.320 0 0 0.141 1461.1 399.3)">A</text>
<text class="T" transform="matrix(0.358 0 0 0.135 1461.7 410.3)">T</text>
<text class="G" transform="matrix(0.310 0 0 0.072 1460.9 417.0)">G</text>
</g>
<text x="1658" y="486.8" font-size="29.2" text-anchor="middle">Decreased Peaks in Bulk ATAC-seq Motifs</text>
<text x="1319" y="536.8" font-size="28.6" text-anchor="middle">Motif</text>
<text x="1736" y="536.8" font-size="28.6" text-anchor="middle">TF</text>
<text x="1861" y="533.3" font-size="28.6" text-anchor="middle">p-value</text>
<text x="1992" y="519.3" font-size="28.6" text-anchor="middle">#Sequence</text>
<text x="1992" y="554.3" font-size="28.6" text-anchor="middle">with motif</text>
<line x1="1669.7" y1="499.5" x2="1669.7" y2="847.4" stroke="#000" stroke-width="3"/>
<line x1="1805" y1="499.5" x2="1805" y2="847.4" stroke="#000" stroke-width="3"/>
<line x1="1915.5" y1="499.5" x2="1915.5" y2="847.4" stroke="#000" stroke-width="3"/>
<line x1="1211.5" y1="561.8" x2="2070" y2="561.8" stroke="#000" stroke-width="3"/>
<line x1="1211.5" y1="619" x2="2070" y2="619" stroke="#000" stroke-width="3"/>
<line x1="1211.5" y1="680.4" x2="2070" y2="680.4" stroke="#000" stroke-width="3"/>
<line x1="1211.5" y1="737.5" x2="2070" y2="737.5" stroke="#000" stroke-width="3"/>
<line x1="1211.5" y1="788.6" x2="2070" y2="788.6" stroke="#000" stroke-width="3"/>
<line x1="1211.5" y1="845.9" x2="2070" y2="845.9" stroke="#000" stroke-width="3"/>
<text x="1737" y="599.9" font-size="28.6" text-anchor="middle">TEAD4</text>
<text x="1860.5" y="599.9" font-size="28.6" text-anchor="middle">1e-607</text>
<text x="1992" y="599.9" font-size="28.6" text-anchor="middle">3241</text>
<text x="1737" y="659.2" font-size="28.6" text-anchor="middle">TEAD</text>
<text x="1860.5" y="659.2" font-size="28.6" text-anchor="middle">1e-569</text>
<text x="1992" y="659.2" font-size="28.6" text-anchor="middle">2908</text>
<text x="1737" y="718.5" font-size="28.6" text-anchor="middle">AP2γ</text>
<text x="1860.5" y="718.5" font-size="28.6" text-anchor="middle">1e-512</text>
<text x="1992" y="718.5" font-size="28.6" text-anchor="middle">2751</text>
<text x="1737" y="772.5" font-size="28.6" text-anchor="middle">AP2α</text>
<text x="1860.5" y="772.5" font-size="28.6" text-anchor="middle">1e-512</text>
<text x="1992" y="772.5" font-size="28.6" text-anchor="middle">2379</text>
<text x="1737" y="826.8" font-size="28.6" text-anchor="middle">GRHL2</text>
<text x="1860.5" y="826.8" font-size="28.6" text-anchor="middle">1e-486</text>
<text x="1992" y="826.8" font-size="28.6" text-anchor="middle">1840</text>
<g class="lg">
<text class="C" transform="matrix(0.353 0 0 0.262 1211.8 583.0)">C</text>
<text class="G" transform="matrix(0.338 0 0 0.129 1211.8 594.2)">G</text>
<text class="A" transform="matrix(0.348 0 0 0.122 1212.2 604.5)">A</text>
<text class="T" transform="matrix(0.389 0 0 0.093 1212.8 612.5)">T</text>
<text class="C" transform="matrix(0.353 0 0 0.286 1236.3 584.6)">C</text>
<text class="G" transform="matrix(0.338 0 0 0.129 1236.4 595.9)">G</text>
<text class="A" transform="matrix(0.348 0 0 0.110 1236.7 605.4)">A</text>
<text class="T" transform="matrix(0.389 0 0 0.082 1237.4 612.6)">T</text>
<text class="T" transform="matrix(0.389 0 0 0.224 1261.9 580.0)">T</text>
<text class="A" transform="matrix(0.348 0 0 0.228 1261.3 597.6)">A</text>
<text class="C" transform="matrix(0.353 0 0 0.085 1260.9 605.4)">C</text>
<text class="G" transform="matrix(0.338 0 0 0.078 1261.0 612.5)">G</text>
<text class="G" transform="matrix(0.338 0 0 0.629 1285.5 608.9)">G</text>
<text class="T" transform="matrix(0.389 0 0 0.020 1286.5 612.8)">T</text>
<text class="G" transform="matrix(0.338 0 0 0.664 1310.1 611.3)">G</text>
<text class="A" transform="matrix(0.348 0 0 0.500 1335.0 600.1)">A</text>
<text class="T" transform="matrix(0.389 0 0 0.070 1335.6 606.8)">T</text>
<text class="C" transform="matrix(0.353 0 0 0.063 1334.6 612.6)">C</text>
<text class="A" transform="matrix(0.348 0 0 0.650 1359.5 610.5)">A</text>
<text class="C" transform="matrix(0.353 0 0 0.008 1359.1 612.9)">C</text>
<text class="T" transform="matrix(0.389 0 0 0.667 1384.7 612.2)">T</text>
<text class="G" transform="matrix(0.338 0 0 0.379 1408.3 591.2)">G</text>
<text class="T" transform="matrix(0.389 0 0 0.146 1409.3 603.6)">T</text>
<text class="C" transform="matrix(0.353 0 0 0.100 1408.3 612.3)">C</text>
<text class="C" transform="matrix(0.353 0 0 0.321 1432.8 587.1)">C</text>
<text class="T" transform="matrix(0.389 0 0 0.295 1433.9 609.7)">T</text>
<text class="A" transform="matrix(0.348 0 0 0.020 1433.2 612.8)">A</text>
<text class="C" transform="matrix(0.352 0 0 0.220 1211.8 638.6)">C</text>
<text class="T" transform="matrix(0.387 0 0 0.145 1212.8 650.7)">T</text>
<text class="A" transform="matrix(0.346 0 0 0.128 1212.2 661.4)">A</text>
<text class="G" transform="matrix(0.336 0 0 0.100 1211.9 670.0)">G</text>
<text class="C" transform="matrix(0.352 0 0 0.274 1236.3 642.4)">C</text>
<text class="A" transform="matrix(0.346 0 0 0.208 1236.6 659.0)">A</text>
<text class="T" transform="matrix(0.387 0 0 0.134 1237.3 670.0)">T</text>
<text class="T" transform="matrix(0.387 0 0 0.346 1261.7 646.9)">T</text>
<text class="A" transform="matrix(0.346 0 0 0.304 1261.1 669.9)">A</text>
<text class="G" transform="matrix(0.336 0 0 0.640 1285.2 669.1)">G</text>
<text class="G" transform="matrix(0.336 0 0 0.640 1309.7 669.1)">G</text>
<text class="A" transform="matrix(0.346 0 0 0.661 1334.5 669.9)">A</text>
<text class="A" transform="matrix(0.346 0 0 0.661 1358.9 669.9)">A</text>
<text class="T" transform="matrix(0.387 0 0 0.666 1384.0 669.9)">T</text>
<text class="G" transform="matrix(0.336 0 0 0.367 1407.5 649.0)">G</text>
<text class="T" transform="matrix(0.387 0 0 0.246 1408.5 668.2)">T</text>
<text class="A" transform="matrix(0.346 0 0 0.008 1407.8 670.6)">A</text>
<text class="C" transform="matrix(0.352 0 0 0.274 1431.9 642.4)">C</text>
<text class="T" transform="matrix(0.387 0 0 0.270 1433.0 663.2)">T</text>
<text class="A" transform="matrix(0.346 0 0 0.076 1432.3 670.3)">A</text>
<text class="G" transform="matrix(0.317 0 0 0.320 1212.5 706.6)">G</text>
<text class="C" transform="matrix(0.332 0 0 0.262 1212.5 727.4)">C</text>
<text class="C" transform="matrix(0.332 0 0 0.607 1235.6 726.9)">C</text>
<text class="C" transform="matrix(0.332 0 0 0.550 1258.8 722.9)">C</text>
<text class="T" transform="matrix(0.366 0 0 0.042 1259.8 728.3)">T</text>
<text class="T" transform="matrix(0.366 0 0 0.448 1282.9 715.0)">T</text>
<text class="C" transform="matrix(0.332 0 0 0.152 1282.0 727.5)">C</text>
<text class="C" transform="matrix(0.332 0 0 0.269 1305.1 703.1)">C</text>
<text class="G" transform="matrix(0.317 0 0 0.216 1305.2 720.5)">G</text>
<text class="T" transform="matrix(0.366 0 0 0.080 1306.1 728.1)">T</text>
<text class="A" transform="matrix(0.327 0 0 0.409 1328.7 712.5)">A</text>
<text class="G" transform="matrix(0.317 0 0 0.186 1328.4 727.5)">G</text>
<text class="G" transform="matrix(0.317 0 0 0.607 1351.5 726.9)">G</text>
<text class="G" transform="matrix(0.317 0 0 0.607 1374.7 726.9)">G</text>
<text class="G" transform="matrix(0.317 0 0 0.292 1397.9 704.7)">G</text>
<text class="C" transform="matrix(0.332 0 0 0.290 1397.8 727.3)">C</text>
<text class="C" transform="matrix(0.332 0 0 0.258 1421.0 702.3)">C</text>
<text class="A" transform="matrix(0.327 0 0 0.188 1421.3 717.5)">A</text>
<text class="T" transform="matrix(0.366 0 0 0.102 1421.9 726.3)">T</text>
<text class="C" transform="matrix(0.332 0 0 0.008 1421.0 728.4)">C</text>
<text class="A" transform="matrix(0.327 0 0 0.361 1444.5 709.2)">A</text>
<text class="G" transform="matrix(0.317 0 0 0.109 1444.2 718.7)">G</text>
<text class="T" transform="matrix(0.366 0 0 0.053 1445.1 724.1)">T</text>
<text class="C" transform="matrix(0.332 0 0 0.040 1444.1 728.2)">C</text>
<text class="T" transform="matrix(0.366 0 0 0.273 1468.3 702.9)">T</text>
<text class="A" transform="matrix(0.327 0 0 0.108 1467.7 712.3)">A</text>
<text class="G" transform="matrix(0.317 0 0 0.073 1467.4 718.9)">G</text>
<text class="C" transform="matrix(0.332 0 0 0.105 1467.3 727.8)">C</text>
<text class="A" transform="matrix(0.330 0 0 0.242 1212.5 756.2)">A</text>
<text class="T" transform="matrix(0.369 0 0 0.119 1213.1 766.2)">T</text>
<text class="C" transform="matrix(0.335 0 0 0.087 1212.2 774.0)">C</text>
<text class="G" transform="matrix(0.320 0 0 0.087 1212.2 781.7)">G</text>
<text class="T" transform="matrix(0.369 0 0 0.333 1236.5 762.4)">T</text>
<text class="A" transform="matrix(0.330 0 0 0.122 1235.9 772.7)">A</text>
<text class="G" transform="matrix(0.320 0 0 0.054 1235.6 778.0)">G</text>
<text class="C" transform="matrix(0.335 0 0 0.037 1235.5 782.0)">C</text>
<text class="G" transform="matrix(0.320 0 0 0.302 1258.9 762.0)">G</text>
<text class="T" transform="matrix(0.369 0 0 0.105 1259.8 771.4)">T</text>
<text class="A" transform="matrix(0.330 0 0 0.073 1259.2 778.0)">A</text>
<text class="G" transform="matrix(0.320 0 0 0.037 1258.9 782.0)">G</text>
<text class="C" transform="matrix(0.335 0 0 0.389 1282.2 766.8)">C</text>
<text class="G" transform="matrix(0.320 0 0 0.173 1282.3 781.3)">G</text>
<text class="C" transform="matrix(0.335 0 0 0.568 1305.6 780.8)">C</text>
<text class="C" transform="matrix(0.335 0 0 0.586 1329.0 780.7)">C</text>
<text class="T" transform="matrix(0.369 0 0 0.554 1353.3 777.6)">T</text>
<text class="C" transform="matrix(0.335 0 0 0.037 1352.3 782.0)">C</text>
<text class="G" transform="matrix(0.320 0 0 0.263 1375.7 759.2)">G</text>
<text class="C" transform="matrix(0.335 0 0 0.166 1375.7 773.0)">C</text>
<text class="A" transform="matrix(0.330 0 0 0.097 1376.0 781.8)">A</text>
<text class="A" transform="matrix(0.330 0 0 0.457 1399.4 772.5)">A</text>
<text class="G" transform="matrix(0.320 0 0 0.104 1399.1 781.6)">G</text>
<text class="G" transform="matrix(0.320 0 0 0.568 1422.4 780.8)">G</text>
<text class="G" transform="matrix(0.320 0 0 0.568 1445.8 780.8)">G</text>
<text class="C" transform="matrix(0.335 0 0 0.353 1469.1 764.3)">C</text>
<text class="G" transform="matrix(0.320 0 0 0.209 1469.2 781.2)">G</text>
<text class="A" transform="matrix(0.320 0 0 0.309 1210.3 816.3)">A</text>
<text class="G" transform="matrix(0.310 0 0 0.088 1210.1 824.3)">G</text>
<text class="T" transform="matrix(0.358 0 0 0.056 1210.9 829.7)">T</text>
<text class="C" transform="matrix(0.325 0 0 0.071 1210.0 836.0)">C</text>
<text class="A" transform="matrix(0.320 0 0 0.328 1233.1 817.6)">A</text>
<text class="G" transform="matrix(0.310 0 0 0.088 1232.8 825.6)">G</text>
<text class="T" transform="matrix(0.358 0 0 0.056 1233.7 831.0)">T</text>
<text class="C" transform="matrix(0.325 0 0 0.054 1232.7 836.1)">C</text>
<text class="A" transform="matrix(0.320 0 0 0.328 1255.8 817.6)">A</text>
<text class="G" transform="matrix(0.310 0 0 0.098 1255.5 826.3)">G</text>
<text class="T" transform="matrix(0.358 0 0 0.056 1256.4 831.8)">T</text>
<text class="C" transform="matrix(0.325 0 0 0.044 1255.4 836.2)">C</text>
<text class="C" transform="matrix(0.325 0 0 0.534 1278.1 832.4)">C</text>
<text class="G" transform="matrix(0.310 0 0 0.020 1278.2 836.3)">G</text>
<text class="C" transform="matrix(0.325 0 0 0.245 1300.8 810.8)">C</text>
<text class="T" transform="matrix(0.358 0 0 0.144 1301.8 822.9)">T</text>
<text class="A" transform="matrix(0.320 0 0 0.161 1301.2 835.7)">A</text>
<text class="G" transform="matrix(0.310 0 0 0.220 1323.6 810.3)">G</text>
<text class="T" transform="matrix(0.358 0 0 0.169 1324.5 824.1)">T</text>
<text class="A" transform="matrix(0.320 0 0 0.143 1323.9 835.8)">A</text>
<text class="G" transform="matrix(0.310 0 0 0.552 1346.3 833.7)">G</text>
<text class="A" transform="matrix(0.320 0 0 0.003 1346.6 836.4)">A</text>
<text class="T" transform="matrix(0.358 0 0 0.342 1369.9 817.1)">T</text>
<text class="C" transform="matrix(0.325 0 0 0.128 1369.0 827.9)">C</text>
<text class="A" transform="matrix(0.320 0 0 0.091 1369.3 836.0)">A</text>
<text class="T" transform="matrix(0.358 0 0 0.312 1392.6 815.0)">T</text>
<text class="C" transform="matrix(0.325 0 0 0.122 1391.7 825.4)">C</text>
<text class="A" transform="matrix(0.320 0 0 0.126 1392.0 835.9)">A</text>
<text class="T" transform="matrix(0.358 0 0 0.229 1415.3 809.3)">T</text>
<text class="A" transform="matrix(0.320 0 0 0.150 1414.7 821.5)">A</text>
<text class="C" transform="matrix(0.325 0 0 0.105 1414.4 830.6)">C</text>
<text class="G" transform="matrix(0.310 0 0 0.054 1414.4 836.1)">G</text>
<text class="A" transform="matrix(0.320 0 0 0.179 1437.4 808.5)">A</text>
<text class="T" transform="matrix(0.358 0 0 0.180 1438.0 822.8)">T</text>
<text class="G" transform="matrix(0.310 0 0 0.122 1437.2 833.1)">G</text>
<text class="C" transform="matrix(0.325 0 0 0.020 1437.1 836.3)">C</text>
<text class="A" transform="matrix(0.320 0 0 0.216 1460.2 811.1)">A</text>
<text class="T" transform="matrix(0.358 0 0 0.162 1460.8 824.1)">T</text>
<text class="G" transform="matrix(0.310 0 0 0.122 1459.9 834.4)">G</text>
<text class="C" transform="matrix(0.325 0 0 0.003 1459.8 836.4)">C</text>
<text class="C" transform="matrix(0.325 0 0 0.552 1482.5 833.7)">C</text>
<text class="A" transform="matrix(0.320 0 0 0.003 1482.9 836.4)">A</text>
<text class="C" transform="matrix(0.325 0 0 0.209 1505.2 808.3)">C</text>
<text class="A" transform="matrix(0.320 0 0 0.198 1505.6 824.1)">A</text>
<text class="T" transform="matrix(0.358 0 0 0.144 1506.2 835.8)">T</text>
<text class="A" transform="matrix(0.320 0 0 0.227 1528.3 810.6)">A</text>
<text class="G" transform="matrix(0.310 0 0 0.180 1528.0 825.1)">G</text>
<text class="T" transform="matrix(0.358 0 0 0.127 1528.9 835.9)">T</text>
<text class="G" transform="matrix(0.310 0 0 0.534 1550.7 832.4)">G</text>
<text class="A" transform="matrix(0.320 0 0 0.021 1551.0 836.3)">A</text>
<text class="T" transform="matrix(0.358 0 0 0.424 1574.3 822.8)">T</text>
<text class="A" transform="matrix(0.320 0 0 0.091 1573.7 830.9)">A</text>
<text class="C" transform="matrix(0.325 0 0 0.054 1573.4 836.1)">C</text>
<text class="T" transform="matrix(0.358 0 0 0.424 1597.0 822.8)">T</text>
<text class="C" transform="matrix(0.325 0 0 0.088 1596.1 830.7)">C</text>
<text class="A" transform="matrix(0.320 0 0 0.056 1596.4 836.2)">A</text>
<text class="T" transform="matrix(0.358 0 0 0.304 1619.7 814.5)">T</text>
<text class="C" transform="matrix(0.325 0 0 0.128 1618.8 825.3)">C</text>
<text class="A" transform="matrix(0.320 0 0 0.073 1619.1 832.2)">A</text>
<text class="G" transform="matrix(0.310 0 0 0.037 1618.8 836.2)">G</text>
<text class="T" transform="matrix(0.358 0 0 0.199 1642.4 807.2)">T</text>
<text class="C" transform="matrix(0.325 0 0 0.139 1641.5 818.8)">C</text>
<text class="G" transform="matrix(0.310 0 0 0.122 1641.5 829.3)">G</text>
<text class="A" transform="matrix(0.320 0 0 0.073 1641.8 836.1)">A</text>
</g>
<text x="1658" y="972.8" font-size="29.2" text-anchor="middle">Increased Peaks in H3K27ac CUT&amp;Tag Motifs</text>
<text x="1319" y="1021.4" font-size="28.6" text-anchor="middle">Motif</text>
<text x="1736" y="1021.4" font-size="28.6" text-anchor="middle">TF</text>
<text x="1861" y="1017.9" font-size="28.6" text-anchor="middle">p-value</text>
<text x="1992" y="1003.9" font-size="28.6" text-anchor="middle">#Sequence</text>
<text x="1992" y="1038.9" font-size="28.6" text-anchor="middle">with motif</text>
<line x1="1670" y1="982.7" x2="1670" y2="1329.2" stroke="#000" stroke-width="3"/>
<line x1="1806.3" y1="982.7" x2="1806.3" y2="1329.2" stroke="#000" stroke-width="3"/>
<line x1="1915.3" y1="982.7" x2="1915.3" y2="1329.2" stroke="#000" stroke-width="3"/>
<line x1="1211.5" y1="1044.6" x2="2070" y2="1044.6" stroke="#000" stroke-width="3"/>
<line x1="1211.5" y1="1102.8" x2="2070" y2="1102.8" stroke="#000" stroke-width="3"/>
<line x1="1211.5" y1="1163" x2="2070" y2="1163" stroke="#000" stroke-width="3"/>
<line x1="1211.5" y1="1219" x2="2070" y2="1219" stroke="#000" stroke-width="3"/>
<line x1="1211.5" y1="1270.5" x2="2070" y2="1270.5" stroke="#000" stroke-width="3"/>
<line x1="1211.5" y1="1327.7" x2="2070" y2="1327.7" stroke="#000" stroke-width="3"/>
<text x="1737" y="1083.2" font-size="28.6" text-anchor="middle">IRF2</text>
<text x="1860.5" y="1083.2" font-size="28.6" text-anchor="middle">1e-10</text>
<text x="1992" y="1083.2" font-size="28.6" text-anchor="middle">136</text>
<text x="1737" y="1142.4" font-size="28.6" text-anchor="middle">ISRE</text>
<text x="1860.5" y="1142.4" font-size="28.6" text-anchor="middle">1e-10</text>
<text x="1992" y="1142.4" font-size="28.6" text-anchor="middle">99</text>
<text x="1737" y="1200.5" font-size="28.6" text-anchor="middle">ETS1</text>
<text x="1860.5" y="1200.5" font-size="28.6" text-anchor="middle">1e-8</text>
<text x="1992" y="1200.5" font-size="28.6" text-anchor="middle">254</text>
<text x="1737" y="1254.2" font-size="28.6" text-anchor="middle">IRF1</text>
<text x="1860.5" y="1254.2" font-size="28.6" text-anchor="middle">1e-7</text>
<text x="1992" y="1254.2" font-size="28.6" text-anchor="middle">162</text>
<text x="1737" y="1308.6" font-size="28.6" text-anchor="middle">IRF8</text>
<text x="1860.5" y="1308.6" font-size="28.6" text-anchor="middle">1e-6</text>
<text x="1992" y="1308.6" font-size="28.6" text-anchor="middle">189</text>
<g class="lg">
<text class="G" transform="matrix(0.339 0 0 0.318 1209.7 1072.6)">G</text>
<text class="A" transform="matrix(0.350 0 0 0.104 1210.1 1082.1)">A</text>
<text class="T" transform="matrix(0.391 0 0 0.093 1210.7 1090.0)">T</text>
<text class="C" transform="matrix(0.355 0 0 0.090 1209.7 1097.8)">C</text>
<text class="A" transform="matrix(0.350 0 0 0.399 1234.7 1078.8)">A</text>
<text class="G" transform="matrix(0.339 0 0 0.113 1234.4 1088.5)">G</text>
<text class="C" transform="matrix(0.355 0 0 0.060 1234.4 1094.5)">C</text>
<text class="T" transform="matrix(0.391 0 0 0.033 1235.4 1098.2)">T</text>
<text class="A" transform="matrix(0.350 0 0 0.492 1259.4 1085.3)">A</text>
<text class="G" transform="matrix(0.339 0 0 0.067 1259.1 1091.8)">G</text>
<text class="T" transform="matrix(0.391 0 0 0.033 1260.1 1095.6)">T</text>
<text class="C" transform="matrix(0.355 0 0 0.021 1259.0 1098.2)">C</text>
<text class="A" transform="matrix(0.350 0 0 0.518 1284.1 1087.1)">A</text>
<text class="T" transform="matrix(0.391 0 0 0.057 1284.8 1092.8)">T</text>
<text class="G" transform="matrix(0.339 0 0 0.055 1283.8 1098.0)">G</text>
<text class="G" transform="matrix(0.339 0 0 0.215 1308.5 1065.3)">G</text>
<text class="C" transform="matrix(0.355 0 0 0.220 1308.4 1082.9)">C</text>
<text class="A" transform="matrix(0.350 0 0 0.097 1308.8 1091.8)">A</text>
<text class="T" transform="matrix(0.391 0 0 0.069 1309.4 1098.0)">T</text>
<text class="T" transform="matrix(0.391 0 0 0.241 1334.1 1066.9)">T</text>
<text class="C" transform="matrix(0.355 0 0 0.220 1333.1 1084.1)">C</text>
<text class="A" transform="matrix(0.350 0 0 0.081 1333.5 1091.8)">A</text>
<text class="G" transform="matrix(0.339 0 0 0.067 1333.2 1097.9)">G</text>
<text class="G" transform="matrix(0.339 0 0 0.415 1357.8 1079.5)">G</text>
<text class="A" transform="matrix(0.350 0 0 0.140 1358.2 1091.6)">A</text>
<text class="C" transform="matrix(0.355 0 0 0.067 1357.8 1097.9)">C</text>
<text class="A" transform="matrix(0.350 0 0 0.442 1382.8 1081.8)">A</text>
<text class="G" transform="matrix(0.339 0 0 0.090 1382.5 1089.9)">G</text>
<text class="C" transform="matrix(0.355 0 0 0.090 1382.5 1097.8)">C</text>
<text class="A" transform="matrix(0.350 0 0 0.467 1407.5 1083.5)">A</text>
<text class="C" transform="matrix(0.355 0 0 0.067 1407.1 1090.0)">C</text>
<text class="T" transform="matrix(0.391 0 0 0.093 1408.2 1097.9)">T</text>
<text class="A" transform="matrix(0.350 0 0 0.480 1432.2 1084.4)">A</text>
<text class="C" transform="matrix(0.355 0 0 0.078 1431.8 1091.7)">C</text>
<text class="T" transform="matrix(0.391 0 0 0.069 1432.9 1098.0)">T</text>
<text class="G" transform="matrix(0.339 0 0 0.264 1456.6 1069.7)">G</text>
<text class="C" transform="matrix(0.355 0 0 0.249 1456.5 1089.4)">C</text>
<text class="A" transform="matrix(0.350 0 0 0.057 1456.9 1095.4)">A</text>
<text class="T" transform="matrix(0.391 0 0 0.021 1457.5 1098.2)">T</text>
<text class="T" transform="matrix(0.391 0 0 0.254 1482.2 1067.7)">T</text>
<text class="C" transform="matrix(0.355 0 0 0.207 1481.2 1084.2)">C</text>
<text class="G" transform="matrix(0.339 0 0 0.090 1481.3 1092.5)">G</text>
<text class="A" transform="matrix(0.350 0 0 0.057 1481.6 1098.1)">A</text>
<text class="A" transform="matrix(0.349 0 0 0.424 1211.8 1138.5)">A</text>
<text class="G" transform="matrix(0.338 0 0 0.117 1211.4 1148.6)">G</text>
<text class="T" transform="matrix(0.390 0 0 0.069 1212.4 1155.1)">T</text>
<text class="G" transform="matrix(0.338 0 0 0.410 1236.1 1138.0)">G</text>
<text class="C" transform="matrix(0.354 0 0 0.175 1236.0 1152.7)">C</text>
<text class="A" transform="matrix(0.349 0 0 0.009 1236.4 1155.4)">A</text>
<text class="T" transform="matrix(0.390 0 0 0.635 1261.6 1153.8)">T</text>
<text class="C" transform="matrix(0.354 0 0 -0.002 1260.6 1155.5)">C</text>
<text class="T" transform="matrix(0.390 0 0 0.635 1286.3 1153.8)">T</text>
<text class="A" transform="matrix(0.349 0 0 -0.003 1285.6 1155.4)">A</text>
<text class="T" transform="matrix(0.390 0 0 0.635 1310.9 1153.8)">T</text>
<text class="G" transform="matrix(0.338 0 0 -0.002 1309.9 1155.5)">G</text>
<text class="C" transform="matrix(0.354 0 0 0.623 1334.5 1153.0)">C</text>
<text class="A" transform="matrix(0.349 0 0 -0.003 1334.8 1155.4)">A</text>
<text class="A" transform="matrix(0.349 0 0 0.366 1359.5 1134.5)">A</text>
<text class="G" transform="matrix(0.338 0 0 0.135 1359.1 1145.9)">G</text>
<text class="T" transform="matrix(0.390 0 0 0.105 1360.1 1155.0)">T</text>
<text class="G" transform="matrix(0.338 0 0 0.263 1383.8 1127.7)">G</text>
<text class="C" transform="matrix(0.354 0 0 0.200 1383.7 1143.9)">C</text>
<text class="A" transform="matrix(0.349 0 0 0.081 1384.1 1151.6)">A</text>
<text class="T" transform="matrix(0.390 0 0 0.033 1384.7 1155.3)">T</text>
<text class="T" transform="matrix(0.390 0 0 0.635 1409.3 1153.8)">T</text>
<text class="C" transform="matrix(0.354 0 0 -0.002 1408.3 1155.5)">C</text>
<text class="T" transform="matrix(0.390 0 0 0.635 1434.0 1153.8)">T</text>
<text class="A" transform="matrix(0.349 0 0 -0.003 1433.3 1155.4)">A</text>
<text class="T" transform="matrix(0.390 0 0 0.597 1458.6 1151.2)">T</text>
<text class="C" transform="matrix(0.354 0 0 0.032 1457.6 1155.2)">C</text>
<text class="C" transform="matrix(0.354 0 0 0.550 1482.2 1147.8)">C</text>
<text class="T" transform="matrix(0.390 0 0 0.069 1483.2 1155.1)">T</text>
<text class="A" transform="matrix(0.361 0 0 0.290 1212.6 1187.3)">A</text>
<text class="C" transform="matrix(0.366 0 0 0.207 1212.2 1203.7)">C</text>
<text class="G" transform="matrix(0.350 0 0 0.124 1212.3 1214.5)">G</text>
<text class="A" transform="matrix(0.361 0 0 0.568 1238.0 1207.5)">A</text>
<text class="T" transform="matrix(0.404 0 0 0.081 1238.7 1214.9)">T</text>
<text class="C" transform="matrix(0.366 0 0 0.611 1263.1 1210.2)">C</text>
<text class="T" transform="matrix(0.404 0 0 0.033 1264.1 1215.1)">T</text>
<text class="A" transform="matrix(0.361 0 0 0.669 1288.8 1214.5)">A</text>
<text class="G" transform="matrix(0.350 0 0 0.660 1313.9 1213.6)">G</text>
<text class="G" transform="matrix(0.350 0 0 0.660 1339.3 1213.6)">G</text>
<text class="A" transform="matrix(0.361 0 0 0.644 1365.1 1212.7)">A</text>
<text class="T" transform="matrix(0.404 0 0 0.009 1365.8 1215.2)">T</text>
<text class="A" transform="matrix(0.361 0 0 0.543 1390.5 1205.7)">A</text>
<text class="T" transform="matrix(0.404 0 0 0.105 1391.2 1214.8)">T</text>
<text class="G" transform="matrix(0.350 0 0 0.459 1415.6 1199.5)">G</text>
<text class="A" transform="matrix(0.361 0 0 0.181 1415.9 1214.5)">A</text>
<text class="T" transform="matrix(0.404 0 0 0.465 1442.0 1200.1)">T</text>
<text class="C" transform="matrix(0.366 0 0 0.176 1440.9 1214.3)">C</text>
<text class="G" transform="matrix(0.330 0 0 0.514 1212.4 1259.6)">G</text>
<text class="A" transform="matrix(0.340 0 0 0.069 1212.7 1266.9)">A</text>
<text class="C" transform="matrix(0.345 0 0 0.009 1212.3 1268.9)">C</text>
<text class="A" transform="matrix(0.340 0 0 0.569 1236.7 1263.8)">A</text>
<text class="G" transform="matrix(0.330 0 0 0.044 1236.4 1268.7)">G</text>
<text class="A" transform="matrix(0.340 0 0 0.632 1260.7 1268.2)">A</text>
<text class="A" transform="matrix(0.340 0 0 0.632 1284.8 1268.2)">A</text>
<text class="G" transform="matrix(0.330 0 0 0.325 1308.5 1246.3)">G</text>
<text class="C" transform="matrix(0.345 0 0 0.208 1308.5 1263.2)">C</text>
<text class="A" transform="matrix(0.340 0 0 0.050 1308.8 1268.7)">A</text>
<text class="T" transform="matrix(0.380 0 0 0.445 1333.5 1254.1)">T</text>
<text class="A" transform="matrix(0.340 0 0 0.081 1332.8 1261.5)">A</text>
<text class="C" transform="matrix(0.345 0 0 0.078 1332.5 1268.5)">C</text>
<text class="G" transform="matrix(0.330 0 0 0.624 1356.6 1267.4)">G</text>
<text class="A" transform="matrix(0.340 0 0 0.607 1380.9 1266.4)">A</text>
<text class="C" transform="matrix(0.345 0 0 0.009 1380.6 1268.9)">C</text>
<text class="A" transform="matrix(0.340 0 0 0.632 1404.9 1268.2)">A</text>
<text class="A" transform="matrix(0.340 0 0 0.632 1429.0 1268.2)">A</text>
<text class="G" transform="matrix(0.330 0 0 0.350 1452.7 1248.1)">G</text>
<text class="C" transform="matrix(0.345 0 0 0.200 1452.7 1264.4)">C</text>
<text class="A" transform="matrix(0.340 0 0 0.033 1453.0 1268.8)">A</text>
<text class="T" transform="matrix(0.380 0 0 0.364 1477.7 1248.5)">T</text>
<text class="C" transform="matrix(0.345 0 0 0.140 1476.7 1260.2)">C</text>
<text class="A" transform="matrix(0.340 0 0 0.069 1477.0 1266.9)">A</text>
<text class="G" transform="matrix(0.330 0 0 0.009 1476.7 1268.9)">G</text>
<text class="G" transform="matrix(0.323 0 0 0.489 1214.2 1310.7)">G</text>
<text class="A" transform="matrix(0.333 0 0 0.104 1214.5 1320.4)">A</text>
<text class="G" transform="matrix(0.323 0 0 0.575 1237.8 1316.7)">G</text>
<text class="A" transform="matrix(0.333 0 0 0.021 1238.1 1320.7)">A</text>
<text class="A" transform="matrix(0.333 0 0 0.619 1261.7 1320.1)">A</text>
<text class="A" transform="matrix(0.333 0 0 0.619 1285.3 1320.1)">A</text>
<text class="G" transform="matrix(0.323 0 0 0.362 1308.5 1301.7)">G</text>
<text class="C" transform="matrix(0.338 0 0 0.113 1308.5 1311.9)">C</text>
<text class="A" transform="matrix(0.333 0 0 0.097 1308.8 1320.4)">A</text>
<text class="T" transform="matrix(0.373 0 0 0.573 1333.0 1315.7)">T</text>
<text class="A" transform="matrix(0.333 0 0 0.045 1332.4 1320.6)">A</text>
<text class="G" transform="matrix(0.323 0 0 0.611 1355.7 1319.3)">G</text>
<text class="A" transform="matrix(0.333 0 0 0.556 1379.6 1315.7)">A</text>
<text class="G" transform="matrix(0.323 0 0 0.044 1379.3 1320.6)">G</text>
<text class="A" transform="matrix(0.333 0 0 0.543 1403.2 1314.8)">A</text>
<text class="G" transform="matrix(0.323 0 0 0.055 1402.9 1320.5)">G</text>
<text class="A" transform="matrix(0.333 0 0 0.619 1426.8 1320.1)">A</text>
<text class="G" transform="matrix(0.323 0 0 0.252 1450.0 1293.9)">G</text>
<text class="C" transform="matrix(0.338 0 0 0.249 1450.0 1313.6)">C</text>
<text class="A" transform="matrix(0.333 0 0 0.069 1450.3 1320.5)">A</text>
<text class="T" transform="matrix(0.373 0 0 0.369 1474.5 1301.6)">T</text>
<text class="C" transform="matrix(0.338 0 0 0.124 1473.6 1312.2)">C</text>
<text class="A" transform="matrix(0.333 0 0 0.093 1473.9 1320.4)">A</text>
</g>
<text x="1658" y="1394.6" font-size="29.2" text-anchor="middle">Decreased Peaks in H3K27ac CUT&amp;Tag Motifs</text>
<text x="1319" y="1451.4" font-size="28.6" text-anchor="middle">Motif</text>
<text x="1736" y="1451.4" font-size="28.6" text-anchor="middle">TF</text>
<text x="1861" y="1447.9" font-size="28.6" text-anchor="middle">p-value</text>
<text x="1992" y="1433.9" font-size="28.6" text-anchor="middle">#Sequence</text>
<text x="1992" y="1468.9" font-size="28.6" text-anchor="middle">with motif</text>
<line x1="1670" y1="1412.3" x2="1670" y2="1758.7" stroke="#000" stroke-width="3"/>
<line x1="1806.3" y1="1412.3" x2="1806.3" y2="1758.7" stroke="#000" stroke-width="3"/>
<line x1="1915.3" y1="1412.3" x2="1915.3" y2="1758.7" stroke="#000" stroke-width="3"/>
<line x1="1211.5" y1="1474.6" x2="2070" y2="1474.6" stroke="#000" stroke-width="3"/>
<line x1="1211.5" y1="1532.8" x2="2070" y2="1532.8" stroke="#000" stroke-width="3"/>
<line x1="1211.5" y1="1593" x2="2070" y2="1593" stroke="#000" stroke-width="3"/>
<line x1="1211.5" y1="1649" x2="2070" y2="1649" stroke="#000" stroke-width="3"/>
<line x1="1211.5" y1="1700.8" x2="2070" y2="1700.8" stroke="#000" stroke-width="3"/>
<line x1="1211.5" y1="1757.2" x2="2070" y2="1757.2" stroke="#000" stroke-width="3"/>
<text x="1737" y="1513.2" font-size="28.6" text-anchor="middle">GRHL2</text>
<text x="1860.5" y="1513.2" font-size="28.6" text-anchor="middle">1e-34</text>
<text x="1992" y="1513.2" font-size="28.6" text-anchor="middle">1099</text>
<text x="1737" y="1572.4" font-size="28.6" text-anchor="middle">Jun-AP1</text>
<text x="1860.5" y="1572.4" font-size="28.6" text-anchor="middle">1e-20</text>
<text x="1992" y="1572.4" font-size="28.6" text-anchor="middle">657</text>
<text x="1737" y="1630.5" font-size="28.6" text-anchor="middle">Fosl2</text>
<text x="1860.5" y="1630.5" font-size="28.6" text-anchor="middle">1e-18</text>
<text x="1992" y="1630.5" font-size="28.6" text-anchor="middle">834</text>
<text x="1737" y="1684.4" font-size="28.6" text-anchor="middle">JunD</text>
<text x="1860.5" y="1684.4" font-size="28.6" text-anchor="middle">1e-10</text>
<text x="1992" y="1684.4" font-size="28.6" text-anchor="middle">229</text>
<text x="1737" y="1738.5" font-size="28.6" text-anchor="middle">Bach2</text>
<text x="1860.5" y="1738.5" font-size="28.6" text-anchor="middle">1e-9</text>
<text x="1992" y="1738.5" font-size="28.6" text-anchor="middle">493</text>
<g class="lg">
<text class="A" transform="matrix(0.315 0 0 0.315 1211.9 1501.6)">A</text>
<text class="G" transform="matrix(0.306 0 0 0.090 1211.6 1509.8)">G</text>
<text class="T" transform="matrix(0.353 0 0 0.057 1212.4 1515.3)">T</text>
<text class="C" transform="matrix(0.320 0 0 0.072 1211.5 1521.7)">C</text>
<text class="A" transform="matrix(0.315 0 0 0.334 1234.3 1503.0)">A</text>
<text class="G" transform="matrix(0.306 0 0 0.090 1234.0 1511.1)">G</text>
<text class="T" transform="matrix(0.353 0 0 0.057 1234.8 1516.6)">T</text>
<text class="C" transform="matrix(0.320 0 0 0.055 1233.9 1521.8)">C</text>
<text class="A" transform="matrix(0.315 0 0 0.334 1256.7 1503.0)">A</text>
<text class="G" transform="matrix(0.306 0 0 0.100 1256.4 1511.8)">G</text>
<text class="T" transform="matrix(0.353 0 0 0.057 1257.2 1517.4)">T</text>
<text class="C" transform="matrix(0.320 0 0 0.045 1256.3 1521.9)">C</text>
<text class="C" transform="matrix(0.320 0 0 0.544 1278.7 1518.1)">C</text>
<text class="G" transform="matrix(0.306 0 0 0.021 1278.8 1522.0)">G</text>
<text class="C" transform="matrix(0.320 0 0 0.250 1301.1 1496.0)">C</text>
<text class="T" transform="matrix(0.353 0 0 0.147 1302.0 1508.3)">T</text>
<text class="A" transform="matrix(0.315 0 0 0.164 1301.5 1521.4)">A</text>
<text class="G" transform="matrix(0.306 0 0 0.225 1323.6 1495.5)">G</text>
<text class="T" transform="matrix(0.353 0 0 0.173 1324.4 1509.5)">T</text>
<text class="A" transform="matrix(0.315 0 0 0.146 1323.9 1521.5)">A</text>
<text class="G" transform="matrix(0.306 0 0 0.562 1346.0 1519.4)">G</text>
<text class="A" transform="matrix(0.315 0 0 0.003 1346.3 1522.1)">A</text>
<text class="T" transform="matrix(0.353 0 0 0.348 1369.2 1502.4)">T</text>
<text class="C" transform="matrix(0.320 0 0 0.131 1368.3 1513.5)">C</text>
<text class="A" transform="matrix(0.315 0 0 0.093 1368.7 1521.7)">A</text>
<text class="T" transform="matrix(0.353 0 0 0.318 1391.6 1500.3)">T</text>
<text class="C" transform="matrix(0.320 0 0 0.124 1390.7 1510.9)">C</text>
<text class="A" transform="matrix(0.315 0 0 0.128 1391.1 1521.6)">A</text>
<text class="T" transform="matrix(0.353 0 0 0.234 1414.0 1494.5)">T</text>
<text class="A" transform="matrix(0.315 0 0 0.153 1413.5 1507.0)">A</text>
<text class="C" transform="matrix(0.320 0 0 0.107 1413.1 1516.2)">C</text>
<text class="G" transform="matrix(0.306 0 0 0.055 1413.2 1521.8)">G</text>
<text class="A" transform="matrix(0.315 0 0 0.183 1435.9 1493.7)">A</text>
<text class="T" transform="matrix(0.353 0 0 0.184 1436.4 1508.2)">T</text>
<text class="G" transform="matrix(0.306 0 0 0.124 1435.6 1518.8)">G</text>
<text class="C" transform="matrix(0.320 0 0 0.021 1435.5 1522.0)">C</text>
<text class="A" transform="matrix(0.315 0 0 0.221 1458.3 1496.4)">A</text>
<text class="T" transform="matrix(0.353 0 0 0.165 1458.8 1509.6)">T</text>
<text class="G" transform="matrix(0.306 0 0 0.124 1458.0 1520.1)">G</text>
<text class="C" transform="matrix(0.320 0 0 0.003 1457.9 1522.1)">C</text>
<text class="C" transform="matrix(0.320 0 0 0.562 1480.3 1519.4)">C</text>
<text class="A" transform="matrix(0.315 0 0 0.003 1480.7 1522.1)">A</text>
<text class="C" transform="matrix(0.320 0 0 0.214 1502.7 1493.5)">C</text>
<text class="A" transform="matrix(0.315 0 0 0.202 1503.1 1509.5)">A</text>
<text class="T" transform="matrix(0.353 0 0 0.147 1503.6 1521.5)">T</text>
<text class="A" transform="matrix(0.315 0 0 0.232 1525.5 1495.8)">A</text>
<text class="G" transform="matrix(0.306 0 0 0.184 1525.2 1510.6)">G</text>
<text class="T" transform="matrix(0.353 0 0 0.129 1526.0 1521.6)">T</text>
<text class="G" transform="matrix(0.306 0 0 0.544 1547.6 1518.1)">G</text>
<text class="A" transform="matrix(0.315 0 0 0.021 1547.9 1522.0)">A</text>
<text class="T" transform="matrix(0.353 0 0 0.432 1570.8 1508.2)">T</text>
<text class="A" transform="matrix(0.315 0 0 0.093 1570.3 1516.5)">A</text>
<text class="C" transform="matrix(0.320 0 0 0.055 1569.9 1521.8)">C</text>
<text class="T" transform="matrix(0.353 0 0 0.432 1593.2 1508.2)">T</text>
<text class="C" transform="matrix(0.320 0 0 0.090 1592.3 1516.3)">C</text>
<text class="A" transform="matrix(0.315 0 0 0.057 1592.7 1521.9)">A</text>
<text class="T" transform="matrix(0.353 0 0 0.310 1615.6 1499.8)">T</text>
<text class="C" transform="matrix(0.320 0 0 0.131 1614.7 1510.8)">C</text>
<text class="A" transform="matrix(0.315 0 0 0.075 1615.1 1517.9)">A</text>
<text class="G" transform="matrix(0.306 0 0 0.038 1614.8 1521.9)">G</text>
<text class="T" transform="matrix(0.353 0 0 0.203 1638.0 1492.4)">T</text>
<text class="C" transform="matrix(0.320 0 0 0.141 1637.1 1504.2)">C</text>
<text class="G" transform="matrix(0.306 0 0 0.124 1637.2 1514.8)">G</text>
<text class="A" transform="matrix(0.315 0 0 0.075 1637.5 1521.8)">A</text>
<text class="G" transform="matrix(0.312 0 0 0.225 1210.8 1555.8)">G</text>
<text class="A" transform="matrix(0.321 0 0 0.138 1211.0 1567.5)">A</text>
<text class="T" transform="matrix(0.359 0 0 0.112 1211.6 1576.9)">T</text>
<text class="C" transform="matrix(0.326 0 0 0.069 1210.7 1583.3)">C</text>
<text class="A" transform="matrix(0.321 0 0 0.296 1233.8 1560.6)">A</text>
<text class="G" transform="matrix(0.312 0 0 0.123 1233.5 1571.1)">G</text>
<text class="C" transform="matrix(0.326 0 0 0.099 1233.5 1579.8)">C</text>
<text class="T" transform="matrix(0.359 0 0 0.031 1234.4 1583.6)">T</text>
<text class="T" transform="matrix(0.359 0 0 0.599 1257.2 1582.2)">T</text>
<text class="A" transform="matrix(0.321 0 0 -0.003 1256.6 1583.8)">A</text>
<text class="G" transform="matrix(0.312 0 0 0.587 1279.1 1582.2)">G</text>
<text class="A" transform="matrix(0.321 0 0 0.607 1302.2 1583.0)">A</text>
<text class="C" transform="matrix(0.326 0 0 0.257 1324.6 1558.1)">C</text>
<text class="G" transform="matrix(0.312 0 0 0.271 1324.7 1579.3)">G</text>
<text class="T" transform="matrix(0.359 0 0 0.031 1325.6 1583.6)">T</text>
<text class="T" transform="matrix(0.359 0 0 0.611 1348.3 1583.0)">T</text>
<text class="C" transform="matrix(0.326 0 0 0.587 1370.2 1582.2)">C</text>
<text class="A" transform="matrix(0.321 0 0 0.607 1393.3 1583.0)">A</text>
<text class="T" transform="matrix(0.359 0 0 0.262 1416.7 1558.1)">T</text>
<text class="C" transform="matrix(0.326 0 0 0.156 1415.7 1570.9)">C</text>
<text class="G" transform="matrix(0.312 0 0 0.121 1415.8 1581.4)">G</text>
<text class="A" transform="matrix(0.321 0 0 0.008 1416.1 1583.7)">A</text>
<text class="C" transform="matrix(0.326 0 0 0.225 1438.5 1555.8)">C</text>
<text class="T" transform="matrix(0.359 0 0 0.130 1439.5 1566.9)">T</text>
<text class="A" transform="matrix(0.321 0 0 0.120 1438.9 1576.9)">A</text>
<text class="G" transform="matrix(0.312 0 0 0.069 1438.6 1583.3)">G</text>
<text class="C" transform="matrix(0.326 0 0 0.164 1461.3 1551.6)">C</text>
<text class="A" transform="matrix(0.321 0 0 0.156 1461.7 1564.5)">A</text>
<text class="T" transform="matrix(0.359 0 0 0.121 1462.3 1574.6)">T</text>
<text class="G" transform="matrix(0.312 0 0 0.099 1461.4 1583.2)">G</text>
<text class="G" transform="matrix(0.309 0 0 0.168 1210.8 1609.9)">G</text>
<text class="A" transform="matrix(0.319 0 0 0.169 1211.0 1623.6)">A</text>
<text class="T" transform="matrix(0.356 0 0 0.101 1211.6 1632.4)">T</text>
<text class="C" transform="matrix(0.324 0 0 0.115 1210.7 1642.0)">C</text>
<text class="A" transform="matrix(0.319 0 0 0.261 1233.7 1616.2)">A</text>
<text class="G" transform="matrix(0.309 0 0 0.139 1233.4 1627.8)">G</text>
<text class="C" transform="matrix(0.324 0 0 0.104 1233.3 1636.9)">C</text>
<text class="T" transform="matrix(0.356 0 0 0.055 1234.3 1642.4)">T</text>
<text class="T" transform="matrix(0.356 0 0 0.526 1256.9 1635.1)">T</text>
<text class="A" transform="matrix(0.319 0 0 0.077 1256.3 1642.3)">A</text>
<text class="G" transform="matrix(0.309 0 0 0.458 1278.7 1631.1)">G</text>
<text class="T" transform="matrix(0.356 0 0 0.066 1279.5 1638.1)">T</text>
<text class="C" transform="matrix(0.324 0 0 0.041 1278.6 1642.4)">C</text>
<text class="A" transform="matrix(0.319 0 0 0.473 1301.6 1631.7)">A</text>
<text class="T" transform="matrix(0.356 0 0 0.066 1302.2 1638.1)">T</text>
<text class="C" transform="matrix(0.324 0 0 0.041 1301.2 1642.4)">C</text>
<text class="G" transform="matrix(0.309 0 0 0.246 1323.9 1615.3)">G</text>
<text class="C" transform="matrix(0.324 0 0 0.230 1323.9 1633.6)">C</text>
<text class="A" transform="matrix(0.319 0 0 0.093 1324.2 1642.2)">A</text>
<text class="T" transform="matrix(0.356 0 0 0.484 1347.4 1632.3)">T</text>
<text class="C" transform="matrix(0.324 0 0 0.035 1346.5 1636.5)">C</text>
<text class="A" transform="matrix(0.319 0 0 0.066 1346.8 1642.3)">A</text>
<text class="C" transform="matrix(0.324 0 0 0.470 1369.1 1631.1)">C</text>
<text class="A" transform="matrix(0.319 0 0 0.043 1369.5 1636.5)">A</text>
<text class="G" transform="matrix(0.309 0 0 0.064 1369.2 1642.3)">G</text>
<text class="A" transform="matrix(0.319 0 0 0.522 1392.1 1635.1)">A</text>
<text class="T" transform="matrix(0.356 0 0 0.078 1392.7 1642.3)">T</text>
<text class="T" transform="matrix(0.356 0 0 0.214 1415.3 1612.8)">T</text>
<text class="G" transform="matrix(0.309 0 0 0.152 1414.5 1625.3)">G</text>
<text class="C" transform="matrix(0.324 0 0 0.146 1414.4 1637.5)">C</text>
<text class="A" transform="matrix(0.319 0 0 0.043 1414.7 1642.4)">A</text>
<text class="C" transform="matrix(0.324 0 0 0.171 1437.0 1610.0)">C</text>
<text class="T" transform="matrix(0.356 0 0 0.147 1438.0 1622.2)">T</text>
<text class="A" transform="matrix(0.319 0 0 0.139 1437.4 1633.6)">A</text>
<text class="G" transform="matrix(0.309 0 0 0.097 1437.1 1642.1)">G</text>
<text class="C" transform="matrix(0.324 0 0 0.171 1459.7 1610.0)">C</text>
<text class="G" transform="matrix(0.309 0 0 0.130 1459.7 1621.2)">G</text>
<text class="A" transform="matrix(0.319 0 0 0.139 1460.0 1632.7)">A</text>
<text class="T" transform="matrix(0.356 0 0 0.112 1460.6 1642.1)">T</text>
<text class="A" transform="matrix(0.320 0 0 0.373 1211.8 1678.3)">A</text>
<text class="G" transform="matrix(0.311 0 0 0.140 1211.6 1690.0)">G</text>
<text class="C" transform="matrix(0.325 0 0 0.044 1211.5 1695.0)">C</text>
<text class="T" transform="matrix(0.358 0 0 0.597 1235.2 1694.5)">T</text>
<text class="G" transform="matrix(0.311 0 0 0.586 1257.0 1693.7)">G</text>
<text class="A" transform="matrix(0.320 0 0 0.593 1280.0 1694.5)">A</text>
<text class="C" transform="matrix(0.325 0 0 0.452 1302.4 1684.3)">C</text>
<text class="T" transform="matrix(0.358 0 0 0.081 1303.3 1692.2)">T</text>
<text class="A" transform="matrix(0.320 0 0 0.021 1302.7 1695.1)">A</text>
<text class="G" transform="matrix(0.311 0 0 0.459 1325.1 1684.8)">G</text>
<text class="A" transform="matrix(0.320 0 0 0.109 1325.4 1694.8)">A</text>
<text class="T" transform="matrix(0.358 0 0 0.597 1348.7 1694.5)">T</text>
<text class="C" transform="matrix(0.325 0 0 0.586 1370.5 1693.7)">C</text>
<text class="A" transform="matrix(0.320 0 0 0.593 1393.6 1694.5)">A</text>
<text class="T" transform="matrix(0.358 0 0 0.381 1416.9 1678.7)">T</text>
<text class="C" transform="matrix(0.325 0 0 0.136 1416.0 1690.0)">C</text>
<text class="A" transform="matrix(0.320 0 0 0.045 1416.3 1695.0)">A</text>
<text class="C" transform="matrix(0.325 0 0 0.293 1438.7 1673.0)">C</text>
<text class="T" transform="matrix(0.358 0 0 0.117 1439.6 1683.3)">T</text>
<text class="A" transform="matrix(0.320 0 0 0.081 1439.0 1690.5)">A</text>
<text class="G" transform="matrix(0.311 0 0 0.044 1438.7 1695.0)">G</text>
<text class="A" transform="matrix(0.320 0 0 0.152 1461.7 1663.0)">A</text>
<text class="G" transform="matrix(0.311 0 0 0.136 1461.4 1674.2)">G</text>
<text class="C" transform="matrix(0.325 0 0 0.136 1461.4 1685.7)">C</text>
<text class="T" transform="matrix(0.358 0 0 0.105 1462.3 1694.8)">T</text>
<text class="T" transform="matrix(0.386 0 0 0.364 1212.4 1731.1)">T</text>
<text class="A" transform="matrix(0.345 0 0 0.074 1211.8 1738.0)">A</text>
<text class="G" transform="matrix(0.335 0 0 0.078 1211.5 1744.9)">G</text>
<text class="C" transform="matrix(0.350 0 0 0.078 1211.4 1752.0)">C</text>
<text class="G" transform="matrix(0.335 0 0 0.502 1235.8 1742.3)">G</text>
<text class="C" transform="matrix(0.350 0 0 0.101 1235.7 1751.8)">C</text>
<text class="C" transform="matrix(0.350 0 0 0.465 1260.1 1738.8)">C</text>
<text class="A" transform="matrix(0.345 0 0 0.152 1260.5 1751.8)">A</text>
<text class="T" transform="matrix(0.386 0 0 0.650 1285.5 1751.7)">T</text>
<text class="G" transform="matrix(0.335 0 0 0.636 1308.9 1750.9)">G</text>
<text class="A" transform="matrix(0.345 0 0 0.645 1333.5 1751.7)">A</text>
<text class="G" transform="matrix(0.335 0 0 0.362 1357.6 1731.5)">G</text>
<text class="C" transform="matrix(0.350 0 0 0.249 1357.5 1751.4)">C</text>
<text class="T" transform="matrix(0.386 0 0 0.650 1382.9 1751.7)">T</text>
<text class="C" transform="matrix(0.350 0 0 0.636 1406.2 1750.9)">C</text>
<text class="A" transform="matrix(0.345 0 0 0.645 1430.9 1751.7)">A</text>
</g>
<text x="1181.5" y="37.2" font-size="33" font-weight="bold">c</text>
<text x="1180.8" y="943.8" font-size="33" font-weight="bold">d</text>
<text x="12.5" y="1891.5" font-size="33" font-weight="bold">e</text>
<text x="612" y="1891.5" font-size="24.6">100 kb</text>
<line x1="692" y1="1885" x2="1184" y2="1885" stroke="#000" stroke-width="1.8"/>
<line x1="692" y1="1874" x2="692" y2="1896" stroke="#000" stroke-width="1.8"/>
<line x1="1184" y1="1874" x2="1184" y2="1896" stroke="#000" stroke-width="1.8"/>
<text x="1193.5" y="1891.5" font-size="24.6">hg38</text>
<text x="105" y="1964.2" font-size="24.6">chr2:</text>
<text x="325.7" y="1945.2" font-size="24.6" text-anchor="middle">24,500,000</text>
<line x1="321.2" y1="1947" x2="321.2" y2="1967.5" stroke="#000" stroke-width="2"/>
<text x="572.5" y="1945.2" font-size="24.6" text-anchor="middle">24,550,000</text>
<line x1="568" y1="1947" x2="568" y2="1967.5" stroke="#000" stroke-width="2"/>
<text x="819.3" y="1945.2" font-size="24.6" text-anchor="middle">24,600,000</text>
<line x1="814.8" y1="1947" x2="814.8" y2="1967.5" stroke="#000" stroke-width="2"/>
<text x="1066.1" y="1945.2" font-size="24.6" text-anchor="middle">24,650,000</text>
<line x1="1061.6" y1="1947" x2="1061.6" y2="1967.5" stroke="#000" stroke-width="2"/>
<text x="1312.9" y="1945.2" font-size="24.6" text-anchor="middle">24,700,000</text>
<line x1="1308.4" y1="1947" x2="1308.4" y2="1967.5" stroke="#000" stroke-width="2"/>
<text x="1559.7" y="1945.2" font-size="24.6" text-anchor="middle">24,750,000</text>
<line x1="1555.2" y1="1947" x2="1555.2" y2="1967.5" stroke="#000" stroke-width="2"/>
<line x1="166.8" y1="1929.5" x2="166.8" y2="2308.5" stroke="#000" stroke-width="3"/>
<text x="124" y="2026.5" font-size="29.3" text-anchor="end" fill="#d65a4e">ST Ctrl</text>
<text x="124" y="2100.5" font-size="29.3" text-anchor="end" fill="#d65a4e">ST Cov</text>
<text x="145.5" y="1999.3" font-size="24.5" text-anchor="end" fill="#d65a4e">5</text>
<line x1="152.3" y1="2003.4" x2="165.5" y2="2003.4" stroke="#d65a4e" stroke-width="1.8"/>
<text x="145.5" y="2050.1" font-size="24.5" text-anchor="end" fill="#d65a4e">0</text>
<line x1="152.3" y1="2053.4" x2="165.5" y2="2053.4" stroke="#d65a4e" stroke-width="1.8"/>
<text x="145.5" y="2073.2" font-size="24.5" text-anchor="end" fill="#d65a4e">5</text>
<line x1="152.3" y1="2077.2" x2="165.5" y2="2077.2" stroke="#d65a4e" stroke-width="1.8"/>
<text x="145.5" y="2122.8" font-size="24.5" text-anchor="end" fill="#d65a4e">0</text>
<line x1="152.3" y1="2126.6" x2="165.5" y2="2126.6" stroke="#d65a4e" stroke-width="1.8"/>
<path d="M281 2053.4v-14.4h3v14.4zM284 2053.4v-14.9h3v14.9zM287 2053.4v-11.4h3v11.4zM290 2053.4v-2.4h3v2.4zM293 2053.4v-2.4h3v2.4zM296 2053.4v-2.4h3v2.4zM299 2053.4v-5.4h3v5.4zM302 2053.4v-2.4h3v2.4zM305 2053.4v-3.7h3v3.7zM308 2053.4v-2.5h3v2.5zM311 2053.4v-3h3v3zM314 2053.4v-12.4h3v12.4zM317 2053.4v-2.7h3v2.7zM320 2053.4v-2.4h3v2.4zM323 2053.4v-9.9h3v9.9zM326 2053.4v-2.4h3v2.4zM329 2053.4v-3.6h3v3.6zM332 2053.4v-4.3h3v4.3zM335 2053.4v-2.8h3v2.8zM338 2053.4v-2.4h3v2.4zM341 2053.4v-6.8h3v6.8zM344 2053.4v-3.9h3v3.9zM347 2053.4v-5.5h3v5.5zM350 2053.4v-4h3v4zM353 2053.4v-2.4h3v2.4zM356 2053.4v-2.4h3v2.4zM359 2053.4v-3.2h3v3.2zM362 2053.4v-2.4h3v2.4zM365 2053.4v-2.5h3v2.5zM368 2053.4v-2.4h3v2.4zM371 2053.4v-4.2h3v4.2zM374 2053.4v-2.5h3v2.5zM377 2053.4v-4.3h3v4.3zM380 2053.4v-2.4h3v2.4zM383 2053.4v-2.4h3v2.4zM386 2053.4v-2.4h3v2.4zM389 2053.4v-2.6h3v2.6zM392 2053.4v-4h3v4zM395 2053.4v-2.4h3v2.4zM398 2053.4v-12.4h3v12.4zM401 2053.4v-13.4h3v13.4zM404 2053.4v-2.4h3v2.4zM407 2053.4v-3.4h3v3.4zM410 2053.4v-9.4h3v9.4zM413 2053.4v-2.9h3v2.9zM416 2053.4v-10.4h3v10.4zM419 2053.4v-2.4h3v2.4zM422 2053.4v-2.7h3v2.7zM425 2053.4v-5.5h3v5.5zM428 2053.4v-2.4h3v2.4zM431 2053.4v-3.1h3v3.1zM434 2053.4v-2.7h3v2.7zM437 2053.4v-8.4h3v8.4zM440 2053.4v-2.6h3v2.6zM443 2053.4v-2.4h3v2.4zM446 2053.4v-2.4h3v2.4zM449 2053.4v-5.7h3v5.7zM452 2053.4v-2.4h3v2.4zM455 2053.4v-8.4h3v8.4zM458 2053.4v-2.4h3v2.4zM461 2053.4v-2.4h3v2.4zM464 2053.4v-4.7h3v4.7zM467 2053.4v-2.4h3v2.4zM470 2053.4v-2.4h3v2.4zM473 2053.4v-3.8h3v3.8zM476 2053.4v-2.4h3v2.4zM479 2053.4v-2.4h3v2.4zM482 2053.4v-2.5h3v2.5zM485 2053.4v-2.4h3v2.4zM488 2053.4v-3.4h3v3.4zM491 2053.4v-2.4h3v2.4zM494 2053.4v-2.4h3v2.4zM497 2053.4v-2.6h3v2.6zM500 2053.4v-2.8h3v2.8zM503 2053.4v-2.8h3v2.8zM506 2053.4v-2.8h3v2.8zM509 2053.4v-7.4h3v7.4zM512 2053.4v-2.4h3v2.4zM515 2053.4v-5.6h3v5.6zM518 2053.4v-2.4h3v2.4zM521 2053.4v-2.4h3v2.4zM524 2053.4v-5h3v5zM527 2053.4v-2.4h3v2.4zM530 2053.4v-3.6h3v3.6zM533 2053.4v-3.7h3v3.7zM536 2053.4v-2.5h3v2.5zM539 2053.4v-6.8h3v6.8zM542 2053.4v-2.6h3v2.6zM545 2053.4v-3.6h3v3.6zM548 2053.4v-12.6h3v12.6zM551 2053.4v-3h3v3zM554 2053.4v-3.1h3v3.1zM557 2053.4v-4.5h3v4.5zM560 2053.4v-2.4h3v2.4zM563 2053.4v-3.4h3v3.4zM566 2053.4v-2.4h3v2.4zM569 2053.4v-2.4h3v2.4zM572 2053.4v-3.8h3v3.8zM575 2053.4v-2.4h3v2.4zM578 2053.4v-2.4h3v2.4zM581 2053.4v-2.4h3v2.4zM584 2053.4v-5.1h3v5.1zM587 2053.4v-3.2h3v3.2zM590 2053.4v-6h3v6zM593 2053.4v-3.9h3v3.9zM596 2053.4v-5.6h3v5.6zM599 2053.4v-2.4h3v2.4zM602 2053.4v-4h3v4zM605 2053.4v-3h3v3zM608 2053.4v-2.9h3v2.9zM611 2053.4v-2.4h3v2.4zM614 2053.4v-2.6h3v2.6zM617 2053.4v-2.4h3v2.4zM620 2053.4v-7.9h3v7.9zM623 2053.4v-2.6h3v2.6zM626 2053.4v-8.3h3v8.3zM629 2053.4v-3.9h3v3.9zM632 2053.4v-7.4h3v7.4zM635 2053.4v-4.6h3v4.6zM638 2053.4v-2.4h3v2.4zM641 2053.4v-2.4h3v2.4zM644 2053.4v-6.7h3v6.7zM647 2053.4v-2.4h3v2.4zM650 2053.4v-2.4h3v2.4zM653 2053.4v-2.4h3v2.4zM656 2053.4v-2.4h3v2.4zM659 2053.4v-2.4h3v2.4zM662 2053.4v-5h3v5zM665 2053.4v-3.2h3v3.2zM668 2053.4v-2.4h3v2.4zM671 2053.4v-2.4h3v2.4zM674 2053.4v-2.4h3v2.4zM677 2053.4v-2.4h3v2.4zM680 2053.4v-2.6h3v2.6zM683 2053.4v-8.5h3v8.5zM686 2053.4v-7.5h3v7.5zM689 2053.4v-3.2h3v3.2zM692 2053.4v-4h3v4zM695 2053.4v-3.4h3v3.4zM698 2053.4v-2.4h3v2.4zM701 2053.4v-5.8h3v5.8zM704 2053.4v-2.4h3v2.4zM707 2053.4v-2.8h3v2.8zM710 2053.4v-2.4h3v2.4zM713 2053.4v-4.4h3v4.4zM716 2053.4v-2.4h3v2.4zM719 2053.4v-10h3v10zM722 2053.4v-2.4h3v2.4zM725 2053.4v-2.4h3v2.4zM728 2053.4v-6.4h3v6.4zM731 2053.4v-2.4h3v2.4zM734 2053.4v-2.9h3v2.9zM737 2053.4v-2.4h3v2.4zM740 2053.4v-3.8h3v3.8zM743 2053.4v-2.4h3v2.4zM746 2053.4v-2.4h3v2.4zM749 2053.4v-2.4h3v2.4zM752 2053.4v-5h3v5zM755 2053.4v-2.4h3v2.4zM758 2053.4v-4h3v4zM761 2053.4v-2.5h3v2.5zM764 2053.4v-2.4h3v2.4zM767 2053.4v-2.4h3v2.4zM770 2053.4v-2.4h3v2.4zM773 2053.4v-3.2h3v3.2zM776 2053.4v-4.2h3v4.2zM779 2053.4v-5.1h3v5.1zM782 2053.4v-2.4h3v2.4zM785 2053.4v-2.4h3v2.4zM788 2053.4v-2.4h3v2.4zM791 2053.4v-3.8h3v3.8zM794 2053.4v-4.2h3v4.2zM797 2053.4v-2.4h3v2.4zM800 2053.4v-3.1h3v3.1zM803 2053.4v-2.4h3v2.4zM806 2053.4v-2.4h3v2.4zM809 2053.4v-2.4h3v2.4zM812 2053.4v-4.7h3v4.7zM815 2053.4v-3.3h3v3.3zM818 2053.4v-4h3v4zM821 2053.4v-2.4h3v2.4zM824 2053.4v-3h3v3zM827 2053.4v-2.4h3v2.4zM830 2053.4v-3.4h3v3.4zM833 2053.4v-2.4h3v2.4zM836 2053.4v-2.4h3v2.4zM839 2053.4v-2.4h3v2.4zM842 2053.4v-5.6h3v5.6zM845 2053.4v-4.1h3v4.1zM848 2053.4v-2.4h3v2.4zM851 2053.4v-3.7h3v3.7zM854 2053.4v-3h3v3zM857 2053.4v-2.4h3v2.4zM860 2053.4v-2.4h3v2.4zM863 2053.4v-2.4h3v2.4zM866 2053.4v-2.4h3v2.4zM869 2053.4v-2.4h3v2.4zM872 2053.4v-2.4h3v2.4zM875 2053.4v-2.4h3v2.4zM878 2053.4v-5.2h3v5.2zM881 2053.4v-2.4h3v2.4zM884 2053.4v-5.2h3v5.2zM887 2053.4v-2.4h3v2.4zM890 2053.4v-3.3h3v3.3zM893 2053.4v-2.6h3v2.6zM896 2053.4v-4.3h3v4.3zM899 2053.4v-2.4h3v2.4zM902 2053.4v-2.4h3v2.4zM905 2053.4v-2.8h3v2.8zM908 2053.4v-7.4h3v7.4zM911 2053.4v-2.4h3v2.4zM914 2053.4v-2.4h3v2.4zM917 2053.4v-2.4h3v2.4zM920 2053.4v-3.8h3v3.8zM923 2053.4v-3.5h3v3.5zM926 2053.4v-2.5h3v2.5zM929 2053.4v-2.4h3v2.4zM932 2053.4v-4.2h3v4.2zM935 2053.4v-12h3v12zM938 2053.4v-2.4h3v2.4zM941 2053.4v-2.4h3v2.4zM944 2053.4v-2.7h3v2.7zM947 2053.4v-3.1h3v3.1zM950 2053.4v-3.3h3v3.3zM953 2053.4v-3h3v3zM956 2053.4v-5.1h3v5.1zM959 2053.4v-3.6h3v3.6zM962 2053.4v-2.4h3v2.4zM965 2053.4v-2.4h3v2.4zM968 2053.4v-3.6h3v3.6zM971 2053.4v-2.4h3v2.4zM974 2053.4v-2.4h3v2.4zM977 2053.4v-2.4h3v2.4zM980 2053.4v-3.1h3v3.1zM983 2053.4v-5h3v5zM986 2053.4v-2.8h3v2.8zM989 2053.4v-3h3v3zM992 2053.4v-3.3h3v3.3zM995 2053.4v-3.1h3v3.1zM998 2053.4v-2.8h3v2.8zM1001 2053.4v-5.5h3v5.5zM1004 2053.4v-2.4h3v2.4zM1007 2053.4v-2.4h3v2.4zM1010 2053.4v-2.6h3v2.6zM1013 2053.4v-2.4h3v2.4zM1016 2053.4v-2.4h3v2.4zM1019 2053.4v-4.8h3v4.8zM1022 2053.4v-3.3h3v3.3zM1025 2053.4v-2.4h3v2.4zM1028 2053.4v-2.4h3v2.4zM1031 2053.4v-2.4h3v2.4zM1034 2053.4v-9h3v9zM1037 2053.4v-2.4h3v2.4zM1040 2053.4v-2.4h3v2.4zM1043 2053.4v-2.4h3v2.4zM1046 2053.4v-2.4h3v2.4zM1049 2053.4v-2.8h3v2.8zM1052 2053.4v-2.4h3v2.4zM1055 2053.4v-4.2h3v4.2zM1058 2053.4v-2.4h3v2.4zM1061 2053.4v-6.2h3v6.2zM1064 2053.4v-2.7h3v2.7zM1067 2053.4v-2.8h3v2.8zM1070 2053.4v-3.3h3v3.3zM1076 2053.4v-2.7h3v2.7zM1079 2053.4v-5.5h3v5.5zM1082 2053.4v-2.4h3v2.4zM1085 2053.4v-4.1h3v4.1zM1088 2053.4v-2.4h3v2.4zM1091 2053.4v-3.1h3v3.1zM1094 2053.4v-2.4h3v2.4zM1097 2053.4v-9.4h3v9.4zM1100 2053.4v-2.4h3v2.4zM1103 2053.4v-2.5h3v2.5zM1106 2053.4v-2.4h3v2.4zM1109 2053.4v-2.4h3v2.4zM1112 2053.4v-2.6h3v2.6zM1115 2053.4v-2.4h3v2.4zM1118 2053.4v-4.4h3v4.4zM1121 2053.4v-2.4h3v2.4zM1124 2053.4v-2.4h3v2.4zM1127 2053.4v-2.4h3v2.4zM1130 2053.4v-4h3v4zM1133 2053.4v-2.9h3v2.9zM1136 2053.4v-2.4h3v2.4zM1139 2053.4v-2.4h3v2.4zM1142 2053.4v-2.9h3v2.9zM1145 2053.4v-3.9h3v3.9zM1148 2053.4v-2.4h3v2.4zM1151 2053.4v-2.4h3v2.4zM1154 2053.4v-8.6h3v8.6zM1157 2053.4v-2.4h3v2.4zM1160 2053.4v-7h3v7zM1163 2053.4v-4.1h3v4.1zM1166 2053.4v-3h3v3zM1169 2053.4v-2.4h3v2.4zM1172 2053.4v-6.6h3v6.6zM1175 2053.4v-3.5h3v3.5zM1178 2053.4v-2.4h3v2.4zM1181 2053.4v-2.9h3v2.9zM1184 2053.4v-2.4h3v2.4zM1187 2053.4v-3.3h3v3.3zM1190 2053.4v-2.4h3v2.4zM1193 2053.4v-2.9h3v2.9zM1199 2053.4v-2.4h3v2.4zM1202 2053.4v-2.8h3v2.8zM1205 2053.4v-2.4h3v2.4zM1208 2053.4v-2.4h3v2.4zM1211 2053.4v-4h3v4zM1214 2053.4v-2.4h3v2.4zM1217 2053.4v-5.4h3v5.4zM1220 2053.4v-2.4h3v2.4zM1223 2053.4v-2.9h3v2.9zM1226 2053.4v-3.9h3v3.9zM1229 2053.4v-2.9h3v2.9zM1232 2053.4v-2.4h3v2.4zM1235 2053.4v-2.4h3v2.4zM1238 2053.4v-8.6h3v8.6zM1241 2053.4v-7.9h3v7.9zM1244 2053.4v-2.4h3v2.4zM1247 2053.4v-3.1h3v3.1zM1250 2053.4v-2.4h3v2.4zM1253 2053.4v-9.4h3v9.4zM1256 2053.4v-3.1h3v3.1zM1259 2053.4v-7.4h3v7.4zM1262 2053.4v-2.4h3v2.4zM1265 2053.4v-2.4h3v2.4zM1283 2053.4v-3.4h3v3.4zM1286 2053.4v-11.4h3v11.4zM1289 2053.4v-3.4h3v3.4zM1292 2053.4v-2.4h3v2.4zM1295 2053.4v-2.4h3v2.4zM1298 2053.4v-3.1h3v3.1zM1301 2053.4v-2.6h3v2.6zM1304 2053.4v-3.3h3v3.3zM1307 2053.4v-2.6h3v2.6zM1310 2053.4v-7.1h3v7.1zM1313 2053.4v-3.4h3v3.4zM1316 2053.4v-6.3h3v6.3zM1319 2053.4v-2.5h3v2.5zM1322 2053.4v-3h3v3zM1325 2053.4v-3.6h3v3.6zM1328 2053.4v-2.4h3v2.4zM1331 2053.4v-2.4h3v2.4zM1334 2053.4v-4.2h3v4.2zM1337 2053.4v-2.6h3v2.6zM1340 2053.4v-8.5h3v8.5zM1343 2053.4v-3.7h3v3.7zM1346 2053.4v-2.4h3v2.4zM1349 2053.4v-2.4h3v2.4zM1352 2053.4v-2.4h3v2.4zM1355 2053.4v-5.4h3v5.4zM1358 2053.4v-3.6h3v3.6zM1361 2053.4v-3.2h3v3.2zM1367 2053.4v-2.4h3v2.4zM1370 2053.4v-7.2h3v7.2zM1373 2053.4v-2.4h3v2.4zM1376 2053.4v-2.6h3v2.6zM1379 2053.4v-3.5h3v3.5zM1382 2053.4v-4.2h3v4.2zM1385 2053.4v-3h3v3zM1388 2053.4v-2.9h3v2.9zM1391 2053.4v-2.4h3v2.4zM1394 2053.4v-2.4h3v2.4zM1397 2053.4v-2.4h3v2.4zM1400 2053.4v-2.4h3v2.4zM1403 2053.4v-2.4h3v2.4zM1406 2053.4v-3.2h3v3.2zM1409 2053.4v-2.4h3v2.4zM1412 2053.4v-10.4h3v10.4zM1415 2053.4v-4.3h3v4.3zM1418 2053.4v-2.9h3v2.9zM1421 2053.4v-2.4h3v2.4zM1424 2053.4v-2.4h3v2.4zM1427 2053.4v-2.4h3v2.4zM1430 2053.4v-2.4h3v2.4zM1433 2053.4v-2.4h3v2.4zM1436 2053.4v-2.4h3v2.4zM1439 2053.4v-2.4h3v2.4zM1442 2053.4v-3.4h3v3.4zM1445 2053.4v-3.1h3v3.1zM1448 2053.4v-3.2h3v3.2zM1451 2053.4v-2.4h3v2.4zM1454 2053.4v-2.5h3v2.5zM1457 2053.4v-2.4h3v2.4zM1460 2053.4v-2.4h3v2.4zM1463 2053.4v-2.4h3v2.4zM1466 2053.4v-3.1h3v3.1zM1469 2053.4v-2.9h3v2.9zM1472 2053.4v-2.4h3v2.4zM1475 2053.4v-2.4h3v2.4zM1478 2053.4v-2.4h3v2.4zM1481 2053.4v-2.4h3v2.4zM1484 2053.4v-4.3h3v4.3zM1487 2053.4v-4h3v4zM1490 2053.4v-2.4h3v2.4zM1493 2053.4v-3.1h3v3.1zM1496 2053.4v-3.3h3v3.3zM1499 2053.4v-2.4h3v2.4zM1502 2053.4v-3.9h3v3.9zM1505 2053.4v-4.7h3v4.7zM1508 2053.4v-4.1h3v4.1zM1511 2053.4v-2.4h3v2.4zM1514 2053.4v-2.4h3v2.4zM1517 2053.4v-3.2h3v3.2zM1520 2053.4v-2.5h3v2.5zM1523 2053.4v-2.4h3v2.4zM1526 2053.4v-2.5h3v2.5zM1529 2053.4v-2.4h3v2.4zM1532 2053.4v-2.4h3v2.4zM1535 2053.4v-2.4h3v2.4zM1538 2053.4v-2.4h3v2.4zM1541 2053.4v-2.4h3v2.4zM1544 2053.4v-2.4h3v2.4zM1547 2053.4v-2.5h3v2.5zM1550 2053.4v-2.4h3v2.4zM1553 2053.4v-2.4h3v2.4zM1556 2053.4v-2.4h3v2.4zM1559 2053.4v-3.2h3v3.2zM1562 2053.4v-2.4h3v2.4zM1565 2053.4v-4.1h3v4.1zM1568 2053.4v-2.4h3v2.4zM1571 2053.4v-2.6h3v2.6zM1583 2053.4v-2.4h3v2.4zM1586 2053.4v-4.3h3v4.3zM1589 2053.4v-2.4h3v2.4zM1592 2053.4v-8.5h3v8.5zM1595 2053.4v-2.5h3v2.5zM1598 2053.4v-2.4h3v2.4zM1601 2053.4v-2.4h3v2.4zM1607 2053.4v-6.9h3v6.9zM1610 2053.4v-3.2h3v3.2zM1613 2053.4v-2.7h3v2.7zM1616 2053.4v-2.6h3v2.6zM1619 2053.4v-4.3h3v4.3zM1622 2053.4v-2.4h3v2.4zM1625 2053.4v-5.4h3v5.4zM1628 2053.4v-5.9h3v5.9zM1631 2053.4v-2.4h3v2.4zM1634 2053.4v-2.6h3v2.6zM1637 2053.4v-10.4h3v10.4zM1640 2053.4v-7.1h3v7.1zM1643 2053.4v-22.4h3v22.4zM1646 2053.4v-2.4h3v2.4zM1649 2053.4v-17.4h3v17.4zM1652 2053.4v-15.4h3v15.4zM1655 2053.4v-2.5h3v2.5zM175 2053.4v-2h3.5v2zM194 2053.4v-2h3.5v2zM211 2053.4v-2h2v2zM221 2053.4v-2h2v2zM245 2053.4v-2h8v2zM265 2053.4v-2h15v2zM1658 2053.4v-2h2v2zM1665 2053.4v-2h2v2zM1670 2053.4v-2h2v2z" fill="#e0503f"/>
<path d="M281 2126.6v-41.4h3v41.4zM284 2126.6v-38.4h3v38.4zM287 2126.6v-34.4h3v34.4zM290 2126.6v-3.2h3v3.2zM293 2126.6v-4.9h3v4.9zM296 2126.6v-2.4h3v2.4zM299 2126.6v-4.6h3v4.6zM302 2126.6v-8.4h3v8.4zM305 2126.6v-2.9h3v2.9zM308 2126.6v-7.4h3v7.4zM311 2126.6v-16.4h3v16.4zM314 2126.6v-12.4h3v12.4zM317 2126.6v-2.4h3v2.4zM320 2126.6v-4.6h3v4.6zM323 2126.6v-2.4h3v2.4zM326 2126.6v-4.5h3v4.5zM329 2126.6v-2.4h3v2.4zM332 2126.6v-2.4h3v2.4zM335 2126.6v-2.4h3v2.4zM338 2126.6v-2.4h3v2.4zM341 2126.6v-2.4h3v2.4zM344 2126.6v-2.4h3v2.4zM347 2126.6v-2.4h3v2.4zM350 2126.6v-2.4h3v2.4zM353 2126.6v-2.6h3v2.6zM356 2126.6v-3.6h3v3.6zM359 2126.6v-2.4h3v2.4zM362 2126.6v-2.4h3v2.4zM365 2126.6v-7.3h3v7.3zM368 2126.6v-2.7h3v2.7zM371 2126.6v-2.4h3v2.4zM374 2126.6v-2.4h3v2.4zM377 2126.6v-2.4h3v2.4zM380 2126.6v-2.4h3v2.4zM383 2126.6v-2.4h3v2.4zM386 2126.6v-2.7h3v2.7zM389 2126.6v-3.8h3v3.8zM392 2126.6v-3.3h3v3.3zM395 2126.6v-2.4h3v2.4zM398 2126.6v-14.4h3v14.4zM401 2126.6v-9.7h3v9.7zM404 2126.6v-16.4h3v16.4zM407 2126.6v-2.4h3v2.4zM410 2126.6v-2.4h3v2.4zM413 2126.6v-2.5h3v2.5zM416 2126.6v-2.4h3v2.4zM419 2126.6v-2.4h3v2.4zM422 2126.6v-15.4h3v15.4zM425 2126.6v-2.4h3v2.4zM428 2126.6v-2.4h3v2.4zM431 2126.6v-2.5h3v2.5zM434 2126.6v-7.7h3v7.7zM437 2126.6v-13.4h3v13.4zM440 2126.6v-2.4h3v2.4zM443 2126.6v-2.4h3v2.4zM446 2126.6v-2.4h3v2.4zM449 2126.6v-2.4h3v2.4zM452 2126.6v-2.4h3v2.4zM455 2126.6v-2.4h3v2.4zM458 2126.6v-2.4h3v2.4zM461 2126.6v-4.6h3v4.6zM464 2126.6v-2.8h3v2.8zM467 2126.6v-3.8h3v3.8zM470 2126.6v-13.4h3v13.4zM473 2126.6v-11.4h3v11.4zM476 2126.6v-8.4h3v8.4zM479 2126.6v-2.4h3v2.4zM482 2126.6v-3.2h3v3.2zM485 2126.6v-2.4h3v2.4zM488 2126.6v-2.4h3v2.4zM491 2126.6v-2.4h3v2.4zM494 2126.6v-5.5h3v5.5zM497 2126.6v-3.3h3v3.3zM500 2126.6v-6.2h3v6.2zM503 2126.6v-2.4h3v2.4zM506 2126.6v-2.4h3v2.4zM509 2126.6v-5.1h3v5.1zM512 2126.6v-3.8h3v3.8zM515 2126.6v-2.4h3v2.4zM518 2126.6v-2.4h3v2.4zM521 2126.6v-2.4h3v2.4zM524 2126.6v-2.4h3v2.4zM527 2126.6v-3.3h3v3.3zM530 2126.6v-4.4h3v4.4zM533 2126.6v-3.5h3v3.5zM536 2126.6v-2.4h3v2.4zM539 2126.6v-2.4h3v2.4zM542 2126.6v-9h3v9zM545 2126.6v-2.4h3v2.4zM548 2126.6v-2.4h3v2.4zM551 2126.6v-2.4h3v2.4zM554 2126.6v-7.9h3v7.9zM557 2126.6v-2.4h3v2.4zM560 2126.6v-4.6h3v4.6zM563 2126.6v-2.4h3v2.4zM566 2126.6v-2.4h3v2.4zM569 2126.6v-2.5h3v2.5zM572 2126.6v-2.4h3v2.4zM575 2126.6v-3.1h3v3.1zM578 2126.6v-2.4h3v2.4zM581 2126.6v-2.4h3v2.4zM584 2126.6v-2.9h3v2.9zM587 2126.6v-8.7h3v8.7zM590 2126.6v-8h3v8zM593 2126.6v-8h3v8zM596 2126.6v-3.5h3v3.5zM599 2126.6v-3.6h3v3.6zM602 2126.6v-4.1h3v4.1zM605 2126.6v-3h3v3zM608 2126.6v-2.4h3v2.4zM611 2126.6v-7.9h3v7.9zM614 2126.6v-10.4h3v10.4zM617 2126.6v-2.4h3v2.4zM620 2126.6v-4.2h3v4.2zM623 2126.6v-2.4h3v2.4zM626 2126.6v-4.6h3v4.6zM629 2126.6v-3.5h3v3.5zM632 2126.6v-2.6h3v2.6zM635 2126.6v-2.5h3v2.5zM638 2126.6v-2.4h3v2.4zM641 2126.6v-2.4h3v2.4zM644 2126.6v-3.2h3v3.2zM647 2126.6v-2.5h3v2.5zM650 2126.6v-3.4h3v3.4zM653 2126.6v-2.4h3v2.4zM656 2126.6v-3h3v3zM659 2126.6v-2.4h3v2.4zM662 2126.6v-2.4h3v2.4zM665 2126.6v-2.7h3v2.7zM668 2126.6v-3.1h3v3.1zM671 2126.6v-3.6h3v3.6zM674 2126.6v-3.8h3v3.8zM677 2126.6v-2.4h3v2.4zM680 2126.6v-2.4h3v2.4zM683 2126.6v-9.6h3v9.6zM686 2126.6v-2.4h3v2.4zM689 2126.6v-2.4h3v2.4zM692 2126.6v-2.4h3v2.4zM695 2126.6v-2.4h3v2.4zM698 2126.6v-9.4h3v9.4zM701 2126.6v-4.1h3v4.1zM704 2126.6v-2.4h3v2.4zM707 2126.6v-2.6h3v2.6zM710 2126.6v-2.4h3v2.4zM713 2126.6v-5.9h3v5.9zM716 2126.6v-2.4h3v2.4zM719 2126.6v-2.9h3v2.9zM722 2126.6v-2.4h3v2.4zM725 2126.6v-2.6h3v2.6zM728 2126.6v-2.4h3v2.4zM731 2126.6v-2.6h3v2.6zM734 2126.6v-2.9h3v2.9zM737 2126.6v-2.4h3v2.4zM740 2126.6v-6.7h3v6.7zM743 2126.6v-2.4h3v2.4zM746 2126.6v-2.4h3v2.4zM749 2126.6v-2.9h3v2.9zM752 2126.6v-3h3v3zM755 2126.6v-4.3h3v4.3zM758 2126.6v-2.4h3v2.4zM761 2126.6v-2.4h3v2.4zM764 2126.6v-2.6h3v2.6zM767 2126.6v-3.6h3v3.6zM770 2126.6v-3h3v3zM773 2126.6v-2.4h3v2.4zM776 2126.6v-6.5h3v6.5zM779 2126.6v-2.4h3v2.4zM782 2126.6v-2.4h3v2.4zM785 2126.6v-3.1h3v3.1zM788 2126.6v-2.6h3v2.6zM791 2126.6v-2.7h3v2.7zM794 2126.6v-3.4h3v3.4zM797 2126.6v-2.8h3v2.8zM800 2126.6v-2.4h3v2.4zM803 2126.6v-2.4h3v2.4zM806 2126.6v-2.4h3v2.4zM809 2126.6v-6.2h3v6.2zM812 2126.6v-2.4h3v2.4zM815 2126.6v-2.4h3v2.4zM818 2126.6v-3.6h3v3.6zM821 2126.6v-7.1h3v7.1zM824 2126.6v-2.4h3v2.4zM827 2126.6v-6h3v6zM830 2126.6v-2.4h3v2.4zM833 2126.6v-2.4h3v2.4zM836 2126.6v-3.1h3v3.1zM839 2126.6v-8.3h3v8.3zM842 2126.6v-4.9h3v4.9zM845 2126.6v-2.9h3v2.9zM848 2126.6v-2.4h3v2.4zM851 2126.6v-4.5h3v4.5zM854 2126.6v-3.9h3v3.9zM857 2126.6v-2.9h3v2.9zM860 2126.6v-2.4h3v2.4zM863 2126.6v-2.5h3v2.5zM866 2126.6v-2.4h3v2.4zM869 2126.6v-2.4h3v2.4zM872 2126.6v-2.4h3v2.4zM875 2126.6v-2.4h3v2.4zM878 2126.6v-2.8h3v2.8zM881 2126.6v-2.4h3v2.4zM884 2126.6v-2.4h3v2.4zM887 2126.6v-7.4h3v7.4zM890 2126.6v-2.9h3v2.9zM893 2126.6v-2.6h3v2.6zM896 2126.6v-3.1h3v3.1zM899 2126.6v-9.4h3v9.4zM902 2126.6v-2.4h3v2.4zM905 2126.6v-2.6h3v2.6zM911 2126.6v-2.8h3v2.8zM914 2126.6v-2.4h3v2.4zM917 2126.6v-3.2h3v3.2zM920 2126.6v-2.4h3v2.4zM923 2126.6v-2.4h3v2.4zM926 2126.6v-4.8h3v4.8zM929 2126.6v-5.1h3v5.1zM932 2126.6v-2.4h3v2.4zM935 2126.6v-2.9h3v2.9zM938 2126.6v-3.6h3v3.6zM941 2126.6v-4h3v4zM944 2126.6v-2.4h3v2.4zM947 2126.6v-2.4h3v2.4zM950 2126.6v-2.4h3v2.4zM953 2126.6v-2.4h3v2.4zM956 2126.6v-2.4h3v2.4zM959 2126.6v-2.5h3v2.5zM962 2126.6v-5.6h3v5.6zM965 2126.6v-2.4h3v2.4zM968 2126.6v-2.4h3v2.4zM971 2126.6v-2.4h3v2.4zM974 2126.6v-4.7h3v4.7zM977 2126.6v-2.9h3v2.9zM980 2126.6v-2.9h3v2.9zM983 2126.6v-2.4h3v2.4zM986 2126.6v-4h3v4zM989 2126.6v-2.4h3v2.4zM992 2126.6v-2.4h3v2.4zM995 2126.6v-2.4h3v2.4zM998 2126.6v-2.4h3v2.4zM1001 2126.6v-2.4h3v2.4zM1004 2126.6v-4.5h3v4.5zM1007 2126.6v-2.4h3v2.4zM1010 2126.6v-3.3h3v3.3zM1013 2126.6v-2.4h3v2.4zM1016 2126.6v-4.2h3v4.2zM1019 2126.6v-2.5h3v2.5zM1022 2126.6v-3h3v3zM1025 2126.6v-2.4h3v2.4zM1028 2126.6v-2.6h3v2.6zM1031 2126.6v-5.2h3v5.2zM1034 2126.6v-2.4h3v2.4zM1037 2126.6v-2.4h3v2.4zM1040 2126.6v-2.4h3v2.4zM1043 2126.6v-2.8h3v2.8zM1046 2126.6v-3.1h3v3.1zM1049 2126.6v-2.4h3v2.4zM1052 2126.6v-4.1h3v4.1zM1055 2126.6v-7.5h3v7.5zM1058 2126.6v-2.4h3v2.4zM1061 2126.6v-2.5h3v2.5zM1064 2126.6v-3.3h3v3.3zM1067 2126.6v-2.4h3v2.4zM1070 2126.6v-2.4h3v2.4zM1073 2126.6v-3.8h3v3.8zM1076 2126.6v-2.4h3v2.4zM1079 2126.6v-5.6h3v5.6zM1082 2126.6v-2.4h3v2.4zM1085 2126.6v-2.4h3v2.4zM1088 2126.6v-2.4h3v2.4zM1091 2126.6v-11.4h3v11.4zM1094 2126.6v-5.3h3v5.3zM1097 2126.6v-5.4h3v5.4zM1100 2126.6v-2.4h3v2.4zM1103 2126.6v-2.4h3v2.4zM1106 2126.6v-3.6h3v3.6zM1109 2126.6v-2.4h3v2.4zM1112 2126.6v-5h3v5zM1115 2126.6v-3.1h3v3.1zM1118 2126.6v-2.9h3v2.9zM1121 2126.6v-6.6h3v6.6zM1124 2126.6v-2.4h3v2.4zM1127 2126.6v-2.4h3v2.4zM1130 2126.6v-23.4h3v23.4zM1133 2126.6v-20.4h3v20.4zM1136 2126.6v-2.4h3v2.4zM1139 2126.6v-4.1h3v4.1zM1142 2126.6v-2.4h3v2.4zM1145 2126.6v-2.4h3v2.4zM1148 2126.6v-4.8h3v4.8zM1151 2126.6v-3h3v3zM1154 2126.6v-2.5h3v2.5zM1157 2126.6v-3.2h3v3.2zM1160 2126.6v-2.4h3v2.4zM1163 2126.6v-5.7h3v5.7zM1166 2126.6v-4.2h3v4.2zM1169 2126.6v-2.5h3v2.5zM1172 2126.6v-3.4h3v3.4zM1175 2126.6v-2.4h3v2.4zM1178 2126.6v-10.4h3v10.4zM1181 2126.6v-2.7h3v2.7zM1184 2126.6v-2.4h3v2.4zM1187 2126.6v-6.5h3v6.5zM1190 2126.6v-5.2h3v5.2zM1193 2126.6v-8.4h3v8.4zM1196 2126.6v-4.5h3v4.5zM1199 2126.6v-2.4h3v2.4zM1202 2126.6v-3.5h3v3.5zM1205 2126.6v-2.5h3v2.5zM1208 2126.6v-7.4h3v7.4zM1211 2126.6v-2.4h3v2.4zM1214 2126.6v-2.4h3v2.4zM1217 2126.6v-2.4h3v2.4zM1220 2126.6v-2.8h3v2.8zM1223 2126.6v-2.7h3v2.7zM1226 2126.6v-2.4h3v2.4zM1235 2126.6v-5.9h3v5.9zM1238 2126.6v-2.5h3v2.5zM1241 2126.6v-2.9h3v2.9zM1244 2126.6v-2.4h3v2.4zM1247 2126.6v-8.2h3v8.2zM1250 2126.6v-2.4h3v2.4zM1253 2126.6v-2.4h3v2.4zM1256 2126.6v-6.2h3v6.2zM1259 2126.6v-2.4h3v2.4zM1262 2126.6v-2.4h3v2.4zM1265 2126.6v-5.6h3v5.6zM1268 2126.6v-2.4h3v2.4zM1271 2126.6v-2.4h3v2.4zM1274 2126.6v-2.4h3v2.4zM1277 2126.6v-3.4h3v3.4zM1280 2126.6v-2.5h3v2.5zM1283 2126.6v-2.7h3v2.7zM1286 2126.6v-2.5h3v2.5zM1289 2126.6v-2.4h3v2.4zM1292 2126.6v-2.8h3v2.8zM1295 2126.6v-3.4h3v3.4zM1298 2126.6v-14.4h3v14.4zM1301 2126.6v-3.5h3v3.5zM1304 2126.6v-2.4h3v2.4zM1307 2126.6v-3.8h3v3.8zM1310 2126.6v-2.4h3v2.4zM1313 2126.6v-2.7h3v2.7zM1316 2126.6v-2.4h3v2.4zM1319 2126.6v-3.7h3v3.7zM1322 2126.6v-2.4h3v2.4zM1325 2126.6v-2.4h3v2.4zM1328 2126.6v-2.4h3v2.4zM1331 2126.6v-2.6h3v2.6zM1334 2126.6v-2.8h3v2.8zM1337 2126.6v-2.9h3v2.9zM1340 2126.6v-13.4h3v13.4zM1343 2126.6v-2.4h3v2.4zM1346 2126.6v-2.4h3v2.4zM1349 2126.6v-14.4h3v14.4zM1352 2126.6v-7h3v7zM1355 2126.6v-3.9h3v3.9zM1358 2126.6v-6.7h3v6.7zM1361 2126.6v-4.5h3v4.5zM1364 2126.6v-2.5h3v2.5zM1367 2126.6v-2.4h3v2.4zM1370 2126.6v-2.4h3v2.4zM1373 2126.6v-3.8h3v3.8zM1376 2126.6v-2.7h3v2.7zM1379 2126.6v-2.4h3v2.4zM1382 2126.6v-2.4h3v2.4zM1385 2126.6v-2.5h3v2.5zM1388 2126.6v-3.2h3v3.2zM1391 2126.6v-2.4h3v2.4zM1394 2126.6v-2.4h3v2.4zM1397 2126.6v-4.2h3v4.2zM1400 2126.6v-2.7h3v2.7zM1403 2126.6v-2.4h3v2.4zM1406 2126.6v-4.9h3v4.9zM1409 2126.6v-5.3h3v5.3zM1412 2126.6v-3.9h3v3.9zM1415 2126.6v-2.4h3v2.4zM1418 2126.6v-2.4h3v2.4zM1421 2126.6v-3.8h3v3.8zM1424 2126.6v-2.4h3v2.4zM1427 2126.6v-2.8h3v2.8zM1430 2126.6v-2.4h3v2.4zM1433 2126.6v-3.1h3v3.1zM1436 2126.6v-5.6h3v5.6zM1439 2126.6v-3.7h3v3.7zM1442 2126.6v-2.4h3v2.4zM1445 2126.6v-3h3v3zM1448 2126.6v-8.1h3v8.1zM1451 2126.6v-2.4h3v2.4zM1454 2126.6v-2.6h3v2.6zM1457 2126.6v-3.7h3v3.7zM1460 2126.6v-2.4h3v2.4zM1463 2126.6v-2.4h3v2.4zM1466 2126.6v-3.7h3v3.7zM1469 2126.6v-6.1h3v6.1zM1472 2126.6v-2.8h3v2.8zM1475 2126.6v-4.1h3v4.1zM1478 2126.6v-2.4h3v2.4zM1481 2126.6v-2.4h3v2.4zM1484 2126.6v-2.4h3v2.4zM1487 2126.6v-3h3v3zM1490 2126.6v-2.4h3v2.4zM1493 2126.6v-2.4h3v2.4zM1496 2126.6v-4.2h3v4.2zM1499 2126.6v-8.2h3v8.2zM1502 2126.6v-2.4h3v2.4zM1505 2126.6v-2.6h3v2.6zM1508 2126.6v-2.4h3v2.4zM1511 2126.6v-2.4h3v2.4zM1514 2126.6v-2.8h3v2.8zM1517 2126.6v-2.4h3v2.4zM1520 2126.6v-4.4h3v4.4zM1523 2126.6v-6.1h3v6.1zM1526 2126.6v-4.1h3v4.1zM1529 2126.6v-3.6h3v3.6zM1532 2126.6v-2.4h3v2.4zM1535 2126.6v-2.4h3v2.4zM1538 2126.6v-5.6h3v5.6zM1541 2126.6v-7.8h3v7.8zM1544 2126.6v-2.9h3v2.9zM1547 2126.6v-2.4h3v2.4zM1550 2126.6v-2.4h3v2.4zM1553 2126.6v-2.5h3v2.5zM1556 2126.6v-2.4h3v2.4zM1559 2126.6v-2.4h3v2.4zM1562 2126.6v-2.4h3v2.4zM1565 2126.6v-6.3h3v6.3zM1568 2126.6v-2.4h3v2.4zM1571 2126.6v-2.4h3v2.4zM1580 2126.6v-2.4h3v2.4zM1583 2126.6v-2.4h3v2.4zM1586 2126.6v-2.4h3v2.4zM1589 2126.6v-7.4h3v7.4zM1592 2126.6v-9h3v9zM1595 2126.6v-2.4h3v2.4zM1598 2126.6v-4.8h3v4.8zM1601 2126.6v-2.4h3v2.4zM1604 2126.6v-2.4h3v2.4zM1607 2126.6v-6h3v6zM1610 2126.6v-2.4h3v2.4zM1613 2126.6v-3.6h3v3.6zM1616 2126.6v-2.4h3v2.4zM1619 2126.6v-2.4h3v2.4zM1622 2126.6v-2.4h3v2.4zM1625 2126.6v-8.5h3v8.5zM1628 2126.6v-11.4h3v11.4zM1631 2126.6v-2.4h3v2.4zM1634 2126.6v-10.4h3v10.4zM1637 2126.6v-2.4h3v2.4zM1640 2126.6v-2.4h3v2.4zM1643 2126.6v-39.4h3v39.4zM1646 2126.6v-19.4h3v19.4zM1649 2126.6v-3.8h3v3.8zM1652 2126.6v-24.4h3v24.4zM1655 2126.6v-4.9h3v4.9zM177 2126.6v-2h4v2zM222 2126.6v-2h1.5v2zM253 2126.6v-2h1.5v2zM277 2126.6v-2h4v2z" fill="#e0503f"/>
<line x1="277.7" y1="2160.8" x2="1650" y2="2160.8" stroke="#272a78" stroke-width="2"/>
<path d="M285.7 2155.8l6 5l-6 5M297.3 2155.8l6 5l-6 5M308.9 2155.8l6 5l-6 5M320.5 2155.8l6 5l-6 5M332.1 2155.8l6 5l-6 5M343.7 2155.8l6 5l-6 5M355.3 2155.8l6 5l-6 5M366.9 2155.8l6 5l-6 5M378.5 2155.8l6 5l-6 5M390.1 2155.8l6 5l-6 5M401.7 2155.8l6 5l-6 5M413.3 2155.8l6 5l-6 5M424.9 2155.8l6 5l-6 5M436.5 2155.8l6 5l-6 5M448.1 2155.8l6 5l-6 5M459.7 2155.8l6 5l-6 5M471.3 2155.8l6 5l-6 5M482.9 2155.8l6 5l-6 5M494.5 2155.8l6 5l-6 5M506.1 2155.8l6 5l-6 5M517.7 2155.8l6 5l-6 5M529.3 2155.8l6 5l-6 5M540.9 2155.8l6 5l-6 5M552.5 2155.8l6 5l-6 5M564.1 2155.8l6 5l-6 5M575.7 2155.8l6 5l-6 5M587.3 2155.8l6 5l-6 5M598.9 2155.8l6 5l-6 5M610.5 2155.8l6 5l-6 5M622.1 2155.8l6 5l-6 5M633.7 2155.8l6 5l-6 5M645.3 2155.8l6 5l-6 5M656.9 2155.8l6 5l-6 5M668.5 2155.8l6 5l-6 5M680.1 2155.8l6 5l-6 5M691.7 2155.8l6 5l-6 5M703.3 2155.8l6 5l-6 5M714.9 2155.8l6 5l-6 5M726.5 2155.8l6 5l-6 5M738.1 2155.8l6 5l-6 5M749.7 2155.8l6 5l-6 5M761.3 2155.8l6 5l-6 5M772.9 2155.8l6 5l-6 5M784.5 2155.8l6 5l-6 5M796.1 2155.8l6 5l-6 5M807.7 2155.8l6 5l-6 5M819.3 2155.8l6 5l-6 5M830.9 2155.8l6 5l-6 5M842.5 2155.8l6 5l-6 5M854.1 2155.8l6 5l-6 5M865.7 2155.8l6 5l-6 5M877.3 2155.8l6 5l-6 5M888.9 2155.8l6 5l-6 5M900.5 2155.8l6 5l-6 5M912.1 2155.8l6 5l-6 5M923.7 2155.8l6 5l-6 5M935.3 2155.8l6 5l-6 5M946.9 2155.8l6 5l-6 5M958.5 2155.8l6 5l-6 5M970.1 2155.8l6 5l-6 5M981.7 2155.8l6 5l-6 5M993.3 2155.8l6 5l-6 5M1004.9 2155.8l6 5l-6 5M1016.5 2155.8l6 5l-6 5M1028.1 2155.8l6 5l-6 5M1039.7 2155.8l6 5l-6 5M1051.3 2155.8l6 5l-6 5M1062.9 2155.8l6 5l-6 5M1074.5 2155.8l6 5l-6 5M1086.1 2155.8l6 5l-6 5M1097.7 2155.8l6 5l-6 5M1109.3 2155.8l6 5l-6 5M1120.9 2155.8l6 5l-6 5M1132.5 2155.8l6 5l-6 5M1144.1 2155.8l6 5l-6 5M1155.7 2155.8l6 5l-6 5M1167.3 2155.8l6 5l-6 5M1178.9 2155.8l6 5l-6 5M1190.5 2155.8l6 5l-6 5M1202.1 2155.8l6 5l-6 5M1213.7 2155.8l6 5l-6 5M1225.3 2155.8l6 5l-6 5M1236.9 2155.8l6 5l-6 5M1248.5 2155.8l6 5l-6 5M1260.1 2155.8l6 5l-6 5M1271.7 2155.8l6 5l-6 5M1283.3 2155.8l6 5l-6 5M1294.9 2155.8l6 5l-6 5M1306.5 2155.8l6 5l-6 5M1318.1 2155.8l6 5l-6 5M1329.7 2155.8l6 5l-6 5M1341.3 2155.8l6 5l-6 5M1352.9 2155.8l6 5l-6 5M1364.5 2155.8l6 5l-6 5M1376.1 2155.8l6 5l-6 5M1387.7 2155.8l6 5l-6 5M1399.3 2155.8l6 5l-6 5M1410.9 2155.8l6 5l-6 5M1422.5 2155.8l6 5l-6 5M1434.1 2155.8l6 5l-6 5M1445.7 2155.8l6 5l-6 5M1457.3 2155.8l6 5l-6 5M1468.9 2155.8l6 5l-6 5M1480.5 2155.8l6 5l-6 5M1492.1 2155.8l6 5l-6 5M1503.7 2155.8l6 5l-6 5M1515.3 2155.8l6 5l-6 5M1526.9 2155.8l6 5l-6 5M1538.5 2155.8l6 5l-6 5M1550.1 2155.8l6 5l-6 5M1561.7 2155.8l6 5l-6 5M1573.3 2155.8l6 5l-6 5M1584.9 2155.8l6 5l-6 5M1596.5 2155.8l6 5l-6 5M1608.1 2155.8l6 5l-6 5M1619.7 2155.8l6 5l-6 5M1631.3 2155.8l6 5l-6 5M1642.9 2155.8l6 5l-6 5" fill="none" stroke="#272a78" stroke-width="2.2"/>
<line x1="280.5" y1="2184.2" x2="1650" y2="2184.2" stroke="#272a78" stroke-width="2"/>
<path d="M288.5 2179.2l6 5l-6 5M300.1 2179.2l6 5l-6 5M311.7 2179.2l6 5l-6 5M323.3 2179.2l6 5l-6 5M334.9 2179.2l6 5l-6 5M346.5 2179.2l6 5l-6 5M358.1 2179.2l6 5l-6 5M369.7 2179.2l6 5l-6 5M381.3 2179.2l6 5l-6 5M392.9 2179.2l6 5l-6 5M404.5 2179.2l6 5l-6 5M416.1 2179.2l6 5l-6 5M427.7 2179.2l6 5l-6 5M439.3 2179.2l6 5l-6 5M450.9 2179.2l6 5l-6 5M462.5 2179.2l6 5l-6 5M474.1 2179.2l6 5l-6 5M485.7 2179.2l6 5l-6 5M497.3 2179.2l6 5l-6 5M508.9 2179.2l6 5l-6 5M520.5 2179.2l6 5l-6 5M532.1 2179.2l6 5l-6 5M543.7 2179.2l6 5l-6 5M555.3 2179.2l6 5l-6 5M566.9 2179.2l6 5l-6 5M578.5 2179.2l6 5l-6 5M590.1 2179.2l6 5l-6 5M601.7 2179.2l6 5l-6 5M613.3 2179.2l6 5l-6 5M624.9 2179.2l6 5l-6 5M636.5 2179.2l6 5l-6 5M648.1 2179.2l6 5l-6 5M659.7 2179.2l6 5l-6 5M671.3 2179.2l6 5l-6 5M682.9 2179.2l6 5l-6 5M694.5 2179.2l6 5l-6 5M706.1 2179.2l6 5l-6 5M717.7 2179.2l6 5l-6 5M729.3 2179.2l6 5l-6 5M740.9 2179.2l6 5l-6 5M752.5 2179.2l6 5l-6 5M764.1 2179.2l6 5l-6 5M775.7 2179.2l6 5l-6 5M787.3 2179.2l6 5l-6 5M798.9 2179.2l6 5l-6 5M810.5 2179.2l6 5l-6 5M822.1 2179.2l6 5l-6 5M833.7 2179.2l6 5l-6 5M845.3 2179.2l6 5l-6 5M856.9 2179.2l6 5l-6 5M868.5 2179.2l6 5l-6 5M880.1 2179.2l6 5l-6 5M891.7 2179.2l6 5l-6 5M903.3 2179.2l6 5l-6 5M914.9 2179.2l6 5l-6 5M926.5 2179.2l6 5l-6 5M938.1 2179.2l6 5l-6 5M949.7 2179.2l6 5l-6 5M961.3 2179.2l6 5l-6 5M972.9 2179.2l6 5l-6 5M984.5 2179.2l6 5l-6 5M996.1 2179.2l6 5l-6 5M1007.7 2179.2l6 5l-6 5M1019.3 2179.2l6 5l-6 5M1030.9 2179.2l6 5l-6 5M1042.5 2179.2l6 5l-6 5M1054.1 2179.2l6 5l-6 5M1065.7 2179.2l6 5l-6 5M1077.3 2179.2l6 5l-6 5M1088.9 2179.2l6 5l-6 5M1100.5 2179.2l6 5l-6 5M1112.1 2179.2l6 5l-6 5M1123.7 2179.2l6 5l-6 5M1135.3 2179.2l6 5l-6 5M1146.9 2179.2l6 5l-6 5M1158.5 2179.2l6 5l-6 5M1170.1 2179.2l6 5l-6 5M1181.7 2179.2l6 5l-6 5M1193.3 2179.2l6 5l-6 5M1204.9 2179.2l6 5l-6 5M1216.5 2179.2l6 5l-6 5M1228.1 2179.2l6 5l-6 5M1239.7 2179.2l6 5l-6 5M1251.3 2179.2l6 5l-6 5M1262.9 2179.2l6 5l-6 5M1274.5 2179.2l6 5l-6 5M1286.1 2179.2l6 5l-6 5M1297.7 2179.2l6 5l-6 5M1309.3 2179.2l6 5l-6 5M1320.9 2179.2l6 5l-6 5M1332.5 2179.2l6 5l-6 5M1344.1 2179.2l6 5l-6 5M1355.7 2179.2l6 5l-6 5M1367.3 2179.2l6 5l-6 5M1378.9 2179.2l6 5l-6 5M1390.5 2179.2l6 5l-6 5M1402.1 2179.2l6 5l-6 5M1413.7 2179.2l6 5l-6 5M1425.3 2179.2l6 5l-6 5M1436.9 2179.2l6 5l-6 5M1448.5 2179.2l6 5l-6 5M1460.1 2179.2l6 5l-6 5M1471.7 2179.2l6 5l-6 5M1483.3 2179.2l6 5l-6 5M1494.9 2179.2l6 5l-6 5M1506.5 2179.2l6 5l-6 5M1518.1 2179.2l6 5l-6 5M1529.7 2179.2l6 5l-6 5M1541.3 2179.2l6 5l-6 5M1552.9 2179.2l6 5l-6 5M1564.5 2179.2l6 5l-6 5M1576.1 2179.2l6 5l-6 5M1587.7 2179.2l6 5l-6 5M1599.3 2179.2l6 5l-6 5M1610.9 2179.2l6 5l-6 5M1622.5 2179.2l6 5l-6 5M1634.1 2179.2l6 5l-6 5" fill="none" stroke="#272a78" stroke-width="2.2"/>
<line x1="282.3" y1="2207.7" x2="1650" y2="2207.7" stroke="#272a78" stroke-width="2"/>
<path d="M290.3 2202.7l6 5l-6 5M301.9 2202.7l6 5l-6 5M313.5 2202.7l6 5l-6 5M325.1 2202.7l6 5l-6 5M336.7 2202.7l6 5l-6 5M348.3 2202.7l6 5l-6 5M359.9 2202.7l6 5l-6 5M371.5 2202.7l6 5l-6 5M383.1 2202.7l6 5l-6 5M394.7 2202.7l6 5l-6 5M406.3 2202.7l6 5l-6 5M417.9 2202.7l6 5l-6 5M429.5 2202.7l6 5l-6 5M441.1 2202.7l6 5l-6 5M452.7 2202.7l6 5l-6 5M464.3 2202.7l6 5l-6 5M475.9 2202.7l6 5l-6 5M487.5 2202.7l6 5l-6 5M499.1 2202.7l6 5l-6 5M510.7 2202.7l6 5l-6 5M522.3 2202.7l6 5l-6 5M533.9 2202.7l6 5l-6 5M545.5 2202.7l6 5l-6 5M557.1 2202.7l6 5l-6 5M568.7 2202.7l6 5l-6 5M580.3 2202.7l6 5l-6 5M591.9 2202.7l6 5l-6 5M603.5 2202.7l6 5l-6 5M615.1 2202.7l6 5l-6 5M626.7 2202.7l6 5l-6 5M638.3 2202.7l6 5l-6 5M649.9 2202.7l6 5l-6 5M661.5 2202.7l6 5l-6 5M673.1 2202.7l6 5l-6 5M684.7 2202.7l6 5l-6 5M696.3 2202.7l6 5l-6 5M707.9 2202.7l6 5l-6 5M719.5 2202.7l6 5l-6 5M731.1 2202.7l6 5l-6 5M742.7 2202.7l6 5l-6 5M754.3 2202.7l6 5l-6 5M765.9 2202.7l6 5l-6 5M777.5 2202.7l6 5l-6 5M789.1 2202.7l6 5l-6 5M800.7 2202.7l6 5l-6 5M812.3 2202.7l6 5l-6 5M823.9 2202.7l6 5l-6 5M835.5 2202.7l6 5l-6 5M847.1 2202.7l6 5l-6 5M858.7 2202.7l6 5l-6 5M870.3 2202.7l6 5l-6 5M881.9 2202.7l6 5l-6 5M893.5 2202.7l6 5l-6 5M905.1 2202.7l6 5l-6 5M916.7 2202.7l6 5l-6 5M928.3 2202.7l6 5l-6 5M939.9 2202.7l6 5l-6 5M951.5 2202.7l6 5l-6 5M963.1 2202.7l6 5l-6 5M974.7 2202.7l6 5l-6 5M986.3 2202.7l6 5l-6 5M997.9 2202.7l6 5l-6 5M1009.5 2202.7l6 5l-6 5M1021.1 2202.7l6 5l-6 5M1032.7 2202.7l6 5l-6 5M1044.3 2202.7l6 5l-6 5M1055.9 2202.7l6 5l-6 5M1067.5 2202.7l6 5l-6 5M1079.1 2202.7l6 5l-6 5M1090.7 2202.7l6 5l-6 5M1102.3 2202.7l6 5l-6 5M1113.9 2202.7l6 5l-6 5M1125.5 2202.7l6 5l-6 5M1137.1 2202.7l6 5l-6 5M1148.7 2202.7l6 5l-6 5M1160.3 2202.7l6 5l-6 5M1171.9 2202.7l6 5l-6 5M1183.5 2202.7l6 5l-6 5M1195.1 2202.7l6 5l-6 5M1206.7 2202.7l6 5l-6 5M1218.3 2202.7l6 5l-6 5M1229.9 2202.7l6 5l-6 5M1241.5 2202.7l6 5l-6 5M1253.1 2202.7l6 5l-6 5M1264.7 2202.7l6 5l-6 5M1276.3 2202.7l6 5l-6 5M1287.9 2202.7l6 5l-6 5M1299.5 2202.7l6 5l-6 5M1311.1 2202.7l6 5l-6 5M1322.7 2202.7l6 5l-6 5M1334.3 2202.7l6 5l-6 5M1345.9 2202.7l6 5l-6 5M1357.5 2202.7l6 5l-6 5M1369.1 2202.7l6 5l-6 5M1380.7 2202.7l6 5l-6 5M1392.3 2202.7l6 5l-6 5M1403.9 2202.7l6 5l-6 5M1415.5 2202.7l6 5l-6 5M1427.1 2202.7l6 5l-6 5M1438.7 2202.7l6 5l-6 5M1450.3 2202.7l6 5l-6 5M1461.9 2202.7l6 5l-6 5M1473.5 2202.7l6 5l-6 5M1485.1 2202.7l6 5l-6 5M1496.7 2202.7l6 5l-6 5M1508.3 2202.7l6 5l-6 5M1519.9 2202.7l6 5l-6 5M1531.5 2202.7l6 5l-6 5M1543.1 2202.7l6 5l-6 5M1554.7 2202.7l6 5l-6 5M1566.3 2202.7l6 5l-6 5M1577.9 2202.7l6 5l-6 5M1589.5 2202.7l6 5l-6 5M1601.1 2202.7l6 5l-6 5M1612.7 2202.7l6 5l-6 5M1624.3 2202.7l6 5l-6 5M1635.9 2202.7l6 5l-6 5" fill="none" stroke="#272a78" stroke-width="2.2"/>
<line x1="637.7" y1="2231.2" x2="1650" y2="2231.2" stroke="#272a78" stroke-width="2"/>
<path d="M645.7 2226.2l6 5l-6 5M657.3 2226.2l6 5l-6 5M668.9 2226.2l6 5l-6 5M680.5 2226.2l6 5l-6 5M692.1 2226.2l6 5l-6 5M703.7 2226.2l6 5l-6 5M715.3 2226.2l6 5l-6 5M726.9 2226.2l6 5l-6 5M738.5 2226.2l6 5l-6 5M750.1 2226.2l6 5l-6 5M761.7 2226.2l6 5l-6 5M773.3 2226.2l6 5l-6 5M784.9 2226.2l6 5l-6 5M796.5 2226.2l6 5l-6 5M808.1 2226.2l6 5l-6 5M819.7 2226.2l6 5l-6 5M831.3 2226.2l6 5l-6 5M842.9 2226.2l6 5l-6 5M854.5 2226.2l6 5l-6 5M866.1 2226.2l6 5l-6 5M877.7 2226.2l6 5l-6 5M889.3 2226.2l6 5l-6 5M900.9 2226.2l6 5l-6 5M912.5 2226.2l6 5l-6 5M924.1 2226.2l6 5l-6 5M935.7 2226.2l6 5l-6 5M947.3 2226.2l6 5l-6 5M958.9 2226.2l6 5l-6 5M970.5 2226.2l6 5l-6 5M982.1 2226.2l6 5l-6 5M993.7 2226.2l6 5l-6 5M1005.3 2226.2l6 5l-6 5M1016.9 2226.2l6 5l-6 5M1028.5 2226.2l6 5l-6 5M1040.1 2226.2l6 5l-6 5M1051.7 2226.2l6 5l-6 5M1063.3 2226.2l6 5l-6 5M1074.9 2226.2l6 5l-6 5M1086.5 2226.2l6 5l-6 5M1098.1 2226.2l6 5l-6 5M1109.7 2226.2l6 5l-6 5M1121.3 2226.2l6 5l-6 5M1132.9 2226.2l6 5l-6 5M1144.5 2226.2l6 5l-6 5M1156.1 2226.2l6 5l-6 5M1167.7 2226.2l6 5l-6 5M1179.3 2226.2l6 5l-6 5M1190.9 2226.2l6 5l-6 5M1202.5 2226.2l6 5l-6 5M1214.1 2226.2l6 5l-6 5M1225.7 2226.2l6 5l-6 5M1237.3 2226.2l6 5l-6 5M1248.9 2226.2l6 5l-6 5M1260.5 2226.2l6 5l-6 5M1272.1 2226.2l6 5l-6 5M1283.7 2226.2l6 5l-6 5M1295.3 2226.2l6 5l-6 5M1306.9 2226.2l6 5l-6 5M1318.5 2226.2l6 5l-6 5M1330.1 2226.2l6 5l-6 5M1341.7 2226.2l6 5l-6 5M1353.3 2226.2l6 5l-6 5M1364.9 2226.2l6 5l-6 5M1376.5 2226.2l6 5l-6 5M1388.1 2226.2l6 5l-6 5M1399.7 2226.2l6 5l-6 5M1411.3 2226.2l6 5l-6 5M1422.9 2226.2l6 5l-6 5M1434.5 2226.2l6 5l-6 5M1446.1 2226.2l6 5l-6 5M1457.7 2226.2l6 5l-6 5M1469.3 2226.2l6 5l-6 5M1480.9 2226.2l6 5l-6 5M1492.5 2226.2l6 5l-6 5M1504.1 2226.2l6 5l-6 5M1515.7 2226.2l6 5l-6 5M1527.3 2226.2l6 5l-6 5M1538.9 2226.2l6 5l-6 5M1550.5 2226.2l6 5l-6 5M1562.1 2226.2l6 5l-6 5M1573.7 2226.2l6 5l-6 5M1585.3 2226.2l6 5l-6 5M1596.9 2226.2l6 5l-6 5M1608.5 2226.2l6 5l-6 5M1620.1 2226.2l6 5l-6 5M1631.7 2226.2l6 5l-6 5M1643.3 2226.2l6 5l-6 5" fill="none" stroke="#272a78" stroke-width="2.2"/>
<line x1="738.5" y1="2254.3" x2="1650" y2="2254.3" stroke="#272a78" stroke-width="2"/>
<path d="M746.5 2249.3l6 5l-6 5M758.1 2249.3l6 5l-6 5M769.7 2249.3l6 5l-6 5M781.3 2249.3l6 5l-6 5M792.9 2249.3l6 5l-6 5M804.5 2249.3l6 5l-6 5M816.1 2249.3l6 5l-6 5M827.7 2249.3l6 5l-6 5M839.3 2249.3l6 5l-6 5M850.9 2249.3l6 5l-6 5M862.5 2249.3l6 5l-6 5M874.1 2249.3l6 5l-6 5M885.7 2249.3l6 5l-6 5M897.3 2249.3l6 5l-6 5M908.9 2249.3l6 5l-6 5M920.5 2249.3l6 5l-6 5M932.1 2249.3l6 5l-6 5M943.7 2249.3l6 5l-6 5M955.3 2249.3l6 5l-6 5M966.9 2249.3l6 5l-6 5M978.5 2249.3l6 5l-6 5M990.1 2249.3l6 5l-6 5M1001.7 2249.3l6 5l-6 5M1013.3 2249.3l6 5l-6 5M1024.9 2249.3l6 5l-6 5M1036.5 2249.3l6 5l-6 5M1048.1 2249.3l6 5l-6 5M1059.7 2249.3l6 5l-6 5M1071.3 2249.3l6 5l-6 5M1082.9 2249.3l6 5l-6 5M1094.5 2249.3l6 5l-6 5M1106.1 2249.3l6 5l-6 5M1117.7 2249.3l6 5l-6 5M1129.3 2249.3l6 5l-6 5M1140.9 2249.3l6 5l-6 5M1152.5 2249.3l6 5l-6 5M1164.1 2249.3l6 5l-6 5M1175.7 2249.3l6 5l-6 5M1187.3 2249.3l6 5l-6 5M1198.9 2249.3l6 5l-6 5M1210.5 2249.3l6 5l-6 5M1222.1 2249.3l6 5l-6 5M1233.7 2249.3l6 5l-6 5M1245.3 2249.3l6 5l-6 5M1256.9 2249.3l6 5l-6 5M1268.5 2249.3l6 5l-6 5M1280.1 2249.3l6 5l-6 5M1291.7 2249.3l6 5l-6 5M1303.3 2249.3l6 5l-6 5M1314.9 2249.3l6 5l-6 5M1326.5 2249.3l6 5l-6 5M1338.1 2249.3l6 5l-6 5M1349.7 2249.3l6 5l-6 5M1361.3 2249.3l6 5l-6 5M1372.9 2249.3l6 5l-6 5M1384.5 2249.3l6 5l-6 5M1396.1 2249.3l6 5l-6 5M1407.7 2249.3l6 5l-6 5M1419.3 2249.3l6 5l-6 5M1430.9 2249.3l6 5l-6 5M1442.5 2249.3l6 5l-6 5M1454.1 2249.3l6 5l-6 5M1465.7 2249.3l6 5l-6 5M1477.3 2249.3l6 5l-6 5M1488.9 2249.3l6 5l-6 5M1500.5 2249.3l6 5l-6 5M1512.1 2249.3l6 5l-6 5M1523.7 2249.3l6 5l-6 5M1535.3 2249.3l6 5l-6 5M1546.9 2249.3l6 5l-6 5M1558.5 2249.3l6 5l-6 5M1570.1 2249.3l6 5l-6 5M1581.7 2249.3l6 5l-6 5M1593.3 2249.3l6 5l-6 5M1604.9 2249.3l6 5l-6 5M1616.5 2249.3l6 5l-6 5M1628.1 2249.3l6 5l-6 5M1639.7 2249.3l6 5l-6 5" fill="none" stroke="#272a78" stroke-width="2.2"/>
<line x1="738.5" y1="2277.6" x2="1650" y2="2277.6" stroke="#272a78" stroke-width="2"/>
<path d="M746.5 2272.6l6 5l-6 5M758.1 2272.6l6 5l-6 5M769.7 2272.6l6 5l-6 5M781.3 2272.6l6 5l-6 5M792.9 2272.6l6 5l-6 5M804.5 2272.6l6 5l-6 5M816.1 2272.6l6 5l-6 5M827.7 2272.6l6 5l-6 5M839.3 2272.6l6 5l-6 5M850.9 2272.6l6 5l-6 5M862.5 2272.6l6 5l-6 5M874.1 2272.6l6 5l-6 5M885.7 2272.6l6 5l-6 5M897.3 2272.6l6 5l-6 5M908.9 2272.6l6 5l-6 5M920.5 2272.6l6 5l-6 5M932.1 2272.6l6 5l-6 5M943.7 2272.6l6 5l-6 5M955.3 2272.6l6 5l-6 5M966.9 2272.6l6 5l-6 5M978.5 2272.6l6 5l-6 5M990.1 2272.6l6 5l-6 5M1001.7 2272.6l6 5l-6 5M1013.3 2272.6l6 5l-6 5M1024.9 2272.6l6 5l-6 5M1036.5 2272.6l6 5l-6 5M1048.1 2272.6l6 5l-6 5M1059.7 2272.6l6 5l-6 5M1071.3 2272.6l6 5l-6 5M1082.9 2272.6l6 5l-6 5M1094.5 2272.6l6 5l-6 5M1106.1 2272.6l6 5l-6 5M1117.7 2272.6l6 5l-6 5M1129.3 2272.6l6 5l-6 5M1140.9 2272.6l6 5l-6 5M1152.5 2272.6l6 5l-6 5M1164.1 2272.6l6 5l-6 5M1175.7 2272.6l6 5l-6 5M1187.3 2272.6l6 5l-6 5M1198.9 2272.6l6 5l-6 5M1210.5 2272.6l6 5l-6 5M1222.1 2272.6l6 5l-6 5M1233.7 2272.6l6 5l-6 5M1245.3 2272.6l6 5l-6 5M1256.9 2272.6l6 5l-6 5M1268.5 2272.6l6 5l-6 5M1280.1 2272.6l6 5l-6 5M1291.7 2272.6l6 5l-6 5M1303.3 2272.6l6 5l-6 5M1314.9 2272.6l6 5l-6 5M1326.5 2272.6l6 5l-6 5M1338.1 2272.6l6 5l-6 5M1349.7 2272.6l6 5l-6 5M1361.3 2272.6l6 5l-6 5M1372.9 2272.6l6 5l-6 5M1384.5 2272.6l6 5l-6 5M1396.1 2272.6l6 5l-6 5M1407.7 2272.6l6 5l-6 5M1419.3 2272.6l6 5l-6 5M1430.9 2272.6l6 5l-6 5M1442.5 2272.6l6 5l-6 5M1454.1 2272.6l6 5l-6 5M1465.7 2272.6l6 5l-6 5M1477.3 2272.6l6 5l-6 5M1488.9 2272.6l6 5l-6 5M1500.5 2272.6l6 5l-6 5M1512.1 2272.6l6 5l-6 5M1523.7 2272.6l6 5l-6 5M1535.3 2272.6l6 5l-6 5M1546.9 2272.6l6 5l-6 5M1558.5 2272.6l6 5l-6 5M1570.1 2272.6l6 5l-6 5M1581.7 2272.6l6 5l-6 5M1593.3 2272.6l6 5l-6 5M1604.9 2272.6l6 5l-6 5M1616.5 2272.6l6 5l-6 5M1628.1 2272.6l6 5l-6 5M1639.7 2272.6l6 5l-6 5" fill="none" stroke="#272a78" stroke-width="2.2"/>
<path d="M1103.6 2149.8v22M1139.3 2149.8v22M1176.9 2149.8v22M1223.9 2149.8v22M1266 2149.8v22M1276.4 2149.8v22M1297.5 2149.8v22M1333.1 2149.8v22M1362.3 2149.8v22M1440.1 2149.8v22M1448.2 2149.8v22M1454.7 2149.8v22M1503.3 2149.8v22M1514.6 2149.8v22M1565.5 2149.8v22M1594.7 2149.8v22M1618.4 2149.8v22M637.7 2155.8v10M277.7 2154.8v12M1103.6 2173.2v22M1139.3 2173.2v22M1176.9 2173.2v22M1223.9 2173.2v22M1266 2173.2v22M1276.4 2173.2v22M1297.5 2173.2v22M1333.1 2173.2v22M1362.3 2173.2v22M1440.1 2173.2v22M1448.2 2173.2v22M1454.7 2173.2v22M1503.3 2173.2v22M1514.6 2173.2v22M1565.5 2173.2v22M1594.7 2173.2v22M1618.4 2173.2v22M637.7 2179.2v10M280.5 2179.2v10M1103.6 2196.7v22M1139.3 2196.7v22M1176.9 2196.7v22M1223.9 2196.7v22M1266 2196.7v22M1276.4 2196.7v22M1297.5 2196.7v22M1333.1 2196.7v22M1362.3 2196.7v22M1440.1 2196.7v22M1448.2 2196.7v22M1454.7 2196.7v22M1503.3 2196.7v22M1514.6 2196.7v22M1565.5 2196.7v22M1594.7 2196.7v22M1618.4 2196.7v22M637.7 2202.7v10M589.7 2202.7v10M1103.6 2226.2v10M1139.3 2226.2v10M1176.9 2226.2v10M1223.9 2226.2v10M1266 2226.2v10M1276.4 2220.2v22M1297.5 2220.2v22M1333.1 2226.2v10M1362.3 2220.2v22M1440.1 2220.2v22M1448.2 2220.2v22M1454.7 2220.2v22M1503.3 2220.2v22M1514.6 2220.2v22M1565.5 2220.2v22M1594.7 2220.2v22M1618.4 2220.2v22M637.7 2225.2v12M1103.6 2243.3v22M1139.3 2243.3v22M1176.9 2243.3v22M1223.9 2243.3v22M1266 2243.3v22M1276.4 2243.3v22M1297.5 2243.3v22M1333.1 2243.3v22M1362.3 2243.3v22M1440.1 2243.3v22M1448.2 2243.3v22M1454.7 2243.3v22M1503.3 2243.3v22M1514.6 2243.3v22M1565.5 2243.3v22M1594.7 2243.3v22M1618.4 2243.3v22M1103.6 2266.6v22M1139.3 2266.6v22M1176.9 2266.6v22M1223.9 2266.6v22M1266 2266.6v22M1276.4 2266.6v22M1297.5 2266.6v22M1333.1 2266.6v22M1362.3 2266.6v22M1440.1 2266.6v22M1448.2 2266.6v22M1454.7 2266.6v22M1503.3 2266.6v22M1514.6 2266.6v22M1565.5 2266.6v22M1594.7 2266.6v22M1618.4 2266.6v22" stroke="#272a78" stroke-width="2.2" fill="none"/>
<path d="M739 2155.8l5 5l-5 5zM1032 2155.8l5 5l-5 5zM739 2179.2l5 5l-5 5zM1032 2179.2l5 5l-5 5zM739 2202.7l5 5l-5 5zM1032 2202.7l5 5l-5 5zM282.3 2202.2l6 5.5l-6 5.5zM739 2226.2l5 5l-5 5zM1032 2226.2l5 5l-5 5zM739 2249.3l5 5l-5 5zM1032 2249.3l5 5l-5 5zM738.5 2248.8l6 5.5l-6 5.5zM739 2272.6l5 5l-5 5zM1032 2272.6l5 5l-5 5zM738.5 2272.1l6 5.5l-6 5.5z" fill="#272a78" stroke="#272a78" stroke-width="1.5"/>
<path d="M1339.6 2149.8h8v22h-8zM1645 2154.3h10.6v13h-10.6zM1644.2 2149.8h1.8v22h-1.8zM1339.6 2173.2h8v22h-8zM1645 2177.7h10.6v13h-10.6zM1644.2 2173.2h1.8v22h-1.8zM1339.6 2196.7h8v22h-8zM1645 2201.2h10.6v13h-10.6zM1644.2 2196.7h1.8v22h-1.8zM1339.6 2220.2h8v22h-8zM1644.2 2220.2h1.8v22h-1.8zM1339.6 2243.3h8v22h-8zM1645 2247.8h10.6v13h-10.6zM1644.2 2243.3h1.8v22h-1.8zM1339.6 2266.6h8v22h-8zM1645 2271.1h10.6v13h-10.6zM1644.2 2266.6h1.8v22h-1.8z" fill="#272a78"/>
<text x="225" y="2190.8" font-size="24.8" text-anchor="middle" font-style="italic" fill="#272a78">NCOA1</text>
<text x="582" y="2237.5" font-size="24.8" text-anchor="middle" font-style="italic" fill="#272a78">NCOA1</text>
<text x="682" y="2272.5" font-size="24.8" text-anchor="middle" font-style="italic" fill="#272a78">NCOA1</text>
<text x="1112.5" y="2310.5" font-size="24.8" text-anchor="middle" font-style="italic" fill="#2f7a3b">RNU6-936P</text>
<line x1="1190.8" y1="2297" x2="1190.8" y2="2306" stroke="#2f7a3b" stroke-width="1.5"/>
<text x="150" y="2210.6" font-size="28.8" text-anchor="end">GENCODE</text>
<text x="157" y="2245.2" font-size="28.8" text-anchor="end">V41</text>
<text x="1884.7" y="1956.3" font-size="28" text-anchor="middle" font-weight="bold" font-style="italic">NCOA1</text>
<line x1="1749" y1="2283.5" x2="2020" y2="2283.5" stroke="#6e6e6e" stroke-width="1.5"/>
<path d="M1784.4 2283.5 1792.4 2280 1804.4 2276.5 1816.4 2273 1825.4 2269.5 1830.9 2265.4 1833 2259.1 1833.2 2248.6 1832.8 2234.6 1831.8 2220.7 1829.9 2206.7 1827.9 2192.8 1827.2 2182.3 1827.6 2171.8 1829.2 2157.9 1830.6 2143.9 1831.6 2129.9 1832.6 2112.5 1833.4 2095 1833.8 2074.1 1834 2053.2 1834.1 2025.2 1834.7 2025.2 1834.8 2053.2 1835 2074.1 1835.4 2095 1836.2 2112.5 1837.2 2129.9 1838.2 2143.9 1839.6 2157.9 1841.2 2171.8 1841.6 2182.3 1840.9 2192.8 1838.9 2206.7 1837 2220.7 1836 2234.6 1835.6 2248.6 1835.8 2259.1 1837.9 2265.4 1843.4 2269.5 1852.4 2273 1864.4 2276.5 1876.4 2280 1884.4 2283.5Z" fill="#2e2a86" stroke="#333" stroke-width="1.2" stroke-linejoin="round"/>
<path d="M1885.9 2283.5 1895.9 2280 1907.9 2275.1 1917.9 2269.5 1926.9 2262.6 1931.9 2257 1933.7 2252.1 1933.9 2241.6 1933.5 2227.7 1932.7 2213.7 1931.1 2199.7 1928.9 2185.8 1926.6 2171.8 1924.7 2157.9 1924.2 2147.4 1924.9 2136.9 1927.9 2123 1930.7 2109 1932.9 2088.1 1934.3 2067.1 1935.1 2046.2 1935.5 2025.2 1935.6 2004.3 1935.7 1976.4 1936.2 1976.4 1936.2 2004.3 1936.3 2025.2 1936.7 2046.2 1937.5 2067.1 1938.9 2088.1 1941.1 2109 1943.9 2123 1946.9 2136.9 1947.6 2147.4 1947.1 2157.9 1945.2 2171.8 1942.9 2185.8 1940.7 2199.7 1939.1 2213.7 1938.3 2227.7 1937.9 2241.6 1938.1 2252.1 1939.9 2257 1944.9 2262.6 1953.9 2269.5 1963.9 2275.1 1975.9 2280 1985.9 2283.5Z" fill="#f0e622" stroke="#333" stroke-width="1.2" stroke-linejoin="round"/>
<line x1="1751" y1="1965.9" x2="1751" y2="2300.2" stroke="#000" stroke-width="3.6"/>
<line x1="1749.2" y1="2298.5" x2="2022" y2="2298.5" stroke="#000" stroke-width="3.6"/>
<line x1="1886.4" y1="2300" x2="1886.4" y2="2305" stroke="#000" stroke-width="2.5"/>
<line x1="1745" y1="2283.5" x2="1749.5" y2="2283.5" stroke="#000" stroke-width="2.5"/>
<text x="1743.8" y="2292" font-size="24.2" text-anchor="end">0</text>
<line x1="1745" y1="2213.7" x2="1749.5" y2="2213.7" stroke="#000" stroke-width="2.5"/>
<text x="1743.8" y="2222.2" font-size="24.2" text-anchor="end">1</text>
<line x1="1745" y1="2143.9" x2="1749.5" y2="2143.9" stroke="#000" stroke-width="2.5"/>
<text x="1743.8" y="2152.4" font-size="24.2" text-anchor="end">2</text>
<line x1="1745" y1="2074.1" x2="1749.5" y2="2074.1" stroke="#000" stroke-width="2.5"/>
<text x="1743.8" y="2082.6" font-size="24.2" text-anchor="end">3</text>
<line x1="1745" y1="2004.3" x2="1749.5" y2="2004.3" stroke="#000" stroke-width="2.5"/>
<text x="1743.8" y="2012.8" font-size="24.2" text-anchor="end">4</text>
<text x="1885.2" y="2329.5" font-size="30.5" text-anchor="middle">ST</text>
<text transform="translate(1714.5 2136) rotate(-90)" font-size="24.4" text-anchor="middle">Expression Level</text>
<rect x="1993.9" y="2098.2" width="24.5" height="24.9" fill="#2e2a86" stroke="#555" stroke-width="0.8"/>
<rect x="1993.9" y="2125.8" width="24.5" height="24.6" fill="#f0e622" stroke="#555" stroke-width="0.8"/>
<text x="2033.6" y="2117.6" font-size="23">Ctrl</text>
<text x="2033.6" y="2145.4" font-size="23">Cov</text>
</svg></body></html>
